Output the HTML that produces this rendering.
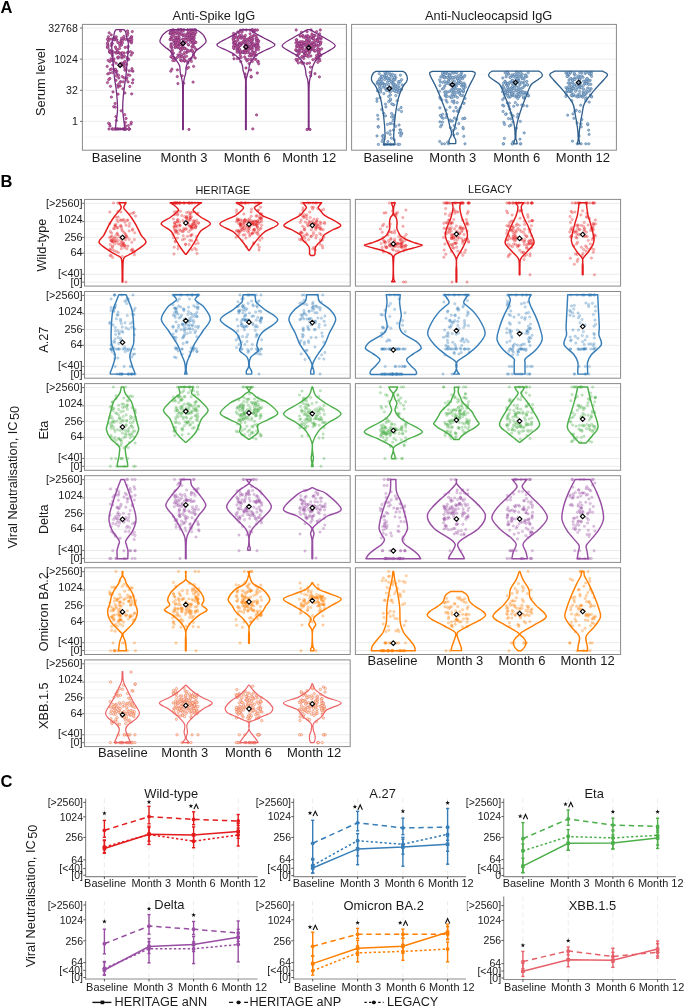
<!DOCTYPE html>
<html><head><meta charset="utf-8"><style>
html,body{margin:0;padding:0;background:#fff;width:685px;height:1008px;overflow:hidden;}
svg{display:block;font-family:"Liberation Sans", sans-serif;will-change:transform;}
</style></head><body>
<svg width="685" height="1008" viewBox="0 0 685 1008" font-family='"Liberation Sans", sans-serif'>
<rect width="685" height="1008" fill="#fff"/>
<text x="0.5" y="13.2" font-size="16.5" text-anchor="start" font-weight="bold" fill="#000" >A</text>
<text x="0.5" y="187" font-size="16.5" text-anchor="start" font-weight="bold" fill="#000" >B</text>
<text x="0.5" y="787.2" font-size="16.5" text-anchor="start" font-weight="bold" fill="#000" >C</text>
<line x1="82.4" y1="43.56" x2="346.4" y2="43.56" stroke="#f4f4f4" stroke-width="0.8" />
<line x1="82.4" y1="74.7" x2="346.4" y2="74.7" stroke="#f4f4f4" stroke-width="0.8" />
<line x1="82.4" y1="105.83" x2="346.4" y2="105.83" stroke="#f4f4f4" stroke-width="0.8" />
<line x1="82.4" y1="136.97" x2="346.4" y2="136.97" stroke="#f4f4f4" stroke-width="0.8" />
<line x1="82.4" y1="28" x2="346.4" y2="28" stroke="#ebebeb" stroke-width="1" />
<line x1="82.4" y1="59.13" x2="346.4" y2="59.13" stroke="#ebebeb" stroke-width="1" />
<line x1="82.4" y1="90.27" x2="346.4" y2="90.27" stroke="#ebebeb" stroke-width="1" />
<line x1="82.4" y1="121.4" x2="346.4" y2="121.4" stroke="#ebebeb" stroke-width="1" />
<text x="172.6" y="20.2" font-size="12.8" text-anchor="start" font-weight="normal" fill="#1a1a1a" >Anti-Spike IgG</text>
<line x1="351.6" y1="43.56" x2="616.4" y2="43.56" stroke="#f4f4f4" stroke-width="0.8" />
<line x1="351.6" y1="74.7" x2="616.4" y2="74.7" stroke="#f4f4f4" stroke-width="0.8" />
<line x1="351.6" y1="105.83" x2="616.4" y2="105.83" stroke="#f4f4f4" stroke-width="0.8" />
<line x1="351.6" y1="136.97" x2="616.4" y2="136.97" stroke="#f4f4f4" stroke-width="0.8" />
<line x1="351.6" y1="28" x2="616.4" y2="28" stroke="#ebebeb" stroke-width="1" />
<line x1="351.6" y1="59.13" x2="616.4" y2="59.13" stroke="#ebebeb" stroke-width="1" />
<line x1="351.6" y1="90.27" x2="616.4" y2="90.27" stroke="#ebebeb" stroke-width="1" />
<line x1="351.6" y1="121.4" x2="616.4" y2="121.4" stroke="#ebebeb" stroke-width="1" />
<text x="425" y="20.2" font-size="12.8" text-anchor="start" font-weight="normal" fill="#1a1a1a" >Anti-Nucleocapsid IgG</text>
<line x1="80.1" y1="28" x2="82.4" y2="28" stroke="#555" stroke-width="0.9" />
<text x="77.8" y="31.8" font-size="10.6" text-anchor="end" font-weight="normal" fill="#1a1a1a" >32768</text>
<line x1="80.1" y1="59.13" x2="82.4" y2="59.13" stroke="#555" stroke-width="0.9" />
<text x="77.8" y="62.93" font-size="10.6" text-anchor="end" font-weight="normal" fill="#1a1a1a" >1024</text>
<line x1="80.1" y1="90.27" x2="82.4" y2="90.27" stroke="#555" stroke-width="0.9" />
<text x="77.8" y="94.06" font-size="10.6" text-anchor="end" font-weight="normal" fill="#1a1a1a" >32</text>
<line x1="80.1" y1="121.4" x2="82.4" y2="121.4" stroke="#555" stroke-width="0.9" />
<text x="77.8" y="125.2" font-size="10.6" text-anchor="end" font-weight="normal" fill="#1a1a1a" >1</text>
<text x="0" y="0" transform="translate(45,82.1) rotate(-90)" font-size="12.85" text-anchor="middle" font-weight="normal" fill="#1a1a1a" >Serum level</text>
<text x="91.73" y="161.6" font-size="13.0" text-anchor="start" font-weight="normal" fill="#1a1a1a" >Baseline</text>
<text x="160.53" y="161.6" font-size="13.0" text-anchor="start" font-weight="normal" fill="#1a1a1a" >Month 3</text>
<text x="223.73" y="161.6" font-size="13.0" text-anchor="start" font-weight="normal" fill="#1a1a1a" >Month 6</text>
<text x="282.13" y="161.6" font-size="13.0" text-anchor="start" font-weight="normal" fill="#1a1a1a" >Month 12</text>
<text x="363.53" y="161.6" font-size="13.0" text-anchor="start" font-weight="normal" fill="#1a1a1a" >Baseline</text>
<text x="429.33" y="161.6" font-size="13.0" text-anchor="start" font-weight="normal" fill="#1a1a1a" >Month 3</text>
<text x="493.33" y="161.6" font-size="13.0" text-anchor="start" font-weight="normal" fill="#1a1a1a" >Month 6</text>
<text x="555.83" y="161.6" font-size="13.0" text-anchor="start" font-weight="normal" fill="#1a1a1a" >Month 12</text>
<g fill="#d66c8e" stroke="#7a2b82" stroke-width="0.7" fill-opacity="1" stroke-opacity="0.95"><circle cx="112.2" cy="129.0" r="1.15"/><circle cx="120.3" cy="129.0" r="1.15"/><circle cx="125.2" cy="129.0" r="1.15"/><circle cx="129.3" cy="129.0" r="1.15"/><circle cx="126.1" cy="129.0" r="1.15"/><circle cx="124.1" cy="129.0" r="1.15"/><circle cx="122.7" cy="129.0" r="1.15"/><circle cx="124.1" cy="129.0" r="1.15"/><circle cx="117.5" cy="129.0" r="1.15"/><circle cx="124.3" cy="129.0" r="1.15"/><circle cx="128.8" cy="129.0" r="1.15"/><circle cx="129.4" cy="129.0" r="1.15"/><circle cx="125.8" cy="129.0" r="1.15"/><circle cx="124.7" cy="129.0" r="1.15"/><circle cx="109.0" cy="129.0" r="1.15"/><circle cx="115.6" cy="129.0" r="1.15"/><circle cx="118.9" cy="129.0" r="1.15"/><circle cx="115.1" cy="129.0" r="1.15"/><circle cx="112.3" cy="129.0" r="1.15"/><circle cx="116.8" cy="129.0" r="1.15"/><circle cx="128.8" cy="129.0" r="1.15"/><circle cx="114.0" cy="129.0" r="1.15"/><circle cx="128.6" cy="59.2" r="1.15"/><circle cx="112.1" cy="50.9" r="1.15"/><circle cx="110.3" cy="69.6" r="1.15"/><circle cx="111.6" cy="60.3" r="1.15"/><circle cx="132.0" cy="68.7" r="1.15"/><circle cx="111.0" cy="58.8" r="1.15"/><circle cx="116.0" cy="80.3" r="1.15"/><circle cx="132.3" cy="31.6" r="1.15"/><circle cx="117.9" cy="42.5" r="1.15"/><circle cx="120.7" cy="81.6" r="1.15"/><circle cx="129.8" cy="86.5" r="1.15"/><circle cx="121.5" cy="45.1" r="1.15"/><circle cx="120.6" cy="43.0" r="1.15"/><circle cx="111.4" cy="97.1" r="1.15"/><circle cx="121.1" cy="40.5" r="1.15"/><circle cx="108.4" cy="41.0" r="1.15"/><circle cx="133.0" cy="79.8" r="1.15"/><circle cx="123.4" cy="63.7" r="1.15"/><circle cx="118.0" cy="52.8" r="1.15"/><circle cx="111.4" cy="69.0" r="1.15"/><circle cx="121.1" cy="41.4" r="1.15"/><circle cx="107.2" cy="66.4" r="1.15"/><circle cx="122.9" cy="64.7" r="1.15"/><circle cx="120.2" cy="85.9" r="1.15"/><circle cx="107.8" cy="47.0" r="1.15"/><circle cx="111.7" cy="53.1" r="1.15"/><circle cx="125.1" cy="47.4" r="1.15"/><circle cx="119.1" cy="52.7" r="1.15"/><circle cx="112.3" cy="43.7" r="1.15"/><circle cx="121.1" cy="53.1" r="1.15"/><circle cx="118.2" cy="85.9" r="1.15"/><circle cx="122.0" cy="55.5" r="1.15"/><circle cx="116.8" cy="74.1" r="1.15"/><circle cx="126.5" cy="79.6" r="1.15"/><circle cx="118.8" cy="78.0" r="1.15"/><circle cx="119.6" cy="48.5" r="1.15"/><circle cx="116.1" cy="48.6" r="1.15"/><circle cx="111.8" cy="43.2" r="1.15"/><circle cx="127.5" cy="35.3" r="1.15"/><circle cx="109.2" cy="32.8" r="1.15"/><circle cx="118.1" cy="87.2" r="1.15"/><circle cx="120.5" cy="31.0" r="1.15"/><circle cx="109.7" cy="52.4" r="1.15"/><circle cx="121.9" cy="40.4" r="1.15"/><circle cx="109.5" cy="49.9" r="1.15"/><circle cx="124.2" cy="66.9" r="1.15"/><circle cx="127.3" cy="58.7" r="1.15"/><circle cx="122.4" cy="40.6" r="1.15"/><circle cx="117.9" cy="84.7" r="1.15"/><circle cx="127.9" cy="33.2" r="1.15"/><circle cx="108.6" cy="38.8" r="1.15"/><circle cx="131.5" cy="36.7" r="1.15"/><circle cx="109.6" cy="51.6" r="1.15"/><circle cx="112.8" cy="64.9" r="1.15"/><circle cx="111.3" cy="45.5" r="1.15"/><circle cx="132.9" cy="71.2" r="1.15"/><circle cx="129.2" cy="41.2" r="1.15"/><circle cx="127.5" cy="31.0" r="1.15"/><circle cx="113.2" cy="38.6" r="1.15"/><circle cx="124.3" cy="55.9" r="1.15"/><circle cx="130.9" cy="37.6" r="1.15"/><circle cx="118.1" cy="58.0" r="1.15"/><circle cx="115.0" cy="37.8" r="1.15"/><circle cx="126.0" cy="69.6" r="1.15"/><circle cx="107.8" cy="44.1" r="1.15"/><circle cx="121.7" cy="57.8" r="1.15"/><circle cx="127.7" cy="47.5" r="1.15"/><circle cx="107.5" cy="47.6" r="1.15"/><circle cx="115.1" cy="39.0" r="1.15"/><circle cx="117.3" cy="50.0" r="1.15"/><circle cx="123.9" cy="77.8" r="1.15"/><circle cx="124.2" cy="65.1" r="1.15"/><circle cx="118.1" cy="94.2" r="1.15"/><circle cx="117.3" cy="52.0" r="1.15"/><circle cx="123.8" cy="36.5" r="1.15"/><circle cx="123.2" cy="81.8" r="1.15"/><circle cx="107.5" cy="82.6" r="1.15"/><circle cx="130.8" cy="41.2" r="1.15"/><circle cx="123.4" cy="57.1" r="1.15"/><circle cx="113.5" cy="52.1" r="1.15"/><circle cx="116.1" cy="72.0" r="1.15"/><circle cx="127.1" cy="57.5" r="1.15"/><circle cx="121.9" cy="56.2" r="1.15"/><circle cx="107.4" cy="39.3" r="1.15"/><circle cx="132.5" cy="82.9" r="1.15"/><circle cx="119.9" cy="45.8" r="1.15"/><circle cx="108.3" cy="36.8" r="1.15"/><circle cx="124.2" cy="38.8" r="1.15"/><circle cx="110.2" cy="52.0" r="1.15"/><circle cx="113.2" cy="60.7" r="1.15"/><circle cx="114.1" cy="39.9" r="1.15"/><circle cx="128.1" cy="46.3" r="1.15"/><circle cx="116.9" cy="39.8" r="1.15"/><circle cx="131.9" cy="70.6" r="1.15"/><circle cx="126.5" cy="64.4" r="1.15"/><circle cx="128.1" cy="81.9" r="1.15"/><circle cx="112.2" cy="53.9" r="1.15"/><circle cx="111.3" cy="53.2" r="1.15"/><circle cx="121.6" cy="63.1" r="1.15"/><circle cx="110.9" cy="39.2" r="1.15"/><circle cx="124.9" cy="93.0" r="1.15"/><circle cx="112.4" cy="55.8" r="1.15"/><circle cx="128.0" cy="74.8" r="1.15"/><circle cx="122.4" cy="42.9" r="1.15"/><circle cx="113.8" cy="61.4" r="1.15"/><circle cx="128.1" cy="39.3" r="1.15"/><circle cx="128.0" cy="59.9" r="1.15"/><circle cx="116.8" cy="71.2" r="1.15"/><circle cx="130.5" cy="51.7" r="1.15"/><circle cx="109.8" cy="61.6" r="1.15"/><circle cx="116.2" cy="63.2" r="1.15"/><circle cx="131.7" cy="93.9" r="1.15"/><circle cx="110.5" cy="86.3" r="1.15"/><circle cx="131.7" cy="37.1" r="1.15"/><circle cx="122.9" cy="88.9" r="1.15"/><circle cx="107.8" cy="45.7" r="1.15"/><circle cx="118.6" cy="75.3" r="1.15"/><circle cx="111.2" cy="34.9" r="1.15"/><circle cx="124.2" cy="53.0" r="1.15"/><circle cx="116.4" cy="40.1" r="1.15"/><circle cx="112.4" cy="72.6" r="1.15"/><circle cx="115.5" cy="37.3" r="1.15"/><circle cx="107.7" cy="46.8" r="1.15"/><circle cx="130.5" cy="38.5" r="1.15"/><circle cx="107.4" cy="43.2" r="1.15"/><circle cx="115.7" cy="71.2" r="1.15"/><circle cx="117.7" cy="57.3" r="1.15"/><circle cx="131.4" cy="42.9" r="1.15"/><circle cx="124.2" cy="62.3" r="1.15"/><circle cx="108.2" cy="60.4" r="1.15"/><circle cx="131.6" cy="41.6" r="1.15"/><circle cx="115.4" cy="69.7" r="1.15"/><circle cx="114.0" cy="58.9" r="1.15"/><circle cx="127.5" cy="52.6" r="1.15"/><circle cx="114.1" cy="70.1" r="1.15"/><circle cx="116.1" cy="52.4" r="1.15"/><circle cx="109.8" cy="78.5" r="1.15"/><circle cx="124.9" cy="70.2" r="1.15"/><circle cx="115.4" cy="47.0" r="1.15"/><circle cx="116.3" cy="36.8" r="1.15"/><circle cx="126.9" cy="77.8" r="1.15"/><circle cx="122.3" cy="76.6" r="1.15"/><circle cx="107.8" cy="73.9" r="1.15"/><circle cx="129.7" cy="75.3" r="1.15"/><circle cx="128.2" cy="52.2" r="1.15"/><circle cx="113.0" cy="91.9" r="1.15"/><circle cx="129.2" cy="70.8" r="1.15"/><circle cx="131.8" cy="39.5" r="1.15"/><circle cx="109.7" cy="73.0" r="1.15"/><circle cx="125.6" cy="39.4" r="1.15"/><circle cx="132.5" cy="53.0" r="1.15"/><circle cx="116.2" cy="53.2" r="1.15"/><circle cx="118.7" cy="57.0" r="1.15"/><circle cx="121.6" cy="38.2" r="1.15"/><circle cx="120.3" cy="53.8" r="1.15"/><circle cx="119.8" cy="82.6" r="1.15"/><circle cx="116.6" cy="76.1" r="1.15"/><circle cx="108.7" cy="79.6" r="1.15"/><circle cx="124.8" cy="61.4" r="1.15"/><circle cx="115.4" cy="69.4" r="1.15"/><circle cx="122.4" cy="52.7" r="1.15"/><circle cx="125.2" cy="68.8" r="1.15"/><circle cx="130.1" cy="39.6" r="1.15"/><circle cx="119.3" cy="43.6" r="1.15"/><circle cx="131.1" cy="55.1" r="1.15"/><circle cx="126.1" cy="118.5" r="1.15"/><circle cx="128.4" cy="125.6" r="1.15"/><circle cx="131.0" cy="124.0" r="1.15"/><circle cx="121.2" cy="110.8" r="1.15"/><circle cx="115.9" cy="116.7" r="1.15"/><circle cx="115.2" cy="107.1" r="1.15"/><circle cx="113.7" cy="106.7" r="1.15"/><circle cx="125.3" cy="122.4" r="1.15"/><circle cx="125.6" cy="125.8" r="1.15"/><circle cx="115.1" cy="103.5" r="1.15"/><circle cx="109.5" cy="123.9" r="1.15"/><circle cx="116.4" cy="120.5" r="1.15"/><circle cx="110.0" cy="126.0" r="1.15"/><circle cx="124.7" cy="114.7" r="1.15"/><circle cx="131.3" cy="122.3" r="1.15"/><circle cx="108.6" cy="123.3" r="1.15"/></g>
<path d="M116.2,29.7 L124,29.7 C124.27,30.08 125.15,30.7 125.6,32 C126.05,33.3 126.22,35.3 126.7,37.5 C127.18,39.7 128.42,41.33 128.5,45.2 C128.58,49.07 127.63,55.55 127.2,60.7 C126.77,65.85 126.5,70.73 125.9,76.1 C125.3,81.47 124.13,87.3 123.6,92.9 C123.07,98.5 122.58,104.55 122.7,109.7 C122.82,114.85 123.98,120.58 124.3,123.8 C124.62,127.02 124.55,128.13 124.6,129 L115.6,129 C115.65,128.13 115.58,127.02 115.9,123.8 C116.22,120.58 117.38,114.85 117.5,109.7 C117.62,104.55 117.13,98.5 116.6,92.9 C116.07,87.3 114.9,81.47 114.3,76.1 C113.7,70.73 113.43,65.85 113,60.7 C112.57,55.55 111.62,49.07 111.7,45.2 C111.78,41.33 113.02,39.7 113.5,37.5 C113.98,35.3 114.15,33.3 114.6,32 C115.05,30.7 115.93,30.08 116.2,29.7 Z" fill="none" stroke="#7b2d80" stroke-width="1.3" stroke-linejoin="round"/>
<path d="M120.1,62.9 L122.4,65.2 L120.1,67.5 L117.8,65.2 Z" fill="#b06aa8" stroke="#000" stroke-width="1.15"/>
<g fill="#d66c8e" stroke="#7a2b82" stroke-width="0.7" fill-opacity="1" stroke-opacity="0.95"><circle cx="193.0" cy="30.0" r="1.15"/><circle cx="180.4" cy="30.0" r="1.15"/><circle cx="180.1" cy="30.0" r="1.15"/><circle cx="195.5" cy="30.0" r="1.15"/><circle cx="178.2" cy="30.0" r="1.15"/><circle cx="173.5" cy="30.0" r="1.15"/><circle cx="192.2" cy="30.0" r="1.15"/><circle cx="187.9" cy="30.0" r="1.15"/><circle cx="178.3" cy="30.0" r="1.15"/><circle cx="191.0" cy="30.0" r="1.15"/><circle cx="187.6" cy="30.0" r="1.15"/><circle cx="181.8" cy="30.0" r="1.15"/><circle cx="183.8" cy="30.0" r="1.15"/><circle cx="194.7" cy="30.0" r="1.15"/><circle cx="184.0" cy="30.0" r="1.15"/><circle cx="172.7" cy="30.0" r="1.15"/><circle cx="181.4" cy="30.0" r="1.15"/><circle cx="177.9" cy="30.0" r="1.15"/><circle cx="194.9" cy="30.0" r="1.15"/><circle cx="181.4" cy="30.0" r="1.15"/><circle cx="180.4" cy="30.0" r="1.15"/><circle cx="189.9" cy="30.0" r="1.15"/><circle cx="181.0" cy="60.0" r="1.15"/><circle cx="171.8" cy="31.4" r="1.15"/><circle cx="180.3" cy="48.5" r="1.15"/><circle cx="179.7" cy="39.7" r="1.15"/><circle cx="179.0" cy="44.5" r="1.15"/><circle cx="188.0" cy="33.1" r="1.15"/><circle cx="170.5" cy="31.1" r="1.15"/><circle cx="183.9" cy="57.8" r="1.15"/><circle cx="190.6" cy="33.8" r="1.15"/><circle cx="191.0" cy="58.7" r="1.15"/><circle cx="177.0" cy="33.7" r="1.15"/><circle cx="180.0" cy="52.3" r="1.15"/><circle cx="191.8" cy="46.6" r="1.15"/><circle cx="171.4" cy="57.2" r="1.15"/><circle cx="189.4" cy="33.9" r="1.15"/><circle cx="170.0" cy="33.6" r="1.15"/><circle cx="186.8" cy="52.3" r="1.15"/><circle cx="179.9" cy="33.3" r="1.15"/><circle cx="191.3" cy="39.1" r="1.15"/><circle cx="193.9" cy="37.4" r="1.15"/><circle cx="178.1" cy="44.1" r="1.15"/><circle cx="190.9" cy="38.6" r="1.15"/><circle cx="193.9" cy="38.9" r="1.15"/><circle cx="177.2" cy="57.4" r="1.15"/><circle cx="191.1" cy="39.4" r="1.15"/><circle cx="172.3" cy="50.9" r="1.15"/><circle cx="170.5" cy="39.0" r="1.15"/><circle cx="177.5" cy="47.5" r="1.15"/><circle cx="174.4" cy="41.4" r="1.15"/><circle cx="189.6" cy="35.9" r="1.15"/><circle cx="185.2" cy="42.2" r="1.15"/><circle cx="179.3" cy="44.7" r="1.15"/><circle cx="192.7" cy="31.8" r="1.15"/><circle cx="177.9" cy="46.0" r="1.15"/><circle cx="189.1" cy="37.0" r="1.15"/><circle cx="173.3" cy="40.2" r="1.15"/><circle cx="192.8" cy="47.0" r="1.15"/><circle cx="172.1" cy="49.6" r="1.15"/><circle cx="178.0" cy="40.2" r="1.15"/><circle cx="182.3" cy="45.3" r="1.15"/><circle cx="187.5" cy="35.0" r="1.15"/><circle cx="171.4" cy="43.6" r="1.15"/><circle cx="180.7" cy="60.4" r="1.15"/><circle cx="171.1" cy="44.6" r="1.15"/><circle cx="186.6" cy="56.3" r="1.15"/><circle cx="191.8" cy="40.7" r="1.15"/><circle cx="176.9" cy="37.3" r="1.15"/><circle cx="187.4" cy="49.9" r="1.15"/><circle cx="187.2" cy="34.0" r="1.15"/><circle cx="189.3" cy="59.4" r="1.15"/><circle cx="186.9" cy="61.3" r="1.15"/><circle cx="184.5" cy="61.2" r="1.15"/><circle cx="175.5" cy="58.8" r="1.15"/><circle cx="188.7" cy="39.9" r="1.15"/><circle cx="184.4" cy="35.5" r="1.15"/><circle cx="184.3" cy="54.3" r="1.15"/><circle cx="174.5" cy="31.7" r="1.15"/><circle cx="176.6" cy="39.5" r="1.15"/><circle cx="183.0" cy="39.1" r="1.15"/><circle cx="174.5" cy="60.6" r="1.15"/><circle cx="187.5" cy="35.6" r="1.15"/><circle cx="175.0" cy="47.5" r="1.15"/><circle cx="181.5" cy="50.0" r="1.15"/><circle cx="182.5" cy="31.4" r="1.15"/><circle cx="174.9" cy="33.5" r="1.15"/><circle cx="187.1" cy="52.2" r="1.15"/><circle cx="187.3" cy="39.1" r="1.15"/><circle cx="171.0" cy="56.6" r="1.15"/><circle cx="185.3" cy="48.5" r="1.15"/><circle cx="178.2" cy="46.4" r="1.15"/><circle cx="171.2" cy="36.8" r="1.15"/><circle cx="195.2" cy="58.0" r="1.15"/><circle cx="172.6" cy="32.5" r="1.15"/><circle cx="175.7" cy="46.9" r="1.15"/><circle cx="180.2" cy="42.3" r="1.15"/><circle cx="182.8" cy="35.3" r="1.15"/><circle cx="194.8" cy="42.0" r="1.15"/><circle cx="174.2" cy="42.2" r="1.15"/><circle cx="173.8" cy="57.7" r="1.15"/><circle cx="184.6" cy="60.6" r="1.15"/><circle cx="179.7" cy="43.8" r="1.15"/><circle cx="172.8" cy="57.6" r="1.15"/><circle cx="180.7" cy="44.4" r="1.15"/><circle cx="192.2" cy="39.6" r="1.15"/><circle cx="189.3" cy="51.1" r="1.15"/><circle cx="194.1" cy="42.9" r="1.15"/><circle cx="187.7" cy="37.6" r="1.15"/><circle cx="181.7" cy="60.9" r="1.15"/><circle cx="184.3" cy="47.9" r="1.15"/><circle cx="195.4" cy="42.5" r="1.15"/><circle cx="175.3" cy="44.1" r="1.15"/><circle cx="175.8" cy="38.2" r="1.15"/><circle cx="193.1" cy="44.1" r="1.15"/><circle cx="191.4" cy="61.4" r="1.15"/><circle cx="175.6" cy="42.1" r="1.15"/><circle cx="178.0" cy="54.9" r="1.15"/><circle cx="195.9" cy="42.3" r="1.15"/><circle cx="177.0" cy="40.9" r="1.15"/><circle cx="178.7" cy="37.0" r="1.15"/><circle cx="191.0" cy="32.3" r="1.15"/><circle cx="177.3" cy="42.6" r="1.15"/><circle cx="175.2" cy="44.3" r="1.15"/><circle cx="194.4" cy="47.2" r="1.15"/><circle cx="192.9" cy="33.6" r="1.15"/><circle cx="180.0" cy="55.5" r="1.15"/><circle cx="194.7" cy="35.3" r="1.15"/><circle cx="174.6" cy="36.7" r="1.15"/><circle cx="174.8" cy="45.1" r="1.15"/><circle cx="170.1" cy="39.7" r="1.15"/><circle cx="175.7" cy="42.4" r="1.15"/><circle cx="183.4" cy="44.4" r="1.15"/><circle cx="178.6" cy="37.6" r="1.15"/><circle cx="188.6" cy="45.0" r="1.15"/><circle cx="183.0" cy="35.6" r="1.15"/><circle cx="178.8" cy="33.1" r="1.15"/><circle cx="175.3" cy="31.3" r="1.15"/><circle cx="184.4" cy="34.3" r="1.15"/><circle cx="192.8" cy="43.1" r="1.15"/><circle cx="193.2" cy="42.3" r="1.15"/><circle cx="182.6" cy="39.3" r="1.15"/><circle cx="190.5" cy="42.2" r="1.15"/><circle cx="188.3" cy="39.8" r="1.15"/><circle cx="176.4" cy="39.5" r="1.15"/><circle cx="171.8" cy="47.2" r="1.15"/><circle cx="177.8" cy="39.2" r="1.15"/><circle cx="194.2" cy="41.2" r="1.15"/><circle cx="193.5" cy="54.7" r="1.15"/><circle cx="182.2" cy="45.9" r="1.15"/><circle cx="195.0" cy="33.6" r="1.15"/><circle cx="176.0" cy="44.7" r="1.15"/><circle cx="185.4" cy="38.7" r="1.15"/><circle cx="171.9" cy="33.3" r="1.15"/><circle cx="186.4" cy="41.9" r="1.15"/><circle cx="189.1" cy="34.8" r="1.15"/><circle cx="181.9" cy="56.7" r="1.15"/><circle cx="182.0" cy="47.9" r="1.15"/><circle cx="171.0" cy="45.9" r="1.15"/><circle cx="192.5" cy="35.6" r="1.15"/><circle cx="176.1" cy="37.4" r="1.15"/><circle cx="173.1" cy="34.6" r="1.15"/><circle cx="175.9" cy="44.2" r="1.15"/><circle cx="182.4" cy="48.8" r="1.15"/><circle cx="193.5" cy="56.4" r="1.15"/><circle cx="170.5" cy="33.4" r="1.15"/><circle cx="184.3" cy="57.5" r="1.15"/><circle cx="195.9" cy="32.4" r="1.15"/><circle cx="173.9" cy="40.4" r="1.15"/><circle cx="177.0" cy="32.1" r="1.15"/><circle cx="173.5" cy="53.2" r="1.15"/><circle cx="176.2" cy="40.8" r="1.15"/><circle cx="179.5" cy="34.9" r="1.15"/><circle cx="170.8" cy="32.9" r="1.15"/><circle cx="171.0" cy="47.1" r="1.15"/><circle cx="188.5" cy="31.7" r="1.15"/><circle cx="172.2" cy="36.6" r="1.15"/><circle cx="174.9" cy="45.4" r="1.15"/><circle cx="172.0" cy="39.3" r="1.15"/><circle cx="192.6" cy="39.5" r="1.15"/><circle cx="178.6" cy="40.0" r="1.15"/><circle cx="191.8" cy="37.0" r="1.15"/><circle cx="184.4" cy="48.7" r="1.15"/><circle cx="179.0" cy="37.6" r="1.15"/><circle cx="193.9" cy="38.1" r="1.15"/><circle cx="179.5" cy="47.9" r="1.15"/><circle cx="192.5" cy="40.2" r="1.15"/><circle cx="193.1" cy="46.0" r="1.15"/><circle cx="191.4" cy="49.8" r="1.15"/><circle cx="176.7" cy="44.8" r="1.15"/><circle cx="177.5" cy="37.1" r="1.15"/><circle cx="181.3" cy="34.0" r="1.15"/><circle cx="184.1" cy="60.4" r="1.15"/><circle cx="188.1" cy="44.6" r="1.15"/><circle cx="192.1" cy="40.4" r="1.15"/><circle cx="181.8" cy="54.6" r="1.15"/><circle cx="178.2" cy="40.9" r="1.15"/><circle cx="193.6" cy="52.7" r="1.15"/><circle cx="191.3" cy="51.1" r="1.15"/><circle cx="172.3" cy="54.0" r="1.15"/><circle cx="192.6" cy="50.8" r="1.15"/><circle cx="191.9" cy="35.6" r="1.15"/><circle cx="186.0" cy="37.4" r="1.15"/><circle cx="183.8" cy="39.8" r="1.15"/><circle cx="177.4" cy="43.2" r="1.15"/><circle cx="192.9" cy="34.1" r="1.15"/><circle cx="180.4" cy="49.3" r="1.15"/><circle cx="195.8" cy="49.1" r="1.15"/><circle cx="193.2" cy="35.6" r="1.15"/><circle cx="184.6" cy="52.3" r="1.15"/><circle cx="171.0" cy="32.9" r="1.15"/><circle cx="179.7" cy="57.2" r="1.15"/><circle cx="171.9" cy="69.2" r="1.15"/><circle cx="184.8" cy="60.3" r="1.15"/><circle cx="177.4" cy="69.9" r="1.15"/><circle cx="188.6" cy="67.4" r="1.15"/><circle cx="172.8" cy="60.6" r="1.15"/><circle cx="170.8" cy="71.2" r="1.15"/><circle cx="187.9" cy="63.0" r="1.15"/><circle cx="193.1" cy="82.1" r="1.15"/><circle cx="187.1" cy="68.4" r="1.15"/><circle cx="193.6" cy="66.4" r="1.15"/><circle cx="177.3" cy="76.6" r="1.15"/><circle cx="177.9" cy="83.6" r="1.15"/><circle cx="182.1" cy="75.8" r="1.15"/><circle cx="183.7" cy="83.3" r="1.15"/><circle cx="189.0" cy="129.5" r="1.15"/></g>
<path d="M170.5,29.6 L195.5,29.6 C196.25,30 198.58,30.93 200,32 C201.42,33.07 203,34.35 204,36 C205,37.65 206.5,40.07 206,41.9 C205.5,43.73 202.7,45.48 201,47 C199.3,48.52 197.43,49.13 195.8,51 C194.17,52.87 192.75,55.78 191.2,58.2 C189.65,60.62 187.42,63.07 186.5,65.5 C185.58,67.93 186.12,70.38 185.7,72.8 C185.28,75.22 184.39,77.47 184,80 C183.61,82.53 183.46,79.75 183.35,88 C183.24,96.25 183.35,122.58 183.35,129.5 L182.65,129.5 C182.65,122.58 182.76,96.25 182.65,88 C182.54,79.75 182.39,82.53 182,80 C181.61,77.47 180.72,75.22 180.3,72.8 C179.88,70.38 180.42,67.93 179.5,65.5 C178.58,63.07 176.35,60.62 174.8,58.2 C173.25,55.78 171.83,52.87 170.2,51 C168.57,49.13 166.7,48.52 165,47 C163.3,45.48 160.5,43.73 160,41.9 C159.5,40.07 161,37.65 162,36 C163,34.35 164.58,33.07 166,32 C167.42,30.93 169.75,30 170.5,29.6 Z" fill="none" stroke="#7b2d80" stroke-width="1.3" stroke-linejoin="round"/>
<path d="M183,41.1 L185.3,43.4 L183,45.7 L180.7,43.4 Z" fill="#b06aa8" stroke="#000" stroke-width="1.15"/>
<g fill="#d66c8e" stroke="#7a2b82" stroke-width="0.7" fill-opacity="1" stroke-opacity="0.95"><circle cx="255.1" cy="30.0" r="1.15"/><circle cx="252.0" cy="30.0" r="1.15"/><circle cx="257.4" cy="30.0" r="1.15"/><circle cx="243.2" cy="30.0" r="1.15"/><circle cx="252.5" cy="30.0" r="1.15"/><circle cx="252.8" cy="30.0" r="1.15"/><circle cx="252.3" cy="30.0" r="1.15"/><circle cx="246.3" cy="30.0" r="1.15"/><circle cx="250.6" cy="54.5" r="1.15"/><circle cx="234.8" cy="42.8" r="1.15"/><circle cx="235.7" cy="44.9" r="1.15"/><circle cx="244.5" cy="41.3" r="1.15"/><circle cx="255.0" cy="31.1" r="1.15"/><circle cx="233.4" cy="55.0" r="1.15"/><circle cx="239.2" cy="58.2" r="1.15"/><circle cx="256.8" cy="44.0" r="1.15"/><circle cx="240.4" cy="45.2" r="1.15"/><circle cx="257.9" cy="44.4" r="1.15"/><circle cx="238.1" cy="45.8" r="1.15"/><circle cx="251.1" cy="56.0" r="1.15"/><circle cx="252.2" cy="40.5" r="1.15"/><circle cx="257.1" cy="39.4" r="1.15"/><circle cx="245.0" cy="53.0" r="1.15"/><circle cx="246.4" cy="46.9" r="1.15"/><circle cx="254.8" cy="45.5" r="1.15"/><circle cx="235.2" cy="46.1" r="1.15"/><circle cx="258.5" cy="49.6" r="1.15"/><circle cx="250.0" cy="37.5" r="1.15"/><circle cx="235.2" cy="34.3" r="1.15"/><circle cx="250.1" cy="33.8" r="1.15"/><circle cx="237.8" cy="31.9" r="1.15"/><circle cx="252.3" cy="54.9" r="1.15"/><circle cx="239.5" cy="35.6" r="1.15"/><circle cx="256.5" cy="40.3" r="1.15"/><circle cx="253.2" cy="36.0" r="1.15"/><circle cx="257.7" cy="45.8" r="1.15"/><circle cx="243.2" cy="52.3" r="1.15"/><circle cx="246.1" cy="46.1" r="1.15"/><circle cx="239.2" cy="43.9" r="1.15"/><circle cx="247.5" cy="47.8" r="1.15"/><circle cx="233.9" cy="36.3" r="1.15"/><circle cx="242.1" cy="43.5" r="1.15"/><circle cx="245.1" cy="51.4" r="1.15"/><circle cx="244.1" cy="36.9" r="1.15"/><circle cx="238.8" cy="50.4" r="1.15"/><circle cx="238.4" cy="48.3" r="1.15"/><circle cx="245.6" cy="41.0" r="1.15"/><circle cx="236.8" cy="46.4" r="1.15"/><circle cx="240.7" cy="61.6" r="1.15"/><circle cx="233.4" cy="36.8" r="1.15"/><circle cx="244.0" cy="37.7" r="1.15"/><circle cx="255.9" cy="45.8" r="1.15"/><circle cx="256.5" cy="48.7" r="1.15"/><circle cx="245.3" cy="44.2" r="1.15"/><circle cx="252.3" cy="51.2" r="1.15"/><circle cx="251.0" cy="42.0" r="1.15"/><circle cx="258.2" cy="61.4" r="1.15"/><circle cx="248.2" cy="38.8" r="1.15"/><circle cx="243.6" cy="52.2" r="1.15"/><circle cx="252.5" cy="48.6" r="1.15"/><circle cx="244.6" cy="42.6" r="1.15"/><circle cx="248.8" cy="40.2" r="1.15"/><circle cx="239.4" cy="43.0" r="1.15"/><circle cx="253.5" cy="45.6" r="1.15"/><circle cx="249.3" cy="39.8" r="1.15"/><circle cx="253.4" cy="32.0" r="1.15"/><circle cx="234.3" cy="38.4" r="1.15"/><circle cx="234.0" cy="48.6" r="1.15"/><circle cx="233.7" cy="46.5" r="1.15"/><circle cx="248.7" cy="46.2" r="1.15"/><circle cx="239.3" cy="52.4" r="1.15"/><circle cx="243.5" cy="41.6" r="1.15"/><circle cx="255.9" cy="47.0" r="1.15"/><circle cx="243.2" cy="41.8" r="1.15"/><circle cx="252.2" cy="44.4" r="1.15"/><circle cx="241.9" cy="32.2" r="1.15"/><circle cx="257.5" cy="40.2" r="1.15"/><circle cx="244.1" cy="39.6" r="1.15"/><circle cx="246.6" cy="40.7" r="1.15"/><circle cx="252.2" cy="44.1" r="1.15"/><circle cx="240.5" cy="53.1" r="1.15"/><circle cx="240.3" cy="52.1" r="1.15"/><circle cx="233.6" cy="42.4" r="1.15"/><circle cx="233.0" cy="38.8" r="1.15"/><circle cx="239.3" cy="44.9" r="1.15"/><circle cx="249.3" cy="52.8" r="1.15"/><circle cx="240.2" cy="55.3" r="1.15"/><circle cx="257.7" cy="61.8" r="1.15"/><circle cx="240.3" cy="44.4" r="1.15"/><circle cx="237.1" cy="45.1" r="1.15"/><circle cx="237.4" cy="58.6" r="1.15"/><circle cx="241.0" cy="37.2" r="1.15"/><circle cx="240.7" cy="45.1" r="1.15"/><circle cx="250.0" cy="30.2" r="1.15"/><circle cx="233.6" cy="47.8" r="1.15"/><circle cx="251.1" cy="54.3" r="1.15"/><circle cx="235.4" cy="43.0" r="1.15"/><circle cx="257.3" cy="41.2" r="1.15"/><circle cx="237.1" cy="49.7" r="1.15"/><circle cx="234.5" cy="41.6" r="1.15"/><circle cx="244.4" cy="50.7" r="1.15"/><circle cx="251.9" cy="46.9" r="1.15"/><circle cx="252.1" cy="42.1" r="1.15"/><circle cx="249.7" cy="49.1" r="1.15"/><circle cx="244.7" cy="56.9" r="1.15"/><circle cx="239.1" cy="32.7" r="1.15"/><circle cx="245.8" cy="58.9" r="1.15"/><circle cx="234.0" cy="58.8" r="1.15"/><circle cx="233.8" cy="43.6" r="1.15"/><circle cx="249.7" cy="42.6" r="1.15"/><circle cx="247.3" cy="51.0" r="1.15"/><circle cx="258.8" cy="47.2" r="1.15"/><circle cx="235.2" cy="34.3" r="1.15"/><circle cx="255.9" cy="46.4" r="1.15"/><circle cx="250.2" cy="47.0" r="1.15"/><circle cx="234.5" cy="43.0" r="1.15"/><circle cx="238.5" cy="47.6" r="1.15"/><circle cx="256.3" cy="35.8" r="1.15"/><circle cx="257.0" cy="40.5" r="1.15"/><circle cx="251.7" cy="38.5" r="1.15"/><circle cx="241.2" cy="57.4" r="1.15"/><circle cx="247.5" cy="52.6" r="1.15"/><circle cx="241.5" cy="35.2" r="1.15"/><circle cx="254.7" cy="55.0" r="1.15"/><circle cx="252.9" cy="52.5" r="1.15"/><circle cx="256.3" cy="55.2" r="1.15"/><circle cx="258.7" cy="40.9" r="1.15"/><circle cx="253.2" cy="31.4" r="1.15"/><circle cx="240.9" cy="43.0" r="1.15"/><circle cx="252.8" cy="44.3" r="1.15"/><circle cx="241.1" cy="38.3" r="1.15"/><circle cx="237.1" cy="49.1" r="1.15"/><circle cx="242.9" cy="51.9" r="1.15"/><circle cx="256.2" cy="38.0" r="1.15"/><circle cx="247.0" cy="44.9" r="1.15"/><circle cx="242.0" cy="43.0" r="1.15"/><circle cx="237.2" cy="50.8" r="1.15"/><circle cx="235.0" cy="45.3" r="1.15"/><circle cx="253.8" cy="43.8" r="1.15"/><circle cx="249.0" cy="49.3" r="1.15"/><circle cx="234.9" cy="37.2" r="1.15"/><circle cx="246.9" cy="60.9" r="1.15"/><circle cx="257.0" cy="38.6" r="1.15"/><circle cx="243.4" cy="37.4" r="1.15"/><circle cx="254.7" cy="52.8" r="1.15"/><circle cx="237.3" cy="37.5" r="1.15"/><circle cx="251.5" cy="48.5" r="1.15"/><circle cx="254.2" cy="35.1" r="1.15"/><circle cx="245.4" cy="35.5" r="1.15"/><circle cx="245.5" cy="50.7" r="1.15"/><circle cx="239.7" cy="45.2" r="1.15"/><circle cx="258.2" cy="42.3" r="1.15"/><circle cx="239.0" cy="49.0" r="1.15"/><circle cx="250.8" cy="59.5" r="1.15"/><circle cx="239.1" cy="37.0" r="1.15"/><circle cx="256.4" cy="45.2" r="1.15"/><circle cx="238.3" cy="38.2" r="1.15"/><circle cx="251.2" cy="38.7" r="1.15"/><circle cx="249.3" cy="55.9" r="1.15"/><circle cx="256.9" cy="46.0" r="1.15"/><circle cx="237.8" cy="46.4" r="1.15"/><circle cx="233.5" cy="33.5" r="1.15"/><circle cx="236.5" cy="41.3" r="1.15"/><circle cx="246.0" cy="39.2" r="1.15"/><circle cx="247.9" cy="45.9" r="1.15"/><circle cx="251.5" cy="47.3" r="1.15"/><circle cx="253.1" cy="38.9" r="1.15"/><circle cx="251.0" cy="36.7" r="1.15"/><circle cx="256.7" cy="42.3" r="1.15"/><circle cx="248.2" cy="47.9" r="1.15"/><circle cx="253.2" cy="55.2" r="1.15"/><circle cx="245.4" cy="46.5" r="1.15"/><circle cx="233.6" cy="40.2" r="1.15"/><circle cx="235.1" cy="42.4" r="1.15"/><circle cx="243.9" cy="37.6" r="1.15"/><circle cx="240.3" cy="30.3" r="1.15"/><circle cx="248.3" cy="59.5" r="1.15"/><circle cx="255.9" cy="59.3" r="1.15"/><circle cx="245.1" cy="46.2" r="1.15"/><circle cx="242.6" cy="52.0" r="1.15"/><circle cx="249.9" cy="45.8" r="1.15"/><circle cx="250.7" cy="47.1" r="1.15"/><circle cx="247.3" cy="43.1" r="1.15"/><circle cx="246.0" cy="49.0" r="1.15"/><circle cx="236.8" cy="47.0" r="1.15"/><circle cx="237.9" cy="40.0" r="1.15"/><circle cx="237.1" cy="52.2" r="1.15"/><circle cx="240.7" cy="51.0" r="1.15"/><circle cx="251.3" cy="46.1" r="1.15"/><circle cx="235.6" cy="35.7" r="1.15"/><circle cx="239.4" cy="49.1" r="1.15"/><circle cx="248.6" cy="46.4" r="1.15"/><circle cx="234.0" cy="45.2" r="1.15"/><circle cx="245.2" cy="52.8" r="1.15"/><circle cx="251.0" cy="41.0" r="1.15"/><circle cx="255.2" cy="52.3" r="1.15"/><circle cx="256.1" cy="50.0" r="1.15"/><circle cx="254.4" cy="59.2" r="1.15"/><circle cx="258.7" cy="63.8" r="1.15"/><circle cx="250.6" cy="70.0" r="1.15"/><circle cx="245.5" cy="76.9" r="1.15"/><circle cx="257.3" cy="73.0" r="1.15"/><circle cx="249.1" cy="63.6" r="1.15"/><circle cx="246.0" cy="68.0" r="1.15"/><circle cx="252.3" cy="61.5" r="1.15"/><circle cx="245.1" cy="74.0" r="1.15"/><circle cx="251.2" cy="77.1" r="1.15"/><circle cx="251.1" cy="76.4" r="1.15"/><circle cx="256.6" cy="114.9" r="1.15"/><circle cx="252.8" cy="128.9" r="1.15"/></g>
<path d="M241.4,29.6 L250.4,29.6 C251.15,30.17 252.65,31.6 254.9,33 C257.15,34.4 260.57,36.03 263.9,38 C267.23,39.97 274.57,42.8 274.9,44.8 C275.23,46.8 268.73,48.47 265.9,50 C263.07,51.53 259.9,52.75 257.9,54 C255.9,55.25 255.03,56.28 253.9,57.5 C252.77,58.72 251.87,59.88 251.1,61.3 C250.33,62.72 249.68,64.55 249.3,66 C248.92,67.45 249.13,68.5 248.8,70 C248.47,71.5 247.73,73.33 247.3,75 C246.88,76.67 246.43,77.5 246.25,80 C246.07,82.5 246.25,81.75 246.25,90 C246.25,98.25 246.25,122.92 246.25,129.5 L245.55,129.5 C245.55,122.92 245.55,98.25 245.55,90 C245.55,81.75 245.73,82.5 245.55,80 C245.38,77.5 244.93,76.67 244.5,75 C244.07,73.33 243.33,71.5 243,70 C242.67,68.5 242.88,67.45 242.5,66 C242.12,64.55 241.47,62.72 240.7,61.3 C239.93,59.88 239.03,58.72 237.9,57.5 C236.77,56.28 235.9,55.25 233.9,54 C231.9,52.75 228.73,51.53 225.9,50 C223.07,48.47 216.57,46.8 216.9,44.8 C217.23,42.8 224.57,39.97 227.9,38 C231.23,36.03 234.65,34.4 236.9,33 C239.15,31.6 240.65,30.17 241.4,29.6 Z" fill="none" stroke="#7b2d80" stroke-width="1.3" stroke-linejoin="round"/>
<path d="M245.9,44.6 L248.2,46.9 L245.9,49.2 L243.6,46.9 Z" fill="#b06aa8" stroke="#000" stroke-width="1.15"/>
<g fill="#d66c8e" stroke="#7a2b82" stroke-width="0.7" fill-opacity="1" stroke-opacity="0.95"><circle cx="311.1" cy="30.0" r="1.15"/><circle cx="320.3" cy="30.0" r="1.15"/><circle cx="296.2" cy="30.0" r="1.15"/><circle cx="301.4" cy="46.9" r="1.15"/><circle cx="317.7" cy="41.5" r="1.15"/><circle cx="312.3" cy="44.2" r="1.15"/><circle cx="309.5" cy="45.2" r="1.15"/><circle cx="312.0" cy="42.7" r="1.15"/><circle cx="319.3" cy="49.2" r="1.15"/><circle cx="312.3" cy="38.0" r="1.15"/><circle cx="320.9" cy="39.0" r="1.15"/><circle cx="319.5" cy="38.0" r="1.15"/><circle cx="306.8" cy="45.3" r="1.15"/><circle cx="299.1" cy="51.0" r="1.15"/><circle cx="321.7" cy="48.8" r="1.15"/><circle cx="319.3" cy="54.7" r="1.15"/><circle cx="313.9" cy="50.5" r="1.15"/><circle cx="311.4" cy="49.9" r="1.15"/><circle cx="319.6" cy="42.1" r="1.15"/><circle cx="310.6" cy="49.2" r="1.15"/><circle cx="318.1" cy="55.6" r="1.15"/><circle cx="301.5" cy="46.7" r="1.15"/><circle cx="304.0" cy="56.1" r="1.15"/><circle cx="317.6" cy="48.6" r="1.15"/><circle cx="310.9" cy="44.8" r="1.15"/><circle cx="303.6" cy="43.8" r="1.15"/><circle cx="299.6" cy="42.9" r="1.15"/><circle cx="313.0" cy="38.8" r="1.15"/><circle cx="297.5" cy="46.0" r="1.15"/><circle cx="317.2" cy="39.1" r="1.15"/><circle cx="304.0" cy="55.5" r="1.15"/><circle cx="307.8" cy="35.7" r="1.15"/><circle cx="318.1" cy="51.1" r="1.15"/><circle cx="298.3" cy="43.1" r="1.15"/><circle cx="297.0" cy="60.9" r="1.15"/><circle cx="306.9" cy="37.3" r="1.15"/><circle cx="314.9" cy="51.2" r="1.15"/><circle cx="301.3" cy="43.8" r="1.15"/><circle cx="316.1" cy="58.0" r="1.15"/><circle cx="307.0" cy="40.2" r="1.15"/><circle cx="307.1" cy="63.6" r="1.15"/><circle cx="305.8" cy="51.4" r="1.15"/><circle cx="306.0" cy="36.0" r="1.15"/><circle cx="317.5" cy="40.4" r="1.15"/><circle cx="319.6" cy="53.8" r="1.15"/><circle cx="318.7" cy="38.0" r="1.15"/><circle cx="301.4" cy="44.8" r="1.15"/><circle cx="318.2" cy="56.5" r="1.15"/><circle cx="302.9" cy="36.3" r="1.15"/><circle cx="315.2" cy="45.1" r="1.15"/><circle cx="296.7" cy="46.9" r="1.15"/><circle cx="297.6" cy="51.3" r="1.15"/><circle cx="309.2" cy="46.8" r="1.15"/><circle cx="319.6" cy="33.8" r="1.15"/><circle cx="303.1" cy="51.9" r="1.15"/><circle cx="312.9" cy="38.8" r="1.15"/><circle cx="297.1" cy="41.6" r="1.15"/><circle cx="310.2" cy="44.6" r="1.15"/><circle cx="300.1" cy="45.8" r="1.15"/><circle cx="309.4" cy="41.1" r="1.15"/><circle cx="305.7" cy="37.5" r="1.15"/><circle cx="313.8" cy="44.4" r="1.15"/><circle cx="305.6" cy="44.2" r="1.15"/><circle cx="310.5" cy="48.3" r="1.15"/><circle cx="310.5" cy="49.5" r="1.15"/><circle cx="307.4" cy="50.2" r="1.15"/><circle cx="302.8" cy="35.5" r="1.15"/><circle cx="306.3" cy="41.0" r="1.15"/><circle cx="319.7" cy="44.8" r="1.15"/><circle cx="309.7" cy="43.5" r="1.15"/><circle cx="302.4" cy="43.5" r="1.15"/><circle cx="314.3" cy="43.0" r="1.15"/><circle cx="309.2" cy="37.6" r="1.15"/><circle cx="304.3" cy="51.5" r="1.15"/><circle cx="310.6" cy="37.2" r="1.15"/><circle cx="307.2" cy="50.1" r="1.15"/><circle cx="319.3" cy="58.6" r="1.15"/><circle cx="307.2" cy="46.4" r="1.15"/><circle cx="311.2" cy="45.7" r="1.15"/><circle cx="318.8" cy="59.0" r="1.15"/><circle cx="301.1" cy="43.7" r="1.15"/><circle cx="303.7" cy="44.1" r="1.15"/><circle cx="317.9" cy="41.8" r="1.15"/><circle cx="308.5" cy="41.1" r="1.15"/><circle cx="300.0" cy="36.0" r="1.15"/><circle cx="308.4" cy="54.7" r="1.15"/><circle cx="311.0" cy="47.9" r="1.15"/><circle cx="296.0" cy="59.4" r="1.15"/><circle cx="301.5" cy="32.3" r="1.15"/><circle cx="300.7" cy="35.9" r="1.15"/><circle cx="310.4" cy="49.0" r="1.15"/><circle cx="299.9" cy="47.6" r="1.15"/><circle cx="296.8" cy="45.6" r="1.15"/><circle cx="310.9" cy="56.0" r="1.15"/><circle cx="307.1" cy="31.7" r="1.15"/><circle cx="319.6" cy="50.5" r="1.15"/><circle cx="299.4" cy="42.9" r="1.15"/><circle cx="317.1" cy="40.2" r="1.15"/><circle cx="309.6" cy="52.6" r="1.15"/><circle cx="296.8" cy="50.9" r="1.15"/><circle cx="301.7" cy="49.0" r="1.15"/><circle cx="318.9" cy="54.3" r="1.15"/><circle cx="313.9" cy="36.4" r="1.15"/><circle cx="308.4" cy="36.7" r="1.15"/><circle cx="304.2" cy="52.2" r="1.15"/><circle cx="303.8" cy="58.5" r="1.15"/><circle cx="314.3" cy="41.6" r="1.15"/><circle cx="318.1" cy="36.1" r="1.15"/><circle cx="309.4" cy="40.1" r="1.15"/><circle cx="301.9" cy="57.0" r="1.15"/><circle cx="303.8" cy="51.5" r="1.15"/><circle cx="303.0" cy="48.2" r="1.15"/><circle cx="316.2" cy="57.9" r="1.15"/><circle cx="300.3" cy="52.0" r="1.15"/><circle cx="304.7" cy="53.1" r="1.15"/><circle cx="303.7" cy="45.7" r="1.15"/><circle cx="318.3" cy="52.7" r="1.15"/><circle cx="303.7" cy="63.1" r="1.15"/><circle cx="300.3" cy="44.0" r="1.15"/><circle cx="313.9" cy="44.5" r="1.15"/><circle cx="298.4" cy="54.2" r="1.15"/><circle cx="300.4" cy="41.7" r="1.15"/><circle cx="299.3" cy="50.1" r="1.15"/><circle cx="302.7" cy="43.5" r="1.15"/><circle cx="296.0" cy="50.3" r="1.15"/><circle cx="316.6" cy="55.4" r="1.15"/><circle cx="318.9" cy="51.2" r="1.15"/><circle cx="306.3" cy="55.7" r="1.15"/><circle cx="298.3" cy="59.1" r="1.15"/><circle cx="301.2" cy="62.0" r="1.15"/><circle cx="299.0" cy="53.9" r="1.15"/><circle cx="310.5" cy="47.6" r="1.15"/><circle cx="316.9" cy="45.1" r="1.15"/><circle cx="296.7" cy="39.7" r="1.15"/><circle cx="312.9" cy="59.7" r="1.15"/><circle cx="319.7" cy="53.9" r="1.15"/><circle cx="315.3" cy="50.6" r="1.15"/><circle cx="318.2" cy="49.7" r="1.15"/><circle cx="304.8" cy="52.3" r="1.15"/><circle cx="297.3" cy="45.3" r="1.15"/><circle cx="313.6" cy="38.6" r="1.15"/><circle cx="308.9" cy="51.8" r="1.15"/><circle cx="316.8" cy="45.1" r="1.15"/><circle cx="315.0" cy="35.4" r="1.15"/><circle cx="315.7" cy="59.5" r="1.15"/><circle cx="317.3" cy="40.2" r="1.15"/><circle cx="303.6" cy="42.1" r="1.15"/><circle cx="298.5" cy="47.1" r="1.15"/><circle cx="295.8" cy="49.7" r="1.15"/><circle cx="311.6" cy="47.3" r="1.15"/><circle cx="320.5" cy="44.0" r="1.15"/><circle cx="305.1" cy="42.4" r="1.15"/><circle cx="321.0" cy="42.1" r="1.15"/><circle cx="319.9" cy="60.7" r="1.15"/><circle cx="304.2" cy="50.7" r="1.15"/><circle cx="308.3" cy="56.8" r="1.15"/><circle cx="300.1" cy="48.7" r="1.15"/><circle cx="313.8" cy="35.4" r="1.15"/><circle cx="310.2" cy="49.1" r="1.15"/><circle cx="311.7" cy="36.4" r="1.15"/><circle cx="309.5" cy="63.1" r="1.15"/><circle cx="321.2" cy="37.7" r="1.15"/><circle cx="305.0" cy="52.6" r="1.15"/><circle cx="319.4" cy="54.5" r="1.15"/><circle cx="296.8" cy="55.4" r="1.15"/><circle cx="302.2" cy="41.7" r="1.15"/><circle cx="301.3" cy="43.5" r="1.15"/><circle cx="303.3" cy="37.2" r="1.15"/><circle cx="295.9" cy="42.8" r="1.15"/><circle cx="296.3" cy="39.8" r="1.15"/><circle cx="318.0" cy="46.2" r="1.15"/><circle cx="300.9" cy="46.3" r="1.15"/><circle cx="306.1" cy="50.4" r="1.15"/><circle cx="308.2" cy="48.0" r="1.15"/><circle cx="317.6" cy="59.0" r="1.15"/><circle cx="306.4" cy="55.4" r="1.15"/><circle cx="299.2" cy="43.6" r="1.15"/><circle cx="314.3" cy="46.9" r="1.15"/><circle cx="316.6" cy="31.7" r="1.15"/><circle cx="315.7" cy="40.5" r="1.15"/><circle cx="306.0" cy="53.6" r="1.15"/><circle cx="305.9" cy="38.5" r="1.15"/><circle cx="308.1" cy="43.0" r="1.15"/><circle cx="303.7" cy="51.8" r="1.15"/><circle cx="306.8" cy="46.4" r="1.15"/><circle cx="301.9" cy="56.7" r="1.15"/><circle cx="317.8" cy="41.0" r="1.15"/><circle cx="320.7" cy="55.5" r="1.15"/><circle cx="313.2" cy="48.0" r="1.15"/><circle cx="309.3" cy="51.1" r="1.15"/><circle cx="307.0" cy="45.0" r="1.15"/><circle cx="311.9" cy="34.0" r="1.15"/><circle cx="306.4" cy="48.6" r="1.15"/><circle cx="317.8" cy="62.3" r="1.15"/><circle cx="302.1" cy="63.3" r="1.15"/><circle cx="310.2" cy="72.4" r="1.15"/><circle cx="310.6" cy="75.8" r="1.15"/><circle cx="315.0" cy="73.7" r="1.15"/><circle cx="319.4" cy="76.9" r="1.15"/><circle cx="310.5" cy="67.1" r="1.15"/><circle cx="298.4" cy="62.9" r="1.15"/><circle cx="307.0" cy="129.5" r="1.15"/><circle cx="310.0" cy="129.5" r="1.15"/></g>
<path d="M307.5,29.6 L309.9,29.6 C310.87,30.17 313.23,31.6 315.7,33 C318.17,34.4 321.45,35.88 324.7,38 C327.95,40.12 334.87,43.37 335.2,45.7 C335.53,48.03 329.28,50.28 326.7,52 C324.12,53.72 321.62,54.45 319.7,56 C317.78,57.55 316.33,59.63 315.2,61.3 C314.07,62.97 313.45,64.55 312.9,66 C312.35,67.45 312.17,68.5 311.9,70 C311.63,71.5 311.67,73.33 311.3,75 C310.93,76.67 310.07,77.5 309.7,80 C309.32,82.5 309.16,81.75 309.05,90 C308.94,98.25 309.05,122.92 309.05,129.5 L308.35,129.5 C308.35,122.92 308.46,98.25 308.35,90 C308.24,81.75 308.07,82.5 307.7,80 C307.32,77.5 306.47,76.67 306.1,75 C305.73,73.33 305.77,71.5 305.5,70 C305.23,68.5 305.05,67.45 304.5,66 C303.95,64.55 303.33,62.97 302.2,61.3 C301.07,59.63 299.62,57.55 297.7,56 C295.78,54.45 293.28,53.72 290.7,52 C288.12,50.28 281.87,48.03 282.2,45.7 C282.53,43.37 289.45,40.12 292.7,38 C295.95,35.88 299.23,34.4 301.7,33 C304.17,31.6 306.53,30.17 307.5,29.6 Z" fill="none" stroke="#7b2d80" stroke-width="1.3" stroke-linejoin="round"/>
<path d="M308.7,45.4 L311,47.7 L308.7,50 L306.4,47.7 Z" fill="#b06aa8" stroke="#000" stroke-width="1.15"/>
<g fill="#a9c2dc" stroke="#4d79a5" stroke-width="0.65" fill-opacity="1" stroke-opacity="0.95"><circle cx="397.8" cy="144.4" r="1.15"/><circle cx="384.6" cy="144.4" r="1.15"/><circle cx="394.0" cy="144.4" r="1.15"/><circle cx="384.3" cy="144.4" r="1.15"/><circle cx="385.0" cy="144.4" r="1.15"/><circle cx="384.6" cy="144.4" r="1.15"/><circle cx="387.6" cy="144.4" r="1.15"/><circle cx="378.4" cy="144.4" r="1.15"/><circle cx="390.3" cy="144.4" r="1.15"/><circle cx="399.6" cy="144.4" r="1.15"/><circle cx="387.2" cy="144.4" r="1.15"/><circle cx="392.2" cy="144.4" r="1.15"/><circle cx="390.7" cy="144.4" r="1.15"/><circle cx="390.7" cy="144.4" r="1.15"/><circle cx="385.4" cy="78.7" r="1.15"/><circle cx="380.2" cy="78.8" r="1.15"/><circle cx="394.3" cy="84.4" r="1.15"/><circle cx="393.1" cy="79.1" r="1.15"/><circle cx="389.2" cy="87.4" r="1.15"/><circle cx="389.5" cy="73.5" r="1.15"/><circle cx="395.6" cy="88.5" r="1.15"/><circle cx="395.9" cy="77.6" r="1.15"/><circle cx="386.1" cy="89.9" r="1.15"/><circle cx="389.4" cy="78.7" r="1.15"/><circle cx="380.3" cy="88.8" r="1.15"/><circle cx="395.0" cy="79.8" r="1.15"/><circle cx="380.2" cy="79.5" r="1.15"/><circle cx="380.7" cy="79.9" r="1.15"/><circle cx="401.2" cy="89.2" r="1.15"/><circle cx="377.4" cy="83.2" r="1.15"/><circle cx="385.0" cy="76.8" r="1.15"/><circle cx="377.5" cy="90.9" r="1.15"/><circle cx="391.6" cy="87.7" r="1.15"/><circle cx="380.9" cy="83.0" r="1.15"/><circle cx="379.6" cy="78.9" r="1.15"/><circle cx="380.4" cy="84.5" r="1.15"/><circle cx="386.2" cy="89.3" r="1.15"/><circle cx="381.2" cy="76.0" r="1.15"/><circle cx="385.9" cy="73.3" r="1.15"/><circle cx="399.0" cy="86.9" r="1.15"/><circle cx="389.9" cy="78.9" r="1.15"/><circle cx="379.3" cy="88.4" r="1.15"/><circle cx="384.4" cy="84.8" r="1.15"/><circle cx="378.5" cy="83.2" r="1.15"/><circle cx="384.4" cy="84.4" r="1.15"/><circle cx="387.2" cy="72.2" r="1.15"/><circle cx="377.7" cy="84.0" r="1.15"/><circle cx="387.6" cy="89.8" r="1.15"/><circle cx="394.2" cy="87.6" r="1.15"/><circle cx="386.9" cy="88.7" r="1.15"/><circle cx="392.9" cy="90.4" r="1.15"/><circle cx="393.0" cy="81.9" r="1.15"/><circle cx="382.9" cy="83.6" r="1.15"/><circle cx="383.0" cy="87.2" r="1.15"/><circle cx="400.4" cy="75.2" r="1.15"/><circle cx="401.4" cy="89.5" r="1.15"/><circle cx="395.3" cy="91.5" r="1.15"/><circle cx="379.3" cy="73.6" r="1.15"/><circle cx="388.7" cy="84.5" r="1.15"/><circle cx="394.5" cy="90.3" r="1.15"/><circle cx="384.5" cy="84.8" r="1.15"/><circle cx="394.7" cy="86.3" r="1.15"/><circle cx="391.7" cy="82.1" r="1.15"/><circle cx="398.7" cy="83.5" r="1.15"/><circle cx="393.0" cy="84.9" r="1.15"/><circle cx="397.6" cy="89.4" r="1.15"/><circle cx="394.1" cy="79.2" r="1.15"/><circle cx="399.2" cy="90.2" r="1.15"/><circle cx="402.2" cy="84.9" r="1.15"/><circle cx="384.8" cy="75.1" r="1.15"/><circle cx="399.4" cy="81.5" r="1.15"/><circle cx="386.5" cy="84.6" r="1.15"/><circle cx="380.2" cy="85.8" r="1.15"/><circle cx="397.1" cy="89.3" r="1.15"/><circle cx="395.5" cy="85.0" r="1.15"/><circle cx="389.9" cy="80.8" r="1.15"/><circle cx="396.6" cy="91.4" r="1.15"/><circle cx="379.5" cy="86.0" r="1.15"/><circle cx="387.7" cy="89.7" r="1.15"/><circle cx="382.1" cy="82.9" r="1.15"/><circle cx="387.6" cy="78.7" r="1.15"/><circle cx="394.9" cy="86.9" r="1.15"/><circle cx="387.5" cy="81.8" r="1.15"/><circle cx="381.7" cy="79.6" r="1.15"/><circle cx="384.6" cy="84.6" r="1.15"/><circle cx="382.0" cy="82.0" r="1.15"/><circle cx="395.0" cy="75.1" r="1.15"/><circle cx="384.6" cy="79.6" r="1.15"/><circle cx="384.9" cy="75.8" r="1.15"/><circle cx="401.6" cy="79.7" r="1.15"/><circle cx="382.0" cy="77.3" r="1.15"/><circle cx="391.1" cy="75.6" r="1.15"/><circle cx="386.6" cy="75.4" r="1.15"/><circle cx="398.3" cy="81.7" r="1.15"/><circle cx="395.8" cy="88.4" r="1.15"/><circle cx="389.9" cy="91.7" r="1.15"/><circle cx="389.2" cy="89.0" r="1.15"/><circle cx="391.4" cy="81.5" r="1.15"/><circle cx="386.9" cy="90.7" r="1.15"/><circle cx="390.6" cy="88.6" r="1.15"/><circle cx="387.9" cy="90.1" r="1.15"/><circle cx="385.3" cy="88.0" r="1.15"/><circle cx="392.3" cy="74.1" r="1.15"/><circle cx="390.1" cy="74.6" r="1.15"/><circle cx="392.0" cy="83.1" r="1.15"/><circle cx="384.9" cy="72.7" r="1.15"/><circle cx="397.3" cy="86.1" r="1.15"/><circle cx="387.3" cy="77.6" r="1.15"/><circle cx="378.1" cy="81.2" r="1.15"/><circle cx="382.4" cy="76.3" r="1.15"/><circle cx="393.1" cy="83.3" r="1.15"/><circle cx="391.4" cy="76.2" r="1.15"/><circle cx="399.2" cy="90.8" r="1.15"/><circle cx="377.3" cy="82.6" r="1.15"/><circle cx="378.2" cy="81.9" r="1.15"/><circle cx="388.8" cy="80.5" r="1.15"/><circle cx="390.2" cy="92.0" r="1.15"/><circle cx="387.7" cy="78.2" r="1.15"/><circle cx="380.7" cy="90.0" r="1.15"/><circle cx="394.4" cy="77.9" r="1.15"/><circle cx="394.0" cy="84.1" r="1.15"/><circle cx="400.3" cy="81.6" r="1.15"/><circle cx="394.3" cy="77.4" r="1.15"/><circle cx="384.5" cy="85.7" r="1.15"/><circle cx="378.2" cy="126.5" r="1.15"/><circle cx="377.0" cy="98.8" r="1.15"/><circle cx="394.3" cy="116.3" r="1.15"/><circle cx="385.9" cy="106.9" r="1.15"/><circle cx="401.7" cy="133.1" r="1.15"/><circle cx="378.4" cy="127.2" r="1.15"/><circle cx="385.5" cy="115.9" r="1.15"/><circle cx="380.6" cy="92.0" r="1.15"/><circle cx="391.7" cy="103.8" r="1.15"/><circle cx="377.0" cy="135.9" r="1.15"/><circle cx="391.2" cy="123.3" r="1.15"/><circle cx="390.1" cy="131.0" r="1.15"/><circle cx="383.0" cy="135.3" r="1.15"/><circle cx="393.2" cy="120.5" r="1.15"/><circle cx="382.4" cy="136.1" r="1.15"/><circle cx="381.7" cy="109.5" r="1.15"/><circle cx="388.6" cy="96.5" r="1.15"/><circle cx="376.9" cy="101.3" r="1.15"/><circle cx="395.7" cy="126.3" r="1.15"/><circle cx="393.4" cy="115.3" r="1.15"/><circle cx="390.3" cy="100.1" r="1.15"/><circle cx="401.5" cy="111.5" r="1.15"/><circle cx="380.1" cy="97.7" r="1.15"/><circle cx="393.9" cy="104.9" r="1.15"/><circle cx="390.0" cy="123.6" r="1.15"/><circle cx="387.5" cy="132.9" r="1.15"/><circle cx="398.7" cy="109.7" r="1.15"/><circle cx="399.6" cy="133.0" r="1.15"/><circle cx="400.0" cy="129.8" r="1.15"/><circle cx="395.8" cy="95.6" r="1.15"/><circle cx="399.1" cy="125.0" r="1.15"/><circle cx="387.4" cy="124.4" r="1.15"/><circle cx="382.9" cy="139.2" r="1.15"/><circle cx="398.1" cy="92.7" r="1.15"/><circle cx="401.1" cy="107.5" r="1.15"/><circle cx="385.5" cy="104.1" r="1.15"/><circle cx="390.2" cy="134.4" r="1.15"/><circle cx="383.5" cy="137.0" r="1.15"/><circle cx="400.7" cy="130.3" r="1.15"/><circle cx="377.6" cy="115.3" r="1.15"/><circle cx="394.2" cy="139.8" r="1.15"/><circle cx="391.4" cy="138.2" r="1.15"/><circle cx="393.4" cy="130.1" r="1.15"/><circle cx="397.1" cy="100.8" r="1.15"/><circle cx="378.1" cy="119.1" r="1.15"/><circle cx="389.9" cy="100.6" r="1.15"/><circle cx="390.6" cy="99.1" r="1.15"/><circle cx="392.9" cy="104.5" r="1.15"/><circle cx="382.2" cy="141.5" r="1.15"/><circle cx="393.9" cy="124.2" r="1.15"/><circle cx="383.8" cy="113.2" r="1.15"/><circle cx="401.5" cy="133.9" r="1.15"/><circle cx="393.9" cy="118.6" r="1.15"/><circle cx="383.9" cy="93.6" r="1.15"/><circle cx="400.7" cy="135.8" r="1.15"/><circle cx="391.6" cy="113.5" r="1.15"/><circle cx="387.8" cy="141.6" r="1.15"/><circle cx="391.6" cy="116.9" r="1.15"/><circle cx="388.6" cy="101.6" r="1.15"/><circle cx="390.4" cy="95.0" r="1.15"/></g>
<path d="M376.1,71.4 L402.7,71.4 C403.15,71.67 404.62,71.9 405.4,73 C406.18,74.1 407.23,76.5 407.4,78 C407.57,79.5 407.15,80.57 406.4,82 C405.65,83.43 404.23,83.93 402.9,86.6 C401.57,89.27 399.7,92.93 398.4,98 C397.1,103.07 395.88,110.68 395.1,117 C394.32,123.32 393.78,131.9 393.7,135.9 C393.62,139.9 394.37,139.58 394.6,141 C394.83,142.42 395.02,143.83 395.1,144.4 L383.7,144.4 C383.78,143.83 383.97,142.42 384.2,141 C384.43,139.58 385.18,139.9 385.1,135.9 C385.02,131.9 384.48,123.32 383.7,117 C382.92,110.68 381.7,103.07 380.4,98 C379.1,92.93 377.23,89.27 375.9,86.6 C374.57,83.93 373.15,83.43 372.4,82 C371.65,80.57 371.23,79.5 371.4,78 C371.57,76.5 372.62,74.1 373.4,73 C374.18,71.9 375.65,71.67 376.1,71.4 Z" fill="none" stroke="#2f5f8c" stroke-width="1.3" stroke-linejoin="round"/>
<path d="M389.4,86.2 L391.7,88.5 L389.4,90.8 L387.1,88.5 Z" fill="#7e9dc0" stroke="#000" stroke-width="1.15"/>
<g fill="#a9c2dc" stroke="#4d79a5" stroke-width="0.65" fill-opacity="1" stroke-opacity="0.95"><circle cx="444.6" cy="143.8" r="1.15"/><circle cx="448.4" cy="143.8" r="1.15"/><circle cx="465.0" cy="143.8" r="1.15"/><circle cx="441.9" cy="143.8" r="1.15"/><circle cx="447.0" cy="73.3" r="1.15"/><circle cx="454.5" cy="94.7" r="1.15"/><circle cx="443.2" cy="75.7" r="1.15"/><circle cx="451.4" cy="89.7" r="1.15"/><circle cx="449.8" cy="91.3" r="1.15"/><circle cx="445.1" cy="95.4" r="1.15"/><circle cx="445.2" cy="77.1" r="1.15"/><circle cx="454.3" cy="81.0" r="1.15"/><circle cx="440.4" cy="82.0" r="1.15"/><circle cx="459.6" cy="83.0" r="1.15"/><circle cx="443.3" cy="74.5" r="1.15"/><circle cx="452.7" cy="94.6" r="1.15"/><circle cx="439.5" cy="91.4" r="1.15"/><circle cx="454.6" cy="92.1" r="1.15"/><circle cx="461.6" cy="85.8" r="1.15"/><circle cx="442.4" cy="89.0" r="1.15"/><circle cx="449.1" cy="79.6" r="1.15"/><circle cx="444.6" cy="92.3" r="1.15"/><circle cx="462.6" cy="84.7" r="1.15"/><circle cx="465.3" cy="87.1" r="1.15"/><circle cx="446.6" cy="82.2" r="1.15"/><circle cx="449.5" cy="78.4" r="1.15"/><circle cx="458.0" cy="82.3" r="1.15"/><circle cx="444.8" cy="86.0" r="1.15"/><circle cx="439.9" cy="85.6" r="1.15"/><circle cx="443.9" cy="76.5" r="1.15"/><circle cx="465.0" cy="84.7" r="1.15"/><circle cx="444.5" cy="81.5" r="1.15"/><circle cx="461.1" cy="74.3" r="1.15"/><circle cx="452.8" cy="88.3" r="1.15"/><circle cx="463.2" cy="95.6" r="1.15"/><circle cx="443.8" cy="88.1" r="1.15"/><circle cx="454.3" cy="87.7" r="1.15"/><circle cx="457.6" cy="78.6" r="1.15"/><circle cx="456.6" cy="83.7" r="1.15"/><circle cx="448.8" cy="77.0" r="1.15"/><circle cx="454.3" cy="85.7" r="1.15"/><circle cx="464.8" cy="75.6" r="1.15"/><circle cx="462.6" cy="84.3" r="1.15"/><circle cx="463.8" cy="88.7" r="1.15"/><circle cx="447.2" cy="77.5" r="1.15"/><circle cx="454.4" cy="77.5" r="1.15"/><circle cx="463.4" cy="91.5" r="1.15"/><circle cx="455.6" cy="86.3" r="1.15"/><circle cx="463.3" cy="86.2" r="1.15"/><circle cx="460.0" cy="94.3" r="1.15"/><circle cx="440.7" cy="76.8" r="1.15"/><circle cx="444.3" cy="76.8" r="1.15"/><circle cx="455.4" cy="89.0" r="1.15"/><circle cx="453.6" cy="96.7" r="1.15"/><circle cx="450.0" cy="75.3" r="1.15"/><circle cx="453.0" cy="91.8" r="1.15"/><circle cx="447.9" cy="92.1" r="1.15"/><circle cx="459.0" cy="83.7" r="1.15"/><circle cx="450.4" cy="84.5" r="1.15"/><circle cx="439.7" cy="79.8" r="1.15"/><circle cx="445.9" cy="96.4" r="1.15"/><circle cx="452.1" cy="94.7" r="1.15"/><circle cx="444.5" cy="77.9" r="1.15"/><circle cx="461.8" cy="76.9" r="1.15"/><circle cx="447.3" cy="96.4" r="1.15"/><circle cx="448.5" cy="80.8" r="1.15"/><circle cx="459.5" cy="93.1" r="1.15"/><circle cx="450.6" cy="84.9" r="1.15"/><circle cx="445.8" cy="83.6" r="1.15"/><circle cx="459.5" cy="79.9" r="1.15"/><circle cx="453.7" cy="73.1" r="1.15"/><circle cx="457.8" cy="89.5" r="1.15"/><circle cx="460.0" cy="89.6" r="1.15"/><circle cx="439.8" cy="97.3" r="1.15"/><circle cx="452.6" cy="77.9" r="1.15"/><circle cx="459.9" cy="77.1" r="1.15"/><circle cx="453.2" cy="90.0" r="1.15"/><circle cx="450.1" cy="96.8" r="1.15"/><circle cx="456.2" cy="72.7" r="1.15"/><circle cx="463.7" cy="84.4" r="1.15"/><circle cx="455.6" cy="76.6" r="1.15"/><circle cx="461.7" cy="72.5" r="1.15"/><circle cx="457.2" cy="79.0" r="1.15"/><circle cx="456.7" cy="92.7" r="1.15"/><circle cx="445.7" cy="91.5" r="1.15"/><circle cx="446.0" cy="95.0" r="1.15"/><circle cx="449.1" cy="81.8" r="1.15"/><circle cx="449.3" cy="74.0" r="1.15"/><circle cx="444.0" cy="73.5" r="1.15"/><circle cx="460.9" cy="74.0" r="1.15"/><circle cx="461.9" cy="77.9" r="1.15"/><circle cx="441.9" cy="77.1" r="1.15"/><circle cx="445.8" cy="93.1" r="1.15"/><circle cx="455.5" cy="96.2" r="1.15"/><circle cx="460.9" cy="82.2" r="1.15"/><circle cx="461.1" cy="95.5" r="1.15"/><circle cx="454.8" cy="84.0" r="1.15"/><circle cx="458.2" cy="75.7" r="1.15"/><circle cx="457.4" cy="78.8" r="1.15"/><circle cx="451.7" cy="91.2" r="1.15"/><circle cx="453.7" cy="87.1" r="1.15"/><circle cx="448.3" cy="83.8" r="1.15"/><circle cx="454.3" cy="86.1" r="1.15"/><circle cx="446.1" cy="73.1" r="1.15"/><circle cx="451.9" cy="73.1" r="1.15"/><circle cx="463.3" cy="87.7" r="1.15"/><circle cx="442.7" cy="82.3" r="1.15"/><circle cx="462.5" cy="78.8" r="1.15"/><circle cx="463.1" cy="91.8" r="1.15"/><circle cx="460.3" cy="91.4" r="1.15"/><circle cx="449.7" cy="75.8" r="1.15"/><circle cx="456.6" cy="86.1" r="1.15"/><circle cx="464.0" cy="83.1" r="1.15"/><circle cx="447.5" cy="74.0" r="1.15"/><circle cx="461.0" cy="76.6" r="1.15"/><circle cx="451.0" cy="77.3" r="1.15"/><circle cx="464.1" cy="76.9" r="1.15"/><circle cx="455.9" cy="84.1" r="1.15"/><circle cx="442.9" cy="74.9" r="1.15"/><circle cx="452.5" cy="80.5" r="1.15"/><circle cx="456.8" cy="72.4" r="1.15"/><circle cx="458.5" cy="80.6" r="1.15"/><circle cx="443.9" cy="74.4" r="1.15"/><circle cx="451.5" cy="97.9" r="1.15"/><circle cx="463.4" cy="90.9" r="1.15"/><circle cx="452.8" cy="77.5" r="1.15"/><circle cx="449.0" cy="78.7" r="1.15"/><circle cx="442.6" cy="73.1" r="1.15"/><circle cx="458.3" cy="91.3" r="1.15"/><circle cx="444.2" cy="77.0" r="1.15"/><circle cx="460.4" cy="90.3" r="1.15"/><circle cx="457.5" cy="97.5" r="1.15"/><circle cx="454.1" cy="87.8" r="1.15"/><circle cx="453.5" cy="85.2" r="1.15"/><circle cx="447.1" cy="102.1" r="1.15"/><circle cx="463.3" cy="128.8" r="1.15"/><circle cx="452.5" cy="121.0" r="1.15"/><circle cx="441.9" cy="117.6" r="1.15"/><circle cx="440.4" cy="98.5" r="1.15"/><circle cx="463.8" cy="103.2" r="1.15"/><circle cx="460.5" cy="107.5" r="1.15"/><circle cx="446.2" cy="117.4" r="1.15"/><circle cx="440.5" cy="126.7" r="1.15"/><circle cx="457.3" cy="111.2" r="1.15"/><circle cx="454.0" cy="100.9" r="1.15"/><circle cx="450.9" cy="121.1" r="1.15"/><circle cx="442.5" cy="122.1" r="1.15"/><circle cx="457.2" cy="102.6" r="1.15"/><circle cx="465.1" cy="98.5" r="1.15"/><circle cx="441.7" cy="125.0" r="1.15"/><circle cx="446.1" cy="110.0" r="1.15"/><circle cx="442.6" cy="114.3" r="1.15"/><circle cx="443.2" cy="118.3" r="1.15"/><circle cx="446.6" cy="114.5" r="1.15"/><circle cx="454.4" cy="118.0" r="1.15"/><circle cx="458.9" cy="109.8" r="1.15"/><circle cx="456.6" cy="119.5" r="1.15"/><circle cx="464.6" cy="118.3" r="1.15"/><circle cx="452.2" cy="101.4" r="1.15"/><circle cx="463.0" cy="127.3" r="1.15"/><circle cx="458.6" cy="111.6" r="1.15"/><circle cx="450.5" cy="127.8" r="1.15"/><circle cx="455.5" cy="128.3" r="1.15"/><circle cx="440.9" cy="115.8" r="1.15"/><circle cx="462.7" cy="118.7" r="1.15"/><circle cx="454.2" cy="125.6" r="1.15"/><circle cx="439.9" cy="121.8" r="1.15"/><circle cx="450.0" cy="120.0" r="1.15"/><circle cx="454.0" cy="102.9" r="1.15"/><circle cx="453.8" cy="111.1" r="1.15"/><circle cx="439.9" cy="107.8" r="1.15"/><circle cx="458.8" cy="123.6" r="1.15"/><circle cx="446.0" cy="100.1" r="1.15"/><circle cx="449.9" cy="107.2" r="1.15"/><circle cx="441.8" cy="100.0" r="1.15"/><circle cx="456.0" cy="107.5" r="1.15"/><circle cx="440.4" cy="115.4" r="1.15"/><circle cx="464.8" cy="118.3" r="1.15"/><circle cx="463.9" cy="103.2" r="1.15"/><circle cx="439.7" cy="141.5" r="1.15"/><circle cx="453.0" cy="130.5" r="1.15"/><circle cx="447.7" cy="142.1" r="1.15"/><circle cx="463.8" cy="136.3" r="1.15"/><circle cx="457.4" cy="133.7" r="1.15"/><circle cx="453.7" cy="134.9" r="1.15"/></g>
<path d="M432.4,71.4 L472.4,71.4 C472.87,71.67 474.95,72.07 475.2,73 C475.45,73.93 475.08,74.42 473.9,77 C472.72,79.58 470.35,83.43 468.1,88.5 C465.85,93.57 462.27,102.48 460.4,107.4 C458.53,112.32 457.8,114.83 456.9,118 C456,121.17 455.6,124.07 455,126.4 C454.4,128.73 453.5,130.4 453.3,132 C453.1,133.6 453.4,134.67 453.8,136 C454.2,137.33 455.38,138.73 455.7,140 C456.02,141.27 455.7,143 455.7,143.6 L449.1,143.6 C449.1,143 448.78,141.27 449.1,140 C449.42,138.73 450.6,137.33 451,136 C451.4,134.67 451.7,133.6 451.5,132 C451.3,130.4 450.4,128.73 449.8,126.4 C449.2,124.07 448.8,121.17 447.9,118 C447,114.83 446.27,112.32 444.4,107.4 C442.53,102.48 438.95,93.57 436.7,88.5 C434.45,83.43 432.08,79.58 430.9,77 C429.72,74.42 429.35,73.93 429.6,73 C429.85,72.07 431.93,71.67 432.4,71.4 Z" fill="none" stroke="#2f5f8c" stroke-width="1.3" stroke-linejoin="round"/>
<path d="M452.4,82.4 L454.7,84.7 L452.4,87 L450.1,84.7 Z" fill="#7e9dc0" stroke="#000" stroke-width="1.15"/>
<g fill="#a9c2dc" stroke="#4d79a5" stroke-width="0.65" fill-opacity="1" stroke-opacity="0.95"><circle cx="512.1" cy="143.8" r="1.15"/><circle cx="520.8" cy="143.8" r="1.15"/><circle cx="503.4" cy="143.8" r="1.15"/><circle cx="520.3" cy="143.8" r="1.15"/><circle cx="512.5" cy="143.8" r="1.15"/><circle cx="503.5" cy="143.8" r="1.15"/><circle cx="510.0" cy="77.3" r="1.15"/><circle cx="506.5" cy="85.1" r="1.15"/><circle cx="521.2" cy="76.4" r="1.15"/><circle cx="511.4" cy="87.9" r="1.15"/><circle cx="527.6" cy="85.0" r="1.15"/><circle cx="507.4" cy="90.2" r="1.15"/><circle cx="506.0" cy="93.0" r="1.15"/><circle cx="516.5" cy="75.5" r="1.15"/><circle cx="522.7" cy="91.7" r="1.15"/><circle cx="520.9" cy="76.1" r="1.15"/><circle cx="521.4" cy="88.4" r="1.15"/><circle cx="518.4" cy="80.1" r="1.15"/><circle cx="515.9" cy="96.9" r="1.15"/><circle cx="515.8" cy="83.8" r="1.15"/><circle cx="506.9" cy="83.6" r="1.15"/><circle cx="515.9" cy="86.1" r="1.15"/><circle cx="509.4" cy="91.1" r="1.15"/><circle cx="511.7" cy="92.4" r="1.15"/><circle cx="512.1" cy="95.4" r="1.15"/><circle cx="526.8" cy="76.6" r="1.15"/><circle cx="517.3" cy="95.5" r="1.15"/><circle cx="523.0" cy="87.7" r="1.15"/><circle cx="504.3" cy="94.5" r="1.15"/><circle cx="515.9" cy="90.6" r="1.15"/><circle cx="519.9" cy="91.6" r="1.15"/><circle cx="502.9" cy="88.2" r="1.15"/><circle cx="516.9" cy="90.7" r="1.15"/><circle cx="524.2" cy="78.7" r="1.15"/><circle cx="518.8" cy="80.4" r="1.15"/><circle cx="518.4" cy="95.5" r="1.15"/><circle cx="502.7" cy="86.4" r="1.15"/><circle cx="525.7" cy="74.9" r="1.15"/><circle cx="509.9" cy="97.1" r="1.15"/><circle cx="508.0" cy="84.2" r="1.15"/><circle cx="506.1" cy="76.8" r="1.15"/><circle cx="508.2" cy="87.6" r="1.15"/><circle cx="505.5" cy="83.1" r="1.15"/><circle cx="507.8" cy="83.3" r="1.15"/><circle cx="528.5" cy="95.9" r="1.15"/><circle cx="520.0" cy="84.8" r="1.15"/><circle cx="518.5" cy="88.7" r="1.15"/><circle cx="522.0" cy="78.7" r="1.15"/><circle cx="511.8" cy="87.7" r="1.15"/><circle cx="516.7" cy="79.2" r="1.15"/><circle cx="528.0" cy="94.6" r="1.15"/><circle cx="518.3" cy="87.0" r="1.15"/><circle cx="528.3" cy="72.6" r="1.15"/><circle cx="507.5" cy="94.3" r="1.15"/><circle cx="508.3" cy="73.8" r="1.15"/><circle cx="525.1" cy="94.1" r="1.15"/><circle cx="510.8" cy="96.3" r="1.15"/><circle cx="506.5" cy="91.9" r="1.15"/><circle cx="505.3" cy="92.3" r="1.15"/><circle cx="515.0" cy="82.9" r="1.15"/><circle cx="502.8" cy="78.0" r="1.15"/><circle cx="510.5" cy="89.0" r="1.15"/><circle cx="513.2" cy="88.5" r="1.15"/><circle cx="508.6" cy="97.2" r="1.15"/><circle cx="506.4" cy="92.5" r="1.15"/><circle cx="525.2" cy="92.5" r="1.15"/><circle cx="512.5" cy="80.5" r="1.15"/><circle cx="524.5" cy="86.0" r="1.15"/><circle cx="526.8" cy="81.5" r="1.15"/><circle cx="513.7" cy="92.5" r="1.15"/><circle cx="523.1" cy="82.8" r="1.15"/><circle cx="507.1" cy="91.6" r="1.15"/><circle cx="505.1" cy="81.5" r="1.15"/><circle cx="502.5" cy="91.7" r="1.15"/><circle cx="511.9" cy="81.0" r="1.15"/><circle cx="512.4" cy="80.3" r="1.15"/><circle cx="519.2" cy="74.5" r="1.15"/><circle cx="526.9" cy="92.7" r="1.15"/><circle cx="515.1" cy="85.0" r="1.15"/><circle cx="513.1" cy="95.1" r="1.15"/><circle cx="518.0" cy="79.7" r="1.15"/><circle cx="503.3" cy="83.5" r="1.15"/><circle cx="512.0" cy="83.5" r="1.15"/><circle cx="511.2" cy="94.1" r="1.15"/><circle cx="503.6" cy="88.4" r="1.15"/><circle cx="517.4" cy="72.7" r="1.15"/><circle cx="507.6" cy="93.4" r="1.15"/><circle cx="508.7" cy="73.8" r="1.15"/><circle cx="523.8" cy="92.8" r="1.15"/><circle cx="525.6" cy="76.5" r="1.15"/><circle cx="513.5" cy="75.0" r="1.15"/><circle cx="519.4" cy="96.4" r="1.15"/><circle cx="511.8" cy="76.2" r="1.15"/><circle cx="513.9" cy="76.7" r="1.15"/><circle cx="505.6" cy="90.9" r="1.15"/><circle cx="514.3" cy="96.1" r="1.15"/><circle cx="505.2" cy="72.9" r="1.15"/><circle cx="517.0" cy="76.4" r="1.15"/><circle cx="514.6" cy="74.5" r="1.15"/><circle cx="517.8" cy="78.6" r="1.15"/><circle cx="518.6" cy="92.9" r="1.15"/><circle cx="512.7" cy="86.2" r="1.15"/><circle cx="524.0" cy="97.7" r="1.15"/><circle cx="514.9" cy="88.7" r="1.15"/><circle cx="521.3" cy="82.4" r="1.15"/><circle cx="513.9" cy="85.4" r="1.15"/><circle cx="515.9" cy="78.6" r="1.15"/><circle cx="510.1" cy="82.1" r="1.15"/><circle cx="516.7" cy="94.5" r="1.15"/><circle cx="505.0" cy="81.3" r="1.15"/><circle cx="503.3" cy="86.8" r="1.15"/><circle cx="519.2" cy="77.0" r="1.15"/><circle cx="508.8" cy="89.9" r="1.15"/><circle cx="524.8" cy="84.9" r="1.15"/><circle cx="516.5" cy="72.2" r="1.15"/><circle cx="522.2" cy="74.2" r="1.15"/><circle cx="509.2" cy="82.9" r="1.15"/><circle cx="518.6" cy="96.9" r="1.15"/><circle cx="510.3" cy="77.4" r="1.15"/><circle cx="520.5" cy="72.1" r="1.15"/><circle cx="520.3" cy="92.8" r="1.15"/><circle cx="504.5" cy="89.2" r="1.15"/><circle cx="511.8" cy="89.9" r="1.15"/><circle cx="507.7" cy="95.9" r="1.15"/><circle cx="510.0" cy="91.5" r="1.15"/><circle cx="507.5" cy="72.1" r="1.15"/><circle cx="508.4" cy="85.0" r="1.15"/><circle cx="518.8" cy="91.6" r="1.15"/><circle cx="507.3" cy="87.3" r="1.15"/><circle cx="511.9" cy="75.0" r="1.15"/><circle cx="504.9" cy="92.4" r="1.15"/><circle cx="527.9" cy="95.7" r="1.15"/><circle cx="504.2" cy="97.8" r="1.15"/><circle cx="522.9" cy="78.2" r="1.15"/><circle cx="520.3" cy="90.0" r="1.15"/><circle cx="524.4" cy="81.7" r="1.15"/><circle cx="506.8" cy="74.9" r="1.15"/><circle cx="521.6" cy="94.6" r="1.15"/><circle cx="512.1" cy="91.9" r="1.15"/><circle cx="523.6" cy="97.9" r="1.15"/><circle cx="527.3" cy="84.6" r="1.15"/><circle cx="511.9" cy="94.0" r="1.15"/><circle cx="525.2" cy="75.5" r="1.15"/><circle cx="519.4" cy="82.9" r="1.15"/><circle cx="523.6" cy="96.9" r="1.15"/><circle cx="523.2" cy="92.6" r="1.15"/><circle cx="517.8" cy="114.2" r="1.15"/><circle cx="503.8" cy="122.4" r="1.15"/><circle cx="512.0" cy="115.3" r="1.15"/><circle cx="517.7" cy="98.6" r="1.15"/><circle cx="502.7" cy="105.2" r="1.15"/><circle cx="508.9" cy="106.3" r="1.15"/><circle cx="507.5" cy="103.1" r="1.15"/><circle cx="508.5" cy="118.6" r="1.15"/><circle cx="512.9" cy="122.0" r="1.15"/><circle cx="509.7" cy="109.1" r="1.15"/><circle cx="517.3" cy="117.1" r="1.15"/><circle cx="517.4" cy="105.0" r="1.15"/><circle cx="503.1" cy="111.5" r="1.15"/><circle cx="520.3" cy="121.4" r="1.15"/><circle cx="503.8" cy="106.0" r="1.15"/><circle cx="506.3" cy="113.9" r="1.15"/><circle cx="510.8" cy="113.0" r="1.15"/><circle cx="521.8" cy="105.0" r="1.15"/><circle cx="511.0" cy="125.0" r="1.15"/><circle cx="507.7" cy="103.2" r="1.15"/><circle cx="515.3" cy="102.6" r="1.15"/><circle cx="502.6" cy="99.6" r="1.15"/><circle cx="523.5" cy="105.5" r="1.15"/><circle cx="513.7" cy="106.3" r="1.15"/><circle cx="505.5" cy="114.4" r="1.15"/><circle cx="509.3" cy="103.1" r="1.15"/><circle cx="510.9" cy="118.8" r="1.15"/><circle cx="504.6" cy="124.5" r="1.15"/><circle cx="527.0" cy="106.0" r="1.15"/><circle cx="513.2" cy="115.9" r="1.15"/><circle cx="516.4" cy="128.1" r="1.15"/><circle cx="524.2" cy="132.9" r="1.15"/><circle cx="520.0" cy="139.2" r="1.15"/><circle cx="513.2" cy="141.7" r="1.15"/><circle cx="504.4" cy="138.4" r="1.15"/><circle cx="509.4" cy="126.0" r="1.15"/></g>
<path d="M492,71.2 L539,71.2 C539.42,71.5 540.98,72.15 541.5,73 C542.02,73.85 542.77,75.13 542.1,76.3 C541.43,77.47 539.3,78.63 537.5,80 C535.7,81.37 532.97,82.38 531.3,84.5 C529.63,86.62 529.28,88.28 527.5,92.7 C525.72,97.12 522.4,105.55 520.6,111 C518.8,116.45 517.49,120.95 516.7,125.4 C515.91,129.85 515.85,135.1 515.85,137.7 C515.85,140.3 516.48,139.98 516.7,141 C516.93,142.02 517.12,143.33 517.2,143.8 L513.8,143.8 C513.88,143.33 514.07,142.02 514.3,141 C514.52,139.98 515.15,140.3 515.15,137.7 C515.15,135.1 515.09,129.85 514.3,125.4 C513.51,120.95 512.2,116.45 510.4,111 C508.6,105.55 505.28,97.12 503.5,92.7 C501.72,88.28 501.37,86.62 499.7,84.5 C498.03,82.38 495.3,81.37 493.5,80 C491.7,78.63 489.57,77.47 488.9,76.3 C488.23,75.13 488.98,73.85 489.5,73 C490.02,72.15 491.58,71.5 492,71.2 Z" fill="none" stroke="#2f5f8c" stroke-width="1.3" stroke-linejoin="round"/>
<path d="M515.5,80.2 L517.8,82.5 L515.5,84.8 L513.2,82.5 Z" fill="#7e9dc0" stroke="#000" stroke-width="1.15"/>
<g fill="#a9c2dc" stroke="#4d79a5" stroke-width="0.65" fill-opacity="1" stroke-opacity="0.95"><circle cx="581.2" cy="143.8" r="1.15"/><circle cx="577.2" cy="143.8" r="1.15"/><circle cx="588.7" cy="143.8" r="1.15"/><circle cx="585.8" cy="143.8" r="1.15"/><circle cx="569.7" cy="84.8" r="1.15"/><circle cx="571.4" cy="90.5" r="1.15"/><circle cx="575.3" cy="96.0" r="1.15"/><circle cx="576.7" cy="89.6" r="1.15"/><circle cx="567.7" cy="89.0" r="1.15"/><circle cx="571.3" cy="91.9" r="1.15"/><circle cx="579.3" cy="81.3" r="1.15"/><circle cx="585.7" cy="94.3" r="1.15"/><circle cx="572.3" cy="88.6" r="1.15"/><circle cx="574.4" cy="74.4" r="1.15"/><circle cx="588.8" cy="72.8" r="1.15"/><circle cx="567.1" cy="88.5" r="1.15"/><circle cx="569.8" cy="91.5" r="1.15"/><circle cx="570.8" cy="89.0" r="1.15"/><circle cx="591.5" cy="96.4" r="1.15"/><circle cx="579.2" cy="78.5" r="1.15"/><circle cx="567.9" cy="76.2" r="1.15"/><circle cx="566.6" cy="95.1" r="1.15"/><circle cx="580.2" cy="83.5" r="1.15"/><circle cx="571.1" cy="87.4" r="1.15"/><circle cx="591.4" cy="72.3" r="1.15"/><circle cx="573.0" cy="95.4" r="1.15"/><circle cx="566.9" cy="91.8" r="1.15"/><circle cx="584.6" cy="83.8" r="1.15"/><circle cx="580.3" cy="78.7" r="1.15"/><circle cx="568.3" cy="87.0" r="1.15"/><circle cx="568.5" cy="90.2" r="1.15"/><circle cx="581.7" cy="96.3" r="1.15"/><circle cx="587.2" cy="79.1" r="1.15"/><circle cx="590.9" cy="74.5" r="1.15"/><circle cx="574.5" cy="78.0" r="1.15"/><circle cx="568.4" cy="74.7" r="1.15"/><circle cx="591.6" cy="76.4" r="1.15"/><circle cx="565.9" cy="87.6" r="1.15"/><circle cx="587.3" cy="83.1" r="1.15"/><circle cx="565.7" cy="92.5" r="1.15"/><circle cx="571.6" cy="78.8" r="1.15"/><circle cx="576.9" cy="77.8" r="1.15"/><circle cx="578.1" cy="95.5" r="1.15"/><circle cx="590.9" cy="84.3" r="1.15"/><circle cx="569.7" cy="82.9" r="1.15"/><circle cx="583.2" cy="95.4" r="1.15"/><circle cx="587.1" cy="92.3" r="1.15"/><circle cx="583.1" cy="77.3" r="1.15"/><circle cx="579.6" cy="91.5" r="1.15"/><circle cx="580.2" cy="86.2" r="1.15"/><circle cx="572.3" cy="94.5" r="1.15"/><circle cx="583.4" cy="85.5" r="1.15"/><circle cx="578.6" cy="76.0" r="1.15"/><circle cx="583.4" cy="92.4" r="1.15"/><circle cx="574.9" cy="79.5" r="1.15"/><circle cx="587.7" cy="88.0" r="1.15"/><circle cx="589.8" cy="91.0" r="1.15"/><circle cx="572.5" cy="95.7" r="1.15"/><circle cx="573.0" cy="80.4" r="1.15"/><circle cx="575.3" cy="74.8" r="1.15"/><circle cx="573.5" cy="94.3" r="1.15"/><circle cx="591.5" cy="97.0" r="1.15"/><circle cx="582.4" cy="97.2" r="1.15"/><circle cx="577.5" cy="97.1" r="1.15"/><circle cx="580.8" cy="86.8" r="1.15"/><circle cx="578.8" cy="77.2" r="1.15"/><circle cx="591.2" cy="88.7" r="1.15"/><circle cx="581.9" cy="72.7" r="1.15"/><circle cx="577.9" cy="84.2" r="1.15"/><circle cx="565.9" cy="96.4" r="1.15"/><circle cx="585.9" cy="83.1" r="1.15"/><circle cx="590.2" cy="80.3" r="1.15"/><circle cx="571.8" cy="86.5" r="1.15"/><circle cx="570.8" cy="72.2" r="1.15"/><circle cx="575.6" cy="91.4" r="1.15"/><circle cx="591.2" cy="73.6" r="1.15"/><circle cx="584.2" cy="95.0" r="1.15"/><circle cx="574.7" cy="85.2" r="1.15"/><circle cx="576.6" cy="84.7" r="1.15"/><circle cx="579.1" cy="96.6" r="1.15"/><circle cx="588.8" cy="84.6" r="1.15"/><circle cx="589.7" cy="88.9" r="1.15"/><circle cx="587.4" cy="91.7" r="1.15"/><circle cx="572.4" cy="82.8" r="1.15"/><circle cx="578.0" cy="94.7" r="1.15"/><circle cx="573.8" cy="88.9" r="1.15"/><circle cx="579.0" cy="87.0" r="1.15"/><circle cx="567.9" cy="74.1" r="1.15"/><circle cx="584.8" cy="81.5" r="1.15"/><circle cx="566.9" cy="76.5" r="1.15"/><circle cx="566.6" cy="73.0" r="1.15"/><circle cx="587.1" cy="81.7" r="1.15"/><circle cx="587.7" cy="79.2" r="1.15"/><circle cx="583.6" cy="89.0" r="1.15"/><circle cx="583.2" cy="91.7" r="1.15"/><circle cx="572.1" cy="88.2" r="1.15"/><circle cx="569.7" cy="90.9" r="1.15"/><circle cx="580.2" cy="76.9" r="1.15"/><circle cx="590.4" cy="94.9" r="1.15"/><circle cx="579.1" cy="84.6" r="1.15"/><circle cx="589.0" cy="81.2" r="1.15"/><circle cx="579.8" cy="72.8" r="1.15"/><circle cx="583.4" cy="81.2" r="1.15"/><circle cx="580.0" cy="84.0" r="1.15"/><circle cx="585.2" cy="73.5" r="1.15"/><circle cx="570.5" cy="78.5" r="1.15"/><circle cx="570.3" cy="72.6" r="1.15"/><circle cx="568.7" cy="91.0" r="1.15"/><circle cx="573.0" cy="88.3" r="1.15"/><circle cx="581.7" cy="75.9" r="1.15"/><circle cx="574.3" cy="84.4" r="1.15"/><circle cx="580.1" cy="88.0" r="1.15"/><circle cx="579.6" cy="94.5" r="1.15"/><circle cx="579.8" cy="82.7" r="1.15"/><circle cx="589.7" cy="74.2" r="1.15"/><circle cx="572.0" cy="95.9" r="1.15"/><circle cx="576.9" cy="87.7" r="1.15"/><circle cx="567.4" cy="90.1" r="1.15"/><circle cx="589.1" cy="73.3" r="1.15"/><circle cx="586.3" cy="90.7" r="1.15"/><circle cx="583.3" cy="95.8" r="1.15"/><circle cx="574.3" cy="73.2" r="1.15"/><circle cx="586.4" cy="83.9" r="1.15"/><circle cx="586.5" cy="97.8" r="1.15"/><circle cx="572.4" cy="80.2" r="1.15"/><circle cx="579.4" cy="81.1" r="1.15"/><circle cx="569.0" cy="80.0" r="1.15"/><circle cx="571.3" cy="95.3" r="1.15"/><circle cx="569.4" cy="89.9" r="1.15"/><circle cx="581.4" cy="87.6" r="1.15"/><circle cx="568.2" cy="83.0" r="1.15"/><circle cx="569.3" cy="74.3" r="1.15"/><circle cx="583.4" cy="93.7" r="1.15"/><circle cx="572.2" cy="82.7" r="1.15"/><circle cx="586.1" cy="79.5" r="1.15"/><circle cx="586.0" cy="72.4" r="1.15"/><circle cx="587.0" cy="78.5" r="1.15"/><circle cx="579.7" cy="83.2" r="1.15"/><circle cx="579.7" cy="96.1" r="1.15"/><circle cx="574.4" cy="86.3" r="1.15"/><circle cx="568.5" cy="73.0" r="1.15"/><circle cx="579.5" cy="79.4" r="1.15"/><circle cx="565.9" cy="73.1" r="1.15"/><circle cx="584.0" cy="94.2" r="1.15"/><circle cx="585.3" cy="98.5" r="1.15"/><circle cx="574.8" cy="111.3" r="1.15"/><circle cx="581.0" cy="123.8" r="1.15"/><circle cx="573.0" cy="113.9" r="1.15"/><circle cx="587.8" cy="124.8" r="1.15"/><circle cx="573.9" cy="118.3" r="1.15"/><circle cx="585.8" cy="100.9" r="1.15"/><circle cx="580.7" cy="105.2" r="1.15"/><circle cx="571.8" cy="100.6" r="1.15"/><circle cx="581.9" cy="119.5" r="1.15"/><circle cx="576.2" cy="110.2" r="1.15"/><circle cx="589.2" cy="102.1" r="1.15"/><circle cx="577.0" cy="122.9" r="1.15"/><circle cx="579.5" cy="111.5" r="1.15"/><circle cx="587.6" cy="123.7" r="1.15"/><circle cx="567.7" cy="115.2" r="1.15"/><circle cx="588.6" cy="130.2" r="1.15"/><circle cx="572.5" cy="141.2" r="1.15"/><circle cx="579.1" cy="136.0" r="1.15"/><circle cx="589.1" cy="134.4" r="1.15"/><circle cx="581.3" cy="126.8" r="1.15"/></g>
<path d="M554.6,71.2 L602.6,71.2 C603.18,71.5 605.3,72.32 606.1,73 C606.9,73.68 607.82,74.13 607.4,75.3 C606.98,76.47 605.85,77.43 603.6,80 C601.35,82.57 597.05,86.88 593.9,90.7 C590.75,94.52 586.65,99.17 584.7,102.9 C582.75,106.63 583.02,109.02 582.2,113.1 C581.38,117.18 580.34,123.25 579.8,127.4 C579.26,131.55 578.95,135.27 578.95,138 C578.95,140.73 579.66,142.83 579.8,143.8 L577.4,143.8 C577.54,142.83 578.25,140.73 578.25,138 C578.25,135.27 577.94,131.55 577.4,127.4 C576.86,123.25 575.82,117.18 575,113.1 C574.18,109.02 574.45,106.63 572.5,102.9 C570.55,99.17 566.45,94.52 563.3,90.7 C560.15,86.88 555.85,82.57 553.6,80 C551.35,77.43 550.22,76.47 549.8,75.3 C549.38,74.13 550.3,73.68 551.1,73 C551.9,72.32 554.02,71.5 554.6,71.2 Z" fill="none" stroke="#2f5f8c" stroke-width="1.3" stroke-linejoin="round"/>
<path d="M578.6,80.2 L580.9,82.5 L578.6,84.8 L576.3,82.5 Z" fill="#7e9dc0" stroke="#000" stroke-width="1.15"/>
<rect x="82.4" y="24.4" width="264" height="125.8" fill="none" stroke="#8a8a8a" stroke-width="1"/>
<rect x="351.6" y="24.4" width="264.8" height="125.8" fill="none" stroke="#8a8a8a" stroke-width="1"/>
<line x1="84.5" y1="212.87" x2="350.2" y2="212.87" stroke="#f4f4f4" stroke-width="0.8" />
<line x1="84.5" y1="229.19" x2="350.2" y2="229.19" stroke="#f4f4f4" stroke-width="0.8" />
<line x1="84.5" y1="245.58" x2="350.2" y2="245.58" stroke="#f4f4f4" stroke-width="0.8" />
<line x1="84.5" y1="261.42" x2="350.2" y2="261.42" stroke="#f4f4f4" stroke-width="0.8" />
<line x1="84.5" y1="203.34" x2="350.2" y2="203.34" stroke="#ebebeb" stroke-width="1" />
<line x1="84.5" y1="221.62" x2="350.2" y2="221.62" stroke="#ebebeb" stroke-width="1" />
<line x1="84.5" y1="237.38" x2="350.2" y2="237.38" stroke="#ebebeb" stroke-width="1" />
<line x1="84.5" y1="253.14" x2="350.2" y2="253.14" stroke="#ebebeb" stroke-width="1" />
<line x1="84.5" y1="274.26" x2="350.2" y2="274.26" stroke="#ebebeb" stroke-width="1" />
<line x1="84.5" y1="282.14" x2="350.2" y2="282.14" stroke="#ebebeb" stroke-width="1" />
<line x1="355.4" y1="212.87" x2="620.6" y2="212.87" stroke="#f4f4f4" stroke-width="0.8" />
<line x1="355.4" y1="229.19" x2="620.6" y2="229.19" stroke="#f4f4f4" stroke-width="0.8" />
<line x1="355.4" y1="245.58" x2="620.6" y2="245.58" stroke="#f4f4f4" stroke-width="0.8" />
<line x1="355.4" y1="261.42" x2="620.6" y2="261.42" stroke="#f4f4f4" stroke-width="0.8" />
<line x1="355.4" y1="203.34" x2="620.6" y2="203.34" stroke="#ebebeb" stroke-width="1" />
<line x1="355.4" y1="221.62" x2="620.6" y2="221.62" stroke="#ebebeb" stroke-width="1" />
<line x1="355.4" y1="237.38" x2="620.6" y2="237.38" stroke="#ebebeb" stroke-width="1" />
<line x1="355.4" y1="253.14" x2="620.6" y2="253.14" stroke="#ebebeb" stroke-width="1" />
<line x1="355.4" y1="274.26" x2="620.6" y2="274.26" stroke="#ebebeb" stroke-width="1" />
<line x1="355.4" y1="282.14" x2="620.6" y2="282.14" stroke="#ebebeb" stroke-width="1" />
<line x1="82.2" y1="203.34" x2="84.5" y2="203.34" stroke="#555" stroke-width="0.9" />
<text x="82.6" y="206.74" font-size="10.9" text-anchor="end" font-weight="normal" fill="#1a1a1a" >[&gt;2560]</text>
<line x1="82.2" y1="221.62" x2="84.5" y2="221.62" stroke="#555" stroke-width="0.9" />
<text x="82.6" y="222.92" font-size="10.9" text-anchor="end" font-weight="normal" fill="#1a1a1a" >1024</text>
<line x1="82.2" y1="237.38" x2="84.5" y2="237.38" stroke="#555" stroke-width="0.9" />
<text x="82.6" y="240.68" font-size="10.9" text-anchor="end" font-weight="normal" fill="#1a1a1a" >256</text>
<line x1="82.2" y1="253.14" x2="84.5" y2="253.14" stroke="#555" stroke-width="0.9" />
<text x="82.6" y="256.14" font-size="10.9" text-anchor="end" font-weight="normal" fill="#1a1a1a" >64</text>
<line x1="82.2" y1="274.26" x2="84.5" y2="274.26" stroke="#555" stroke-width="0.9" />
<text x="82.6" y="276.76" font-size="10.9" text-anchor="end" font-weight="normal" fill="#1a1a1a" >[&lt;40]</text>
<line x1="82.2" y1="282.14" x2="84.5" y2="282.14" stroke="#555" stroke-width="0.9" />
<text x="82.6" y="285.94" font-size="10.9" text-anchor="end" font-weight="normal" fill="#1a1a1a" >[0]</text>
<text x="0" y="0" transform="translate(45.6,245.05) rotate(-90)" font-size="12.7" text-anchor="middle" font-weight="normal" fill="#1a1a1a" >Wild-type</text>
<line x1="84.5" y1="304.97" x2="350.2" y2="304.97" stroke="#f4f4f4" stroke-width="0.8" />
<line x1="84.5" y1="321.29" x2="350.2" y2="321.29" stroke="#f4f4f4" stroke-width="0.8" />
<line x1="84.5" y1="337.68" x2="350.2" y2="337.68" stroke="#f4f4f4" stroke-width="0.8" />
<line x1="84.5" y1="353.52" x2="350.2" y2="353.52" stroke="#f4f4f4" stroke-width="0.8" />
<line x1="84.5" y1="295.44" x2="350.2" y2="295.44" stroke="#ebebeb" stroke-width="1" />
<line x1="84.5" y1="313.72" x2="350.2" y2="313.72" stroke="#ebebeb" stroke-width="1" />
<line x1="84.5" y1="329.48" x2="350.2" y2="329.48" stroke="#ebebeb" stroke-width="1" />
<line x1="84.5" y1="345.24" x2="350.2" y2="345.24" stroke="#ebebeb" stroke-width="1" />
<line x1="84.5" y1="366.36" x2="350.2" y2="366.36" stroke="#ebebeb" stroke-width="1" />
<line x1="84.5" y1="374.24" x2="350.2" y2="374.24" stroke="#ebebeb" stroke-width="1" />
<line x1="355.4" y1="304.97" x2="620.6" y2="304.97" stroke="#f4f4f4" stroke-width="0.8" />
<line x1="355.4" y1="321.29" x2="620.6" y2="321.29" stroke="#f4f4f4" stroke-width="0.8" />
<line x1="355.4" y1="337.68" x2="620.6" y2="337.68" stroke="#f4f4f4" stroke-width="0.8" />
<line x1="355.4" y1="353.52" x2="620.6" y2="353.52" stroke="#f4f4f4" stroke-width="0.8" />
<line x1="355.4" y1="295.44" x2="620.6" y2="295.44" stroke="#ebebeb" stroke-width="1" />
<line x1="355.4" y1="313.72" x2="620.6" y2="313.72" stroke="#ebebeb" stroke-width="1" />
<line x1="355.4" y1="329.48" x2="620.6" y2="329.48" stroke="#ebebeb" stroke-width="1" />
<line x1="355.4" y1="345.24" x2="620.6" y2="345.24" stroke="#ebebeb" stroke-width="1" />
<line x1="355.4" y1="366.36" x2="620.6" y2="366.36" stroke="#ebebeb" stroke-width="1" />
<line x1="355.4" y1="374.24" x2="620.6" y2="374.24" stroke="#ebebeb" stroke-width="1" />
<line x1="82.2" y1="295.44" x2="84.5" y2="295.44" stroke="#555" stroke-width="0.9" />
<text x="82.6" y="298.84" font-size="10.9" text-anchor="end" font-weight="normal" fill="#1a1a1a" >[&gt;2560]</text>
<line x1="82.2" y1="313.72" x2="84.5" y2="313.72" stroke="#555" stroke-width="0.9" />
<text x="82.6" y="315.02" font-size="10.9" text-anchor="end" font-weight="normal" fill="#1a1a1a" >1024</text>
<line x1="82.2" y1="329.48" x2="84.5" y2="329.48" stroke="#555" stroke-width="0.9" />
<text x="82.6" y="332.78" font-size="10.9" text-anchor="end" font-weight="normal" fill="#1a1a1a" >256</text>
<line x1="82.2" y1="345.24" x2="84.5" y2="345.24" stroke="#555" stroke-width="0.9" />
<text x="82.6" y="348.24" font-size="10.9" text-anchor="end" font-weight="normal" fill="#1a1a1a" >64</text>
<line x1="82.2" y1="366.36" x2="84.5" y2="366.36" stroke="#555" stroke-width="0.9" />
<text x="82.6" y="368.86" font-size="10.9" text-anchor="end" font-weight="normal" fill="#1a1a1a" >[&lt;40]</text>
<line x1="82.2" y1="374.24" x2="84.5" y2="374.24" stroke="#555" stroke-width="0.9" />
<text x="82.6" y="378.04" font-size="10.9" text-anchor="end" font-weight="normal" fill="#1a1a1a" >[0]</text>
<text x="0" y="0" transform="translate(47.9,339.75) rotate(-90)" font-size="12.7" text-anchor="middle" font-weight="normal" fill="#1a1a1a" >A.27</text>
<line x1="84.5" y1="397.07" x2="350.2" y2="397.07" stroke="#f4f4f4" stroke-width="0.8" />
<line x1="84.5" y1="413.39" x2="350.2" y2="413.39" stroke="#f4f4f4" stroke-width="0.8" />
<line x1="84.5" y1="429.78" x2="350.2" y2="429.78" stroke="#f4f4f4" stroke-width="0.8" />
<line x1="84.5" y1="445.62" x2="350.2" y2="445.62" stroke="#f4f4f4" stroke-width="0.8" />
<line x1="84.5" y1="387.54" x2="350.2" y2="387.54" stroke="#ebebeb" stroke-width="1" />
<line x1="84.5" y1="405.82" x2="350.2" y2="405.82" stroke="#ebebeb" stroke-width="1" />
<line x1="84.5" y1="421.58" x2="350.2" y2="421.58" stroke="#ebebeb" stroke-width="1" />
<line x1="84.5" y1="437.34" x2="350.2" y2="437.34" stroke="#ebebeb" stroke-width="1" />
<line x1="84.5" y1="458.46" x2="350.2" y2="458.46" stroke="#ebebeb" stroke-width="1" />
<line x1="84.5" y1="466.34" x2="350.2" y2="466.34" stroke="#ebebeb" stroke-width="1" />
<line x1="355.4" y1="397.07" x2="620.6" y2="397.07" stroke="#f4f4f4" stroke-width="0.8" />
<line x1="355.4" y1="413.39" x2="620.6" y2="413.39" stroke="#f4f4f4" stroke-width="0.8" />
<line x1="355.4" y1="429.78" x2="620.6" y2="429.78" stroke="#f4f4f4" stroke-width="0.8" />
<line x1="355.4" y1="445.62" x2="620.6" y2="445.62" stroke="#f4f4f4" stroke-width="0.8" />
<line x1="355.4" y1="387.54" x2="620.6" y2="387.54" stroke="#ebebeb" stroke-width="1" />
<line x1="355.4" y1="405.82" x2="620.6" y2="405.82" stroke="#ebebeb" stroke-width="1" />
<line x1="355.4" y1="421.58" x2="620.6" y2="421.58" stroke="#ebebeb" stroke-width="1" />
<line x1="355.4" y1="437.34" x2="620.6" y2="437.34" stroke="#ebebeb" stroke-width="1" />
<line x1="355.4" y1="458.46" x2="620.6" y2="458.46" stroke="#ebebeb" stroke-width="1" />
<line x1="355.4" y1="466.34" x2="620.6" y2="466.34" stroke="#ebebeb" stroke-width="1" />
<line x1="82.2" y1="387.54" x2="84.5" y2="387.54" stroke="#555" stroke-width="0.9" />
<text x="82.6" y="390.94" font-size="10.9" text-anchor="end" font-weight="normal" fill="#1a1a1a" >[&gt;2560]</text>
<line x1="82.2" y1="405.82" x2="84.5" y2="405.82" stroke="#555" stroke-width="0.9" />
<text x="82.6" y="407.12" font-size="10.9" text-anchor="end" font-weight="normal" fill="#1a1a1a" >1024</text>
<line x1="82.2" y1="421.58" x2="84.5" y2="421.58" stroke="#555" stroke-width="0.9" />
<text x="82.6" y="424.88" font-size="10.9" text-anchor="end" font-weight="normal" fill="#1a1a1a" >256</text>
<line x1="82.2" y1="437.34" x2="84.5" y2="437.34" stroke="#555" stroke-width="0.9" />
<text x="82.6" y="440.34" font-size="10.9" text-anchor="end" font-weight="normal" fill="#1a1a1a" >64</text>
<line x1="82.2" y1="458.46" x2="84.5" y2="458.46" stroke="#555" stroke-width="0.9" />
<text x="82.6" y="460.96" font-size="10.9" text-anchor="end" font-weight="normal" fill="#1a1a1a" >[&lt;40]</text>
<line x1="82.2" y1="466.34" x2="84.5" y2="466.34" stroke="#555" stroke-width="0.9" />
<text x="82.6" y="470.14" font-size="10.9" text-anchor="end" font-weight="normal" fill="#1a1a1a" >[0]</text>
<text x="0" y="0" transform="translate(47.9,430.1) rotate(-90)" font-size="12.7" text-anchor="middle" font-weight="normal" fill="#1a1a1a" >Eta</text>
<line x1="84.5" y1="489.17" x2="350.2" y2="489.17" stroke="#f4f4f4" stroke-width="0.8" />
<line x1="84.5" y1="505.49" x2="350.2" y2="505.49" stroke="#f4f4f4" stroke-width="0.8" />
<line x1="84.5" y1="521.88" x2="350.2" y2="521.88" stroke="#f4f4f4" stroke-width="0.8" />
<line x1="84.5" y1="537.72" x2="350.2" y2="537.72" stroke="#f4f4f4" stroke-width="0.8" />
<line x1="84.5" y1="479.64" x2="350.2" y2="479.64" stroke="#ebebeb" stroke-width="1" />
<line x1="84.5" y1="497.92" x2="350.2" y2="497.92" stroke="#ebebeb" stroke-width="1" />
<line x1="84.5" y1="513.68" x2="350.2" y2="513.68" stroke="#ebebeb" stroke-width="1" />
<line x1="84.5" y1="529.44" x2="350.2" y2="529.44" stroke="#ebebeb" stroke-width="1" />
<line x1="84.5" y1="550.56" x2="350.2" y2="550.56" stroke="#ebebeb" stroke-width="1" />
<line x1="84.5" y1="558.44" x2="350.2" y2="558.44" stroke="#ebebeb" stroke-width="1" />
<line x1="355.4" y1="489.17" x2="620.6" y2="489.17" stroke="#f4f4f4" stroke-width="0.8" />
<line x1="355.4" y1="505.49" x2="620.6" y2="505.49" stroke="#f4f4f4" stroke-width="0.8" />
<line x1="355.4" y1="521.88" x2="620.6" y2="521.88" stroke="#f4f4f4" stroke-width="0.8" />
<line x1="355.4" y1="537.72" x2="620.6" y2="537.72" stroke="#f4f4f4" stroke-width="0.8" />
<line x1="355.4" y1="479.64" x2="620.6" y2="479.64" stroke="#ebebeb" stroke-width="1" />
<line x1="355.4" y1="497.92" x2="620.6" y2="497.92" stroke="#ebebeb" stroke-width="1" />
<line x1="355.4" y1="513.68" x2="620.6" y2="513.68" stroke="#ebebeb" stroke-width="1" />
<line x1="355.4" y1="529.44" x2="620.6" y2="529.44" stroke="#ebebeb" stroke-width="1" />
<line x1="355.4" y1="550.56" x2="620.6" y2="550.56" stroke="#ebebeb" stroke-width="1" />
<line x1="355.4" y1="558.44" x2="620.6" y2="558.44" stroke="#ebebeb" stroke-width="1" />
<line x1="82.2" y1="479.64" x2="84.5" y2="479.64" stroke="#555" stroke-width="0.9" />
<text x="82.6" y="483.04" font-size="10.9" text-anchor="end" font-weight="normal" fill="#1a1a1a" >[&gt;2560]</text>
<line x1="82.2" y1="497.92" x2="84.5" y2="497.92" stroke="#555" stroke-width="0.9" />
<text x="82.6" y="499.22" font-size="10.9" text-anchor="end" font-weight="normal" fill="#1a1a1a" >1024</text>
<line x1="82.2" y1="513.68" x2="84.5" y2="513.68" stroke="#555" stroke-width="0.9" />
<text x="82.6" y="516.98" font-size="10.9" text-anchor="end" font-weight="normal" fill="#1a1a1a" >256</text>
<line x1="82.2" y1="529.44" x2="84.5" y2="529.44" stroke="#555" stroke-width="0.9" />
<text x="82.6" y="532.44" font-size="10.9" text-anchor="end" font-weight="normal" fill="#1a1a1a" >64</text>
<line x1="82.2" y1="550.56" x2="84.5" y2="550.56" stroke="#555" stroke-width="0.9" />
<text x="82.6" y="553.06" font-size="10.9" text-anchor="end" font-weight="normal" fill="#1a1a1a" >[&lt;40]</text>
<line x1="82.2" y1="558.44" x2="84.5" y2="558.44" stroke="#555" stroke-width="0.9" />
<text x="82.6" y="562.24" font-size="10.9" text-anchor="end" font-weight="normal" fill="#1a1a1a" >[0]</text>
<text x="0" y="0" transform="translate(47.9,519.3) rotate(-90)" font-size="12.7" text-anchor="middle" font-weight="normal" fill="#1a1a1a" >Delta</text>
<line x1="84.5" y1="581.27" x2="350.2" y2="581.27" stroke="#f4f4f4" stroke-width="0.8" />
<line x1="84.5" y1="597.59" x2="350.2" y2="597.59" stroke="#f4f4f4" stroke-width="0.8" />
<line x1="84.5" y1="613.98" x2="350.2" y2="613.98" stroke="#f4f4f4" stroke-width="0.8" />
<line x1="84.5" y1="629.82" x2="350.2" y2="629.82" stroke="#f4f4f4" stroke-width="0.8" />
<line x1="84.5" y1="571.74" x2="350.2" y2="571.74" stroke="#ebebeb" stroke-width="1" />
<line x1="84.5" y1="590.02" x2="350.2" y2="590.02" stroke="#ebebeb" stroke-width="1" />
<line x1="84.5" y1="605.78" x2="350.2" y2="605.78" stroke="#ebebeb" stroke-width="1" />
<line x1="84.5" y1="621.54" x2="350.2" y2="621.54" stroke="#ebebeb" stroke-width="1" />
<line x1="84.5" y1="642.66" x2="350.2" y2="642.66" stroke="#ebebeb" stroke-width="1" />
<line x1="84.5" y1="650.54" x2="350.2" y2="650.54" stroke="#ebebeb" stroke-width="1" />
<line x1="355.4" y1="581.27" x2="620.6" y2="581.27" stroke="#f4f4f4" stroke-width="0.8" />
<line x1="355.4" y1="597.59" x2="620.6" y2="597.59" stroke="#f4f4f4" stroke-width="0.8" />
<line x1="355.4" y1="613.98" x2="620.6" y2="613.98" stroke="#f4f4f4" stroke-width="0.8" />
<line x1="355.4" y1="629.82" x2="620.6" y2="629.82" stroke="#f4f4f4" stroke-width="0.8" />
<line x1="355.4" y1="571.74" x2="620.6" y2="571.74" stroke="#ebebeb" stroke-width="1" />
<line x1="355.4" y1="590.02" x2="620.6" y2="590.02" stroke="#ebebeb" stroke-width="1" />
<line x1="355.4" y1="605.78" x2="620.6" y2="605.78" stroke="#ebebeb" stroke-width="1" />
<line x1="355.4" y1="621.54" x2="620.6" y2="621.54" stroke="#ebebeb" stroke-width="1" />
<line x1="355.4" y1="642.66" x2="620.6" y2="642.66" stroke="#ebebeb" stroke-width="1" />
<line x1="355.4" y1="650.54" x2="620.6" y2="650.54" stroke="#ebebeb" stroke-width="1" />
<line x1="82.2" y1="571.74" x2="84.5" y2="571.74" stroke="#555" stroke-width="0.9" />
<text x="82.6" y="575.14" font-size="10.9" text-anchor="end" font-weight="normal" fill="#1a1a1a" >[&gt;2560]</text>
<line x1="82.2" y1="590.02" x2="84.5" y2="590.02" stroke="#555" stroke-width="0.9" />
<text x="82.6" y="591.32" font-size="10.9" text-anchor="end" font-weight="normal" fill="#1a1a1a" >1024</text>
<line x1="82.2" y1="605.78" x2="84.5" y2="605.78" stroke="#555" stroke-width="0.9" />
<text x="82.6" y="609.08" font-size="10.9" text-anchor="end" font-weight="normal" fill="#1a1a1a" >256</text>
<line x1="82.2" y1="621.54" x2="84.5" y2="621.54" stroke="#555" stroke-width="0.9" />
<text x="82.6" y="624.54" font-size="10.9" text-anchor="end" font-weight="normal" fill="#1a1a1a" >64</text>
<line x1="82.2" y1="642.66" x2="84.5" y2="642.66" stroke="#555" stroke-width="0.9" />
<text x="82.6" y="645.16" font-size="10.9" text-anchor="end" font-weight="normal" fill="#1a1a1a" >[&lt;40]</text>
<line x1="82.2" y1="650.54" x2="84.5" y2="650.54" stroke="#555" stroke-width="0.9" />
<text x="82.6" y="654.34" font-size="10.9" text-anchor="end" font-weight="normal" fill="#1a1a1a" >[0]</text>
<text x="0" y="0" transform="translate(47.9,611.75) rotate(-90)" font-size="12.7" text-anchor="middle" font-weight="normal" fill="#1a1a1a" >Omicron BA.2</text>
<line x1="84.5" y1="673.37" x2="350.2" y2="673.37" stroke="#f4f4f4" stroke-width="0.8" />
<line x1="84.5" y1="689.69" x2="350.2" y2="689.69" stroke="#f4f4f4" stroke-width="0.8" />
<line x1="84.5" y1="706.08" x2="350.2" y2="706.08" stroke="#f4f4f4" stroke-width="0.8" />
<line x1="84.5" y1="721.92" x2="350.2" y2="721.92" stroke="#f4f4f4" stroke-width="0.8" />
<line x1="84.5" y1="663.84" x2="350.2" y2="663.84" stroke="#ebebeb" stroke-width="1" />
<line x1="84.5" y1="682.12" x2="350.2" y2="682.12" stroke="#ebebeb" stroke-width="1" />
<line x1="84.5" y1="697.88" x2="350.2" y2="697.88" stroke="#ebebeb" stroke-width="1" />
<line x1="84.5" y1="713.64" x2="350.2" y2="713.64" stroke="#ebebeb" stroke-width="1" />
<line x1="84.5" y1="734.76" x2="350.2" y2="734.76" stroke="#ebebeb" stroke-width="1" />
<line x1="84.5" y1="742.64" x2="350.2" y2="742.64" stroke="#ebebeb" stroke-width="1" />
<line x1="82.2" y1="663.84" x2="84.5" y2="663.84" stroke="#555" stroke-width="0.9" />
<text x="82.6" y="667.24" font-size="10.9" text-anchor="end" font-weight="normal" fill="#1a1a1a" >[&gt;2560]</text>
<line x1="82.2" y1="682.12" x2="84.5" y2="682.12" stroke="#555" stroke-width="0.9" />
<text x="82.6" y="683.42" font-size="10.9" text-anchor="end" font-weight="normal" fill="#1a1a1a" >1024</text>
<line x1="82.2" y1="697.88" x2="84.5" y2="697.88" stroke="#555" stroke-width="0.9" />
<text x="82.6" y="701.18" font-size="10.9" text-anchor="end" font-weight="normal" fill="#1a1a1a" >256</text>
<line x1="82.2" y1="713.64" x2="84.5" y2="713.64" stroke="#555" stroke-width="0.9" />
<text x="82.6" y="716.64" font-size="10.9" text-anchor="end" font-weight="normal" fill="#1a1a1a" >64</text>
<line x1="82.2" y1="734.76" x2="84.5" y2="734.76" stroke="#555" stroke-width="0.9" />
<text x="82.6" y="737.26" font-size="10.9" text-anchor="end" font-weight="normal" fill="#1a1a1a" >[&lt;40]</text>
<line x1="82.2" y1="742.64" x2="84.5" y2="742.64" stroke="#555" stroke-width="0.9" />
<text x="82.6" y="746.44" font-size="10.9" text-anchor="end" font-weight="normal" fill="#1a1a1a" >[0]</text>
<text x="0" y="0" transform="translate(47.9,705.75) rotate(-90)" font-size="12.7" text-anchor="middle" font-weight="normal" fill="#1a1a1a" >XBB.1.5</text>
<text x="195.5" y="194" font-size="10.9" text-anchor="start" font-weight="normal" fill="#1a1a1a" >HERITAGE</text>
<text x="468.1" y="193.2" font-size="10.9" text-anchor="start" font-weight="normal" fill="#1a1a1a" >LEGACY</text>
<text x="0" y="0" transform="translate(16.7,548.5) rotate(-90)" font-size="12.8" fill="#1a1a1a">Viral Neutralisation, IC<tspan dx="1.4" dy="2.6">50</tspan></text>
<text x="97.93" y="757.4" font-size="13.0" text-anchor="start" font-weight="normal" fill="#1a1a1a" >Baseline</text>
<text x="161.33" y="757.4" font-size="13.0" text-anchor="start" font-weight="normal" fill="#1a1a1a" >Month 3</text>
<text x="224.93" y="757.4" font-size="13.0" text-anchor="start" font-weight="normal" fill="#1a1a1a" >Month 6</text>
<text x="286.93" y="757.4" font-size="13.0" text-anchor="start" font-weight="normal" fill="#1a1a1a" >Month 12</text>
<text x="367.53" y="665.4" font-size="13.0" text-anchor="start" font-weight="normal" fill="#1a1a1a" >Baseline</text>
<text x="436.33" y="665.4" font-size="13.0" text-anchor="start" font-weight="normal" fill="#1a1a1a" >Month 3</text>
<text x="498.43" y="665.4" font-size="13.0" text-anchor="start" font-weight="normal" fill="#1a1a1a" >Month 6</text>
<text x="560.43" y="665.4" font-size="13.0" text-anchor="start" font-weight="normal" fill="#1a1a1a" >Month 12</text>
<g fill="#e41a1c" stroke="#e41a1c" stroke-width="0.5" fill-opacity="0.3" stroke-opacity="0.35"><circle cx="113.5" cy="203.0" r="1.25"/><circle cx="117.8" cy="203.0" r="1.25"/><circle cx="119.2" cy="203.0" r="1.25"/><circle cx="125.4" cy="203.0" r="1.25"/><circle cx="116.0" cy="216.9" r="1.25"/><circle cx="126.9" cy="220.6" r="1.25"/><circle cx="118.0" cy="227.6" r="1.25"/><circle cx="132.1" cy="250.5" r="1.25"/><circle cx="113.8" cy="238.8" r="1.25"/><circle cx="125.4" cy="239.8" r="1.25"/><circle cx="114.4" cy="228.8" r="1.25"/><circle cx="129.2" cy="226.2" r="1.25"/><circle cx="112.2" cy="241.7" r="1.25"/><circle cx="132.4" cy="230.2" r="1.25"/><circle cx="133.9" cy="212.5" r="1.25"/><circle cx="120.2" cy="219.8" r="1.25"/><circle cx="121.4" cy="220.6" r="1.25"/><circle cx="134.7" cy="232.8" r="1.25"/><circle cx="127.3" cy="237.5" r="1.25"/><circle cx="112.4" cy="246.9" r="1.25"/><circle cx="128.0" cy="220.0" r="1.25"/><circle cx="114.8" cy="236.7" r="1.25"/><circle cx="125.0" cy="233.8" r="1.25"/><circle cx="134.3" cy="254.8" r="1.25"/><circle cx="110.2" cy="244.4" r="1.25"/><circle cx="118.3" cy="243.9" r="1.25"/><circle cx="118.2" cy="221.7" r="1.25"/><circle cx="123.6" cy="243.5" r="1.25"/><circle cx="124.1" cy="232.3" r="1.25"/><circle cx="118.1" cy="217.1" r="1.25"/><circle cx="123.1" cy="243.9" r="1.25"/><circle cx="132.5" cy="249.0" r="1.25"/><circle cx="126.0" cy="225.2" r="1.25"/><circle cx="115.9" cy="240.7" r="1.25"/><circle cx="121.5" cy="246.0" r="1.25"/><circle cx="119.6" cy="236.7" r="1.25"/><circle cx="122.3" cy="256.4" r="1.25"/><circle cx="121.4" cy="239.2" r="1.25"/><circle cx="132.6" cy="229.1" r="1.25"/><circle cx="110.5" cy="249.7" r="1.25"/><circle cx="135.5" cy="216.1" r="1.25"/><circle cx="118.4" cy="252.6" r="1.25"/><circle cx="124.0" cy="219.7" r="1.25"/><circle cx="122.3" cy="230.9" r="1.25"/><circle cx="111.6" cy="233.1" r="1.25"/><circle cx="109.9" cy="248.9" r="1.25"/><circle cx="116.5" cy="251.5" r="1.25"/><circle cx="116.4" cy="238.3" r="1.25"/><circle cx="129.3" cy="239.4" r="1.25"/><circle cx="117.9" cy="211.6" r="1.25"/><circle cx="125.9" cy="234.7" r="1.25"/><circle cx="126.4" cy="236.6" r="1.25"/><circle cx="110.3" cy="231.5" r="1.25"/><circle cx="122.7" cy="219.9" r="1.25"/><circle cx="134.2" cy="252.2" r="1.25"/><circle cx="122.0" cy="245.5" r="1.25"/><circle cx="111.3" cy="240.3" r="1.25"/><circle cx="124.6" cy="247.6" r="1.25"/><circle cx="116.8" cy="234.3" r="1.25"/><circle cx="129.1" cy="231.0" r="1.25"/><circle cx="131.4" cy="250.1" r="1.25"/><circle cx="110.8" cy="240.4" r="1.25"/><circle cx="121.3" cy="248.8" r="1.25"/><circle cx="114.5" cy="244.0" r="1.25"/><circle cx="120.5" cy="225.9" r="1.25"/><circle cx="117.2" cy="233.1" r="1.25"/><circle cx="118.4" cy="240.4" r="1.25"/><circle cx="124.8" cy="222.2" r="1.25"/><circle cx="111.0" cy="237.0" r="1.25"/><circle cx="121.5" cy="227.0" r="1.25"/><circle cx="115.5" cy="226.1" r="1.25"/><circle cx="115.8" cy="224.2" r="1.25"/><circle cx="110.1" cy="255.4" r="1.25"/><circle cx="121.8" cy="229.2" r="1.25"/><circle cx="123.8" cy="245.8" r="1.25"/><circle cx="114.9" cy="241.1" r="1.25"/><circle cx="113.3" cy="241.6" r="1.25"/><circle cx="120.9" cy="212.1" r="1.25"/><circle cx="124.6" cy="245.5" r="1.25"/><circle cx="124.8" cy="238.0" r="1.25"/><circle cx="132.6" cy="213.2" r="1.25"/><circle cx="120.7" cy="225.4" r="1.25"/><circle cx="109.5" cy="237.6" r="1.25"/><circle cx="118.0" cy="234.9" r="1.25"/><circle cx="129.7" cy="213.9" r="1.25"/><circle cx="126.2" cy="236.1" r="1.25"/><circle cx="133.5" cy="250.8" r="1.25"/><circle cx="125.3" cy="245.6" r="1.25"/><circle cx="114.3" cy="250.9" r="1.25"/><circle cx="134.4" cy="239.6" r="1.25"/><circle cx="113.1" cy="238.8" r="1.25"/><circle cx="115.3" cy="226.1" r="1.25"/><circle cx="109.7" cy="223.5" r="1.25"/><circle cx="112.6" cy="257.5" r="1.25"/><circle cx="112.8" cy="241.8" r="1.25"/><circle cx="111.8" cy="236.1" r="1.25"/><circle cx="112.3" cy="246.3" r="1.25"/><circle cx="112.7" cy="249.4" r="1.25"/><circle cx="123.3" cy="242.9" r="1.25"/><circle cx="111.7" cy="240.6" r="1.25"/><circle cx="131.8" cy="242.3" r="1.25"/><circle cx="111.2" cy="255.4" r="1.25"/><circle cx="109.8" cy="211.9" r="1.25"/><circle cx="127.9" cy="246.1" r="1.25"/><circle cx="114.8" cy="225.5" r="1.25"/><circle cx="116.9" cy="219.9" r="1.25"/><circle cx="126.9" cy="248.8" r="1.25"/><circle cx="129.5" cy="223.6" r="1.25"/><circle cx="113.6" cy="228.4" r="1.25"/><circle cx="117.0" cy="227.9" r="1.25"/><circle cx="120.2" cy="244.3" r="1.25"/><circle cx="122.0" cy="241.4" r="1.25"/><circle cx="121.2" cy="242.4" r="1.25"/><circle cx="116.5" cy="242.3" r="1.25"/><circle cx="126.0" cy="282.0" r="1.25"/></g>
<path d="M119.2,202.8 L125.8,202.8 C125.45,203.62 123.5,206.17 123.7,207.7 C123.9,209.23 125.73,210.37 127,212 C128.27,213.63 129.77,215.28 131.3,217.5 C132.83,219.72 134.57,222.37 136.2,225.3 C137.83,228.23 139.48,232.22 141.1,235.1 C142.72,237.98 146.8,239.98 145.9,242.6 C145,245.22 138.6,248.73 135.7,250.8 C132.8,252.87 130.5,253.7 128.5,255 C126.5,256.3 124.64,256.1 123.7,258.6 C122.76,261.1 122.99,266.08 122.85,270 C122.71,273.92 122.85,280.08 122.85,282.1 L122.15,282.1 C122.15,280.08 122.29,273.92 122.15,270 C122.01,266.08 122.24,261.1 121.3,258.6 C120.36,256.1 118.5,256.3 116.5,255 C114.5,253.7 112.2,252.87 109.3,250.8 C106.4,248.73 100,245.22 99.1,242.6 C98.2,239.98 102.28,237.98 103.9,235.1 C105.52,232.22 107.17,228.23 108.8,225.3 C110.43,222.37 112.17,219.72 113.7,217.5 C115.23,215.28 116.73,213.63 118,212 C119.27,210.37 121.1,209.23 121.3,207.7 C121.5,206.17 119.55,203.62 119.2,202.8 Z" fill="none" stroke="#e41a1c" stroke-width="1.45" stroke-linejoin="round"/>
<path d="M122.5,235.2 L124.8,237.5 L122.5,239.8 L120.2,237.5 Z" fill="#fff" stroke="#000" stroke-width="1.15"/>
<g fill="#e41a1c" stroke="#e41a1c" stroke-width="0.5" fill-opacity="0.3" stroke-opacity="0.35"><circle cx="180.5" cy="203.0" r="1.25"/><circle cx="175.4" cy="203.0" r="1.25"/><circle cx="176.5" cy="203.0" r="1.25"/><circle cx="191.7" cy="203.0" r="1.25"/><circle cx="175.6" cy="203.0" r="1.25"/><circle cx="195.1" cy="203.0" r="1.25"/><circle cx="183.8" cy="203.0" r="1.25"/><circle cx="179.3" cy="203.0" r="1.25"/><circle cx="175.1" cy="203.0" r="1.25"/><circle cx="189.6" cy="203.0" r="1.25"/><circle cx="189.2" cy="203.0" r="1.25"/><circle cx="179.8" cy="203.0" r="1.25"/><circle cx="177.3" cy="203.0" r="1.25"/><circle cx="174.4" cy="203.0" r="1.25"/><circle cx="177.6" cy="203.0" r="1.25"/><circle cx="185.0" cy="203.0" r="1.25"/><circle cx="173.3" cy="203.0" r="1.25"/><circle cx="174.8" cy="203.0" r="1.25"/><circle cx="192.0" cy="203.0" r="1.25"/><circle cx="183.7" cy="203.0" r="1.25"/><circle cx="198.0" cy="203.0" r="1.25"/><circle cx="179.5" cy="203.0" r="1.25"/><circle cx="189.3" cy="203.0" r="1.25"/><circle cx="177.0" cy="203.0" r="1.25"/><circle cx="188.1" cy="203.0" r="1.25"/><circle cx="189.9" cy="217.8" r="1.25"/><circle cx="182.5" cy="239.8" r="1.25"/><circle cx="195.3" cy="221.8" r="1.25"/><circle cx="183.2" cy="235.7" r="1.25"/><circle cx="189.8" cy="240.3" r="1.25"/><circle cx="175.2" cy="231.8" r="1.25"/><circle cx="177.3" cy="237.9" r="1.25"/><circle cx="197.0" cy="253.5" r="1.25"/><circle cx="176.7" cy="230.8" r="1.25"/><circle cx="177.5" cy="214.9" r="1.25"/><circle cx="177.3" cy="220.0" r="1.25"/><circle cx="173.5" cy="237.7" r="1.25"/><circle cx="174.7" cy="214.7" r="1.25"/><circle cx="188.7" cy="212.1" r="1.25"/><circle cx="190.3" cy="218.9" r="1.25"/><circle cx="192.0" cy="224.7" r="1.25"/><circle cx="195.5" cy="227.8" r="1.25"/><circle cx="177.2" cy="221.9" r="1.25"/><circle cx="191.3" cy="228.0" r="1.25"/><circle cx="183.7" cy="228.4" r="1.25"/><circle cx="177.2" cy="222.0" r="1.25"/><circle cx="191.8" cy="240.7" r="1.25"/><circle cx="193.3" cy="224.5" r="1.25"/><circle cx="174.8" cy="224.1" r="1.25"/><circle cx="194.8" cy="248.3" r="1.25"/><circle cx="186.7" cy="218.5" r="1.25"/><circle cx="184.6" cy="239.0" r="1.25"/><circle cx="190.9" cy="226.4" r="1.25"/><circle cx="198.3" cy="222.7" r="1.25"/><circle cx="185.5" cy="244.3" r="1.25"/><circle cx="175.3" cy="241.7" r="1.25"/><circle cx="190.0" cy="214.0" r="1.25"/><circle cx="196.9" cy="240.2" r="1.25"/><circle cx="189.9" cy="215.4" r="1.25"/><circle cx="195.4" cy="243.8" r="1.25"/><circle cx="196.4" cy="249.8" r="1.25"/><circle cx="178.4" cy="246.0" r="1.25"/><circle cx="191.1" cy="226.7" r="1.25"/><circle cx="180.7" cy="230.8" r="1.25"/><circle cx="181.8" cy="215.6" r="1.25"/><circle cx="193.0" cy="228.0" r="1.25"/><circle cx="192.8" cy="223.7" r="1.25"/><circle cx="192.1" cy="249.8" r="1.25"/><circle cx="196.6" cy="220.2" r="1.25"/><circle cx="180.1" cy="225.9" r="1.25"/><circle cx="189.2" cy="244.6" r="1.25"/><circle cx="172.9" cy="234.6" r="1.25"/><circle cx="184.6" cy="216.5" r="1.25"/><circle cx="196.2" cy="225.9" r="1.25"/><circle cx="187.4" cy="222.8" r="1.25"/><circle cx="193.7" cy="221.4" r="1.25"/><circle cx="191.2" cy="235.2" r="1.25"/><circle cx="174.4" cy="222.9" r="1.25"/><circle cx="185.9" cy="229.3" r="1.25"/><circle cx="174.4" cy="229.3" r="1.25"/><circle cx="190.2" cy="219.7" r="1.25"/><circle cx="175.9" cy="225.6" r="1.25"/><circle cx="173.3" cy="219.0" r="1.25"/><circle cx="195.9" cy="225.6" r="1.25"/><circle cx="198.6" cy="223.2" r="1.25"/><circle cx="178.0" cy="219.4" r="1.25"/><circle cx="177.1" cy="231.8" r="1.25"/><circle cx="175.8" cy="225.9" r="1.25"/><circle cx="187.4" cy="236.3" r="1.25"/><circle cx="192.3" cy="212.0" r="1.25"/><circle cx="184.1" cy="229.9" r="1.25"/><circle cx="183.0" cy="220.4" r="1.25"/><circle cx="186.8" cy="216.6" r="1.25"/><circle cx="187.5" cy="219.3" r="1.25"/><circle cx="190.5" cy="229.9" r="1.25"/><circle cx="177.0" cy="227.0" r="1.25"/><circle cx="180.3" cy="211.3" r="1.25"/><circle cx="191.6" cy="216.8" r="1.25"/><circle cx="190.3" cy="217.3" r="1.25"/><circle cx="174.0" cy="227.0" r="1.25"/><circle cx="178.8" cy="225.0" r="1.25"/><circle cx="175.4" cy="241.2" r="1.25"/><circle cx="177.7" cy="213.7" r="1.25"/><circle cx="176.9" cy="211.7" r="1.25"/><circle cx="197.0" cy="213.9" r="1.25"/><circle cx="194.0" cy="223.5" r="1.25"/><circle cx="194.0" cy="226.4" r="1.25"/><circle cx="185.9" cy="223.5" r="1.25"/><circle cx="187.0" cy="223.3" r="1.25"/><circle cx="190.7" cy="226.7" r="1.25"/><circle cx="175.5" cy="230.2" r="1.25"/><circle cx="174.5" cy="211.7" r="1.25"/><circle cx="186.3" cy="228.5" r="1.25"/><circle cx="196.5" cy="236.4" r="1.25"/><circle cx="190.6" cy="235.7" r="1.25"/><circle cx="174.2" cy="247.2" r="1.25"/><circle cx="190.8" cy="212.9" r="1.25"/><circle cx="174.1" cy="226.6" r="1.25"/><circle cx="185.6" cy="244.4" r="1.25"/><circle cx="194.3" cy="212.0" r="1.25"/><circle cx="192.2" cy="228.6" r="1.25"/><circle cx="186.6" cy="212.6" r="1.25"/><circle cx="188.7" cy="224.5" r="1.25"/><circle cx="193.6" cy="220.5" r="1.25"/><circle cx="195.7" cy="227.6" r="1.25"/><circle cx="178.0" cy="248.8" r="1.25"/><circle cx="189.0" cy="226.0" r="1.25"/><circle cx="192.1" cy="234.5" r="1.25"/><circle cx="182.4" cy="231.4" r="1.25"/><circle cx="191.9" cy="226.1" r="1.25"/><circle cx="198.1" cy="243.3" r="1.25"/><circle cx="183.3" cy="231.4" r="1.25"/><circle cx="188.7" cy="221.1" r="1.25"/><circle cx="179.6" cy="229.7" r="1.25"/><circle cx="185.3" cy="223.5" r="1.25"/><circle cx="186.7" cy="217.1" r="1.25"/><circle cx="178.4" cy="233.7" r="1.25"/><circle cx="195.3" cy="223.5" r="1.25"/><circle cx="176.2" cy="232.7" r="1.25"/><circle cx="175.0" cy="222.5" r="1.25"/><circle cx="188.6" cy="231.7" r="1.25"/><circle cx="180.0" cy="225.1" r="1.25"/><circle cx="186.1" cy="218.1" r="1.25"/><circle cx="179.6" cy="221.8" r="1.25"/><circle cx="197.9" cy="213.3" r="1.25"/><circle cx="174.0" cy="254.0" r="1.25"/></g>
<path d="M170.1,202.8 L201.5,202.8 C200.88,203.17 199.2,203.85 197.8,205 C196.4,206.15 193.43,208.37 193.1,209.7 C192.77,211.03 194.42,211.7 195.8,213 C197.18,214.3 198.97,215.7 201.4,217.5 C203.83,219.3 210.55,221.52 210.4,223.8 C210.25,226.08 203.05,228.33 200.5,231.2 C197.95,234.07 196.72,238.2 195.1,241 C193.48,243.8 192.29,245.78 190.8,248 C189.31,250.22 186.93,253.25 186.15,254.3 L185.45,254.3 C184.68,253.25 182.29,250.22 180.8,248 C179.31,245.78 178.12,243.8 176.5,241 C174.88,238.2 173.65,234.07 171.1,231.2 C168.55,228.33 161.35,226.08 161.2,223.8 C161.05,221.52 167.77,219.3 170.2,217.5 C172.63,215.7 174.42,214.3 175.8,213 C177.18,211.7 178.83,211.03 178.5,209.7 C178.17,208.37 175.2,206.15 173.8,205 C172.4,203.85 170.72,203.17 170.1,202.8 Z" fill="none" stroke="#e41a1c" stroke-width="1.45" stroke-linejoin="round"/>
<path d="M185.8,220.7 L188.1,223 L185.8,225.3 L183.5,223 Z" fill="#fff" stroke="#000" stroke-width="1.15"/>
<g fill="#e41a1c" stroke="#e41a1c" stroke-width="0.5" fill-opacity="0.3" stroke-opacity="0.35"><circle cx="241.9" cy="203.0" r="1.25"/><circle cx="240.8" cy="203.0" r="1.25"/><circle cx="245.9" cy="203.0" r="1.25"/><circle cx="245.1" cy="203.0" r="1.25"/><circle cx="257.4" cy="203.0" r="1.25"/><circle cx="255.4" cy="203.0" r="1.25"/><circle cx="245.0" cy="203.0" r="1.25"/><circle cx="240.6" cy="203.0" r="1.25"/><circle cx="248.3" cy="203.0" r="1.25"/><circle cx="242.3" cy="203.0" r="1.25"/><circle cx="237.4" cy="203.0" r="1.25"/><circle cx="258.8" cy="203.0" r="1.25"/><circle cx="262.0" cy="217.3" r="1.25"/><circle cx="251.6" cy="220.8" r="1.25"/><circle cx="260.5" cy="213.8" r="1.25"/><circle cx="243.1" cy="234.9" r="1.25"/><circle cx="253.9" cy="242.8" r="1.25"/><circle cx="236.6" cy="209.9" r="1.25"/><circle cx="258.0" cy="244.7" r="1.25"/><circle cx="256.3" cy="221.6" r="1.25"/><circle cx="249.6" cy="236.1" r="1.25"/><circle cx="252.3" cy="222.8" r="1.25"/><circle cx="240.3" cy="224.5" r="1.25"/><circle cx="252.2" cy="222.0" r="1.25"/><circle cx="248.9" cy="230.4" r="1.25"/><circle cx="256.7" cy="215.6" r="1.25"/><circle cx="237.3" cy="218.7" r="1.25"/><circle cx="241.1" cy="229.2" r="1.25"/><circle cx="245.3" cy="220.3" r="1.25"/><circle cx="236.7" cy="212.5" r="1.25"/><circle cx="260.6" cy="213.9" r="1.25"/><circle cx="254.2" cy="221.5" r="1.25"/><circle cx="244.0" cy="223.1" r="1.25"/><circle cx="248.4" cy="219.8" r="1.25"/><circle cx="237.8" cy="220.5" r="1.25"/><circle cx="257.5" cy="220.8" r="1.25"/><circle cx="248.3" cy="225.6" r="1.25"/><circle cx="254.3" cy="229.8" r="1.25"/><circle cx="247.5" cy="226.2" r="1.25"/><circle cx="254.3" cy="229.7" r="1.25"/><circle cx="237.3" cy="219.8" r="1.25"/><circle cx="236.5" cy="221.8" r="1.25"/><circle cx="255.8" cy="224.7" r="1.25"/><circle cx="240.8" cy="225.7" r="1.25"/><circle cx="251.1" cy="211.9" r="1.25"/><circle cx="248.4" cy="222.3" r="1.25"/><circle cx="238.6" cy="232.6" r="1.25"/><circle cx="246.6" cy="228.4" r="1.25"/><circle cx="242.3" cy="229.8" r="1.25"/><circle cx="252.8" cy="233.2" r="1.25"/><circle cx="247.5" cy="231.2" r="1.25"/><circle cx="245.7" cy="225.8" r="1.25"/><circle cx="254.1" cy="224.5" r="1.25"/><circle cx="259.8" cy="240.2" r="1.25"/><circle cx="257.7" cy="210.6" r="1.25"/><circle cx="243.6" cy="225.8" r="1.25"/><circle cx="248.8" cy="233.0" r="1.25"/><circle cx="244.2" cy="230.5" r="1.25"/><circle cx="254.8" cy="221.0" r="1.25"/><circle cx="261.0" cy="228.1" r="1.25"/><circle cx="257.0" cy="225.8" r="1.25"/><circle cx="241.0" cy="230.9" r="1.25"/><circle cx="238.6" cy="231.2" r="1.25"/><circle cx="245.0" cy="234.8" r="1.25"/><circle cx="237.5" cy="230.4" r="1.25"/><circle cx="261.0" cy="218.2" r="1.25"/><circle cx="246.6" cy="221.3" r="1.25"/><circle cx="240.8" cy="224.9" r="1.25"/><circle cx="253.1" cy="222.5" r="1.25"/><circle cx="249.2" cy="222.3" r="1.25"/><circle cx="253.6" cy="243.6" r="1.25"/><circle cx="256.5" cy="225.3" r="1.25"/><circle cx="244.5" cy="219.8" r="1.25"/><circle cx="259.8" cy="221.8" r="1.25"/><circle cx="258.8" cy="223.6" r="1.25"/><circle cx="252.3" cy="224.1" r="1.25"/><circle cx="244.8" cy="228.5" r="1.25"/><circle cx="242.3" cy="240.7" r="1.25"/><circle cx="254.1" cy="229.0" r="1.25"/><circle cx="238.5" cy="220.5" r="1.25"/><circle cx="236.2" cy="231.0" r="1.25"/><circle cx="258.6" cy="210.0" r="1.25"/><circle cx="261.5" cy="219.6" r="1.25"/><circle cx="254.1" cy="224.2" r="1.25"/><circle cx="257.0" cy="233.5" r="1.25"/><circle cx="242.4" cy="220.6" r="1.25"/><circle cx="238.9" cy="230.7" r="1.25"/><circle cx="251.0" cy="223.2" r="1.25"/><circle cx="256.4" cy="221.9" r="1.25"/><circle cx="249.0" cy="228.6" r="1.25"/><circle cx="251.2" cy="216.3" r="1.25"/><circle cx="240.1" cy="223.7" r="1.25"/><circle cx="257.6" cy="221.5" r="1.25"/><circle cx="238.7" cy="223.5" r="1.25"/><circle cx="256.0" cy="223.9" r="1.25"/><circle cx="249.9" cy="226.5" r="1.25"/><circle cx="252.6" cy="225.0" r="1.25"/><circle cx="238.9" cy="235.0" r="1.25"/><circle cx="243.2" cy="224.0" r="1.25"/><circle cx="241.1" cy="222.8" r="1.25"/><circle cx="250.4" cy="234.7" r="1.25"/><circle cx="245.9" cy="238.0" r="1.25"/><circle cx="261.8" cy="214.0" r="1.25"/><circle cx="240.5" cy="220.1" r="1.25"/><circle cx="236.2" cy="237.3" r="1.25"/><circle cx="259.3" cy="216.7" r="1.25"/><circle cx="257.7" cy="232.4" r="1.25"/><circle cx="243.8" cy="214.1" r="1.25"/><circle cx="261.6" cy="225.2" r="1.25"/><circle cx="256.3" cy="216.2" r="1.25"/><circle cx="249.4" cy="221.3" r="1.25"/><circle cx="259.3" cy="247.3" r="1.25"/><circle cx="252.2" cy="233.3" r="1.25"/><circle cx="259.9" cy="229.3" r="1.25"/><circle cx="260.9" cy="218.6" r="1.25"/><circle cx="258.2" cy="230.3" r="1.25"/><circle cx="240.4" cy="224.0" r="1.25"/><circle cx="249.6" cy="218.7" r="1.25"/><circle cx="243.0" cy="228.0" r="1.25"/><circle cx="260.6" cy="207.2" r="1.25"/><circle cx="244.9" cy="222.2" r="1.25"/><circle cx="239.1" cy="219.4" r="1.25"/><circle cx="249.3" cy="227.6" r="1.25"/><circle cx="253.2" cy="230.3" r="1.25"/><circle cx="251.5" cy="209.2" r="1.25"/><circle cx="257.7" cy="227.2" r="1.25"/><circle cx="257.1" cy="227.4" r="1.25"/><circle cx="244.1" cy="221.2" r="1.25"/><circle cx="242.8" cy="227.7" r="1.25"/><circle cx="261.6" cy="221.7" r="1.25"/><circle cx="239.7" cy="232.3" r="1.25"/><circle cx="245.3" cy="219.5" r="1.25"/><circle cx="257.7" cy="223.3" r="1.25"/><circle cx="246.3" cy="246.6" r="1.25"/><circle cx="260.1" cy="217.9" r="1.25"/><circle cx="255.2" cy="231.9" r="1.25"/><circle cx="252.2" cy="233.4" r="1.25"/><circle cx="258.6" cy="234.9" r="1.25"/><circle cx="249.7" cy="225.4" r="1.25"/><circle cx="240.4" cy="226.5" r="1.25"/><circle cx="259.2" cy="219.0" r="1.25"/><circle cx="262.0" cy="238.0" r="1.25"/><circle cx="259.0" cy="250.0" r="1.25"/></g>
<path d="M236.3,202.8 L261.7,202.8 C261.08,203.17 259.22,204.18 258,205 C256.78,205.82 254.57,206.7 254.4,207.7 C254.23,208.7 255.65,209.68 257,211 C258.35,212.32 258.98,213.47 262.5,215.6 C266.02,217.73 277.82,221.03 278.1,223.8 C278.38,226.57 268.15,229 264.2,232.2 C260.25,235.4 256.88,239.97 254.4,243 C251.93,246.03 250.19,249.17 249.35,250.4 L248.65,250.4 C247.81,249.17 246.07,246.03 243.6,243 C241.12,239.97 237.75,235.4 233.8,232.2 C229.85,229 219.62,226.57 219.9,223.8 C220.18,221.03 231.98,217.73 235.5,215.6 C239.02,213.47 239.65,212.32 241,211 C242.35,209.68 243.77,208.7 243.6,207.7 C243.43,206.7 241.22,205.82 240,205 C238.78,204.18 236.92,203.17 236.3,202.8 Z" fill="none" stroke="#e41a1c" stroke-width="1.45" stroke-linejoin="round"/>
<path d="M249,222.1 L251.3,224.4 L249,226.7 L246.7,224.4 Z" fill="#fff" stroke="#000" stroke-width="1.15"/>
<g fill="#e41a1c" stroke="#e41a1c" stroke-width="0.5" fill-opacity="0.3" stroke-opacity="0.35"><circle cx="301.7" cy="203.0" r="1.25"/><circle cx="309.4" cy="203.0" r="1.25"/><circle cx="316.5" cy="203.0" r="1.25"/><circle cx="307.5" cy="203.0" r="1.25"/><circle cx="315.7" cy="203.0" r="1.25"/><circle cx="313.2" cy="203.0" r="1.25"/><circle cx="318.2" cy="226.7" r="1.25"/><circle cx="320.6" cy="227.6" r="1.25"/><circle cx="319.5" cy="228.1" r="1.25"/><circle cx="303.9" cy="217.1" r="1.25"/><circle cx="310.3" cy="217.5" r="1.25"/><circle cx="303.0" cy="208.0" r="1.25"/><circle cx="309.8" cy="211.9" r="1.25"/><circle cx="313.5" cy="232.5" r="1.25"/><circle cx="304.8" cy="230.1" r="1.25"/><circle cx="320.2" cy="239.7" r="1.25"/><circle cx="312.6" cy="208.9" r="1.25"/><circle cx="324.4" cy="222.6" r="1.25"/><circle cx="315.3" cy="250.0" r="1.25"/><circle cx="322.7" cy="240.1" r="1.25"/><circle cx="313.9" cy="247.5" r="1.25"/><circle cx="317.2" cy="219.0" r="1.25"/><circle cx="320.1" cy="244.2" r="1.25"/><circle cx="304.0" cy="229.5" r="1.25"/><circle cx="321.2" cy="210.2" r="1.25"/><circle cx="312.7" cy="226.9" r="1.25"/><circle cx="324.7" cy="223.5" r="1.25"/><circle cx="307.3" cy="234.9" r="1.25"/><circle cx="320.2" cy="229.0" r="1.25"/><circle cx="302.9" cy="210.2" r="1.25"/><circle cx="314.5" cy="224.4" r="1.25"/><circle cx="324.0" cy="237.2" r="1.25"/><circle cx="311.2" cy="236.6" r="1.25"/><circle cx="301.3" cy="240.1" r="1.25"/><circle cx="319.5" cy="224.7" r="1.25"/><circle cx="323.2" cy="229.7" r="1.25"/><circle cx="305.6" cy="241.8" r="1.25"/><circle cx="311.8" cy="207.1" r="1.25"/><circle cx="303.7" cy="217.3" r="1.25"/><circle cx="314.1" cy="223.3" r="1.25"/><circle cx="315.8" cy="229.7" r="1.25"/><circle cx="309.2" cy="221.1" r="1.25"/><circle cx="300.0" cy="214.0" r="1.25"/><circle cx="308.6" cy="225.9" r="1.25"/><circle cx="316.4" cy="235.6" r="1.25"/><circle cx="304.5" cy="214.7" r="1.25"/><circle cx="304.6" cy="227.9" r="1.25"/><circle cx="311.3" cy="229.8" r="1.25"/><circle cx="323.7" cy="209.4" r="1.25"/><circle cx="301.8" cy="238.4" r="1.25"/><circle cx="309.3" cy="223.0" r="1.25"/><circle cx="307.7" cy="225.4" r="1.25"/><circle cx="300.9" cy="232.0" r="1.25"/><circle cx="312.8" cy="248.8" r="1.25"/><circle cx="306.8" cy="218.8" r="1.25"/><circle cx="316.1" cy="227.3" r="1.25"/><circle cx="302.5" cy="215.7" r="1.25"/><circle cx="317.8" cy="208.5" r="1.25"/><circle cx="305.2" cy="222.1" r="1.25"/><circle cx="316.6" cy="221.5" r="1.25"/><circle cx="319.7" cy="233.4" r="1.25"/><circle cx="299.6" cy="239.4" r="1.25"/><circle cx="322.7" cy="247.9" r="1.25"/><circle cx="307.3" cy="223.6" r="1.25"/><circle cx="306.8" cy="233.7" r="1.25"/><circle cx="321.1" cy="234.7" r="1.25"/><circle cx="313.5" cy="207.3" r="1.25"/><circle cx="300.3" cy="222.5" r="1.25"/><circle cx="308.6" cy="239.6" r="1.25"/><circle cx="322.3" cy="245.7" r="1.25"/><circle cx="321.3" cy="229.5" r="1.25"/><circle cx="312.3" cy="221.2" r="1.25"/><circle cx="321.2" cy="223.3" r="1.25"/><circle cx="316.8" cy="225.1" r="1.25"/><circle cx="302.1" cy="233.1" r="1.25"/><circle cx="303.1" cy="236.4" r="1.25"/><circle cx="315.9" cy="222.8" r="1.25"/><circle cx="301.2" cy="220.0" r="1.25"/><circle cx="313.3" cy="234.5" r="1.25"/><circle cx="316.6" cy="227.4" r="1.25"/><circle cx="316.9" cy="220.9" r="1.25"/><circle cx="315.9" cy="238.1" r="1.25"/><circle cx="317.3" cy="224.7" r="1.25"/><circle cx="314.4" cy="223.6" r="1.25"/><circle cx="304.8" cy="235.5" r="1.25"/><circle cx="304.8" cy="238.3" r="1.25"/><circle cx="314.0" cy="219.2" r="1.25"/><circle cx="310.4" cy="222.6" r="1.25"/><circle cx="320.0" cy="222.0" r="1.25"/><circle cx="302.6" cy="226.2" r="1.25"/><circle cx="301.5" cy="232.6" r="1.25"/><circle cx="311.0" cy="236.3" r="1.25"/><circle cx="306.8" cy="214.9" r="1.25"/><circle cx="300.0" cy="233.2" r="1.25"/><circle cx="315.6" cy="227.9" r="1.25"/><circle cx="306.3" cy="216.6" r="1.25"/></g>
<path d="M303,202.8 L321.6,202.8 C321.3,203.17 320.37,204.18 319.8,205 C319.23,205.82 318.03,206.7 318.2,207.7 C318.37,208.7 319.67,209.68 320.8,211 C321.93,212.32 321.7,213.27 325,215.6 C328.3,217.93 339.38,222.6 340.6,225 C341.82,227.4 335.07,228.32 332.3,230 C329.53,231.68 325.75,233.43 324,235.1 C322.25,236.77 322.83,238.52 321.8,240 C320.77,241.48 318.85,242.83 317.8,244 C316.75,245.17 315.97,245.83 315.5,247 C315.03,248.17 315.08,249.83 315,251 C314.92,252.17 315.22,253.25 315,254 C314.78,254.75 313.92,255.25 313.7,255.5 L310.9,255.5 C310.68,255.25 309.82,254.75 309.6,254 C309.38,253.25 309.68,252.17 309.6,251 C309.52,249.83 309.57,248.17 309.1,247 C308.63,245.83 307.85,245.17 306.8,244 C305.75,242.83 303.83,241.48 302.8,240 C301.77,238.52 302.35,236.77 300.6,235.1 C298.85,233.43 295.07,231.68 292.3,230 C289.53,228.32 282.78,227.4 284,225 C285.22,222.6 296.3,217.93 299.6,215.6 C302.9,213.27 302.67,212.32 303.8,211 C304.93,209.68 306.23,208.7 306.4,207.7 C306.57,206.7 305.37,205.82 304.8,205 C304.23,204.18 303.3,203.17 303,202.8 Z" fill="none" stroke="#e41a1c" stroke-width="1.45" stroke-linejoin="round"/>
<path d="M312.3,223 L314.6,225.3 L312.3,227.6 L310,225.3 Z" fill="#fff" stroke="#000" stroke-width="1.15"/>
<g fill="#e41a1c" stroke="#e41a1c" stroke-width="0.5" fill-opacity="0.3" stroke-opacity="0.35"><circle cx="394.4" cy="203.0" r="1.25"/><circle cx="389.5" cy="203.0" r="1.25"/><circle cx="405.6" cy="282.0" r="1.25"/><circle cx="403.3" cy="282.0" r="1.25"/><circle cx="392.5" cy="244.0" r="1.25"/><circle cx="401.1" cy="243.4" r="1.25"/><circle cx="393.9" cy="245.6" r="1.25"/><circle cx="406.2" cy="245.5" r="1.25"/><circle cx="401.6" cy="242.2" r="1.25"/><circle cx="401.4" cy="244.0" r="1.25"/><circle cx="390.8" cy="239.5" r="1.25"/><circle cx="391.6" cy="244.0" r="1.25"/><circle cx="394.6" cy="241.7" r="1.25"/><circle cx="402.1" cy="243.6" r="1.25"/><circle cx="389.4" cy="242.6" r="1.25"/><circle cx="403.3" cy="246.6" r="1.25"/><circle cx="400.3" cy="244.4" r="1.25"/><circle cx="382.2" cy="232.3" r="1.25"/><circle cx="400.3" cy="239.6" r="1.25"/><circle cx="394.7" cy="239.3" r="1.25"/><circle cx="397.8" cy="243.3" r="1.25"/><circle cx="393.7" cy="246.7" r="1.25"/><circle cx="405.4" cy="245.4" r="1.25"/><circle cx="392.0" cy="232.6" r="1.25"/><circle cx="397.2" cy="244.3" r="1.25"/><circle cx="402.9" cy="242.1" r="1.25"/><circle cx="388.0" cy="235.0" r="1.25"/><circle cx="385.3" cy="245.9" r="1.25"/><circle cx="389.5" cy="245.1" r="1.25"/><circle cx="384.2" cy="241.0" r="1.25"/><circle cx="398.7" cy="251.0" r="1.25"/><circle cx="382.1" cy="247.5" r="1.25"/><circle cx="401.9" cy="239.9" r="1.25"/><circle cx="398.9" cy="243.6" r="1.25"/><circle cx="381.2" cy="243.4" r="1.25"/><circle cx="386.5" cy="247.2" r="1.25"/><circle cx="404.8" cy="240.4" r="1.25"/><circle cx="384.6" cy="242.8" r="1.25"/><circle cx="383.0" cy="239.6" r="1.25"/><circle cx="398.3" cy="247.0" r="1.25"/><circle cx="392.5" cy="249.2" r="1.25"/><circle cx="398.7" cy="236.4" r="1.25"/><circle cx="406.2" cy="234.4" r="1.25"/><circle cx="395.1" cy="245.5" r="1.25"/><circle cx="401.1" cy="246.6" r="1.25"/><circle cx="394.6" cy="232.9" r="1.25"/><circle cx="391.0" cy="238.4" r="1.25"/><circle cx="390.3" cy="245.6" r="1.25"/><circle cx="385.7" cy="242.3" r="1.25"/><circle cx="400.1" cy="240.1" r="1.25"/><circle cx="403.9" cy="250.6" r="1.25"/><circle cx="384.9" cy="241.8" r="1.25"/><circle cx="383.1" cy="250.4" r="1.25"/><circle cx="395.5" cy="246.4" r="1.25"/><circle cx="389.5" cy="253.3" r="1.25"/><circle cx="393.4" cy="249.9" r="1.25"/><circle cx="404.5" cy="236.8" r="1.25"/><circle cx="401.1" cy="237.6" r="1.25"/><circle cx="391.2" cy="246.3" r="1.25"/><circle cx="388.5" cy="240.6" r="1.25"/><circle cx="394.3" cy="241.2" r="1.25"/><circle cx="396.9" cy="243.5" r="1.25"/><circle cx="387.0" cy="247.5" r="1.25"/><circle cx="383.0" cy="237.5" r="1.25"/><circle cx="405.4" cy="248.3" r="1.25"/><circle cx="385.9" cy="247.8" r="1.25"/><circle cx="389.7" cy="245.5" r="1.25"/><circle cx="401.9" cy="246.1" r="1.25"/><circle cx="404.5" cy="246.0" r="1.25"/><circle cx="383.4" cy="252.0" r="1.25"/><circle cx="401.9" cy="247.9" r="1.25"/><circle cx="396.3" cy="250.9" r="1.25"/><circle cx="401.0" cy="246.7" r="1.25"/><circle cx="395.2" cy="244.3" r="1.25"/><circle cx="402.8" cy="217.6" r="1.25"/><circle cx="392.5" cy="210.9" r="1.25"/><circle cx="382.5" cy="225.8" r="1.25"/><circle cx="387.3" cy="226.8" r="1.25"/><circle cx="386.0" cy="212.8" r="1.25"/><circle cx="396.1" cy="215.5" r="1.25"/><circle cx="380.4" cy="228.9" r="1.25"/><circle cx="396.3" cy="213.6" r="1.25"/><circle cx="405.9" cy="210.1" r="1.25"/><circle cx="397.5" cy="212.4" r="1.25"/><circle cx="390.6" cy="231.9" r="1.25"/><circle cx="395.6" cy="214.2" r="1.25"/><circle cx="390.3" cy="223.9" r="1.25"/><circle cx="384.0" cy="212.9" r="1.25"/><circle cx="389.2" cy="231.7" r="1.25"/><circle cx="394.7" cy="230.7" r="1.25"/><circle cx="403.0" cy="226.3" r="1.25"/><circle cx="383.7" cy="224.3" r="1.25"/></g>
<path d="M391.6,202.8 L395,202.8 C394.92,203.17 394.73,204.18 394.5,205 C394.27,205.82 393.79,206.2 393.65,207.7 C393.51,209.2 393.21,212.28 393.65,214 C394.09,215.72 395.73,216.5 396.3,218 C396.88,219.5 397.02,221.33 397.1,223 C397.18,224.67 396.6,226.5 396.8,228 C397,229.5 397.63,230.67 398.3,232 C398.97,233.33 399.3,234.67 400.8,236 C402.3,237.33 404.88,238.83 407.3,240 C409.72,241.17 412.83,242.12 415.3,243 C417.77,243.88 422.43,244.47 422.1,245.3 C421.77,246.13 416.43,247.08 413.3,248 C410.17,248.92 406.35,249.68 403.3,250.8 C400.25,251.92 396.61,253.17 395,254.7 C393.39,256.23 393.88,256.12 393.65,260 C393.43,263.88 393.43,274.38 393.65,278 C393.88,281.62 394.77,281.08 395,281.7 L391.6,281.7 C391.83,281.08 392.73,281.62 392.95,278 C393.17,274.38 393.17,263.88 392.95,260 C392.73,256.12 393.21,256.23 391.6,254.7 C389.99,253.17 386.35,251.92 383.3,250.8 C380.25,249.68 376.43,248.92 373.3,248 C370.17,247.08 364.83,246.13 364.5,245.3 C364.17,244.47 368.83,243.88 371.3,243 C373.77,242.12 376.88,241.17 379.3,240 C381.72,238.83 384.3,237.33 385.8,236 C387.3,234.67 387.63,233.33 388.3,232 C388.97,230.67 389.6,229.5 389.8,228 C390,226.5 389.42,224.67 389.5,223 C389.58,221.33 389.73,219.5 390.3,218 C390.88,216.5 392.51,215.72 392.95,214 C393.39,212.28 393.09,209.2 392.95,207.7 C392.81,206.2 392.33,205.82 392.1,205 C391.88,204.18 391.68,203.17 391.6,202.8 Z" fill="none" stroke="#e41a1c" stroke-width="1.45" stroke-linejoin="round"/>
<path d="M393.3,241.6 L395.6,243.9 L393.3,246.2 L391,243.9 Z" fill="#fff" stroke="#000" stroke-width="1.15"/>
<g fill="#e41a1c" stroke="#e41a1c" stroke-width="0.5" fill-opacity="0.3" stroke-opacity="0.35"><circle cx="461.8" cy="203.0" r="1.25"/><circle cx="469.2" cy="203.0" r="1.25"/><circle cx="445.5" cy="203.0" r="1.25"/><circle cx="460.0" cy="203.0" r="1.25"/><circle cx="468.4" cy="203.0" r="1.25"/><circle cx="463.3" cy="203.0" r="1.25"/><circle cx="468.5" cy="203.0" r="1.25"/><circle cx="446.6" cy="203.0" r="1.25"/><circle cx="449.0" cy="203.0" r="1.25"/><circle cx="461.1" cy="203.0" r="1.25"/><circle cx="446.6" cy="203.0" r="1.25"/><circle cx="443.8" cy="203.0" r="1.25"/><circle cx="467.9" cy="203.0" r="1.25"/><circle cx="463.0" cy="203.0" r="1.25"/><circle cx="462.0" cy="203.0" r="1.25"/><circle cx="453.7" cy="203.0" r="1.25"/><circle cx="456.1" cy="203.0" r="1.25"/><circle cx="450.4" cy="203.0" r="1.25"/><circle cx="455.0" cy="203.0" r="1.25"/><circle cx="447.5" cy="203.0" r="1.25"/><circle cx="469.1" cy="203.0" r="1.25"/><circle cx="462.6" cy="203.0" r="1.25"/><circle cx="457.8" cy="251.1" r="1.25"/><circle cx="464.1" cy="234.6" r="1.25"/><circle cx="449.7" cy="244.4" r="1.25"/><circle cx="468.1" cy="224.5" r="1.25"/><circle cx="454.5" cy="239.7" r="1.25"/><circle cx="455.5" cy="236.9" r="1.25"/><circle cx="443.8" cy="257.2" r="1.25"/><circle cx="445.6" cy="208.6" r="1.25"/><circle cx="444.1" cy="250.0" r="1.25"/><circle cx="454.0" cy="211.0" r="1.25"/><circle cx="451.2" cy="231.0" r="1.25"/><circle cx="467.0" cy="238.8" r="1.25"/><circle cx="463.1" cy="228.0" r="1.25"/><circle cx="452.4" cy="237.9" r="1.25"/><circle cx="453.7" cy="219.5" r="1.25"/><circle cx="447.0" cy="222.4" r="1.25"/><circle cx="453.0" cy="235.1" r="1.25"/><circle cx="462.8" cy="220.2" r="1.25"/><circle cx="463.4" cy="228.8" r="1.25"/><circle cx="451.8" cy="244.6" r="1.25"/><circle cx="460.4" cy="226.6" r="1.25"/><circle cx="445.3" cy="213.9" r="1.25"/><circle cx="450.5" cy="224.3" r="1.25"/><circle cx="459.7" cy="228.4" r="1.25"/><circle cx="456.4" cy="225.9" r="1.25"/><circle cx="461.0" cy="252.5" r="1.25"/><circle cx="449.4" cy="220.0" r="1.25"/><circle cx="451.4" cy="238.4" r="1.25"/><circle cx="460.3" cy="227.9" r="1.25"/><circle cx="450.7" cy="213.4" r="1.25"/><circle cx="454.1" cy="243.3" r="1.25"/><circle cx="448.4" cy="241.7" r="1.25"/><circle cx="451.7" cy="236.9" r="1.25"/><circle cx="456.3" cy="211.6" r="1.25"/><circle cx="451.4" cy="235.3" r="1.25"/><circle cx="454.9" cy="213.2" r="1.25"/><circle cx="446.2" cy="228.7" r="1.25"/><circle cx="461.5" cy="228.4" r="1.25"/><circle cx="452.4" cy="245.2" r="1.25"/><circle cx="449.2" cy="230.0" r="1.25"/><circle cx="454.1" cy="209.4" r="1.25"/><circle cx="466.4" cy="219.6" r="1.25"/><circle cx="468.6" cy="241.2" r="1.25"/><circle cx="443.5" cy="237.6" r="1.25"/><circle cx="468.2" cy="211.4" r="1.25"/><circle cx="446.5" cy="222.9" r="1.25"/><circle cx="458.0" cy="212.0" r="1.25"/><circle cx="467.0" cy="222.3" r="1.25"/><circle cx="451.4" cy="222.4" r="1.25"/><circle cx="462.8" cy="255.3" r="1.25"/><circle cx="453.7" cy="238.0" r="1.25"/><circle cx="444.9" cy="244.0" r="1.25"/><circle cx="462.7" cy="241.3" r="1.25"/><circle cx="449.2" cy="215.5" r="1.25"/><circle cx="456.3" cy="231.5" r="1.25"/><circle cx="459.7" cy="233.3" r="1.25"/><circle cx="451.3" cy="251.3" r="1.25"/><circle cx="465.7" cy="249.9" r="1.25"/><circle cx="451.1" cy="222.9" r="1.25"/><circle cx="467.1" cy="231.0" r="1.25"/><circle cx="456.1" cy="243.4" r="1.25"/><circle cx="467.3" cy="213.6" r="1.25"/><circle cx="452.5" cy="223.1" r="1.25"/><circle cx="465.1" cy="239.8" r="1.25"/><circle cx="444.1" cy="228.2" r="1.25"/><circle cx="455.0" cy="243.2" r="1.25"/><circle cx="449.7" cy="232.8" r="1.25"/><circle cx="467.4" cy="239.0" r="1.25"/><circle cx="457.3" cy="239.8" r="1.25"/><circle cx="468.5" cy="242.3" r="1.25"/><circle cx="464.6" cy="252.4" r="1.25"/><circle cx="448.8" cy="227.8" r="1.25"/><circle cx="456.3" cy="242.8" r="1.25"/><circle cx="445.8" cy="254.3" r="1.25"/><circle cx="451.5" cy="227.7" r="1.25"/><circle cx="451.5" cy="238.6" r="1.25"/><circle cx="459.6" cy="233.9" r="1.25"/><circle cx="448.7" cy="220.0" r="1.25"/><circle cx="445.1" cy="233.0" r="1.25"/><circle cx="457.9" cy="237.2" r="1.25"/><circle cx="446.3" cy="233.9" r="1.25"/><circle cx="453.8" cy="248.3" r="1.25"/><circle cx="454.6" cy="228.8" r="1.25"/><circle cx="452.7" cy="247.6" r="1.25"/><circle cx="466.8" cy="223.9" r="1.25"/><circle cx="450.1" cy="229.0" r="1.25"/><circle cx="461.7" cy="231.8" r="1.25"/><circle cx="457.8" cy="231.8" r="1.25"/><circle cx="448.1" cy="232.1" r="1.25"/><circle cx="461.8" cy="238.7" r="1.25"/><circle cx="459.3" cy="237.8" r="1.25"/><circle cx="463.2" cy="240.9" r="1.25"/><circle cx="456.6" cy="247.2" r="1.25"/><circle cx="452.4" cy="234.6" r="1.25"/><circle cx="443.9" cy="223.3" r="1.25"/><circle cx="462.7" cy="243.4" r="1.25"/><circle cx="465.5" cy="239.5" r="1.25"/><circle cx="453.4" cy="237.3" r="1.25"/><circle cx="466.9" cy="223.7" r="1.25"/><circle cx="462.0" cy="230.4" r="1.25"/><circle cx="452.0" cy="282.0" r="1.25"/><circle cx="467.0" cy="282.0" r="1.25"/></g>
<path d="M452,202.8 L460.8,202.8 C460.63,203.62 459.63,205.25 459.8,207.7 C459.97,210.15 460.82,214.23 461.8,217.5 C462.78,220.77 464.77,224.2 465.7,227.3 C466.63,230.4 467.82,232.83 467.4,236.1 C466.98,239.37 464.97,243.15 463.2,246.9 C461.43,250.65 457.82,254.75 456.75,258.6 C455.68,262.45 456.75,266.08 456.75,270 C456.75,273.92 456.75,280.08 456.75,282.1 L456.05,282.1 C456.05,280.08 456.05,273.92 456.05,270 C456.05,266.08 457.12,262.45 456.05,258.6 C454.97,254.75 451.37,250.65 449.6,246.9 C447.82,243.15 445.82,239.37 445.4,236.1 C444.98,232.83 446.17,230.4 447.1,227.3 C448.03,224.2 450.02,220.77 451,217.5 C451.98,214.23 452.83,210.15 453,207.7 C453.17,205.25 452.17,203.62 452,202.8 Z" fill="none" stroke="#e41a1c" stroke-width="1.45" stroke-linejoin="round"/>
<path d="M456.4,231.8 L458.7,234.1 L456.4,236.4 L454.1,234.1 Z" fill="#fff" stroke="#000" stroke-width="1.15"/>
<g fill="#e41a1c" stroke="#e41a1c" stroke-width="0.5" fill-opacity="0.3" stroke-opacity="0.35"><circle cx="528.0" cy="203.0" r="1.25"/><circle cx="512.3" cy="203.0" r="1.25"/><circle cx="506.9" cy="203.0" r="1.25"/><circle cx="521.5" cy="203.0" r="1.25"/><circle cx="509.6" cy="203.0" r="1.25"/><circle cx="513.0" cy="203.0" r="1.25"/><circle cx="513.9" cy="203.0" r="1.25"/><circle cx="509.7" cy="203.0" r="1.25"/><circle cx="532.5" cy="203.0" r="1.25"/><circle cx="531.8" cy="203.0" r="1.25"/><circle cx="508.8" cy="203.0" r="1.25"/><circle cx="531.8" cy="203.0" r="1.25"/><circle cx="518.6" cy="203.0" r="1.25"/><circle cx="516.3" cy="203.0" r="1.25"/><circle cx="515.8" cy="203.0" r="1.25"/><circle cx="518.9" cy="203.0" r="1.25"/><circle cx="531.2" cy="203.0" r="1.25"/><circle cx="531.7" cy="203.0" r="1.25"/><circle cx="527.6" cy="203.0" r="1.25"/><circle cx="524.9" cy="203.0" r="1.25"/><circle cx="511.1" cy="229.4" r="1.25"/><circle cx="517.0" cy="224.0" r="1.25"/><circle cx="528.6" cy="249.1" r="1.25"/><circle cx="526.5" cy="248.2" r="1.25"/><circle cx="516.3" cy="231.8" r="1.25"/><circle cx="530.4" cy="229.5" r="1.25"/><circle cx="507.3" cy="240.2" r="1.25"/><circle cx="514.7" cy="241.1" r="1.25"/><circle cx="532.1" cy="220.8" r="1.25"/><circle cx="524.6" cy="256.2" r="1.25"/><circle cx="524.8" cy="239.4" r="1.25"/><circle cx="529.5" cy="231.9" r="1.25"/><circle cx="513.1" cy="227.5" r="1.25"/><circle cx="516.1" cy="238.3" r="1.25"/><circle cx="532.1" cy="243.0" r="1.25"/><circle cx="511.1" cy="221.2" r="1.25"/><circle cx="523.5" cy="251.9" r="1.25"/><circle cx="521.7" cy="252.2" r="1.25"/><circle cx="512.5" cy="246.7" r="1.25"/><circle cx="519.5" cy="229.9" r="1.25"/><circle cx="513.2" cy="239.3" r="1.25"/><circle cx="524.6" cy="224.4" r="1.25"/><circle cx="529.5" cy="243.9" r="1.25"/><circle cx="515.9" cy="236.7" r="1.25"/><circle cx="510.5" cy="245.8" r="1.25"/><circle cx="508.8" cy="226.5" r="1.25"/><circle cx="506.7" cy="211.0" r="1.25"/><circle cx="529.5" cy="240.5" r="1.25"/><circle cx="523.3" cy="253.1" r="1.25"/><circle cx="516.1" cy="225.6" r="1.25"/><circle cx="512.1" cy="215.1" r="1.25"/><circle cx="518.4" cy="237.7" r="1.25"/><circle cx="529.5" cy="242.2" r="1.25"/><circle cx="521.7" cy="239.2" r="1.25"/><circle cx="520.2" cy="210.5" r="1.25"/><circle cx="519.4" cy="211.2" r="1.25"/><circle cx="520.0" cy="218.2" r="1.25"/><circle cx="521.7" cy="210.3" r="1.25"/><circle cx="521.3" cy="239.7" r="1.25"/><circle cx="530.0" cy="255.8" r="1.25"/><circle cx="515.6" cy="237.7" r="1.25"/><circle cx="529.0" cy="229.5" r="1.25"/><circle cx="526.6" cy="254.7" r="1.25"/><circle cx="515.7" cy="240.0" r="1.25"/><circle cx="519.6" cy="250.3" r="1.25"/><circle cx="526.4" cy="235.9" r="1.25"/><circle cx="506.8" cy="225.7" r="1.25"/><circle cx="513.3" cy="230.3" r="1.25"/><circle cx="524.6" cy="229.3" r="1.25"/><circle cx="529.4" cy="221.4" r="1.25"/><circle cx="526.7" cy="247.0" r="1.25"/><circle cx="523.4" cy="232.3" r="1.25"/><circle cx="526.9" cy="236.8" r="1.25"/><circle cx="513.2" cy="232.6" r="1.25"/><circle cx="532.5" cy="220.7" r="1.25"/><circle cx="521.2" cy="231.4" r="1.25"/><circle cx="513.3" cy="236.7" r="1.25"/><circle cx="529.5" cy="243.4" r="1.25"/><circle cx="508.2" cy="256.7" r="1.25"/><circle cx="523.5" cy="241.4" r="1.25"/><circle cx="524.7" cy="241.6" r="1.25"/><circle cx="530.1" cy="253.8" r="1.25"/><circle cx="510.2" cy="254.1" r="1.25"/><circle cx="507.6" cy="212.9" r="1.25"/><circle cx="519.3" cy="244.9" r="1.25"/><circle cx="515.6" cy="244.6" r="1.25"/><circle cx="524.0" cy="259.6" r="1.25"/><circle cx="512.4" cy="238.2" r="1.25"/><circle cx="528.1" cy="217.3" r="1.25"/><circle cx="531.9" cy="243.8" r="1.25"/><circle cx="507.0" cy="230.6" r="1.25"/><circle cx="532.0" cy="240.8" r="1.25"/><circle cx="519.2" cy="225.3" r="1.25"/><circle cx="517.5" cy="245.4" r="1.25"/><circle cx="511.7" cy="230.5" r="1.25"/><circle cx="507.2" cy="239.5" r="1.25"/><circle cx="524.4" cy="221.2" r="1.25"/><circle cx="512.9" cy="220.9" r="1.25"/><circle cx="518.7" cy="245.8" r="1.25"/><circle cx="506.7" cy="233.5" r="1.25"/><circle cx="531.6" cy="235.8" r="1.25"/><circle cx="508.8" cy="255.1" r="1.25"/><circle cx="514.1" cy="238.5" r="1.25"/><circle cx="510.7" cy="230.2" r="1.25"/><circle cx="508.5" cy="235.6" r="1.25"/><circle cx="509.7" cy="238.6" r="1.25"/><circle cx="517.8" cy="228.6" r="1.25"/><circle cx="528.2" cy="243.9" r="1.25"/><circle cx="509.1" cy="225.4" r="1.25"/><circle cx="513.4" cy="235.4" r="1.25"/><circle cx="524.8" cy="234.7" r="1.25"/><circle cx="508.8" cy="236.2" r="1.25"/><circle cx="531.8" cy="247.6" r="1.25"/><circle cx="513.3" cy="227.6" r="1.25"/><circle cx="512.2" cy="225.4" r="1.25"/><circle cx="532.1" cy="220.4" r="1.25"/><circle cx="531.0" cy="240.0" r="1.25"/><circle cx="527.7" cy="214.8" r="1.25"/><circle cx="515.0" cy="235.2" r="1.25"/><circle cx="526.6" cy="244.8" r="1.25"/><circle cx="516.1" cy="230.7" r="1.25"/><circle cx="508.4" cy="244.2" r="1.25"/><circle cx="514.9" cy="233.2" r="1.25"/><circle cx="524.1" cy="244.4" r="1.25"/><circle cx="532.4" cy="244.2" r="1.25"/><circle cx="513.7" cy="244.1" r="1.25"/><circle cx="517.6" cy="247.1" r="1.25"/><circle cx="531.4" cy="225.7" r="1.25"/><circle cx="509.6" cy="222.8" r="1.25"/><circle cx="528.6" cy="241.3" r="1.25"/><circle cx="530.0" cy="274.8" r="1.25"/></g>
<path d="M515.4,202.8 L523.8,202.8 C523.38,203.47 521.43,204.67 521.3,206.8 C521.17,208.93 521.93,212.52 523,215.6 C524.07,218.68 526.27,222.07 527.7,225.3 C529.13,228.53 530.55,232.05 531.6,235 C532.65,237.95 534.62,240.37 534,243 C533.38,245.63 530.1,248.2 527.9,250.8 C525.7,253.4 522.12,256.07 520.8,258.6 C519.48,261.13 520.09,263.3 519.95,266 C519.81,268.7 519.95,273.33 519.95,274.8 L519.25,274.8 C519.25,273.33 519.39,268.7 519.25,266 C519.11,263.3 519.73,261.13 518.4,258.6 C517.07,256.07 513.5,253.4 511.3,250.8 C509.1,248.2 505.82,245.63 505.2,243 C504.58,240.37 506.55,237.95 507.6,235 C508.65,232.05 510.07,228.53 511.5,225.3 C512.93,222.07 515.13,218.68 516.2,215.6 C517.27,212.52 518.03,208.93 517.9,206.8 C517.77,204.67 515.82,203.47 515.4,202.8 Z" fill="none" stroke="#e41a1c" stroke-width="1.45" stroke-linejoin="round"/>
<path d="M519.6,236.1 L521.9,238.4 L519.6,240.7 L517.3,238.4 Z" fill="#fff" stroke="#000" stroke-width="1.15"/>
<g fill="#e41a1c" stroke="#e41a1c" stroke-width="0.5" fill-opacity="0.3" stroke-opacity="0.35"><circle cx="576.0" cy="203.0" r="1.25"/><circle cx="594.8" cy="203.0" r="1.25"/><circle cx="579.3" cy="203.0" r="1.25"/><circle cx="586.5" cy="203.0" r="1.25"/><circle cx="587.7" cy="203.0" r="1.25"/><circle cx="578.4" cy="203.0" r="1.25"/><circle cx="586.4" cy="203.0" r="1.25"/><circle cx="575.1" cy="203.0" r="1.25"/><circle cx="586.0" cy="203.0" r="1.25"/><circle cx="578.5" cy="203.0" r="1.25"/><circle cx="590.2" cy="203.0" r="1.25"/><circle cx="592.9" cy="203.0" r="1.25"/><circle cx="593.2" cy="203.0" r="1.25"/><circle cx="593.3" cy="203.0" r="1.25"/><circle cx="572.3" cy="203.0" r="1.25"/><circle cx="580.3" cy="203.0" r="1.25"/><circle cx="583.0" cy="253.5" r="1.25"/><circle cx="593.4" cy="237.7" r="1.25"/><circle cx="577.6" cy="242.2" r="1.25"/><circle cx="584.7" cy="231.1" r="1.25"/><circle cx="595.4" cy="219.9" r="1.25"/><circle cx="592.6" cy="230.5" r="1.25"/><circle cx="580.9" cy="214.9" r="1.25"/><circle cx="575.5" cy="253.9" r="1.25"/><circle cx="593.8" cy="238.4" r="1.25"/><circle cx="580.4" cy="234.4" r="1.25"/><circle cx="570.7" cy="229.3" r="1.25"/><circle cx="572.2" cy="219.4" r="1.25"/><circle cx="588.9" cy="249.6" r="1.25"/><circle cx="592.9" cy="227.6" r="1.25"/><circle cx="577.2" cy="261.4" r="1.25"/><circle cx="584.0" cy="229.4" r="1.25"/><circle cx="587.0" cy="213.2" r="1.25"/><circle cx="577.7" cy="228.2" r="1.25"/><circle cx="577.8" cy="224.9" r="1.25"/><circle cx="584.7" cy="228.2" r="1.25"/><circle cx="593.3" cy="252.3" r="1.25"/><circle cx="570.3" cy="258.2" r="1.25"/><circle cx="593.4" cy="225.4" r="1.25"/><circle cx="586.6" cy="216.6" r="1.25"/><circle cx="575.0" cy="232.0" r="1.25"/><circle cx="569.7" cy="232.0" r="1.25"/><circle cx="587.1" cy="236.2" r="1.25"/><circle cx="576.9" cy="231.9" r="1.25"/><circle cx="576.9" cy="234.6" r="1.25"/><circle cx="591.4" cy="248.2" r="1.25"/><circle cx="588.1" cy="225.1" r="1.25"/><circle cx="583.5" cy="226.3" r="1.25"/><circle cx="590.6" cy="230.4" r="1.25"/><circle cx="593.4" cy="229.4" r="1.25"/><circle cx="581.2" cy="225.3" r="1.25"/><circle cx="589.5" cy="218.5" r="1.25"/><circle cx="573.6" cy="232.5" r="1.25"/><circle cx="595.5" cy="235.8" r="1.25"/><circle cx="593.0" cy="223.7" r="1.25"/><circle cx="590.4" cy="243.9" r="1.25"/><circle cx="571.5" cy="235.6" r="1.25"/><circle cx="593.8" cy="249.5" r="1.25"/><circle cx="588.3" cy="240.4" r="1.25"/><circle cx="571.1" cy="211.3" r="1.25"/><circle cx="593.9" cy="223.7" r="1.25"/><circle cx="570.5" cy="222.4" r="1.25"/><circle cx="594.0" cy="235.7" r="1.25"/><circle cx="591.4" cy="258.1" r="1.25"/><circle cx="570.0" cy="216.6" r="1.25"/><circle cx="573.8" cy="245.9" r="1.25"/><circle cx="579.0" cy="229.7" r="1.25"/><circle cx="586.8" cy="247.5" r="1.25"/><circle cx="584.4" cy="236.6" r="1.25"/><circle cx="576.6" cy="243.9" r="1.25"/><circle cx="576.3" cy="225.5" r="1.25"/><circle cx="579.9" cy="229.4" r="1.25"/><circle cx="577.1" cy="254.5" r="1.25"/><circle cx="570.5" cy="237.1" r="1.25"/><circle cx="571.2" cy="236.4" r="1.25"/><circle cx="592.2" cy="239.5" r="1.25"/><circle cx="585.5" cy="236.3" r="1.25"/><circle cx="578.8" cy="234.6" r="1.25"/><circle cx="586.0" cy="251.1" r="1.25"/><circle cx="571.8" cy="227.5" r="1.25"/><circle cx="575.8" cy="237.3" r="1.25"/><circle cx="583.6" cy="249.5" r="1.25"/><circle cx="577.9" cy="259.2" r="1.25"/><circle cx="586.4" cy="232.2" r="1.25"/><circle cx="575.7" cy="230.9" r="1.25"/><circle cx="585.7" cy="245.9" r="1.25"/><circle cx="574.3" cy="264.2" r="1.25"/><circle cx="582.6" cy="210.8" r="1.25"/><circle cx="586.8" cy="217.3" r="1.25"/><circle cx="595.6" cy="223.9" r="1.25"/><circle cx="577.0" cy="238.1" r="1.25"/><circle cx="582.1" cy="255.6" r="1.25"/><circle cx="594.4" cy="234.8" r="1.25"/><circle cx="572.2" cy="212.6" r="1.25"/><circle cx="574.9" cy="212.0" r="1.25"/><circle cx="584.2" cy="222.5" r="1.25"/><circle cx="578.1" cy="225.7" r="1.25"/><circle cx="591.9" cy="228.3" r="1.25"/><circle cx="572.1" cy="229.9" r="1.25"/><circle cx="581.4" cy="247.2" r="1.25"/><circle cx="591.3" cy="228.3" r="1.25"/><circle cx="594.5" cy="274.8" r="1.25"/></g>
<path d="M579,202.8 L586.4,202.8 C586.48,203.67 586.62,205.87 586.9,208 C587.18,210.13 587.42,212.72 588.1,215.6 C588.78,218.48 590.02,221.07 591,225.3 C591.98,229.53 594.32,236.75 594,241 C593.68,245.25 590.92,247.87 589.1,250.8 C587.28,253.73 584.06,256.07 583.05,258.6 C582.04,261.13 583.05,263.3 583.05,266 C583.05,268.7 583.05,273.33 583.05,274.8 L582.35,274.8 C582.35,273.33 582.35,268.7 582.35,266 C582.35,263.3 583.36,261.13 582.35,258.6 C581.34,256.07 578.12,253.73 576.3,250.8 C574.48,247.87 571.72,245.25 571.4,241 C571.08,236.75 573.42,229.53 574.4,225.3 C575.38,221.07 576.62,218.48 577.3,215.6 C577.98,212.72 578.22,210.13 578.5,208 C578.78,205.87 578.92,203.67 579,202.8 Z" fill="none" stroke="#e41a1c" stroke-width="1.45" stroke-linejoin="round"/>
<path d="M582.7,232.2 L585,234.5 L582.7,236.8 L580.4,234.5 Z" fill="#fff" stroke="#000" stroke-width="1.15"/>
<g fill="#377eb8" stroke="#377eb8" stroke-width="0.5" fill-opacity="0.3" stroke-opacity="0.35"><circle cx="114.4" cy="295.0" r="1.25"/><circle cx="121.6" cy="295.0" r="1.25"/><circle cx="115.0" cy="295.0" r="1.25"/><circle cx="133.0" cy="295.0" r="1.25"/><circle cx="114.4" cy="295.0" r="1.25"/><circle cx="122.9" cy="349.0" r="1.25"/><circle cx="110.7" cy="349.0" r="1.25"/><circle cx="124.6" cy="349.0" r="1.25"/><circle cx="111.7" cy="349.0" r="1.25"/><circle cx="126.8" cy="349.0" r="1.25"/><circle cx="115.8" cy="349.0" r="1.25"/><circle cx="134.1" cy="349.0" r="1.25"/><circle cx="128.8" cy="349.0" r="1.25"/><circle cx="118.6" cy="349.0" r="1.25"/><circle cx="111.2" cy="349.0" r="1.25"/><circle cx="115.2" cy="366.4" r="1.25"/><circle cx="131.6" cy="366.4" r="1.25"/><circle cx="130.3" cy="366.4" r="1.25"/><circle cx="124.1" cy="366.4" r="1.25"/><circle cx="122.2" cy="374.1" r="1.25"/><circle cx="134.3" cy="374.1" r="1.25"/><circle cx="128.0" cy="374.1" r="1.25"/><circle cx="120.6" cy="374.1" r="1.25"/><circle cx="132.2" cy="374.1" r="1.25"/><circle cx="131.2" cy="374.1" r="1.25"/><circle cx="121.8" cy="374.1" r="1.25"/><circle cx="119.8" cy="374.1" r="1.25"/><circle cx="132.0" cy="374.1" r="1.25"/><circle cx="122.1" cy="374.1" r="1.25"/><circle cx="128.3" cy="374.1" r="1.25"/><circle cx="129.0" cy="374.1" r="1.25"/><circle cx="117.1" cy="374.1" r="1.25"/><circle cx="135.1" cy="374.1" r="1.25"/><circle cx="131.2" cy="374.1" r="1.25"/><circle cx="119.7" cy="374.1" r="1.25"/><circle cx="121.3" cy="323.5" r="1.25"/><circle cx="117.6" cy="349.2" r="1.25"/><circle cx="111.1" cy="307.5" r="1.25"/><circle cx="120.7" cy="338.3" r="1.25"/><circle cx="134.9" cy="329.0" r="1.25"/><circle cx="115.4" cy="330.9" r="1.25"/><circle cx="120.7" cy="340.2" r="1.25"/><circle cx="118.7" cy="343.4" r="1.25"/><circle cx="118.1" cy="337.4" r="1.25"/><circle cx="124.6" cy="346.9" r="1.25"/><circle cx="126.7" cy="300.3" r="1.25"/><circle cx="119.5" cy="348.9" r="1.25"/><circle cx="133.8" cy="314.7" r="1.25"/><circle cx="115.6" cy="334.4" r="1.25"/><circle cx="122.9" cy="332.2" r="1.25"/><circle cx="120.5" cy="319.3" r="1.25"/><circle cx="125.0" cy="322.8" r="1.25"/><circle cx="112.1" cy="351.4" r="1.25"/><circle cx="114.9" cy="307.2" r="1.25"/><circle cx="110.9" cy="310.4" r="1.25"/><circle cx="131.8" cy="357.1" r="1.25"/><circle cx="113.1" cy="325.0" r="1.25"/><circle cx="132.3" cy="314.4" r="1.25"/><circle cx="130.3" cy="323.4" r="1.25"/><circle cx="111.5" cy="349.4" r="1.25"/><circle cx="114.4" cy="354.2" r="1.25"/><circle cx="128.4" cy="328.9" r="1.25"/><circle cx="115.1" cy="339.1" r="1.25"/><circle cx="134.3" cy="334.7" r="1.25"/><circle cx="115.3" cy="327.5" r="1.25"/><circle cx="131.6" cy="327.3" r="1.25"/><circle cx="120.7" cy="320.9" r="1.25"/><circle cx="116.3" cy="318.8" r="1.25"/><circle cx="115.6" cy="305.2" r="1.25"/><circle cx="126.0" cy="327.8" r="1.25"/><circle cx="119.2" cy="332.7" r="1.25"/><circle cx="109.7" cy="323.5" r="1.25"/><circle cx="113.8" cy="310.6" r="1.25"/><circle cx="111.1" cy="299.0" r="1.25"/><circle cx="128.3" cy="299.0" r="1.25"/><circle cx="130.7" cy="349.8" r="1.25"/><circle cx="134.6" cy="354.0" r="1.25"/><circle cx="117.9" cy="330.4" r="1.25"/><circle cx="113.6" cy="347.7" r="1.25"/><circle cx="119.1" cy="334.1" r="1.25"/><circle cx="114.6" cy="308.0" r="1.25"/><circle cx="135.1" cy="308.2" r="1.25"/><circle cx="134.0" cy="310.4" r="1.25"/><circle cx="114.4" cy="307.8" r="1.25"/><circle cx="114.7" cy="358.4" r="1.25"/><circle cx="117.9" cy="357.9" r="1.25"/><circle cx="122.2" cy="327.1" r="1.25"/><circle cx="113.4" cy="311.6" r="1.25"/><circle cx="117.1" cy="315.0" r="1.25"/><circle cx="127.9" cy="350.7" r="1.25"/><circle cx="121.7" cy="331.2" r="1.25"/><circle cx="109.9" cy="322.4" r="1.25"/><circle cx="127.3" cy="315.5" r="1.25"/><circle cx="124.9" cy="301.2" r="1.25"/><circle cx="132.6" cy="322.3" r="1.25"/><circle cx="126.7" cy="303.5" r="1.25"/><circle cx="132.9" cy="354.5" r="1.25"/><circle cx="118.0" cy="312.2" r="1.25"/><circle cx="125.2" cy="351.5" r="1.25"/><circle cx="127.1" cy="298.3" r="1.25"/><circle cx="118.0" cy="315.0" r="1.25"/><circle cx="111.6" cy="344.3" r="1.25"/><circle cx="111.0" cy="345.6" r="1.25"/><circle cx="114.7" cy="342.3" r="1.25"/><circle cx="113.6" cy="341.5" r="1.25"/></g>
<path d="M118.8,294.8 L126.2,294.8 C126.65,295.95 127.88,298.92 128.9,301.7 C129.92,304.48 131.5,307.27 132.3,311.5 C133.1,315.73 133.47,321.88 133.7,327.1 C133.93,332.32 134.02,339.22 133.7,342.8 C133.38,346.38 132.45,346.32 131.8,348.6 C131.15,350.88 129.72,353.57 129.8,356.5 C129.88,359.43 131.52,363.62 132.3,366.2 C133.08,368.78 134.1,370.68 134.5,372 C134.9,373.32 134.67,373.75 134.7,374.1 L110.3,374.1 C110.33,373.75 110.1,373.32 110.5,372 C110.9,370.68 111.92,368.78 112.7,366.2 C113.48,363.62 115.12,359.43 115.2,356.5 C115.28,353.57 113.85,350.88 113.2,348.6 C112.55,346.32 111.62,346.38 111.3,342.8 C110.98,339.22 111.07,332.32 111.3,327.1 C111.53,321.88 111.9,315.73 112.7,311.5 C113.5,307.27 115.08,304.48 116.1,301.7 C117.12,298.92 118.35,295.95 118.8,294.8 Z" fill="none" stroke="#377eb8" stroke-width="1.45" stroke-linejoin="round"/>
<path d="M122.5,340.1 L124.8,342.4 L122.5,344.7 L120.2,342.4 Z" fill="#fff" stroke="#000" stroke-width="1.15"/>
<g fill="#377eb8" stroke="#377eb8" stroke-width="0.5" fill-opacity="0.3" stroke-opacity="0.35"><circle cx="192.0" cy="295.0" r="1.25"/><circle cx="188.6" cy="295.0" r="1.25"/><circle cx="196.1" cy="295.0" r="1.25"/><circle cx="198.7" cy="295.0" r="1.25"/><circle cx="192.4" cy="295.0" r="1.25"/><circle cx="192.0" cy="295.0" r="1.25"/><circle cx="198.4" cy="295.0" r="1.25"/><circle cx="181.6" cy="295.0" r="1.25"/><circle cx="181.0" cy="295.0" r="1.25"/><circle cx="173.0" cy="295.0" r="1.25"/><circle cx="197.8" cy="295.0" r="1.25"/><circle cx="179.2" cy="295.0" r="1.25"/><circle cx="176.0" cy="295.0" r="1.25"/><circle cx="187.2" cy="295.0" r="1.25"/><circle cx="194.2" cy="349.0" r="1.25"/><circle cx="182.2" cy="349.0" r="1.25"/><circle cx="181.8" cy="349.0" r="1.25"/><circle cx="193.0" cy="349.0" r="1.25"/><circle cx="176.7" cy="349.0" r="1.25"/><circle cx="173.5" cy="337.1" r="1.25"/><circle cx="175.3" cy="347.8" r="1.25"/><circle cx="189.9" cy="329.0" r="1.25"/><circle cx="187.4" cy="321.7" r="1.25"/><circle cx="194.5" cy="316.6" r="1.25"/><circle cx="187.3" cy="342.1" r="1.25"/><circle cx="173.3" cy="315.3" r="1.25"/><circle cx="196.9" cy="316.4" r="1.25"/><circle cx="184.6" cy="319.0" r="1.25"/><circle cx="184.0" cy="309.2" r="1.25"/><circle cx="183.9" cy="310.7" r="1.25"/><circle cx="189.5" cy="328.5" r="1.25"/><circle cx="176.7" cy="308.4" r="1.25"/><circle cx="184.7" cy="331.7" r="1.25"/><circle cx="174.5" cy="307.9" r="1.25"/><circle cx="180.6" cy="306.9" r="1.25"/><circle cx="197.1" cy="351.5" r="1.25"/><circle cx="183.1" cy="343.4" r="1.25"/><circle cx="188.4" cy="320.8" r="1.25"/><circle cx="196.8" cy="336.7" r="1.25"/><circle cx="189.4" cy="356.0" r="1.25"/><circle cx="173.1" cy="334.0" r="1.25"/><circle cx="197.9" cy="327.7" r="1.25"/><circle cx="197.0" cy="316.5" r="1.25"/><circle cx="187.3" cy="333.4" r="1.25"/><circle cx="192.1" cy="325.9" r="1.25"/><circle cx="183.9" cy="335.7" r="1.25"/><circle cx="176.7" cy="312.8" r="1.25"/><circle cx="197.6" cy="307.6" r="1.25"/><circle cx="190.4" cy="332.5" r="1.25"/><circle cx="187.9" cy="314.5" r="1.25"/><circle cx="191.2" cy="320.6" r="1.25"/><circle cx="175.5" cy="308.3" r="1.25"/><circle cx="176.0" cy="310.6" r="1.25"/><circle cx="189.5" cy="299.1" r="1.25"/><circle cx="197.9" cy="309.1" r="1.25"/><circle cx="190.8" cy="313.3" r="1.25"/><circle cx="175.3" cy="317.4" r="1.25"/><circle cx="173.1" cy="326.3" r="1.25"/><circle cx="192.9" cy="350.8" r="1.25"/><circle cx="189.6" cy="324.8" r="1.25"/><circle cx="176.4" cy="311.8" r="1.25"/><circle cx="176.1" cy="337.5" r="1.25"/><circle cx="175.1" cy="308.5" r="1.25"/><circle cx="178.0" cy="314.2" r="1.25"/><circle cx="196.8" cy="351.6" r="1.25"/><circle cx="178.6" cy="306.1" r="1.25"/><circle cx="184.6" cy="329.9" r="1.25"/><circle cx="193.4" cy="320.5" r="1.25"/><circle cx="182.2" cy="354.2" r="1.25"/><circle cx="183.9" cy="328.9" r="1.25"/><circle cx="174.9" cy="315.4" r="1.25"/><circle cx="183.7" cy="320.5" r="1.25"/><circle cx="191.2" cy="347.9" r="1.25"/><circle cx="178.1" cy="350.9" r="1.25"/><circle cx="178.6" cy="325.3" r="1.25"/><circle cx="176.2" cy="331.6" r="1.25"/><circle cx="189.6" cy="318.4" r="1.25"/><circle cx="182.8" cy="325.1" r="1.25"/><circle cx="175.4" cy="340.5" r="1.25"/><circle cx="192.3" cy="314.8" r="1.25"/><circle cx="175.8" cy="348.8" r="1.25"/><circle cx="191.5" cy="317.4" r="1.25"/><circle cx="193.8" cy="322.6" r="1.25"/><circle cx="182.8" cy="324.1" r="1.25"/><circle cx="182.1" cy="324.0" r="1.25"/><circle cx="183.3" cy="308.9" r="1.25"/><circle cx="195.2" cy="314.2" r="1.25"/><circle cx="195.6" cy="307.0" r="1.25"/><circle cx="179.1" cy="318.1" r="1.25"/><circle cx="192.8" cy="329.3" r="1.25"/><circle cx="174.4" cy="357.1" r="1.25"/><circle cx="172.8" cy="304.8" r="1.25"/><circle cx="174.3" cy="337.5" r="1.25"/><circle cx="184.7" cy="334.6" r="1.25"/><circle cx="185.3" cy="323.5" r="1.25"/><circle cx="195.5" cy="326.6" r="1.25"/><circle cx="176.1" cy="322.1" r="1.25"/><circle cx="183.5" cy="336.9" r="1.25"/><circle cx="192.3" cy="324.9" r="1.25"/><circle cx="174.5" cy="312.6" r="1.25"/><circle cx="178.5" cy="327.6" r="1.25"/><circle cx="181.6" cy="315.2" r="1.25"/><circle cx="188.6" cy="307.3" r="1.25"/><circle cx="194.9" cy="332.7" r="1.25"/><circle cx="176.4" cy="330.4" r="1.25"/><circle cx="193.7" cy="305.7" r="1.25"/><circle cx="186.5" cy="342.5" r="1.25"/><circle cx="179.4" cy="299.0" r="1.25"/><circle cx="189.5" cy="321.4" r="1.25"/><circle cx="176.2" cy="357.7" r="1.25"/><circle cx="193.7" cy="347.5" r="1.25"/><circle cx="198.1" cy="307.0" r="1.25"/><circle cx="196.4" cy="348.7" r="1.25"/><circle cx="180.7" cy="317.1" r="1.25"/><circle cx="188.6" cy="325.8" r="1.25"/><circle cx="198.6" cy="326.2" r="1.25"/><circle cx="181.1" cy="329.8" r="1.25"/><circle cx="195.7" cy="331.1" r="1.25"/><circle cx="197.6" cy="303.7" r="1.25"/><circle cx="190.1" cy="351.8" r="1.25"/><circle cx="184.6" cy="326.8" r="1.25"/><circle cx="177.4" cy="301.0" r="1.25"/><circle cx="188.4" cy="311.4" r="1.25"/><circle cx="173.0" cy="327.2" r="1.25"/><circle cx="182.6" cy="337.9" r="1.25"/><circle cx="177.3" cy="348.0" r="1.25"/><circle cx="186.5" cy="324.3" r="1.25"/><circle cx="196.9" cy="312.4" r="1.25"/><circle cx="186.9" cy="328.7" r="1.25"/></g>
<path d="M173.1,294.8 L198.5,294.8 C198.22,295.17 197.37,296.18 196.8,297 C196.23,297.82 194.77,298.7 195.1,299.7 C195.43,300.7 197.25,301.68 198.8,303 C200.35,304.32 202.48,304.88 204.4,307.6 C206.32,310.32 210.55,315.4 210.3,319.3 C210.05,323.2 205.6,326.77 202.9,331 C200.2,335.23 196.22,340.78 194.1,344.7 C191.98,348.62 191.38,351.57 190.2,354.5 C189.02,357.43 187.68,359.72 187,362.3 C186.32,364.88 186.15,368.03 186.15,370 C186.15,371.97 186.86,373.42 187,374.1 L184.6,374.1 C184.74,373.42 185.45,371.97 185.45,370 C185.45,368.03 185.28,364.88 184.6,362.3 C183.93,359.72 182.58,357.43 181.4,354.5 C180.22,351.57 179.62,348.62 177.5,344.7 C175.38,340.78 171.4,335.23 168.7,331 C166,326.77 161.55,323.2 161.3,319.3 C161.05,315.4 165.28,310.32 167.2,307.6 C169.12,304.88 171.25,304.32 172.8,303 C174.35,301.68 176.17,300.7 176.5,299.7 C176.83,298.7 175.37,297.82 174.8,297 C174.23,296.18 173.38,295.17 173.1,294.8 Z" fill="none" stroke="#377eb8" stroke-width="1.45" stroke-linejoin="round"/>
<path d="M185.8,318.4 L188.1,320.7 L185.8,323 L183.5,320.7 Z" fill="#fff" stroke="#000" stroke-width="1.15"/>
<g fill="#377eb8" stroke="#377eb8" stroke-width="0.5" fill-opacity="0.3" stroke-opacity="0.35"><circle cx="254.3" cy="295.0" r="1.25"/><circle cx="256.3" cy="295.0" r="1.25"/><circle cx="261.0" cy="295.0" r="1.25"/><circle cx="240.0" cy="295.0" r="1.25"/><circle cx="248.6" cy="295.0" r="1.25"/><circle cx="249.3" cy="295.0" r="1.25"/><circle cx="247.4" cy="295.0" r="1.25"/><circle cx="251.8" cy="295.0" r="1.25"/><circle cx="261.3" cy="349.0" r="1.25"/><circle cx="242.2" cy="349.0" r="1.25"/><circle cx="257.8" cy="349.0" r="1.25"/><circle cx="256.3" cy="349.0" r="1.25"/><circle cx="251.5" cy="349.0" r="1.25"/><circle cx="261.1" cy="349.0" r="1.25"/><circle cx="243.7" cy="307.4" r="1.25"/><circle cx="260.9" cy="354.2" r="1.25"/><circle cx="242.8" cy="326.9" r="1.25"/><circle cx="248.2" cy="303.3" r="1.25"/><circle cx="243.3" cy="305.1" r="1.25"/><circle cx="238.2" cy="306.2" r="1.25"/><circle cx="253.6" cy="316.1" r="1.25"/><circle cx="261.2" cy="319.4" r="1.25"/><circle cx="237.0" cy="319.6" r="1.25"/><circle cx="241.1" cy="321.7" r="1.25"/><circle cx="246.6" cy="336.9" r="1.25"/><circle cx="245.2" cy="307.9" r="1.25"/><circle cx="258.2" cy="350.3" r="1.25"/><circle cx="236.2" cy="339.9" r="1.25"/><circle cx="248.3" cy="319.8" r="1.25"/><circle cx="253.3" cy="306.1" r="1.25"/><circle cx="247.3" cy="319.7" r="1.25"/><circle cx="238.7" cy="310.8" r="1.25"/><circle cx="237.1" cy="306.8" r="1.25"/><circle cx="245.7" cy="320.0" r="1.25"/><circle cx="252.6" cy="323.4" r="1.25"/><circle cx="260.7" cy="322.5" r="1.25"/><circle cx="244.9" cy="344.4" r="1.25"/><circle cx="255.3" cy="330.5" r="1.25"/><circle cx="243.2" cy="298.5" r="1.25"/><circle cx="242.1" cy="324.2" r="1.25"/><circle cx="247.7" cy="334.5" r="1.25"/><circle cx="239.4" cy="311.3" r="1.25"/><circle cx="251.6" cy="301.0" r="1.25"/><circle cx="237.7" cy="331.1" r="1.25"/><circle cx="256.3" cy="320.1" r="1.25"/><circle cx="255.2" cy="326.9" r="1.25"/><circle cx="238.0" cy="301.8" r="1.25"/><circle cx="259.2" cy="311.0" r="1.25"/><circle cx="259.3" cy="351.3" r="1.25"/><circle cx="253.1" cy="324.8" r="1.25"/><circle cx="256.1" cy="336.6" r="1.25"/><circle cx="246.9" cy="309.0" r="1.25"/><circle cx="241.2" cy="349.3" r="1.25"/><circle cx="242.5" cy="336.5" r="1.25"/><circle cx="241.3" cy="324.0" r="1.25"/><circle cx="256.8" cy="334.2" r="1.25"/><circle cx="236.5" cy="347.5" r="1.25"/><circle cx="239.1" cy="344.6" r="1.25"/><circle cx="242.1" cy="319.6" r="1.25"/><circle cx="257.8" cy="317.5" r="1.25"/><circle cx="252.4" cy="344.5" r="1.25"/><circle cx="245.4" cy="310.5" r="1.25"/><circle cx="259.9" cy="320.7" r="1.25"/><circle cx="261.1" cy="318.0" r="1.25"/><circle cx="244.5" cy="327.4" r="1.25"/><circle cx="242.5" cy="306.2" r="1.25"/><circle cx="252.0" cy="316.3" r="1.25"/><circle cx="244.4" cy="329.9" r="1.25"/><circle cx="248.0" cy="352.2" r="1.25"/><circle cx="238.7" cy="336.5" r="1.25"/><circle cx="241.7" cy="342.0" r="1.25"/><circle cx="260.9" cy="311.6" r="1.25"/><circle cx="245.4" cy="315.8" r="1.25"/><circle cx="261.4" cy="318.0" r="1.25"/><circle cx="249.2" cy="320.7" r="1.25"/><circle cx="243.0" cy="312.8" r="1.25"/><circle cx="255.7" cy="311.9" r="1.25"/><circle cx="248.8" cy="351.0" r="1.25"/><circle cx="238.0" cy="326.1" r="1.25"/><circle cx="252.8" cy="304.8" r="1.25"/><circle cx="238.8" cy="311.2" r="1.25"/><circle cx="241.8" cy="299.0" r="1.25"/><circle cx="245.1" cy="320.3" r="1.25"/><circle cx="244.3" cy="316.6" r="1.25"/><circle cx="240.3" cy="310.1" r="1.25"/><circle cx="257.0" cy="335.1" r="1.25"/><circle cx="246.0" cy="326.0" r="1.25"/><circle cx="245.7" cy="314.4" r="1.25"/><circle cx="245.6" cy="320.3" r="1.25"/><circle cx="257.4" cy="302.0" r="1.25"/><circle cx="249.4" cy="312.9" r="1.25"/><circle cx="255.8" cy="353.6" r="1.25"/><circle cx="244.2" cy="326.4" r="1.25"/><circle cx="258.6" cy="353.9" r="1.25"/><circle cx="257.7" cy="350.8" r="1.25"/><circle cx="256.7" cy="305.7" r="1.25"/><circle cx="241.3" cy="325.7" r="1.25"/><circle cx="260.2" cy="320.6" r="1.25"/><circle cx="261.6" cy="339.8" r="1.25"/><circle cx="248.0" cy="321.9" r="1.25"/><circle cx="242.7" cy="306.5" r="1.25"/><circle cx="238.9" cy="313.1" r="1.25"/><circle cx="243.2" cy="319.2" r="1.25"/><circle cx="244.6" cy="319.5" r="1.25"/><circle cx="257.4" cy="326.9" r="1.25"/><circle cx="247.0" cy="341.6" r="1.25"/><circle cx="243.2" cy="309.9" r="1.25"/><circle cx="257.3" cy="306.9" r="1.25"/><circle cx="256.2" cy="325.4" r="1.25"/><circle cx="247.0" cy="326.4" r="1.25"/><circle cx="238.3" cy="338.2" r="1.25"/><circle cx="259.1" cy="300.8" r="1.25"/><circle cx="247.6" cy="349.6" r="1.25"/><circle cx="261.7" cy="318.0" r="1.25"/><circle cx="259.0" cy="374.0" r="1.25"/></g>
<path d="M243.1,294.8 L254.9,294.8 C255,295.5 255.35,297.85 255.5,299 C255.65,300.15 255.38,300.87 255.8,301.7 C256.22,302.53 256.53,302.7 258,304 C259.47,305.3 261.32,306.85 264.6,309.5 C267.88,312.15 278.18,315.98 277.7,319.9 C277.22,323.82 265.18,328.87 261.7,333 C258.22,337.13 257.37,341.77 256.8,344.7 C256.23,347.63 259.32,348.48 258.3,350.6 C257.28,352.72 252.19,354.8 250.7,357.4 C249.21,360 249.2,363.93 249.35,366.2 C249.5,368.47 251.22,369.68 251.6,371 C251.97,372.32 251.6,373.58 251.6,374.1 L246.4,374.1 C246.4,373.58 246.03,372.32 246.4,371 C246.78,369.68 248.5,368.47 248.65,366.2 C248.8,363.93 248.79,360 247.3,357.4 C245.81,354.8 240.72,352.72 239.7,350.6 C238.68,348.48 241.77,347.63 241.2,344.7 C240.63,341.77 239.78,337.13 236.3,333 C232.82,328.87 220.78,323.82 220.3,319.9 C219.82,315.98 230.12,312.15 233.4,309.5 C236.68,306.85 238.53,305.3 240,304 C241.47,302.7 241.78,302.53 242.2,301.7 C242.62,300.87 242.35,300.15 242.5,299 C242.65,297.85 243,295.5 243.1,294.8 Z" fill="none" stroke="#377eb8" stroke-width="1.45" stroke-linejoin="round"/>
<path d="M249,319.9 L251.3,322.2 L249,324.5 L246.7,322.2 Z" fill="#fff" stroke="#000" stroke-width="1.15"/>
<g fill="#377eb8" stroke="#377eb8" stroke-width="0.5" fill-opacity="0.3" stroke-opacity="0.35"><circle cx="302.4" cy="295.0" r="1.25"/><circle cx="322.8" cy="295.0" r="1.25"/><circle cx="317.4" cy="295.0" r="1.25"/><circle cx="304.5" cy="295.0" r="1.25"/><circle cx="312.1" cy="310.5" r="1.25"/><circle cx="320.2" cy="310.1" r="1.25"/><circle cx="323.8" cy="359.1" r="1.25"/><circle cx="303.3" cy="330.5" r="1.25"/><circle cx="302.5" cy="337.1" r="1.25"/><circle cx="319.2" cy="324.4" r="1.25"/><circle cx="305.8" cy="350.5" r="1.25"/><circle cx="318.3" cy="307.5" r="1.25"/><circle cx="303.1" cy="329.4" r="1.25"/><circle cx="313.4" cy="306.1" r="1.25"/><circle cx="314.3" cy="329.6" r="1.25"/><circle cx="299.8" cy="342.9" r="1.25"/><circle cx="307.1" cy="319.0" r="1.25"/><circle cx="308.5" cy="340.8" r="1.25"/><circle cx="306.9" cy="304.7" r="1.25"/><circle cx="322.4" cy="336.2" r="1.25"/><circle cx="319.2" cy="358.4" r="1.25"/><circle cx="315.3" cy="323.0" r="1.25"/><circle cx="317.9" cy="318.0" r="1.25"/><circle cx="307.8" cy="326.4" r="1.25"/><circle cx="324.1" cy="321.3" r="1.25"/><circle cx="324.9" cy="352.5" r="1.25"/><circle cx="304.3" cy="303.9" r="1.25"/><circle cx="323.8" cy="342.2" r="1.25"/><circle cx="314.9" cy="321.3" r="1.25"/><circle cx="300.9" cy="340.8" r="1.25"/><circle cx="309.2" cy="357.7" r="1.25"/><circle cx="321.7" cy="355.1" r="1.25"/><circle cx="314.9" cy="312.7" r="1.25"/><circle cx="301.2" cy="353.9" r="1.25"/><circle cx="301.0" cy="319.0" r="1.25"/><circle cx="302.3" cy="315.0" r="1.25"/><circle cx="302.4" cy="334.2" r="1.25"/><circle cx="299.9" cy="319.6" r="1.25"/><circle cx="317.1" cy="312.8" r="1.25"/><circle cx="303.3" cy="335.5" r="1.25"/><circle cx="316.5" cy="306.4" r="1.25"/><circle cx="308.1" cy="328.4" r="1.25"/><circle cx="303.9" cy="300.2" r="1.25"/><circle cx="302.0" cy="302.7" r="1.25"/><circle cx="315.4" cy="321.2" r="1.25"/><circle cx="321.4" cy="301.9" r="1.25"/><circle cx="304.4" cy="342.1" r="1.25"/><circle cx="309.5" cy="321.8" r="1.25"/><circle cx="304.0" cy="318.9" r="1.25"/><circle cx="312.6" cy="304.0" r="1.25"/><circle cx="315.0" cy="347.0" r="1.25"/><circle cx="311.1" cy="325.0" r="1.25"/><circle cx="321.4" cy="318.2" r="1.25"/><circle cx="307.1" cy="350.3" r="1.25"/><circle cx="316.0" cy="337.4" r="1.25"/><circle cx="309.0" cy="329.7" r="1.25"/><circle cx="315.3" cy="329.6" r="1.25"/><circle cx="301.0" cy="314.9" r="1.25"/><circle cx="303.9" cy="313.8" r="1.25"/><circle cx="320.3" cy="307.8" r="1.25"/><circle cx="304.3" cy="312.9" r="1.25"/><circle cx="308.6" cy="342.5" r="1.25"/><circle cx="313.0" cy="302.5" r="1.25"/><circle cx="309.4" cy="319.0" r="1.25"/><circle cx="314.0" cy="309.0" r="1.25"/><circle cx="309.2" cy="318.7" r="1.25"/><circle cx="318.9" cy="327.3" r="1.25"/><circle cx="299.9" cy="303.3" r="1.25"/><circle cx="309.0" cy="311.1" r="1.25"/><circle cx="321.8" cy="333.0" r="1.25"/><circle cx="315.8" cy="305.9" r="1.25"/><circle cx="324.9" cy="316.1" r="1.25"/><circle cx="305.0" cy="359.5" r="1.25"/><circle cx="306.2" cy="315.0" r="1.25"/><circle cx="303.8" cy="310.6" r="1.25"/><circle cx="312.2" cy="307.6" r="1.25"/><circle cx="311.1" cy="337.5" r="1.25"/><circle cx="303.3" cy="327.9" r="1.25"/><circle cx="325.1" cy="325.2" r="1.25"/><circle cx="304.4" cy="344.0" r="1.25"/><circle cx="311.1" cy="318.6" r="1.25"/><circle cx="302.5" cy="317.2" r="1.25"/><circle cx="312.9" cy="307.5" r="1.25"/><circle cx="309.0" cy="311.6" r="1.25"/><circle cx="320.0" cy="374.0" r="1.25"/></g>
<path d="M306.6,294.8 L318,294.8 C318.27,295.95 317.62,299.25 319.6,301.7 C321.58,304.15 327.22,306.57 329.9,309.5 C332.58,312.43 335.78,315.38 335.7,319.3 C335.62,323.22 331.27,328.77 329.4,333 C327.53,337.23 326.45,341.12 324.5,344.7 C322.55,348.28 319.67,351.23 317.7,354.5 C315.73,357.77 313.28,361.55 312.65,364.3 C312.02,367.05 313.69,369.37 313.9,371 C314.11,372.63 313.9,373.58 313.9,374.1 L310.7,374.1 C310.7,373.58 310.49,372.63 310.7,371 C310.91,369.37 312.58,367.05 311.95,364.3 C311.32,361.55 308.88,357.77 306.9,354.5 C304.93,351.23 302.05,348.28 300.1,344.7 C298.15,341.12 297.07,337.23 295.2,333 C293.33,328.77 288.98,323.22 288.9,319.3 C288.82,315.38 292.02,312.43 294.7,309.5 C297.38,306.57 303.02,304.15 305,301.7 C306.98,299.25 306.33,295.95 306.6,294.8 Z" fill="none" stroke="#377eb8" stroke-width="1.45" stroke-linejoin="round"/>
<path d="M312.3,320.3 L314.6,322.6 L312.3,324.9 L310,322.6 Z" fill="#fff" stroke="#000" stroke-width="1.15"/>
<g fill="#377eb8" stroke="#377eb8" stroke-width="0.5" fill-opacity="0.3" stroke-opacity="0.35"><circle cx="398.2" cy="295.0" r="1.25"/><circle cx="390.0" cy="295.0" r="1.25"/><circle cx="394.9" cy="295.0" r="1.25"/><circle cx="397.0" cy="349.0" r="1.25"/><circle cx="400.1" cy="349.0" r="1.25"/><circle cx="393.7" cy="349.0" r="1.25"/><circle cx="403.6" cy="349.0" r="1.25"/><circle cx="392.3" cy="349.0" r="1.25"/><circle cx="384.4" cy="349.0" r="1.25"/><circle cx="381.5" cy="349.0" r="1.25"/><circle cx="397.6" cy="349.0" r="1.25"/><circle cx="405.3" cy="349.0" r="1.25"/><circle cx="390.2" cy="349.0" r="1.25"/><circle cx="382.8" cy="349.0" r="1.25"/><circle cx="384.8" cy="349.0" r="1.25"/><circle cx="382.4" cy="349.0" r="1.25"/><circle cx="386.3" cy="349.0" r="1.25"/><circle cx="388.8" cy="349.0" r="1.25"/><circle cx="382.7" cy="349.0" r="1.25"/><circle cx="398.6" cy="349.0" r="1.25"/><circle cx="398.8" cy="349.0" r="1.25"/><circle cx="402.8" cy="349.0" r="1.25"/><circle cx="395.2" cy="349.0" r="1.25"/><circle cx="389.6" cy="349.0" r="1.25"/><circle cx="392.3" cy="349.0" r="1.25"/><circle cx="395.4" cy="349.0" r="1.25"/><circle cx="393.1" cy="349.0" r="1.25"/><circle cx="390.6" cy="349.0" r="1.25"/><circle cx="395.8" cy="366.4" r="1.25"/><circle cx="395.0" cy="366.4" r="1.25"/><circle cx="405.2" cy="366.4" r="1.25"/><circle cx="399.1" cy="366.4" r="1.25"/><circle cx="401.7" cy="366.4" r="1.25"/><circle cx="403.4" cy="366.4" r="1.25"/><circle cx="404.8" cy="366.4" r="1.25"/><circle cx="385.2" cy="366.4" r="1.25"/><circle cx="401.6" cy="374.1" r="1.25"/><circle cx="395.4" cy="374.1" r="1.25"/><circle cx="392.1" cy="374.1" r="1.25"/><circle cx="392.7" cy="374.1" r="1.25"/><circle cx="382.9" cy="374.1" r="1.25"/><circle cx="401.8" cy="374.1" r="1.25"/><circle cx="392.0" cy="374.1" r="1.25"/><circle cx="397.0" cy="374.1" r="1.25"/><circle cx="396.4" cy="374.1" r="1.25"/><circle cx="398.5" cy="374.1" r="1.25"/><circle cx="384.8" cy="374.1" r="1.25"/><circle cx="381.5" cy="374.1" r="1.25"/><circle cx="401.3" cy="374.1" r="1.25"/><circle cx="389.8" cy="374.1" r="1.25"/><circle cx="381.8" cy="374.1" r="1.25"/><circle cx="388.8" cy="374.1" r="1.25"/><circle cx="387.3" cy="374.1" r="1.25"/><circle cx="399.9" cy="374.1" r="1.25"/><circle cx="384.4" cy="374.1" r="1.25"/><circle cx="390.4" cy="374.1" r="1.25"/><circle cx="392.7" cy="374.1" r="1.25"/><circle cx="396.1" cy="374.1" r="1.25"/><circle cx="384.5" cy="374.1" r="1.25"/><circle cx="397.3" cy="374.1" r="1.25"/><circle cx="393.1" cy="374.1" r="1.25"/><circle cx="392.0" cy="374.1" r="1.25"/><circle cx="385.9" cy="374.1" r="1.25"/><circle cx="399.5" cy="374.1" r="1.25"/><circle cx="393.2" cy="374.1" r="1.25"/><circle cx="396.2" cy="374.1" r="1.25"/><circle cx="390.5" cy="303.5" r="1.25"/><circle cx="389.9" cy="340.6" r="1.25"/><circle cx="382.5" cy="327.1" r="1.25"/><circle cx="399.1" cy="299.0" r="1.25"/><circle cx="381.5" cy="333.1" r="1.25"/><circle cx="405.0" cy="312.8" r="1.25"/><circle cx="382.4" cy="315.0" r="1.25"/><circle cx="386.7" cy="341.3" r="1.25"/><circle cx="394.6" cy="309.4" r="1.25"/><circle cx="385.0" cy="331.8" r="1.25"/><circle cx="389.8" cy="316.4" r="1.25"/><circle cx="385.0" cy="310.3" r="1.25"/><circle cx="381.0" cy="314.4" r="1.25"/><circle cx="402.5" cy="325.2" r="1.25"/><circle cx="388.8" cy="306.0" r="1.25"/><circle cx="384.1" cy="328.1" r="1.25"/><circle cx="382.7" cy="327.7" r="1.25"/><circle cx="390.9" cy="328.2" r="1.25"/><circle cx="381.5" cy="336.6" r="1.25"/><circle cx="388.3" cy="339.7" r="1.25"/><circle cx="397.4" cy="323.2" r="1.25"/><circle cx="405.2" cy="331.6" r="1.25"/><circle cx="402.6" cy="320.6" r="1.25"/><circle cx="382.9" cy="333.8" r="1.25"/><circle cx="388.0" cy="326.6" r="1.25"/></g>
<path d="M386.3,294.8 L400.3,294.8 C400.18,295.98 399.57,299.38 399.6,301.9 C399.63,304.42 400.22,307.58 400.5,309.9 C400.78,312.22 401.42,313.65 401.3,315.8 C401.18,317.95 400.08,320.82 399.8,322.8 C399.52,324.78 399.2,326.05 399.6,327.7 C400,329.35 400.52,331.03 402.2,332.7 C403.88,334.37 407.13,336.05 409.7,337.7 C412.27,339.35 415.7,340.78 417.6,342.6 C419.5,344.42 421.75,346.77 421.1,348.6 C420.45,350.43 416.1,351.78 413.7,353.6 C411.3,355.42 407.2,357.52 406.7,359.5 C406.2,361.48 409.22,363.68 410.7,365.5 C412.18,367.32 414.62,369.15 415.6,370.4 C416.58,371.65 416.57,372.33 416.6,373 C416.63,373.67 415.93,374.17 415.8,374.4 L370.8,374.4 C370.67,374.17 369.97,373.67 370,373 C370.03,372.33 370.02,371.65 371,370.4 C371.98,369.15 374.42,367.32 375.9,365.5 C377.38,363.68 380.4,361.48 379.9,359.5 C379.4,357.52 375.3,355.42 372.9,353.6 C370.5,351.78 366.15,350.43 365.5,348.6 C364.85,346.77 367.1,344.42 369,342.6 C370.9,340.78 374.33,339.35 376.9,337.7 C379.47,336.05 382.72,334.37 384.4,332.7 C386.08,331.03 386.6,329.35 387,327.7 C387.4,326.05 387.08,324.78 386.8,322.8 C386.52,320.82 385.42,317.95 385.3,315.8 C385.18,313.65 385.82,312.22 386.1,309.9 C386.38,307.58 386.97,304.42 387,301.9 C387.03,299.38 386.42,295.98 386.3,294.8 Z" fill="none" stroke="#377eb8" stroke-width="1.45" stroke-linejoin="round"/>
<path d="M393.3,347.7 L395.6,350 L393.3,352.3 L391,350 Z" fill="#fff" stroke="#000" stroke-width="1.15"/>
<g fill="#377eb8" stroke="#377eb8" stroke-width="0.5" fill-opacity="0.3" stroke-opacity="0.35"><circle cx="443.9" cy="295.0" r="1.25"/><circle cx="448.7" cy="295.0" r="1.25"/><circle cx="444.9" cy="295.0" r="1.25"/><circle cx="458.8" cy="295.0" r="1.25"/><circle cx="466.1" cy="295.0" r="1.25"/><circle cx="465.2" cy="295.0" r="1.25"/><circle cx="468.9" cy="295.0" r="1.25"/><circle cx="453.8" cy="295.0" r="1.25"/><circle cx="454.7" cy="295.0" r="1.25"/><circle cx="467.4" cy="295.0" r="1.25"/><circle cx="452.3" cy="349.0" r="1.25"/><circle cx="445.5" cy="349.0" r="1.25"/><circle cx="464.1" cy="349.0" r="1.25"/><circle cx="465.7" cy="349.0" r="1.25"/><circle cx="467.9" cy="349.0" r="1.25"/><circle cx="446.9" cy="349.0" r="1.25"/><circle cx="454.4" cy="349.0" r="1.25"/><circle cx="447.9" cy="349.0" r="1.25"/><circle cx="456.6" cy="349.0" r="1.25"/><circle cx="464.6" cy="349.0" r="1.25"/><circle cx="460.9" cy="349.0" r="1.25"/><circle cx="455.9" cy="349.0" r="1.25"/><circle cx="463.7" cy="305.3" r="1.25"/><circle cx="468.4" cy="325.7" r="1.25"/><circle cx="455.0" cy="315.3" r="1.25"/><circle cx="443.5" cy="337.3" r="1.25"/><circle cx="452.8" cy="342.2" r="1.25"/><circle cx="454.8" cy="303.8" r="1.25"/><circle cx="461.7" cy="345.6" r="1.25"/><circle cx="462.7" cy="338.5" r="1.25"/><circle cx="455.0" cy="344.6" r="1.25"/><circle cx="447.5" cy="311.8" r="1.25"/><circle cx="457.7" cy="307.8" r="1.25"/><circle cx="447.3" cy="340.2" r="1.25"/><circle cx="458.8" cy="317.9" r="1.25"/><circle cx="469.1" cy="352.5" r="1.25"/><circle cx="467.8" cy="311.8" r="1.25"/><circle cx="459.1" cy="328.4" r="1.25"/><circle cx="460.0" cy="348.3" r="1.25"/><circle cx="467.1" cy="315.6" r="1.25"/><circle cx="468.2" cy="341.7" r="1.25"/><circle cx="447.7" cy="334.1" r="1.25"/><circle cx="451.3" cy="315.3" r="1.25"/><circle cx="452.5" cy="322.6" r="1.25"/><circle cx="464.6" cy="323.1" r="1.25"/><circle cx="464.5" cy="320.6" r="1.25"/><circle cx="469.1" cy="349.1" r="1.25"/><circle cx="446.2" cy="336.3" r="1.25"/><circle cx="458.3" cy="310.2" r="1.25"/><circle cx="457.1" cy="309.1" r="1.25"/><circle cx="445.8" cy="345.6" r="1.25"/><circle cx="449.5" cy="320.5" r="1.25"/><circle cx="448.2" cy="336.2" r="1.25"/><circle cx="462.9" cy="307.1" r="1.25"/><circle cx="462.5" cy="339.4" r="1.25"/><circle cx="448.6" cy="347.0" r="1.25"/><circle cx="449.6" cy="348.9" r="1.25"/><circle cx="457.8" cy="325.4" r="1.25"/><circle cx="464.2" cy="342.1" r="1.25"/><circle cx="464.9" cy="325.3" r="1.25"/><circle cx="452.3" cy="333.5" r="1.25"/><circle cx="454.1" cy="352.4" r="1.25"/><circle cx="447.4" cy="346.4" r="1.25"/><circle cx="449.2" cy="327.0" r="1.25"/><circle cx="450.6" cy="321.8" r="1.25"/><circle cx="448.0" cy="332.7" r="1.25"/><circle cx="458.9" cy="353.9" r="1.25"/><circle cx="461.1" cy="340.9" r="1.25"/><circle cx="456.2" cy="334.3" r="1.25"/><circle cx="461.2" cy="352.5" r="1.25"/><circle cx="450.1" cy="320.2" r="1.25"/><circle cx="447.8" cy="311.0" r="1.25"/><circle cx="468.2" cy="313.5" r="1.25"/><circle cx="451.0" cy="349.0" r="1.25"/><circle cx="444.7" cy="330.1" r="1.25"/><circle cx="443.9" cy="302.1" r="1.25"/><circle cx="450.5" cy="327.2" r="1.25"/><circle cx="453.4" cy="322.2" r="1.25"/><circle cx="454.3" cy="353.4" r="1.25"/><circle cx="447.8" cy="342.8" r="1.25"/><circle cx="458.5" cy="333.1" r="1.25"/><circle cx="466.3" cy="339.8" r="1.25"/><circle cx="451.4" cy="325.3" r="1.25"/><circle cx="455.9" cy="347.1" r="1.25"/><circle cx="463.6" cy="327.5" r="1.25"/><circle cx="445.0" cy="354.9" r="1.25"/><circle cx="457.8" cy="321.5" r="1.25"/><circle cx="454.7" cy="320.5" r="1.25"/><circle cx="446.1" cy="318.3" r="1.25"/><circle cx="458.7" cy="308.9" r="1.25"/><circle cx="455.2" cy="315.6" r="1.25"/><circle cx="467.4" cy="300.4" r="1.25"/><circle cx="443.0" cy="374.0" r="1.25"/><circle cx="452.0" cy="374.0" r="1.25"/></g>
<path d="M444.2,294.8 L468.6,294.8 C468.15,295.33 466.72,296.68 465.9,298 C465.08,299.32 463.28,301.2 463.7,302.7 C464.12,304.2 466.52,305.22 468.4,307 C470.28,308.78 472.83,310.73 475,313.4 C477.17,316.07 479.72,319.57 481.4,323 C483.08,326.43 485.6,330.38 485.1,334 C484.6,337.62 481.38,341.28 478.4,344.7 C475.42,348.12 470.81,351.57 467.2,354.5 C463.59,357.43 458.49,359.72 456.75,362.3 C455.01,364.88 456.31,368.03 456.75,370 C457.19,371.97 458.96,373.42 459.4,374.1 L453.4,374.1 C453.84,373.42 455.61,371.97 456.05,370 C456.49,368.03 457.79,364.88 456.05,362.3 C454.31,359.72 449.21,357.43 445.6,354.5 C441.99,351.57 437.38,348.12 434.4,344.7 C431.42,341.28 428.2,337.62 427.7,334 C427.2,330.38 429.72,326.43 431.4,323 C433.08,319.57 435.63,316.07 437.8,313.4 C439.97,310.73 442.52,308.78 444.4,307 C446.28,305.22 448.68,304.2 449.1,302.7 C449.52,301.2 447.72,299.32 446.9,298 C446.08,296.68 444.65,295.33 444.2,294.8 Z" fill="none" stroke="#377eb8" stroke-width="1.45" stroke-linejoin="round"/>
<path d="M456.4,328.3 L458.7,330.6 L456.4,332.9 L454.1,330.6 Z" fill="#fff" stroke="#000" stroke-width="1.15"/>
<g fill="#377eb8" stroke="#377eb8" stroke-width="0.5" fill-opacity="0.3" stroke-opacity="0.35"><circle cx="515.4" cy="295.0" r="1.25"/><circle cx="507.6" cy="295.0" r="1.25"/><circle cx="516.6" cy="295.0" r="1.25"/><circle cx="526.3" cy="295.0" r="1.25"/><circle cx="526.6" cy="295.0" r="1.25"/><circle cx="511.6" cy="295.0" r="1.25"/><circle cx="509.0" cy="295.0" r="1.25"/><circle cx="522.9" cy="295.0" r="1.25"/><circle cx="530.2" cy="295.0" r="1.25"/><circle cx="522.2" cy="295.0" r="1.25"/><circle cx="521.4" cy="349.0" r="1.25"/><circle cx="524.1" cy="349.0" r="1.25"/><circle cx="520.3" cy="349.0" r="1.25"/><circle cx="522.0" cy="349.0" r="1.25"/><circle cx="509.8" cy="349.0" r="1.25"/><circle cx="526.2" cy="349.0" r="1.25"/><circle cx="512.7" cy="349.0" r="1.25"/><circle cx="510.7" cy="349.0" r="1.25"/><circle cx="521.2" cy="349.0" r="1.25"/><circle cx="519.0" cy="349.0" r="1.25"/><circle cx="512.0" cy="366.4" r="1.25"/><circle cx="532.3" cy="366.4" r="1.25"/><circle cx="527.3" cy="366.4" r="1.25"/><circle cx="530.4" cy="366.4" r="1.25"/><circle cx="509.4" cy="366.4" r="1.25"/><circle cx="520.7" cy="374.1" r="1.25"/><circle cx="529.5" cy="374.1" r="1.25"/><circle cx="512.2" cy="374.1" r="1.25"/><circle cx="529.8" cy="374.1" r="1.25"/><circle cx="518.4" cy="374.1" r="1.25"/><circle cx="522.2" cy="374.1" r="1.25"/><circle cx="527.4" cy="374.1" r="1.25"/><circle cx="515.9" cy="374.1" r="1.25"/><circle cx="508.6" cy="374.1" r="1.25"/><circle cx="507.4" cy="374.1" r="1.25"/><circle cx="530.7" cy="338.2" r="1.25"/><circle cx="530.5" cy="324.1" r="1.25"/><circle cx="532.1" cy="335.2" r="1.25"/><circle cx="513.2" cy="345.5" r="1.25"/><circle cx="506.9" cy="342.3" r="1.25"/><circle cx="525.2" cy="307.0" r="1.25"/><circle cx="511.9" cy="337.7" r="1.25"/><circle cx="524.9" cy="319.2" r="1.25"/><circle cx="507.3" cy="303.7" r="1.25"/><circle cx="526.1" cy="313.2" r="1.25"/><circle cx="526.0" cy="350.4" r="1.25"/><circle cx="529.5" cy="337.3" r="1.25"/><circle cx="509.8" cy="305.9" r="1.25"/><circle cx="511.3" cy="336.0" r="1.25"/><circle cx="528.4" cy="326.3" r="1.25"/><circle cx="518.6" cy="351.8" r="1.25"/><circle cx="511.5" cy="331.2" r="1.25"/><circle cx="523.9" cy="349.7" r="1.25"/><circle cx="517.8" cy="350.4" r="1.25"/><circle cx="520.6" cy="345.6" r="1.25"/><circle cx="509.8" cy="330.0" r="1.25"/><circle cx="522.2" cy="344.4" r="1.25"/><circle cx="510.8" cy="311.1" r="1.25"/><circle cx="514.6" cy="344.0" r="1.25"/><circle cx="510.5" cy="315.6" r="1.25"/><circle cx="527.0" cy="330.9" r="1.25"/><circle cx="529.2" cy="341.7" r="1.25"/><circle cx="509.1" cy="314.5" r="1.25"/><circle cx="529.7" cy="316.9" r="1.25"/><circle cx="521.4" cy="303.8" r="1.25"/><circle cx="507.5" cy="301.3" r="1.25"/><circle cx="519.3" cy="322.8" r="1.25"/><circle cx="530.0" cy="345.6" r="1.25"/><circle cx="527.9" cy="333.6" r="1.25"/><circle cx="525.8" cy="333.5" r="1.25"/><circle cx="508.8" cy="303.6" r="1.25"/><circle cx="527.0" cy="330.9" r="1.25"/><circle cx="529.9" cy="328.3" r="1.25"/><circle cx="530.4" cy="328.4" r="1.25"/><circle cx="529.1" cy="341.6" r="1.25"/><circle cx="507.3" cy="305.6" r="1.25"/><circle cx="506.8" cy="332.8" r="1.25"/><circle cx="510.3" cy="333.4" r="1.25"/><circle cx="508.4" cy="308.0" r="1.25"/><circle cx="517.6" cy="354.7" r="1.25"/><circle cx="528.0" cy="302.1" r="1.25"/><circle cx="528.6" cy="329.0" r="1.25"/><circle cx="509.9" cy="331.7" r="1.25"/><circle cx="528.3" cy="331.4" r="1.25"/><circle cx="528.4" cy="338.9" r="1.25"/><circle cx="512.2" cy="350.5" r="1.25"/><circle cx="510.3" cy="324.2" r="1.25"/><circle cx="509.3" cy="322.8" r="1.25"/><circle cx="524.3" cy="302.9" r="1.25"/><circle cx="513.0" cy="347.0" r="1.25"/><circle cx="518.7" cy="314.7" r="1.25"/><circle cx="525.2" cy="317.6" r="1.25"/><circle cx="517.5" cy="329.9" r="1.25"/><circle cx="517.4" cy="345.1" r="1.25"/><circle cx="508.8" cy="351.3" r="1.25"/><circle cx="510.0" cy="340.9" r="1.25"/><circle cx="521.8" cy="333.0" r="1.25"/><circle cx="524.3" cy="344.0" r="1.25"/><circle cx="514.0" cy="317.1" r="1.25"/><circle cx="518.1" cy="352.0" r="1.25"/><circle cx="512.7" cy="354.9" r="1.25"/><circle cx="506.8" cy="328.7" r="1.25"/><circle cx="528.5" cy="312.4" r="1.25"/><circle cx="521.8" cy="317.5" r="1.25"/><circle cx="513.3" cy="352.0" r="1.25"/></g>
<path d="M508.1,294.8 L531.1,294.8 C530.73,295.62 529.02,297.9 528.9,299.7 C528.78,301.5 529.35,302.98 530.4,305.6 C531.45,308.22 533.67,311.82 535.2,315.4 C536.73,318.98 538.45,323.03 539.6,327.1 C540.75,331.17 542.83,335.88 542.1,339.8 C541.37,343.72 537.97,347.5 535.2,350.6 C532.43,353.7 527.2,356.45 525.5,358.4 C523.8,360.35 525.08,360.37 525,362.3 C524.92,364.23 525,368.03 525,370 C525,371.97 525,373.42 525,374.1 L514.2,374.1 C514.2,373.42 514.2,371.97 514.2,370 C514.2,368.03 514.28,364.23 514.2,362.3 C514.12,360.37 515.4,360.35 513.7,358.4 C512,356.45 506.77,353.7 504,350.6 C501.23,347.5 497.83,343.72 497.1,339.8 C496.37,335.88 498.45,331.17 499.6,327.1 C500.75,323.03 502.47,318.98 504,315.4 C505.53,311.82 507.75,308.22 508.8,305.6 C509.85,302.98 510.42,301.5 510.3,299.7 C510.18,297.9 508.47,295.62 508.1,294.8 Z" fill="none" stroke="#377eb8" stroke-width="1.45" stroke-linejoin="round"/>
<path d="M519.6,331.3 L521.9,333.6 L519.6,335.9 L517.3,333.6 Z" fill="#fff" stroke="#000" stroke-width="1.15"/>
<g fill="#377eb8" stroke="#377eb8" stroke-width="0.5" fill-opacity="0.3" stroke-opacity="0.35"><circle cx="582.2" cy="295.0" r="1.25"/><circle cx="589.8" cy="295.0" r="1.25"/><circle cx="591.3" cy="295.0" r="1.25"/><circle cx="577.2" cy="295.0" r="1.25"/><circle cx="588.9" cy="295.0" r="1.25"/><circle cx="570.9" cy="295.0" r="1.25"/><circle cx="589.2" cy="295.0" r="1.25"/><circle cx="594.4" cy="295.0" r="1.25"/><circle cx="590.8" cy="295.0" r="1.25"/><circle cx="594.3" cy="295.0" r="1.25"/><circle cx="584.1" cy="295.0" r="1.25"/><circle cx="583.7" cy="295.0" r="1.25"/><circle cx="584.3" cy="349.0" r="1.25"/><circle cx="594.2" cy="349.0" r="1.25"/><circle cx="577.9" cy="349.0" r="1.25"/><circle cx="584.0" cy="349.0" r="1.25"/><circle cx="582.1" cy="349.0" r="1.25"/><circle cx="590.8" cy="349.0" r="1.25"/><circle cx="570.4" cy="349.0" r="1.25"/><circle cx="584.0" cy="349.0" r="1.25"/><circle cx="593.3" cy="349.0" r="1.25"/><circle cx="570.5" cy="349.0" r="1.25"/><circle cx="583.8" cy="349.0" r="1.25"/><circle cx="578.7" cy="349.0" r="1.25"/><circle cx="579.0" cy="366.4" r="1.25"/><circle cx="585.3" cy="366.4" r="1.25"/><circle cx="589.3" cy="366.4" r="1.25"/><circle cx="585.7" cy="374.1" r="1.25"/><circle cx="574.7" cy="374.1" r="1.25"/><circle cx="585.2" cy="374.1" r="1.25"/><circle cx="588.9" cy="374.1" r="1.25"/><circle cx="574.2" cy="374.1" r="1.25"/><circle cx="572.6" cy="312.8" r="1.25"/><circle cx="575.2" cy="336.2" r="1.25"/><circle cx="594.0" cy="326.2" r="1.25"/><circle cx="595.5" cy="311.1" r="1.25"/><circle cx="593.4" cy="345.8" r="1.25"/><circle cx="571.2" cy="340.1" r="1.25"/><circle cx="583.4" cy="331.7" r="1.25"/><circle cx="570.5" cy="311.6" r="1.25"/><circle cx="593.4" cy="314.5" r="1.25"/><circle cx="578.4" cy="330.0" r="1.25"/><circle cx="584.2" cy="344.6" r="1.25"/><circle cx="574.3" cy="305.5" r="1.25"/><circle cx="577.8" cy="338.3" r="1.25"/><circle cx="569.8" cy="310.4" r="1.25"/><circle cx="570.0" cy="315.3" r="1.25"/><circle cx="586.0" cy="349.0" r="1.25"/><circle cx="571.4" cy="305.9" r="1.25"/><circle cx="594.1" cy="343.7" r="1.25"/><circle cx="585.6" cy="348.5" r="1.25"/><circle cx="594.4" cy="334.5" r="1.25"/><circle cx="575.8" cy="343.1" r="1.25"/><circle cx="582.6" cy="341.8" r="1.25"/><circle cx="588.8" cy="344.0" r="1.25"/><circle cx="573.7" cy="309.1" r="1.25"/><circle cx="588.6" cy="304.4" r="1.25"/><circle cx="581.0" cy="349.2" r="1.25"/><circle cx="585.9" cy="302.9" r="1.25"/><circle cx="595.0" cy="320.0" r="1.25"/><circle cx="594.3" cy="338.0" r="1.25"/><circle cx="578.4" cy="317.7" r="1.25"/><circle cx="595.3" cy="348.0" r="1.25"/><circle cx="570.2" cy="337.1" r="1.25"/><circle cx="587.0" cy="336.4" r="1.25"/><circle cx="582.0" cy="319.5" r="1.25"/><circle cx="591.2" cy="344.0" r="1.25"/><circle cx="582.3" cy="335.6" r="1.25"/><circle cx="579.6" cy="349.6" r="1.25"/><circle cx="573.6" cy="316.1" r="1.25"/><circle cx="595.7" cy="324.3" r="1.25"/><circle cx="585.2" cy="339.9" r="1.25"/><circle cx="585.1" cy="324.9" r="1.25"/><circle cx="595.4" cy="306.5" r="1.25"/><circle cx="588.6" cy="306.5" r="1.25"/><circle cx="593.9" cy="333.4" r="1.25"/><circle cx="570.5" cy="340.8" r="1.25"/><circle cx="592.4" cy="303.2" r="1.25"/><circle cx="579.7" cy="315.8" r="1.25"/><circle cx="573.0" cy="330.0" r="1.25"/><circle cx="580.0" cy="322.8" r="1.25"/><circle cx="578.1" cy="312.9" r="1.25"/></g>
<path d="M567.7,294.8 L597.7,294.8 C597.8,296.93 598.03,302.22 598.3,307.6 C598.57,312.98 599.2,322.53 599.3,327.1 C599.4,331.67 598.57,332.07 598.9,335 C599.23,337.93 602.53,341.45 601.3,344.7 C600.07,347.95 593.78,351.57 591.5,354.5 C589.22,357.43 588.25,359.72 587.6,362.3 C586.95,364.88 587.6,368.03 587.6,370 C587.6,371.97 587.6,373.42 587.6,374.1 L577.8,374.1 C577.8,373.42 577.8,371.97 577.8,370 C577.8,368.03 578.45,364.88 577.8,362.3 C577.15,359.72 576.18,357.43 573.9,354.5 C571.62,351.57 565.33,347.95 564.1,344.7 C562.87,341.45 566.17,337.93 566.5,335 C566.83,332.07 566,331.67 566.1,327.1 C566.2,322.53 566.83,312.98 567.1,307.6 C567.37,302.22 567.6,296.93 567.7,294.8 Z" fill="none" stroke="#377eb8" stroke-width="1.45" stroke-linejoin="round"/>
<path d="M582.7,324.2 L585,326.5 L582.7,328.8 L580.4,326.5 Z" fill="#fff" stroke="#000" stroke-width="1.15"/>
<g fill="#4daf4a" stroke="#4daf4a" stroke-width="0.5" fill-opacity="0.3" stroke-opacity="0.35"><circle cx="113.3" cy="387.0" r="1.25"/><circle cx="125.5" cy="387.0" r="1.25"/><circle cx="121.2" cy="458.5" r="1.25"/><circle cx="111.4" cy="458.5" r="1.25"/><circle cx="122.6" cy="458.5" r="1.25"/><circle cx="115.7" cy="458.5" r="1.25"/><circle cx="127.9" cy="458.5" r="1.25"/><circle cx="121.0" cy="458.5" r="1.25"/><circle cx="110.4" cy="466.3" r="1.25"/><circle cx="124.4" cy="466.3" r="1.25"/><circle cx="116.8" cy="466.3" r="1.25"/><circle cx="135.3" cy="466.3" r="1.25"/><circle cx="133.6" cy="466.3" r="1.25"/><circle cx="110.2" cy="407.0" r="1.25"/><circle cx="125.5" cy="434.9" r="1.25"/><circle cx="120.8" cy="411.7" r="1.25"/><circle cx="123.7" cy="437.7" r="1.25"/><circle cx="123.8" cy="398.0" r="1.25"/><circle cx="123.9" cy="404.3" r="1.25"/><circle cx="127.2" cy="400.8" r="1.25"/><circle cx="111.0" cy="435.4" r="1.25"/><circle cx="132.0" cy="407.8" r="1.25"/><circle cx="130.2" cy="434.3" r="1.25"/><circle cx="122.5" cy="407.6" r="1.25"/><circle cx="116.9" cy="413.4" r="1.25"/><circle cx="131.3" cy="426.1" r="1.25"/><circle cx="130.6" cy="396.0" r="1.25"/><circle cx="116.2" cy="440.4" r="1.25"/><circle cx="118.7" cy="405.2" r="1.25"/><circle cx="130.2" cy="437.8" r="1.25"/><circle cx="132.1" cy="433.8" r="1.25"/><circle cx="135.4" cy="412.6" r="1.25"/><circle cx="120.0" cy="430.6" r="1.25"/><circle cx="125.7" cy="433.2" r="1.25"/><circle cx="117.1" cy="444.2" r="1.25"/><circle cx="132.1" cy="417.5" r="1.25"/><circle cx="135.2" cy="443.0" r="1.25"/><circle cx="133.2" cy="431.6" r="1.25"/><circle cx="111.6" cy="425.3" r="1.25"/><circle cx="135.0" cy="411.1" r="1.25"/><circle cx="113.7" cy="408.2" r="1.25"/><circle cx="119.2" cy="418.5" r="1.25"/><circle cx="118.6" cy="415.0" r="1.25"/><circle cx="115.7" cy="412.9" r="1.25"/><circle cx="112.2" cy="423.0" r="1.25"/><circle cx="124.3" cy="407.0" r="1.25"/><circle cx="126.1" cy="415.0" r="1.25"/><circle cx="121.2" cy="427.0" r="1.25"/><circle cx="123.2" cy="416.5" r="1.25"/><circle cx="126.7" cy="421.0" r="1.25"/><circle cx="112.7" cy="402.2" r="1.25"/><circle cx="130.5" cy="416.2" r="1.25"/><circle cx="113.9" cy="420.9" r="1.25"/><circle cx="113.6" cy="439.5" r="1.25"/><circle cx="114.1" cy="429.2" r="1.25"/><circle cx="109.5" cy="423.3" r="1.25"/><circle cx="131.3" cy="426.0" r="1.25"/><circle cx="123.4" cy="420.2" r="1.25"/><circle cx="128.5" cy="400.6" r="1.25"/><circle cx="134.7" cy="431.1" r="1.25"/><circle cx="130.3" cy="422.7" r="1.25"/><circle cx="133.1" cy="427.8" r="1.25"/><circle cx="118.6" cy="409.4" r="1.25"/><circle cx="128.5" cy="431.5" r="1.25"/><circle cx="129.0" cy="428.3" r="1.25"/><circle cx="125.7" cy="437.1" r="1.25"/><circle cx="109.7" cy="418.0" r="1.25"/><circle cx="122.4" cy="429.7" r="1.25"/><circle cx="112.3" cy="418.3" r="1.25"/><circle cx="118.6" cy="438.6" r="1.25"/><circle cx="127.3" cy="405.4" r="1.25"/><circle cx="127.1" cy="405.0" r="1.25"/><circle cx="130.3" cy="418.8" r="1.25"/><circle cx="120.4" cy="422.8" r="1.25"/><circle cx="115.0" cy="431.6" r="1.25"/><circle cx="120.9" cy="445.5" r="1.25"/><circle cx="112.3" cy="402.1" r="1.25"/><circle cx="111.2" cy="428.2" r="1.25"/><circle cx="113.4" cy="426.8" r="1.25"/><circle cx="126.0" cy="446.7" r="1.25"/><circle cx="111.1" cy="426.2" r="1.25"/><circle cx="126.1" cy="424.7" r="1.25"/><circle cx="135.2" cy="417.2" r="1.25"/><circle cx="116.2" cy="398.4" r="1.25"/><circle cx="111.1" cy="416.2" r="1.25"/><circle cx="116.1" cy="395.7" r="1.25"/><circle cx="118.9" cy="438.8" r="1.25"/><circle cx="128.4" cy="396.7" r="1.25"/><circle cx="126.1" cy="425.6" r="1.25"/><circle cx="111.4" cy="437.3" r="1.25"/><circle cx="126.7" cy="407.0" r="1.25"/><circle cx="132.8" cy="422.4" r="1.25"/><circle cx="122.0" cy="403.9" r="1.25"/><circle cx="127.7" cy="430.6" r="1.25"/><circle cx="111.6" cy="406.1" r="1.25"/><circle cx="120.7" cy="439.7" r="1.25"/><circle cx="120.8" cy="419.5" r="1.25"/><circle cx="128.7" cy="434.7" r="1.25"/><circle cx="119.8" cy="417.7" r="1.25"/><circle cx="121.5" cy="441.0" r="1.25"/><circle cx="120.5" cy="439.9" r="1.25"/><circle cx="121.4" cy="443.4" r="1.25"/><circle cx="123.3" cy="411.2" r="1.25"/><circle cx="114.4" cy="422.2" r="1.25"/><circle cx="129.4" cy="442.6" r="1.25"/><circle cx="128.3" cy="447.6" r="1.25"/><circle cx="117.5" cy="429.7" r="1.25"/><circle cx="134.1" cy="437.0" r="1.25"/><circle cx="131.5" cy="435.7" r="1.25"/><circle cx="113.2" cy="410.6" r="1.25"/><circle cx="134.2" cy="420.2" r="1.25"/><circle cx="117.0" cy="421.0" r="1.25"/><circle cx="135.2" cy="409.7" r="1.25"/><circle cx="122.4" cy="421.3" r="1.25"/><circle cx="113.0" cy="408.7" r="1.25"/><circle cx="122.4" cy="433.2" r="1.25"/><circle cx="123.9" cy="447.7" r="1.25"/><circle cx="126.8" cy="420.5" r="1.25"/><circle cx="132.5" cy="396.6" r="1.25"/><circle cx="112.4" cy="421.6" r="1.25"/><circle cx="115.0" cy="437.4" r="1.25"/><circle cx="127.3" cy="409.2" r="1.25"/><circle cx="125.2" cy="430.4" r="1.25"/></g>
<path d="M121.3,387 L123.7,387 C123.98,388.12 124.13,391.28 125.4,393.7 C126.67,396.12 129.83,398.57 131.3,401.5 C132.77,404.43 133.22,407.72 134.2,411.3 C135.18,414.88 136.47,419.9 137.2,423 C137.93,426.1 139.1,427.28 138.6,429.9 C138.1,432.52 136.32,435.93 134.2,438.7 C132.08,441.47 127.35,444.28 125.9,446.5 C124.45,448.72 125.42,450.05 125.5,452 C125.58,453.95 126.07,456.37 126.4,458.2 C126.73,460.03 127.28,461.62 127.5,463 C127.72,464.38 127.67,465.92 127.7,466.5 L117.3,466.5 C117.33,465.92 117.28,464.38 117.5,463 C117.72,461.62 118.27,460.03 118.6,458.2 C118.93,456.37 119.42,453.95 119.5,452 C119.58,450.05 120.55,448.72 119.1,446.5 C117.65,444.28 112.92,441.47 110.8,438.7 C108.68,435.93 106.9,432.52 106.4,429.9 C105.9,427.28 107.07,426.1 107.8,423 C108.53,419.9 109.82,414.88 110.8,411.3 C111.78,407.72 112.23,404.43 113.7,401.5 C115.17,398.57 118.33,396.12 119.6,393.7 C120.87,391.28 121.02,388.12 121.3,387 Z" fill="none" stroke="#4daf4a" stroke-width="1.45" stroke-linejoin="round"/>
<path d="M122.5,424.7 L124.8,427 L122.5,429.3 L120.2,427 Z" fill="#fff" stroke="#000" stroke-width="1.15"/>
<g fill="#4daf4a" stroke="#4daf4a" stroke-width="0.5" fill-opacity="0.3" stroke-opacity="0.35"><circle cx="189.5" cy="387.0" r="1.25"/><circle cx="180.8" cy="387.0" r="1.25"/><circle cx="184.8" cy="387.0" r="1.25"/><circle cx="183.3" cy="387.0" r="1.25"/><circle cx="177.4" cy="387.0" r="1.25"/><circle cx="197.6" cy="387.0" r="1.25"/><circle cx="193.1" cy="387.0" r="1.25"/><circle cx="184.4" cy="387.0" r="1.25"/><circle cx="190.0" cy="387.0" r="1.25"/><circle cx="189.2" cy="387.0" r="1.25"/><circle cx="174.7" cy="435.6" r="1.25"/><circle cx="180.8" cy="416.0" r="1.25"/><circle cx="196.3" cy="419.8" r="1.25"/><circle cx="194.8" cy="402.8" r="1.25"/><circle cx="181.2" cy="413.6" r="1.25"/><circle cx="185.0" cy="396.6" r="1.25"/><circle cx="191.3" cy="405.4" r="1.25"/><circle cx="198.2" cy="425.7" r="1.25"/><circle cx="190.5" cy="419.1" r="1.25"/><circle cx="184.2" cy="410.3" r="1.25"/><circle cx="195.0" cy="405.2" r="1.25"/><circle cx="184.0" cy="396.7" r="1.25"/><circle cx="174.3" cy="430.5" r="1.25"/><circle cx="178.9" cy="412.3" r="1.25"/><circle cx="198.1" cy="394.6" r="1.25"/><circle cx="187.0" cy="410.1" r="1.25"/><circle cx="192.0" cy="412.6" r="1.25"/><circle cx="181.6" cy="406.8" r="1.25"/><circle cx="183.8" cy="390.6" r="1.25"/><circle cx="197.5" cy="410.7" r="1.25"/><circle cx="177.9" cy="417.1" r="1.25"/><circle cx="176.3" cy="408.5" r="1.25"/><circle cx="189.0" cy="421.4" r="1.25"/><circle cx="188.5" cy="403.4" r="1.25"/><circle cx="198.3" cy="429.2" r="1.25"/><circle cx="190.6" cy="390.3" r="1.25"/><circle cx="186.1" cy="408.1" r="1.25"/><circle cx="180.7" cy="396.9" r="1.25"/><circle cx="177.3" cy="415.1" r="1.25"/><circle cx="181.6" cy="413.6" r="1.25"/><circle cx="176.8" cy="422.5" r="1.25"/><circle cx="179.5" cy="423.3" r="1.25"/><circle cx="178.8" cy="396.5" r="1.25"/><circle cx="180.4" cy="399.8" r="1.25"/><circle cx="198.4" cy="406.0" r="1.25"/><circle cx="195.9" cy="415.8" r="1.25"/><circle cx="181.9" cy="399.5" r="1.25"/><circle cx="187.3" cy="404.1" r="1.25"/><circle cx="173.0" cy="400.9" r="1.25"/><circle cx="180.2" cy="407.6" r="1.25"/><circle cx="175.5" cy="427.5" r="1.25"/><circle cx="190.8" cy="405.5" r="1.25"/><circle cx="175.7" cy="417.5" r="1.25"/><circle cx="193.2" cy="407.5" r="1.25"/><circle cx="182.1" cy="434.8" r="1.25"/><circle cx="182.2" cy="399.6" r="1.25"/><circle cx="182.5" cy="430.2" r="1.25"/><circle cx="185.8" cy="417.0" r="1.25"/><circle cx="194.4" cy="394.9" r="1.25"/><circle cx="182.6" cy="408.4" r="1.25"/><circle cx="196.3" cy="401.8" r="1.25"/><circle cx="191.7" cy="417.4" r="1.25"/><circle cx="186.5" cy="423.6" r="1.25"/><circle cx="198.0" cy="416.5" r="1.25"/><circle cx="195.8" cy="409.0" r="1.25"/><circle cx="178.7" cy="402.6" r="1.25"/><circle cx="187.1" cy="421.9" r="1.25"/><circle cx="175.5" cy="410.9" r="1.25"/><circle cx="179.3" cy="395.9" r="1.25"/><circle cx="182.1" cy="406.0" r="1.25"/><circle cx="197.3" cy="418.0" r="1.25"/><circle cx="175.7" cy="430.4" r="1.25"/><circle cx="185.0" cy="421.7" r="1.25"/><circle cx="176.2" cy="407.6" r="1.25"/><circle cx="195.2" cy="415.8" r="1.25"/><circle cx="182.4" cy="392.3" r="1.25"/><circle cx="197.4" cy="392.0" r="1.25"/><circle cx="190.3" cy="413.5" r="1.25"/><circle cx="173.9" cy="427.4" r="1.25"/><circle cx="193.5" cy="390.6" r="1.25"/><circle cx="186.9" cy="409.8" r="1.25"/><circle cx="192.6" cy="428.3" r="1.25"/><circle cx="188.5" cy="433.9" r="1.25"/><circle cx="177.4" cy="410.3" r="1.25"/><circle cx="192.8" cy="422.5" r="1.25"/><circle cx="184.3" cy="425.7" r="1.25"/><circle cx="174.1" cy="431.3" r="1.25"/><circle cx="183.1" cy="417.0" r="1.25"/><circle cx="177.2" cy="410.3" r="1.25"/><circle cx="175.0" cy="399.7" r="1.25"/><circle cx="188.3" cy="392.7" r="1.25"/><circle cx="187.4" cy="422.4" r="1.25"/><circle cx="178.4" cy="397.3" r="1.25"/><circle cx="189.9" cy="425.2" r="1.25"/><circle cx="195.0" cy="410.3" r="1.25"/><circle cx="186.8" cy="417.9" r="1.25"/><circle cx="188.7" cy="413.2" r="1.25"/><circle cx="182.7" cy="428.4" r="1.25"/><circle cx="181.2" cy="409.3" r="1.25"/><circle cx="187.3" cy="413.6" r="1.25"/><circle cx="179.0" cy="413.1" r="1.25"/><circle cx="195.9" cy="401.7" r="1.25"/><circle cx="194.2" cy="409.4" r="1.25"/><circle cx="180.9" cy="400.5" r="1.25"/><circle cx="196.1" cy="411.1" r="1.25"/><circle cx="187.4" cy="413.2" r="1.25"/><circle cx="189.5" cy="404.4" r="1.25"/><circle cx="173.4" cy="397.1" r="1.25"/><circle cx="186.8" cy="410.2" r="1.25"/><circle cx="189.1" cy="408.8" r="1.25"/><circle cx="182.8" cy="412.1" r="1.25"/><circle cx="175.4" cy="401.2" r="1.25"/><circle cx="191.2" cy="396.8" r="1.25"/><circle cx="192.2" cy="411.1" r="1.25"/><circle cx="196.0" cy="408.4" r="1.25"/><circle cx="197.5" cy="413.9" r="1.25"/><circle cx="197.6" cy="420.5" r="1.25"/><circle cx="194.2" cy="427.5" r="1.25"/><circle cx="181.7" cy="428.8" r="1.25"/><circle cx="198.5" cy="406.5" r="1.25"/><circle cx="190.6" cy="412.1" r="1.25"/><circle cx="175.2" cy="422.4" r="1.25"/><circle cx="187.7" cy="422.3" r="1.25"/><circle cx="184.2" cy="404.0" r="1.25"/><circle cx="183.3" cy="418.7" r="1.25"/><circle cx="175.7" cy="419.6" r="1.25"/><circle cx="190.3" cy="424.2" r="1.25"/><circle cx="184.0" cy="411.6" r="1.25"/><circle cx="188.9" cy="406.6" r="1.25"/><circle cx="177.5" cy="395.7" r="1.25"/></g>
<path d="M178.5,387 L193.1,387 C192.97,387.5 192.53,388.88 192.3,390 C192.07,391.12 191.12,392.53 191.7,393.7 C192.28,394.87 194.25,395.7 195.8,397 C197.35,398.3 198.95,399.28 201,401.5 C203.05,403.72 208.03,407.37 208.1,410.3 C208.17,413.23 203.32,415.67 201.4,419.1 C199.48,422.53 198.2,427.92 196.6,430.9 C195,433.88 193.54,435.12 191.8,437 C190.06,438.88 187.09,441.33 186.15,442.2 L185.45,442.2 C184.51,441.33 181.54,438.88 179.8,437 C178.06,435.12 176.6,433.88 175,430.9 C173.4,427.92 172.12,422.53 170.2,419.1 C168.28,415.67 163.43,413.23 163.5,410.3 C163.57,407.37 168.55,403.72 170.6,401.5 C172.65,399.28 174.25,398.3 175.8,397 C177.35,395.7 179.32,394.87 179.9,393.7 C180.48,392.53 179.53,391.12 179.3,390 C179.07,388.88 178.63,387.5 178.5,387 Z" fill="none" stroke="#4daf4a" stroke-width="1.45" stroke-linejoin="round"/>
<path d="M185.8,409 L188.1,411.3 L185.8,413.6 L183.5,411.3 Z" fill="#fff" stroke="#000" stroke-width="1.15"/>
<g fill="#4daf4a" stroke="#4daf4a" stroke-width="0.5" fill-opacity="0.3" stroke-opacity="0.35"><circle cx="252.8" cy="387.0" r="1.25"/><circle cx="244.2" cy="387.0" r="1.25"/><circle cx="242.8" cy="387.0" r="1.25"/><circle cx="251.5" cy="419.8" r="1.25"/><circle cx="255.7" cy="415.6" r="1.25"/><circle cx="255.0" cy="409.2" r="1.25"/><circle cx="251.7" cy="432.6" r="1.25"/><circle cx="238.3" cy="420.2" r="1.25"/><circle cx="245.0" cy="422.4" r="1.25"/><circle cx="239.6" cy="414.9" r="1.25"/><circle cx="258.5" cy="404.3" r="1.25"/><circle cx="251.4" cy="402.2" r="1.25"/><circle cx="241.7" cy="419.8" r="1.25"/><circle cx="257.8" cy="409.5" r="1.25"/><circle cx="249.3" cy="413.6" r="1.25"/><circle cx="253.2" cy="404.3" r="1.25"/><circle cx="237.5" cy="424.1" r="1.25"/><circle cx="260.0" cy="433.9" r="1.25"/><circle cx="241.5" cy="414.3" r="1.25"/><circle cx="258.4" cy="411.2" r="1.25"/><circle cx="246.8" cy="426.2" r="1.25"/><circle cx="254.6" cy="399.0" r="1.25"/><circle cx="256.9" cy="406.1" r="1.25"/><circle cx="242.3" cy="411.0" r="1.25"/><circle cx="240.8" cy="427.5" r="1.25"/><circle cx="260.3" cy="408.3" r="1.25"/><circle cx="256.8" cy="424.5" r="1.25"/><circle cx="241.0" cy="406.4" r="1.25"/><circle cx="258.8" cy="406.4" r="1.25"/><circle cx="255.6" cy="413.1" r="1.25"/><circle cx="248.0" cy="431.5" r="1.25"/><circle cx="244.4" cy="411.6" r="1.25"/><circle cx="246.9" cy="402.3" r="1.25"/><circle cx="253.3" cy="413.2" r="1.25"/><circle cx="237.8" cy="431.9" r="1.25"/><circle cx="250.1" cy="407.7" r="1.25"/><circle cx="244.5" cy="412.8" r="1.25"/><circle cx="257.0" cy="409.1" r="1.25"/><circle cx="236.3" cy="431.3" r="1.25"/><circle cx="241.0" cy="422.9" r="1.25"/><circle cx="239.9" cy="408.6" r="1.25"/><circle cx="254.3" cy="425.0" r="1.25"/><circle cx="261.6" cy="400.9" r="1.25"/><circle cx="257.5" cy="425.9" r="1.25"/><circle cx="248.4" cy="405.3" r="1.25"/><circle cx="255.5" cy="403.6" r="1.25"/><circle cx="242.0" cy="404.0" r="1.25"/><circle cx="260.9" cy="414.6" r="1.25"/><circle cx="242.9" cy="407.1" r="1.25"/><circle cx="258.4" cy="410.3" r="1.25"/><circle cx="246.7" cy="411.3" r="1.25"/><circle cx="240.2" cy="421.1" r="1.25"/><circle cx="243.6" cy="404.9" r="1.25"/><circle cx="244.1" cy="413.5" r="1.25"/><circle cx="256.4" cy="401.9" r="1.25"/><circle cx="260.0" cy="408.4" r="1.25"/><circle cx="248.1" cy="399.6" r="1.25"/><circle cx="249.6" cy="394.1" r="1.25"/><circle cx="250.0" cy="413.4" r="1.25"/><circle cx="236.2" cy="411.9" r="1.25"/><circle cx="244.5" cy="413.9" r="1.25"/><circle cx="248.5" cy="419.4" r="1.25"/><circle cx="260.0" cy="418.3" r="1.25"/><circle cx="251.7" cy="433.3" r="1.25"/><circle cx="261.7" cy="407.5" r="1.25"/><circle cx="256.7" cy="412.5" r="1.25"/><circle cx="250.4" cy="410.0" r="1.25"/><circle cx="242.2" cy="430.6" r="1.25"/><circle cx="241.9" cy="434.7" r="1.25"/><circle cx="252.8" cy="427.1" r="1.25"/><circle cx="248.5" cy="411.1" r="1.25"/><circle cx="243.5" cy="419.1" r="1.25"/><circle cx="240.0" cy="420.3" r="1.25"/><circle cx="243.2" cy="407.9" r="1.25"/><circle cx="253.3" cy="413.7" r="1.25"/><circle cx="242.9" cy="408.8" r="1.25"/><circle cx="245.4" cy="418.9" r="1.25"/><circle cx="242.9" cy="417.7" r="1.25"/><circle cx="248.9" cy="416.1" r="1.25"/><circle cx="243.8" cy="397.8" r="1.25"/><circle cx="260.1" cy="415.7" r="1.25"/><circle cx="246.3" cy="416.9" r="1.25"/><circle cx="249.5" cy="435.2" r="1.25"/><circle cx="252.2" cy="403.0" r="1.25"/><circle cx="246.7" cy="399.2" r="1.25"/><circle cx="240.1" cy="406.0" r="1.25"/><circle cx="243.8" cy="401.5" r="1.25"/><circle cx="247.2" cy="417.8" r="1.25"/><circle cx="254.1" cy="402.4" r="1.25"/><circle cx="249.6" cy="429.9" r="1.25"/><circle cx="244.7" cy="429.0" r="1.25"/><circle cx="255.5" cy="403.7" r="1.25"/><circle cx="256.6" cy="415.5" r="1.25"/><circle cx="261.1" cy="435.3" r="1.25"/><circle cx="244.7" cy="415.2" r="1.25"/><circle cx="253.9" cy="410.2" r="1.25"/><circle cx="242.5" cy="409.0" r="1.25"/><circle cx="243.0" cy="419.8" r="1.25"/><circle cx="237.8" cy="407.4" r="1.25"/><circle cx="255.5" cy="405.1" r="1.25"/><circle cx="261.1" cy="416.2" r="1.25"/><circle cx="251.9" cy="426.3" r="1.25"/><circle cx="251.9" cy="417.9" r="1.25"/><circle cx="243.8" cy="413.6" r="1.25"/><circle cx="244.5" cy="434.7" r="1.25"/><circle cx="258.3" cy="400.9" r="1.25"/><circle cx="248.9" cy="399.1" r="1.25"/><circle cx="256.6" cy="431.1" r="1.25"/><circle cx="254.4" cy="407.0" r="1.25"/><circle cx="254.5" cy="421.3" r="1.25"/><circle cx="253.0" cy="437.8" r="1.25"/><circle cx="243.6" cy="414.5" r="1.25"/><circle cx="236.9" cy="408.2" r="1.25"/><circle cx="243.4" cy="406.0" r="1.25"/><circle cx="237.3" cy="413.8" r="1.25"/><circle cx="238.9" cy="399.9" r="1.25"/><circle cx="240.8" cy="414.7" r="1.25"/><circle cx="257.8" cy="397.8" r="1.25"/><circle cx="240.5" cy="416.4" r="1.25"/><circle cx="247.5" cy="409.6" r="1.25"/><circle cx="238.6" cy="406.8" r="1.25"/><circle cx="255.7" cy="415.7" r="1.25"/><circle cx="244.8" cy="417.8" r="1.25"/><circle cx="239.4" cy="410.4" r="1.25"/><circle cx="239.6" cy="419.2" r="1.25"/><circle cx="241.8" cy="416.2" r="1.25"/><circle cx="254.7" cy="409.6" r="1.25"/><circle cx="253.4" cy="412.8" r="1.25"/><circle cx="240.3" cy="404.9" r="1.25"/><circle cx="253.0" cy="432.4" r="1.25"/><circle cx="257.1" cy="410.7" r="1.25"/><circle cx="260.8" cy="436.1" r="1.25"/><circle cx="254.3" cy="411.4" r="1.25"/><circle cx="256.0" cy="439.0" r="1.25"/></g>
<path d="M246,387 L252,387 C251.7,387.33 250.64,388.22 250.2,389 C249.76,389.78 248.88,390.87 249.35,391.7 C249.82,392.53 251.68,393.02 253,394 C254.32,394.98 254.7,396.02 257.3,397.6 C259.9,399.18 265.2,400.88 268.6,403.5 C272,406.12 277.63,410.7 277.7,413.3 C277.77,415.9 272.32,417.15 269,419.1 C265.68,421.05 259.58,422.88 257.8,425 C256.02,427.12 258.93,429.97 258.3,431.8 C257.67,433.63 255.49,434.75 254,436 C252.51,437.25 250.12,438.75 249.35,439.3 L248.65,439.3 C247.88,438.75 245.49,437.25 244,436 C242.51,434.75 240.33,433.63 239.7,431.8 C239.07,429.97 241.98,427.12 240.2,425 C238.42,422.88 232.32,421.05 229,419.1 C225.68,417.15 220.23,415.9 220.3,413.3 C220.37,410.7 226,406.12 229.4,403.5 C232.8,400.88 238.1,399.18 240.7,397.6 C243.3,396.02 243.68,394.98 245,394 C246.32,393.02 248.18,392.53 248.65,391.7 C249.12,390.87 248.24,389.78 247.8,389 C247.36,388.22 246.3,387.33 246,387 Z" fill="none" stroke="#4daf4a" stroke-width="1.45" stroke-linejoin="round"/>
<path d="M249,410.6 L251.3,412.9 L249,415.2 L246.7,412.9 Z" fill="#fff" stroke="#000" stroke-width="1.15"/>
<g fill="#4daf4a" stroke="#4daf4a" stroke-width="0.5" fill-opacity="0.3" stroke-opacity="0.35"><circle cx="303.6" cy="424.4" r="1.25"/><circle cx="317.7" cy="415.0" r="1.25"/><circle cx="303.2" cy="400.7" r="1.25"/><circle cx="305.6" cy="425.9" r="1.25"/><circle cx="319.2" cy="425.2" r="1.25"/><circle cx="319.7" cy="407.4" r="1.25"/><circle cx="314.0" cy="424.5" r="1.25"/><circle cx="299.5" cy="416.1" r="1.25"/><circle cx="316.7" cy="412.1" r="1.25"/><circle cx="316.4" cy="418.7" r="1.25"/><circle cx="313.0" cy="426.7" r="1.25"/><circle cx="300.8" cy="419.1" r="1.25"/><circle cx="316.8" cy="408.8" r="1.25"/><circle cx="308.0" cy="412.1" r="1.25"/><circle cx="310.3" cy="417.8" r="1.25"/><circle cx="314.6" cy="425.8" r="1.25"/><circle cx="318.6" cy="396.6" r="1.25"/><circle cx="310.6" cy="397.5" r="1.25"/><circle cx="305.3" cy="413.3" r="1.25"/><circle cx="312.4" cy="422.9" r="1.25"/><circle cx="302.3" cy="411.6" r="1.25"/><circle cx="301.4" cy="425.1" r="1.25"/><circle cx="304.9" cy="407.4" r="1.25"/><circle cx="306.0" cy="415.1" r="1.25"/><circle cx="309.9" cy="411.9" r="1.25"/><circle cx="304.8" cy="410.7" r="1.25"/><circle cx="324.0" cy="427.5" r="1.25"/><circle cx="307.8" cy="421.5" r="1.25"/><circle cx="319.2" cy="410.2" r="1.25"/><circle cx="305.0" cy="400.1" r="1.25"/><circle cx="309.7" cy="410.1" r="1.25"/><circle cx="316.5" cy="402.4" r="1.25"/><circle cx="307.8" cy="419.3" r="1.25"/><circle cx="320.4" cy="390.7" r="1.25"/><circle cx="305.0" cy="404.3" r="1.25"/><circle cx="319.1" cy="437.9" r="1.25"/><circle cx="306.7" cy="418.6" r="1.25"/><circle cx="299.5" cy="395.0" r="1.25"/><circle cx="306.8" cy="419.1" r="1.25"/><circle cx="310.9" cy="414.2" r="1.25"/><circle cx="299.6" cy="419.5" r="1.25"/><circle cx="300.5" cy="424.6" r="1.25"/><circle cx="318.1" cy="418.9" r="1.25"/><circle cx="311.0" cy="419.1" r="1.25"/><circle cx="303.7" cy="397.9" r="1.25"/><circle cx="309.7" cy="420.2" r="1.25"/><circle cx="318.2" cy="410.9" r="1.25"/><circle cx="324.3" cy="414.4" r="1.25"/><circle cx="322.6" cy="422.8" r="1.25"/><circle cx="323.9" cy="405.5" r="1.25"/><circle cx="307.2" cy="409.0" r="1.25"/><circle cx="308.9" cy="405.4" r="1.25"/><circle cx="323.9" cy="422.6" r="1.25"/><circle cx="305.3" cy="428.1" r="1.25"/><circle cx="315.9" cy="416.4" r="1.25"/><circle cx="309.1" cy="416.4" r="1.25"/><circle cx="307.9" cy="435.5" r="1.25"/><circle cx="306.4" cy="398.5" r="1.25"/><circle cx="314.0" cy="423.1" r="1.25"/><circle cx="306.1" cy="407.9" r="1.25"/><circle cx="325.2" cy="422.6" r="1.25"/><circle cx="305.3" cy="428.3" r="1.25"/><circle cx="320.6" cy="417.1" r="1.25"/><circle cx="322.0" cy="420.0" r="1.25"/><circle cx="308.0" cy="415.8" r="1.25"/><circle cx="300.5" cy="406.5" r="1.25"/><circle cx="304.0" cy="414.6" r="1.25"/><circle cx="312.0" cy="403.6" r="1.25"/><circle cx="320.3" cy="409.0" r="1.25"/><circle cx="304.9" cy="420.0" r="1.25"/><circle cx="323.5" cy="410.5" r="1.25"/><circle cx="305.6" cy="422.9" r="1.25"/><circle cx="301.7" cy="411.2" r="1.25"/><circle cx="307.5" cy="404.2" r="1.25"/><circle cx="301.6" cy="409.8" r="1.25"/><circle cx="319.9" cy="419.8" r="1.25"/><circle cx="299.9" cy="427.8" r="1.25"/><circle cx="307.2" cy="415.5" r="1.25"/><circle cx="310.5" cy="421.0" r="1.25"/><circle cx="314.8" cy="410.1" r="1.25"/><circle cx="308.5" cy="412.4" r="1.25"/><circle cx="315.5" cy="424.4" r="1.25"/><circle cx="306.5" cy="401.0" r="1.25"/><circle cx="321.4" cy="418.5" r="1.25"/><circle cx="314.3" cy="418.9" r="1.25"/><circle cx="322.3" cy="408.7" r="1.25"/><circle cx="302.0" cy="391.1" r="1.25"/><circle cx="319.6" cy="413.2" r="1.25"/><circle cx="302.7" cy="403.2" r="1.25"/><circle cx="319.5" cy="419.4" r="1.25"/><circle cx="323.2" cy="434.1" r="1.25"/><circle cx="302.3" cy="422.6" r="1.25"/><circle cx="315.8" cy="418.4" r="1.25"/><circle cx="314.1" cy="423.9" r="1.25"/><circle cx="307.7" cy="426.3" r="1.25"/><circle cx="312.5" cy="415.0" r="1.25"/><circle cx="307.6" cy="405.6" r="1.25"/><circle cx="303.5" cy="398.9" r="1.25"/><circle cx="316.6" cy="416.0" r="1.25"/><circle cx="311.4" cy="412.6" r="1.25"/><circle cx="324.0" cy="458.5" r="1.25"/><circle cx="321.0" cy="466.3" r="1.25"/><circle cx="302.0" cy="436.0" r="1.25"/><circle cx="323.0" cy="438.0" r="1.25"/></g>
<path d="M311.95,387 L312.65,387 C313.16,388.43 313.48,392.85 315.7,395.6 C317.92,398.35 321.78,400.5 326,403.5 C330.22,406.5 340.68,410.35 341,413.6 C341.32,416.85 331.62,420.12 327.9,423 C324.18,425.88 321.24,427.63 318.7,430.9 C316.16,434.17 313.66,439.08 312.65,442.6 C311.64,446.12 312.53,449.4 312.65,452 C312.78,454.6 313.4,456.37 313.4,458.2 C313.4,460.03 312.68,461.62 312.65,463 C312.62,464.38 313.11,465.92 313.2,466.5 L311.4,466.5 C311.49,465.92 311.98,464.38 311.95,463 C311.92,461.62 311.2,460.03 311.2,458.2 C311.2,456.37 311.82,454.6 311.95,452 C312.07,449.4 312.96,446.12 311.95,442.6 C310.94,439.08 308.44,434.17 305.9,430.9 C303.36,427.63 300.42,425.88 296.7,423 C292.98,420.12 283.28,416.85 283.6,413.6 C283.92,410.35 294.38,406.5 298.6,403.5 C302.82,400.5 306.68,398.35 308.9,395.6 C311.12,392.85 311.44,388.43 311.95,387 Z" fill="none" stroke="#4daf4a" stroke-width="1.45" stroke-linejoin="round"/>
<path d="M312.3,411.3 L314.6,413.6 L312.3,415.9 L310,413.6 Z" fill="#fff" stroke="#000" stroke-width="1.15"/>
<g fill="#4daf4a" stroke="#4daf4a" stroke-width="0.5" fill-opacity="0.3" stroke-opacity="0.35"><circle cx="401.3" cy="387.0" r="1.25"/><circle cx="403.6" cy="387.0" r="1.25"/><circle cx="380.4" cy="387.0" r="1.25"/><circle cx="396.3" cy="458.5" r="1.25"/><circle cx="402.5" cy="458.5" r="1.25"/><circle cx="401.6" cy="458.5" r="1.25"/><circle cx="384.9" cy="458.5" r="1.25"/><circle cx="397.1" cy="429.6" r="1.25"/><circle cx="384.9" cy="431.9" r="1.25"/><circle cx="405.7" cy="427.2" r="1.25"/><circle cx="386.1" cy="428.2" r="1.25"/><circle cx="385.7" cy="434.2" r="1.25"/><circle cx="402.8" cy="433.6" r="1.25"/><circle cx="395.0" cy="429.2" r="1.25"/><circle cx="391.8" cy="427.9" r="1.25"/><circle cx="382.1" cy="427.5" r="1.25"/><circle cx="386.1" cy="432.8" r="1.25"/><circle cx="395.0" cy="433.2" r="1.25"/><circle cx="394.6" cy="424.4" r="1.25"/><circle cx="400.9" cy="427.9" r="1.25"/><circle cx="392.7" cy="442.3" r="1.25"/><circle cx="386.0" cy="422.4" r="1.25"/><circle cx="384.0" cy="431.5" r="1.25"/><circle cx="399.2" cy="433.6" r="1.25"/><circle cx="391.8" cy="423.7" r="1.25"/><circle cx="385.0" cy="428.1" r="1.25"/><circle cx="390.7" cy="434.4" r="1.25"/><circle cx="383.1" cy="437.3" r="1.25"/><circle cx="388.2" cy="432.4" r="1.25"/><circle cx="405.1" cy="424.4" r="1.25"/><circle cx="401.6" cy="429.3" r="1.25"/><circle cx="393.9" cy="432.6" r="1.25"/><circle cx="386.5" cy="434.1" r="1.25"/><circle cx="390.3" cy="427.6" r="1.25"/><circle cx="389.3" cy="421.3" r="1.25"/><circle cx="381.9" cy="428.6" r="1.25"/><circle cx="390.3" cy="445.6" r="1.25"/><circle cx="396.2" cy="430.1" r="1.25"/><circle cx="386.4" cy="440.3" r="1.25"/><circle cx="401.3" cy="439.8" r="1.25"/><circle cx="382.3" cy="431.9" r="1.25"/><circle cx="396.0" cy="440.0" r="1.25"/><circle cx="396.1" cy="429.2" r="1.25"/><circle cx="395.0" cy="428.1" r="1.25"/><circle cx="405.6" cy="437.8" r="1.25"/><circle cx="384.1" cy="433.5" r="1.25"/><circle cx="391.1" cy="432.2" r="1.25"/><circle cx="390.1" cy="429.3" r="1.25"/><circle cx="405.8" cy="431.3" r="1.25"/><circle cx="383.4" cy="432.8" r="1.25"/><circle cx="390.0" cy="432.5" r="1.25"/><circle cx="402.4" cy="433.7" r="1.25"/><circle cx="380.4" cy="430.0" r="1.25"/><circle cx="404.0" cy="444.7" r="1.25"/><circle cx="384.5" cy="440.8" r="1.25"/><circle cx="386.4" cy="434.6" r="1.25"/><circle cx="390.0" cy="435.7" r="1.25"/><circle cx="406.0" cy="424.9" r="1.25"/><circle cx="405.3" cy="441.3" r="1.25"/><circle cx="401.9" cy="427.6" r="1.25"/><circle cx="380.7" cy="436.3" r="1.25"/><circle cx="388.5" cy="430.5" r="1.25"/><circle cx="388.8" cy="433.7" r="1.25"/><circle cx="402.3" cy="430.4" r="1.25"/><circle cx="381.4" cy="434.5" r="1.25"/><circle cx="394.0" cy="429.9" r="1.25"/><circle cx="387.6" cy="421.7" r="1.25"/><circle cx="387.9" cy="430.9" r="1.25"/><circle cx="384.7" cy="426.8" r="1.25"/><circle cx="390.8" cy="446.4" r="1.25"/><circle cx="393.9" cy="438.6" r="1.25"/><circle cx="402.0" cy="426.6" r="1.25"/><circle cx="383.4" cy="433.8" r="1.25"/><circle cx="386.2" cy="433.5" r="1.25"/><circle cx="381.2" cy="431.8" r="1.25"/><circle cx="383.3" cy="431.6" r="1.25"/><circle cx="381.2" cy="434.7" r="1.25"/><circle cx="383.1" cy="424.8" r="1.25"/><circle cx="381.2" cy="425.6" r="1.25"/><circle cx="385.2" cy="427.0" r="1.25"/><circle cx="399.6" cy="430.0" r="1.25"/><circle cx="383.2" cy="429.1" r="1.25"/><circle cx="406.3" cy="422.9" r="1.25"/><circle cx="391.5" cy="424.6" r="1.25"/><circle cx="386.8" cy="438.0" r="1.25"/><circle cx="404.3" cy="445.7" r="1.25"/><circle cx="391.9" cy="432.0" r="1.25"/><circle cx="398.0" cy="395.5" r="1.25"/><circle cx="397.8" cy="414.2" r="1.25"/><circle cx="403.0" cy="419.1" r="1.25"/><circle cx="404.2" cy="409.0" r="1.25"/><circle cx="398.9" cy="416.1" r="1.25"/><circle cx="396.7" cy="407.4" r="1.25"/><circle cx="385.7" cy="394.7" r="1.25"/><circle cx="380.4" cy="392.8" r="1.25"/><circle cx="387.2" cy="395.6" r="1.25"/><circle cx="381.0" cy="406.3" r="1.25"/><circle cx="400.5" cy="403.3" r="1.25"/><circle cx="398.8" cy="399.8" r="1.25"/><circle cx="403.5" cy="405.2" r="1.25"/><circle cx="384.3" cy="411.8" r="1.25"/><circle cx="399.4" cy="413.6" r="1.25"/><circle cx="381.8" cy="408.2" r="1.25"/><circle cx="387.5" cy="419.5" r="1.25"/><circle cx="388.9" cy="401.4" r="1.25"/><circle cx="386.1" cy="406.5" r="1.25"/><circle cx="397.7" cy="394.8" r="1.25"/><circle cx="398.4" cy="401.0" r="1.25"/><circle cx="400.8" cy="397.9" r="1.25"/><circle cx="385.8" cy="418.4" r="1.25"/><circle cx="405.6" cy="401.8" r="1.25"/><circle cx="398.2" cy="413.5" r="1.25"/></g>
<path d="M388.9,387 L397.7,387 C397.47,387.5 396.98,388.88 396.3,390 C395.62,391.12 393.87,392.2 393.65,393.7 C393.43,395.2 394.46,397.37 395,399 C395.54,400.63 396.9,401.62 396.9,403.5 C396.9,405.38 394.62,408.02 395,410.3 C395.38,412.58 397.03,415.08 399.2,417.2 C401.37,419.32 404.15,420.57 408,423 C411.85,425.43 422.15,429.18 422.3,431.8 C422.45,434.42 413.53,436.25 408.9,438.7 C404.27,441.15 397.04,444.28 394.5,446.5 C391.96,448.72 393.57,450.42 393.65,452 C393.73,453.58 394.77,454.87 395,456 C395.23,457.13 395,458.33 395,458.8 L391.6,458.8 C391.6,458.33 391.38,457.13 391.6,456 C391.83,454.87 392.87,453.58 392.95,452 C393.03,450.42 394.64,448.72 392.1,446.5 C389.56,444.28 382.33,441.15 377.7,438.7 C373.07,436.25 364.15,434.42 364.3,431.8 C364.45,429.18 374.75,425.43 378.6,423 C382.45,420.57 385.23,419.32 387.4,417.2 C389.57,415.08 391.22,412.58 391.6,410.3 C391.98,408.02 389.7,405.38 389.7,403.5 C389.7,401.62 391.06,400.63 391.6,399 C392.14,397.37 393.17,395.2 392.95,393.7 C392.73,392.2 390.98,391.12 390.3,390 C389.62,388.88 389.13,387.5 388.9,387 Z" fill="none" stroke="#4daf4a" stroke-width="1.45" stroke-linejoin="round"/>
<path d="M393.3,428.2 L395.6,430.5 L393.3,432.8 L391,430.5 Z" fill="#fff" stroke="#000" stroke-width="1.15"/>
<g fill="#4daf4a" stroke="#4daf4a" stroke-width="0.5" fill-opacity="0.3" stroke-opacity="0.35"><circle cx="443.5" cy="387.0" r="1.25"/><circle cx="443.8" cy="387.0" r="1.25"/><circle cx="465.9" cy="387.0" r="1.25"/><circle cx="459.0" cy="387.0" r="1.25"/><circle cx="463.5" cy="387.0" r="1.25"/><circle cx="450.5" cy="413.2" r="1.25"/><circle cx="462.0" cy="405.4" r="1.25"/><circle cx="462.6" cy="416.7" r="1.25"/><circle cx="451.1" cy="438.5" r="1.25"/><circle cx="459.0" cy="427.8" r="1.25"/><circle cx="464.0" cy="433.0" r="1.25"/><circle cx="465.3" cy="393.8" r="1.25"/><circle cx="458.9" cy="428.5" r="1.25"/><circle cx="445.1" cy="435.4" r="1.25"/><circle cx="455.3" cy="417.0" r="1.25"/><circle cx="463.8" cy="414.5" r="1.25"/><circle cx="467.6" cy="413.0" r="1.25"/><circle cx="462.1" cy="427.3" r="1.25"/><circle cx="452.8" cy="415.4" r="1.25"/><circle cx="452.0" cy="427.5" r="1.25"/><circle cx="464.4" cy="424.0" r="1.25"/><circle cx="455.0" cy="437.7" r="1.25"/><circle cx="451.8" cy="394.8" r="1.25"/><circle cx="466.9" cy="421.9" r="1.25"/><circle cx="449.4" cy="427.6" r="1.25"/><circle cx="463.8" cy="413.7" r="1.25"/><circle cx="445.5" cy="433.1" r="1.25"/><circle cx="450.6" cy="420.7" r="1.25"/><circle cx="465.4" cy="432.3" r="1.25"/><circle cx="456.1" cy="416.0" r="1.25"/><circle cx="467.0" cy="421.3" r="1.25"/><circle cx="455.4" cy="433.4" r="1.25"/><circle cx="450.4" cy="424.2" r="1.25"/><circle cx="455.0" cy="413.9" r="1.25"/><circle cx="465.1" cy="397.7" r="1.25"/><circle cx="468.5" cy="401.8" r="1.25"/><circle cx="443.8" cy="408.6" r="1.25"/><circle cx="459.9" cy="411.1" r="1.25"/><circle cx="466.3" cy="398.4" r="1.25"/><circle cx="456.2" cy="418.9" r="1.25"/><circle cx="459.1" cy="418.5" r="1.25"/><circle cx="459.8" cy="416.1" r="1.25"/><circle cx="456.5" cy="415.7" r="1.25"/><circle cx="448.5" cy="409.7" r="1.25"/><circle cx="447.6" cy="430.9" r="1.25"/><circle cx="460.9" cy="414.0" r="1.25"/><circle cx="459.2" cy="413.2" r="1.25"/><circle cx="451.9" cy="412.3" r="1.25"/><circle cx="455.1" cy="396.7" r="1.25"/><circle cx="453.5" cy="410.0" r="1.25"/><circle cx="469.4" cy="420.2" r="1.25"/><circle cx="458.7" cy="407.5" r="1.25"/><circle cx="458.3" cy="407.4" r="1.25"/><circle cx="462.1" cy="402.6" r="1.25"/><circle cx="456.2" cy="433.6" r="1.25"/><circle cx="457.4" cy="398.9" r="1.25"/><circle cx="446.9" cy="424.1" r="1.25"/><circle cx="450.8" cy="431.4" r="1.25"/><circle cx="455.9" cy="410.4" r="1.25"/><circle cx="468.0" cy="429.0" r="1.25"/><circle cx="448.2" cy="425.5" r="1.25"/><circle cx="449.8" cy="436.0" r="1.25"/><circle cx="457.4" cy="420.0" r="1.25"/><circle cx="449.9" cy="421.5" r="1.25"/><circle cx="465.4" cy="427.2" r="1.25"/><circle cx="468.7" cy="423.6" r="1.25"/><circle cx="450.6" cy="422.5" r="1.25"/><circle cx="463.8" cy="397.5" r="1.25"/><circle cx="459.9" cy="414.0" r="1.25"/><circle cx="454.5" cy="397.7" r="1.25"/><circle cx="456.3" cy="409.5" r="1.25"/><circle cx="456.2" cy="436.7" r="1.25"/><circle cx="445.5" cy="424.2" r="1.25"/><circle cx="460.0" cy="418.2" r="1.25"/><circle cx="467.6" cy="405.9" r="1.25"/><circle cx="448.8" cy="413.3" r="1.25"/><circle cx="460.8" cy="405.9" r="1.25"/><circle cx="468.8" cy="421.8" r="1.25"/><circle cx="462.2" cy="414.2" r="1.25"/><circle cx="457.7" cy="402.0" r="1.25"/><circle cx="444.8" cy="422.4" r="1.25"/><circle cx="455.3" cy="418.5" r="1.25"/><circle cx="458.1" cy="427.6" r="1.25"/><circle cx="459.1" cy="400.5" r="1.25"/><circle cx="463.8" cy="412.4" r="1.25"/><circle cx="455.2" cy="432.8" r="1.25"/><circle cx="459.2" cy="411.1" r="1.25"/><circle cx="459.4" cy="416.9" r="1.25"/><circle cx="448.2" cy="401.6" r="1.25"/><circle cx="450.4" cy="401.7" r="1.25"/><circle cx="460.6" cy="409.8" r="1.25"/><circle cx="453.0" cy="420.8" r="1.25"/><circle cx="453.7" cy="409.8" r="1.25"/><circle cx="460.2" cy="410.6" r="1.25"/><circle cx="452.0" cy="419.8" r="1.25"/><circle cx="466.1" cy="422.7" r="1.25"/><circle cx="451.6" cy="410.5" r="1.25"/><circle cx="446.9" cy="415.3" r="1.25"/><circle cx="465.3" cy="414.9" r="1.25"/><circle cx="446.7" cy="431.8" r="1.25"/><circle cx="452.8" cy="422.4" r="1.25"/><circle cx="445.4" cy="402.9" r="1.25"/><circle cx="452.2" cy="426.9" r="1.25"/><circle cx="447.4" cy="426.9" r="1.25"/><circle cx="468.1" cy="423.8" r="1.25"/><circle cx="457.2" cy="418.5" r="1.25"/><circle cx="467.7" cy="404.6" r="1.25"/><circle cx="448.9" cy="420.9" r="1.25"/><circle cx="448.5" cy="404.7" r="1.25"/><circle cx="462.8" cy="430.4" r="1.25"/><circle cx="459.1" cy="422.6" r="1.25"/><circle cx="462.3" cy="423.1" r="1.25"/><circle cx="464.8" cy="411.2" r="1.25"/><circle cx="462.6" cy="408.2" r="1.25"/><circle cx="466.7" cy="419.2" r="1.25"/><circle cx="467.1" cy="407.3" r="1.25"/><circle cx="466.9" cy="408.2" r="1.25"/><circle cx="445.9" cy="413.3" r="1.25"/><circle cx="469.1" cy="426.7" r="1.25"/><circle cx="447.5" cy="413.8" r="1.25"/><circle cx="455.7" cy="418.7" r="1.25"/><circle cx="465.5" cy="394.0" r="1.25"/><circle cx="447.7" cy="424.4" r="1.25"/><circle cx="451.2" cy="434.9" r="1.25"/><circle cx="449.7" cy="432.9" r="1.25"/></g>
<path d="M454.3,387.3 L458.5,387.3 C458.47,388.17 457.98,390.85 458.3,392.5 C458.62,394.15 459.72,395.62 460.4,397.2 C461.08,398.78 461.28,400.42 462.4,402 C463.52,403.58 465.53,405.12 467.1,406.7 C468.67,408.28 470.58,409.92 471.8,411.5 C473.02,413.08 473.48,414.62 474.4,416.2 C475.32,417.78 476.52,419.73 477.3,421 C478.08,422.27 479.5,422.7 479.1,423.8 C478.7,424.9 476.95,426.18 474.9,427.6 C472.85,429.02 469.02,430.88 466.8,432.3 C464.58,433.72 462.9,434.9 461.6,436.1 C460.3,437.3 459.43,438.93 459,439.5 L453.8,439.5 C453.37,438.93 452.5,437.3 451.2,436.1 C449.9,434.9 448.22,433.72 446,432.3 C443.78,430.88 439.95,429.02 437.9,427.6 C435.85,426.18 434.1,424.9 433.7,423.8 C433.3,422.7 434.72,422.27 435.5,421 C436.28,419.73 437.48,417.78 438.4,416.2 C439.32,414.62 439.78,413.08 441,411.5 C442.22,409.92 444.13,408.28 445.7,406.7 C447.27,405.12 449.28,403.58 450.4,402 C451.52,400.42 451.72,398.78 452.4,397.2 C453.08,395.62 454.18,394.15 454.5,392.5 C454.82,390.85 454.33,388.17 454.3,387.3 Z" fill="none" stroke="#4daf4a" stroke-width="1.45" stroke-linejoin="round"/>
<path d="M456.4,417.8 L458.7,420.1 L456.4,422.4 L454.1,420.1 Z" fill="#fff" stroke="#000" stroke-width="1.15"/>
<g fill="#4daf4a" stroke="#4daf4a" stroke-width="0.5" fill-opacity="0.3" stroke-opacity="0.35"><circle cx="522.8" cy="387.0" r="1.25"/><circle cx="509.3" cy="387.0" r="1.25"/><circle cx="525.8" cy="387.0" r="1.25"/><circle cx="520.0" cy="387.0" r="1.25"/><circle cx="526.8" cy="387.0" r="1.25"/><circle cx="529.7" cy="387.0" r="1.25"/><circle cx="526.6" cy="387.0" r="1.25"/><circle cx="518.7" cy="387.0" r="1.25"/><circle cx="512.9" cy="417.1" r="1.25"/><circle cx="521.7" cy="396.7" r="1.25"/><circle cx="520.6" cy="399.8" r="1.25"/><circle cx="508.3" cy="415.1" r="1.25"/><circle cx="532.5" cy="408.8" r="1.25"/><circle cx="517.5" cy="427.3" r="1.25"/><circle cx="515.0" cy="426.1" r="1.25"/><circle cx="529.0" cy="424.7" r="1.25"/><circle cx="507.2" cy="426.5" r="1.25"/><circle cx="517.4" cy="405.3" r="1.25"/><circle cx="515.2" cy="415.6" r="1.25"/><circle cx="525.8" cy="413.6" r="1.25"/><circle cx="522.9" cy="411.9" r="1.25"/><circle cx="521.3" cy="392.7" r="1.25"/><circle cx="509.9" cy="422.5" r="1.25"/><circle cx="521.8" cy="431.3" r="1.25"/><circle cx="518.1" cy="399.1" r="1.25"/><circle cx="531.6" cy="422.1" r="1.25"/><circle cx="531.5" cy="424.7" r="1.25"/><circle cx="516.0" cy="415.0" r="1.25"/><circle cx="532.5" cy="404.6" r="1.25"/><circle cx="526.8" cy="435.6" r="1.25"/><circle cx="527.7" cy="430.3" r="1.25"/><circle cx="515.5" cy="416.5" r="1.25"/><circle cx="509.8" cy="399.2" r="1.25"/><circle cx="519.2" cy="433.4" r="1.25"/><circle cx="512.5" cy="400.4" r="1.25"/><circle cx="519.8" cy="422.9" r="1.25"/><circle cx="525.9" cy="425.3" r="1.25"/><circle cx="515.1" cy="414.0" r="1.25"/><circle cx="526.7" cy="415.1" r="1.25"/><circle cx="514.9" cy="422.7" r="1.25"/><circle cx="508.6" cy="429.6" r="1.25"/><circle cx="522.8" cy="427.7" r="1.25"/><circle cx="516.5" cy="424.2" r="1.25"/><circle cx="509.5" cy="400.8" r="1.25"/><circle cx="530.0" cy="438.6" r="1.25"/><circle cx="514.8" cy="430.5" r="1.25"/><circle cx="518.3" cy="423.4" r="1.25"/><circle cx="527.4" cy="405.4" r="1.25"/><circle cx="519.2" cy="425.3" r="1.25"/><circle cx="526.4" cy="406.9" r="1.25"/><circle cx="512.4" cy="429.9" r="1.25"/><circle cx="526.1" cy="423.2" r="1.25"/><circle cx="520.2" cy="413.0" r="1.25"/><circle cx="520.8" cy="427.0" r="1.25"/><circle cx="528.9" cy="403.9" r="1.25"/><circle cx="526.8" cy="415.1" r="1.25"/><circle cx="529.6" cy="395.2" r="1.25"/><circle cx="520.8" cy="409.2" r="1.25"/><circle cx="516.5" cy="413.8" r="1.25"/><circle cx="531.1" cy="430.5" r="1.25"/><circle cx="520.0" cy="426.6" r="1.25"/><circle cx="518.0" cy="408.7" r="1.25"/><circle cx="522.9" cy="413.8" r="1.25"/><circle cx="507.3" cy="419.6" r="1.25"/><circle cx="516.9" cy="427.5" r="1.25"/><circle cx="516.5" cy="408.0" r="1.25"/><circle cx="509.9" cy="401.2" r="1.25"/><circle cx="529.1" cy="419.1" r="1.25"/><circle cx="515.3" cy="412.7" r="1.25"/><circle cx="524.7" cy="417.7" r="1.25"/><circle cx="512.2" cy="429.8" r="1.25"/><circle cx="518.5" cy="412.4" r="1.25"/><circle cx="513.5" cy="425.0" r="1.25"/><circle cx="526.1" cy="392.8" r="1.25"/><circle cx="520.3" cy="439.0" r="1.25"/><circle cx="517.1" cy="422.2" r="1.25"/><circle cx="531.7" cy="423.5" r="1.25"/><circle cx="514.1" cy="405.2" r="1.25"/><circle cx="523.9" cy="427.2" r="1.25"/><circle cx="526.0" cy="406.0" r="1.25"/><circle cx="520.8" cy="426.0" r="1.25"/><circle cx="507.1" cy="409.5" r="1.25"/><circle cx="531.8" cy="418.1" r="1.25"/><circle cx="531.8" cy="412.5" r="1.25"/><circle cx="528.5" cy="431.6" r="1.25"/><circle cx="506.7" cy="425.0" r="1.25"/><circle cx="518.1" cy="412.6" r="1.25"/><circle cx="509.9" cy="410.0" r="1.25"/><circle cx="521.0" cy="425.2" r="1.25"/><circle cx="526.9" cy="424.9" r="1.25"/><circle cx="507.5" cy="415.7" r="1.25"/><circle cx="527.8" cy="411.9" r="1.25"/><circle cx="524.0" cy="430.9" r="1.25"/><circle cx="508.2" cy="418.0" r="1.25"/><circle cx="510.1" cy="420.0" r="1.25"/><circle cx="509.4" cy="413.2" r="1.25"/><circle cx="525.5" cy="420.0" r="1.25"/><circle cx="506.7" cy="407.7" r="1.25"/><circle cx="513.6" cy="420.4" r="1.25"/><circle cx="511.6" cy="433.3" r="1.25"/><circle cx="517.7" cy="417.8" r="1.25"/><circle cx="527.9" cy="423.9" r="1.25"/><circle cx="512.7" cy="427.8" r="1.25"/><circle cx="507.0" cy="417.8" r="1.25"/><circle cx="518.7" cy="431.7" r="1.25"/><circle cx="508.3" cy="424.9" r="1.25"/><circle cx="507.1" cy="424.6" r="1.25"/><circle cx="513.8" cy="410.5" r="1.25"/></g>
<path d="M514.8,387 L524.4,387 C524.18,387.5 523.63,388.88 523.1,390 C522.57,391.12 520.57,391.78 521.2,393.7 C521.83,395.62 524.88,398.57 526.9,401.5 C528.92,404.43 531.18,407.45 533.3,411.3 C535.42,415.15 539.85,421.02 539.6,424.6 C539.35,428.18 535.08,429.87 531.8,432.8 C528.53,435.73 521.93,440.63 519.95,442.2 L519.25,442.2 C517.27,440.63 510.68,435.73 507.4,432.8 C504.13,429.87 499.85,428.18 499.6,424.6 C499.35,421.02 503.78,415.15 505.9,411.3 C508.02,407.45 510.28,404.43 512.3,401.5 C514.32,398.57 517.37,395.62 518,393.7 C518.63,391.78 516.63,391.12 516.1,390 C515.57,388.88 515.02,387.5 514.8,387 Z" fill="none" stroke="#4daf4a" stroke-width="1.45" stroke-linejoin="round"/>
<path d="M519.6,418.8 L521.9,421.1 L519.6,423.4 L517.3,421.1 Z" fill="#fff" stroke="#000" stroke-width="1.15"/>
<g fill="#4daf4a" stroke="#4daf4a" stroke-width="0.5" fill-opacity="0.3" stroke-opacity="0.35"><circle cx="574.2" cy="387.0" r="1.25"/><circle cx="576.6" cy="387.0" r="1.25"/><circle cx="580.5" cy="387.0" r="1.25"/><circle cx="581.9" cy="387.0" r="1.25"/><circle cx="592.7" cy="387.0" r="1.25"/><circle cx="580.9" cy="387.0" r="1.25"/><circle cx="579.6" cy="387.0" r="1.25"/><circle cx="576.5" cy="387.0" r="1.25"/><circle cx="574.6" cy="387.0" r="1.25"/><circle cx="571.9" cy="387.0" r="1.25"/><circle cx="580.7" cy="417.6" r="1.25"/><circle cx="592.3" cy="412.5" r="1.25"/><circle cx="593.3" cy="405.6" r="1.25"/><circle cx="594.0" cy="426.9" r="1.25"/><circle cx="580.8" cy="442.0" r="1.25"/><circle cx="581.6" cy="430.1" r="1.25"/><circle cx="594.7" cy="412.4" r="1.25"/><circle cx="581.6" cy="416.1" r="1.25"/><circle cx="577.3" cy="410.3" r="1.25"/><circle cx="586.6" cy="428.6" r="1.25"/><circle cx="584.8" cy="407.9" r="1.25"/><circle cx="576.0" cy="426.2" r="1.25"/><circle cx="591.6" cy="424.3" r="1.25"/><circle cx="590.4" cy="430.3" r="1.25"/><circle cx="595.7" cy="429.1" r="1.25"/><circle cx="587.9" cy="402.7" r="1.25"/><circle cx="571.6" cy="418.0" r="1.25"/><circle cx="589.4" cy="425.5" r="1.25"/><circle cx="573.3" cy="416.7" r="1.25"/><circle cx="579.3" cy="425.4" r="1.25"/><circle cx="578.5" cy="405.5" r="1.25"/><circle cx="572.1" cy="440.9" r="1.25"/><circle cx="592.6" cy="431.7" r="1.25"/><circle cx="592.5" cy="411.0" r="1.25"/><circle cx="579.5" cy="408.0" r="1.25"/><circle cx="572.3" cy="412.4" r="1.25"/><circle cx="580.1" cy="405.8" r="1.25"/><circle cx="584.3" cy="425.4" r="1.25"/><circle cx="583.9" cy="436.3" r="1.25"/><circle cx="570.9" cy="400.7" r="1.25"/><circle cx="577.3" cy="437.4" r="1.25"/><circle cx="595.0" cy="426.4" r="1.25"/><circle cx="583.0" cy="413.4" r="1.25"/><circle cx="589.8" cy="398.7" r="1.25"/><circle cx="583.7" cy="426.0" r="1.25"/><circle cx="591.6" cy="442.0" r="1.25"/><circle cx="589.3" cy="419.8" r="1.25"/><circle cx="589.1" cy="441.0" r="1.25"/><circle cx="593.0" cy="430.2" r="1.25"/><circle cx="590.0" cy="400.2" r="1.25"/><circle cx="581.2" cy="437.6" r="1.25"/><circle cx="572.5" cy="425.0" r="1.25"/><circle cx="582.1" cy="431.3" r="1.25"/><circle cx="581.5" cy="407.0" r="1.25"/><circle cx="575.4" cy="398.0" r="1.25"/><circle cx="588.1" cy="415.2" r="1.25"/><circle cx="584.6" cy="415.0" r="1.25"/><circle cx="573.6" cy="434.0" r="1.25"/><circle cx="582.8" cy="417.3" r="1.25"/><circle cx="582.0" cy="425.2" r="1.25"/><circle cx="587.2" cy="424.6" r="1.25"/><circle cx="591.2" cy="396.4" r="1.25"/><circle cx="595.0" cy="397.8" r="1.25"/><circle cx="588.3" cy="398.9" r="1.25"/><circle cx="574.0" cy="437.8" r="1.25"/><circle cx="574.8" cy="414.4" r="1.25"/><circle cx="595.4" cy="397.3" r="1.25"/><circle cx="591.7" cy="416.7" r="1.25"/><circle cx="582.1" cy="395.1" r="1.25"/><circle cx="577.4" cy="396.5" r="1.25"/><circle cx="594.7" cy="401.9" r="1.25"/><circle cx="572.3" cy="434.7" r="1.25"/><circle cx="591.2" cy="415.7" r="1.25"/><circle cx="571.7" cy="441.7" r="1.25"/><circle cx="589.3" cy="429.1" r="1.25"/><circle cx="577.9" cy="405.6" r="1.25"/><circle cx="569.8" cy="421.4" r="1.25"/><circle cx="593.1" cy="425.8" r="1.25"/><circle cx="580.3" cy="430.2" r="1.25"/><circle cx="589.5" cy="426.5" r="1.25"/><circle cx="570.7" cy="422.1" r="1.25"/><circle cx="578.9" cy="428.9" r="1.25"/><circle cx="574.4" cy="439.6" r="1.25"/><circle cx="595.4" cy="397.5" r="1.25"/><circle cx="572.0" cy="394.6" r="1.25"/><circle cx="590.6" cy="393.1" r="1.25"/><circle cx="583.2" cy="408.1" r="1.25"/><circle cx="590.6" cy="417.9" r="1.25"/><circle cx="583.4" cy="409.7" r="1.25"/><circle cx="587.5" cy="405.6" r="1.25"/></g>
<path d="M577.8,387 L587.6,387 C588.08,389.1 589.45,395.55 590.5,399.6 C591.55,403.65 592.63,406.73 593.9,411.3 C595.17,415.87 598.25,423.08 598.1,427 C597.95,430.92 595,432.13 593,434.8 C591,437.47 587.25,441.63 586.1,443 L579.3,443 C578.15,441.63 574.4,437.47 572.4,434.8 C570.4,432.13 567.45,430.92 567.3,427 C567.15,423.08 570.23,415.87 571.5,411.3 C572.77,406.73 573.85,403.65 574.9,399.6 C575.95,395.55 577.32,389.1 577.8,387 Z" fill="none" stroke="#4daf4a" stroke-width="1.45" stroke-linejoin="round"/>
<path d="M582.7,416.8 L585,419.1 L582.7,421.4 L580.4,419.1 Z" fill="#fff" stroke="#000" stroke-width="1.15"/>
<g fill="#984ea3" stroke="#984ea3" stroke-width="0.5" fill-opacity="0.3" stroke-opacity="0.35"><circle cx="126.4" cy="479.4" r="1.25"/><circle cx="135.0" cy="479.4" r="1.25"/><circle cx="132.3" cy="479.4" r="1.25"/><circle cx="127.7" cy="479.4" r="1.25"/><circle cx="112.7" cy="550.7" r="1.25"/><circle cx="135.3" cy="550.7" r="1.25"/><circle cx="123.9" cy="550.7" r="1.25"/><circle cx="134.8" cy="550.7" r="1.25"/><circle cx="130.0" cy="550.7" r="1.25"/><circle cx="130.7" cy="550.7" r="1.25"/><circle cx="116.1" cy="558.5" r="1.25"/><circle cx="115.9" cy="558.5" r="1.25"/><circle cx="109.7" cy="558.5" r="1.25"/><circle cx="111.0" cy="558.5" r="1.25"/><circle cx="135.0" cy="558.5" r="1.25"/><circle cx="132.2" cy="558.5" r="1.25"/><circle cx="123.9" cy="558.5" r="1.25"/><circle cx="125.6" cy="558.5" r="1.25"/><circle cx="118.1" cy="512.4" r="1.25"/><circle cx="112.7" cy="501.3" r="1.25"/><circle cx="128.8" cy="517.5" r="1.25"/><circle cx="127.9" cy="499.2" r="1.25"/><circle cx="115.8" cy="495.0" r="1.25"/><circle cx="118.7" cy="516.4" r="1.25"/><circle cx="120.2" cy="538.3" r="1.25"/><circle cx="130.0" cy="497.1" r="1.25"/><circle cx="123.4" cy="513.2" r="1.25"/><circle cx="130.9" cy="491.8" r="1.25"/><circle cx="128.5" cy="520.8" r="1.25"/><circle cx="114.8" cy="517.8" r="1.25"/><circle cx="119.7" cy="514.7" r="1.25"/><circle cx="116.7" cy="518.8" r="1.25"/><circle cx="118.8" cy="493.8" r="1.25"/><circle cx="127.6" cy="526.1" r="1.25"/><circle cx="118.6" cy="508.5" r="1.25"/><circle cx="131.6" cy="496.4" r="1.25"/><circle cx="117.6" cy="519.0" r="1.25"/><circle cx="130.2" cy="510.4" r="1.25"/><circle cx="132.2" cy="505.9" r="1.25"/><circle cx="135.0" cy="535.4" r="1.25"/><circle cx="125.9" cy="517.6" r="1.25"/><circle cx="113.3" cy="532.9" r="1.25"/><circle cx="129.1" cy="514.3" r="1.25"/><circle cx="118.2" cy="495.3" r="1.25"/><circle cx="132.4" cy="504.5" r="1.25"/><circle cx="118.5" cy="525.9" r="1.25"/><circle cx="112.9" cy="523.5" r="1.25"/><circle cx="113.5" cy="519.5" r="1.25"/><circle cx="117.8" cy="514.1" r="1.25"/><circle cx="113.0" cy="497.0" r="1.25"/><circle cx="125.8" cy="507.3" r="1.25"/><circle cx="134.1" cy="486.7" r="1.25"/><circle cx="132.5" cy="534.2" r="1.25"/><circle cx="127.1" cy="485.5" r="1.25"/><circle cx="110.5" cy="488.9" r="1.25"/><circle cx="126.4" cy="519.5" r="1.25"/><circle cx="121.0" cy="504.3" r="1.25"/><circle cx="134.2" cy="539.5" r="1.25"/><circle cx="119.9" cy="520.7" r="1.25"/><circle cx="126.5" cy="494.8" r="1.25"/><circle cx="118.4" cy="500.3" r="1.25"/><circle cx="129.3" cy="489.9" r="1.25"/><circle cx="125.4" cy="531.6" r="1.25"/><circle cx="134.4" cy="532.3" r="1.25"/><circle cx="117.3" cy="522.0" r="1.25"/><circle cx="114.9" cy="534.6" r="1.25"/><circle cx="110.0" cy="515.3" r="1.25"/><circle cx="128.8" cy="531.4" r="1.25"/><circle cx="134.5" cy="522.9" r="1.25"/><circle cx="119.2" cy="508.4" r="1.25"/><circle cx="132.5" cy="523.8" r="1.25"/><circle cx="125.2" cy="493.3" r="1.25"/><circle cx="115.8" cy="524.3" r="1.25"/><circle cx="130.2" cy="488.5" r="1.25"/><circle cx="114.6" cy="495.3" r="1.25"/><circle cx="127.0" cy="498.6" r="1.25"/><circle cx="124.0" cy="519.1" r="1.25"/><circle cx="120.5" cy="506.3" r="1.25"/><circle cx="126.6" cy="527.4" r="1.25"/><circle cx="134.3" cy="500.1" r="1.25"/><circle cx="111.4" cy="531.4" r="1.25"/><circle cx="116.6" cy="489.6" r="1.25"/><circle cx="118.8" cy="491.4" r="1.25"/><circle cx="115.5" cy="536.2" r="1.25"/><circle cx="124.0" cy="522.3" r="1.25"/><circle cx="134.8" cy="489.1" r="1.25"/><circle cx="117.5" cy="507.0" r="1.25"/><circle cx="116.1" cy="516.3" r="1.25"/><circle cx="127.3" cy="502.1" r="1.25"/><circle cx="135.1" cy="495.2" r="1.25"/><circle cx="116.9" cy="507.8" r="1.25"/><circle cx="124.0" cy="497.0" r="1.25"/><circle cx="112.7" cy="505.1" r="1.25"/><circle cx="111.1" cy="526.5" r="1.25"/><circle cx="110.4" cy="504.1" r="1.25"/><circle cx="135.3" cy="522.5" r="1.25"/><circle cx="129.7" cy="527.5" r="1.25"/><circle cx="119.6" cy="523.0" r="1.25"/></g>
<path d="M120.9,479.4 L124.1,479.4 C124.73,481.1 126.62,485.95 127.9,489.6 C129.18,493.25 130.58,497.38 131.8,501.3 C133.02,505.22 134.52,509.83 135.2,513.1 C135.88,516.37 136.3,517.97 135.9,520.9 C135.5,523.83 134.47,527.43 132.8,530.7 C131.13,533.97 126.95,538.12 125.9,540.5 C124.85,542.88 126.17,543.38 126.5,545 C126.83,546.62 127.67,548.53 127.9,550.2 C128.13,551.87 127.92,553.58 127.9,555 C127.88,556.42 127.82,558.08 127.8,558.7 L117.2,558.7 C117.18,558.08 117.12,556.42 117.1,555 C117.08,553.58 116.87,551.87 117.1,550.2 C117.33,548.53 118.17,546.62 118.5,545 C118.83,543.38 120.15,542.88 119.1,540.5 C118.05,538.12 113.87,533.97 112.2,530.7 C110.53,527.43 109.5,523.83 109.1,520.9 C108.7,517.97 109.12,516.37 109.8,513.1 C110.48,509.83 111.98,505.22 113.2,501.3 C114.42,497.38 115.82,493.25 117.1,489.6 C118.38,485.95 120.27,481.1 120.9,479.4 Z" fill="none" stroke="#984ea3" stroke-width="1.45" stroke-linejoin="round"/>
<path d="M122.5,517 L124.8,519.3 L122.5,521.6 L120.2,519.3 Z" fill="#fff" stroke="#000" stroke-width="1.15"/>
<g fill="#984ea3" stroke="#984ea3" stroke-width="0.5" fill-opacity="0.3" stroke-opacity="0.35"><circle cx="193.4" cy="479.4" r="1.25"/><circle cx="180.2" cy="479.4" r="1.25"/><circle cx="174.5" cy="479.4" r="1.25"/><circle cx="184.3" cy="479.4" r="1.25"/><circle cx="182.8" cy="479.4" r="1.25"/><circle cx="194.2" cy="479.4" r="1.25"/><circle cx="179.8" cy="516.4" r="1.25"/><circle cx="178.9" cy="501.2" r="1.25"/><circle cx="190.3" cy="527.8" r="1.25"/><circle cx="184.0" cy="501.1" r="1.25"/><circle cx="196.6" cy="490.7" r="1.25"/><circle cx="177.8" cy="484.6" r="1.25"/><circle cx="198.4" cy="524.8" r="1.25"/><circle cx="176.0" cy="520.4" r="1.25"/><circle cx="174.9" cy="490.7" r="1.25"/><circle cx="184.7" cy="494.5" r="1.25"/><circle cx="192.5" cy="506.9" r="1.25"/><circle cx="186.2" cy="500.5" r="1.25"/><circle cx="176.5" cy="502.7" r="1.25"/><circle cx="191.2" cy="501.7" r="1.25"/><circle cx="187.6" cy="500.0" r="1.25"/><circle cx="196.8" cy="491.6" r="1.25"/><circle cx="184.1" cy="510.1" r="1.25"/><circle cx="185.1" cy="505.8" r="1.25"/><circle cx="197.6" cy="521.7" r="1.25"/><circle cx="196.6" cy="489.2" r="1.25"/><circle cx="195.0" cy="495.6" r="1.25"/><circle cx="173.6" cy="516.8" r="1.25"/><circle cx="180.1" cy="494.2" r="1.25"/><circle cx="185.3" cy="518.3" r="1.25"/><circle cx="194.9" cy="510.3" r="1.25"/><circle cx="181.2" cy="524.7" r="1.25"/><circle cx="179.6" cy="527.1" r="1.25"/><circle cx="195.2" cy="514.0" r="1.25"/><circle cx="184.3" cy="509.1" r="1.25"/><circle cx="175.4" cy="497.3" r="1.25"/><circle cx="195.0" cy="520.0" r="1.25"/><circle cx="179.2" cy="515.2" r="1.25"/><circle cx="173.5" cy="495.2" r="1.25"/><circle cx="192.9" cy="501.4" r="1.25"/><circle cx="188.7" cy="510.7" r="1.25"/><circle cx="176.2" cy="524.5" r="1.25"/><circle cx="175.3" cy="496.5" r="1.25"/><circle cx="185.9" cy="516.5" r="1.25"/><circle cx="192.2" cy="512.7" r="1.25"/><circle cx="189.8" cy="512.0" r="1.25"/><circle cx="179.0" cy="482.9" r="1.25"/><circle cx="177.9" cy="505.7" r="1.25"/><circle cx="191.1" cy="494.8" r="1.25"/><circle cx="192.0" cy="517.7" r="1.25"/><circle cx="180.3" cy="529.3" r="1.25"/><circle cx="186.6" cy="499.9" r="1.25"/><circle cx="184.2" cy="515.4" r="1.25"/><circle cx="187.2" cy="500.7" r="1.25"/><circle cx="194.1" cy="512.2" r="1.25"/><circle cx="179.9" cy="482.9" r="1.25"/><circle cx="190.7" cy="499.6" r="1.25"/><circle cx="190.2" cy="523.7" r="1.25"/><circle cx="185.1" cy="510.7" r="1.25"/><circle cx="196.5" cy="506.4" r="1.25"/><circle cx="181.5" cy="498.2" r="1.25"/><circle cx="181.6" cy="521.1" r="1.25"/><circle cx="182.0" cy="504.2" r="1.25"/><circle cx="198.2" cy="524.0" r="1.25"/><circle cx="198.6" cy="529.8" r="1.25"/><circle cx="178.7" cy="504.6" r="1.25"/><circle cx="185.6" cy="496.8" r="1.25"/><circle cx="179.1" cy="511.6" r="1.25"/><circle cx="185.1" cy="528.1" r="1.25"/><circle cx="175.6" cy="502.2" r="1.25"/><circle cx="176.5" cy="504.4" r="1.25"/><circle cx="174.2" cy="502.9" r="1.25"/><circle cx="186.6" cy="489.9" r="1.25"/><circle cx="189.3" cy="500.5" r="1.25"/><circle cx="195.0" cy="514.4" r="1.25"/><circle cx="191.4" cy="492.6" r="1.25"/><circle cx="181.9" cy="506.4" r="1.25"/><circle cx="177.7" cy="497.0" r="1.25"/><circle cx="194.0" cy="493.6" r="1.25"/><circle cx="198.3" cy="488.5" r="1.25"/><circle cx="194.2" cy="489.2" r="1.25"/><circle cx="177.2" cy="500.5" r="1.25"/><circle cx="176.1" cy="527.3" r="1.25"/><circle cx="192.7" cy="509.3" r="1.25"/><circle cx="194.2" cy="501.0" r="1.25"/><circle cx="179.5" cy="509.4" r="1.25"/><circle cx="179.3" cy="510.0" r="1.25"/><circle cx="198.4" cy="509.6" r="1.25"/><circle cx="182.2" cy="503.3" r="1.25"/><circle cx="180.0" cy="506.3" r="1.25"/><circle cx="191.7" cy="531.8" r="1.25"/><circle cx="186.1" cy="519.1" r="1.25"/><circle cx="184.0" cy="523.5" r="1.25"/><circle cx="183.9" cy="511.8" r="1.25"/><circle cx="185.9" cy="499.6" r="1.25"/><circle cx="174.3" cy="506.8" r="1.25"/><circle cx="191.6" cy="492.8" r="1.25"/><circle cx="185.5" cy="521.8" r="1.25"/><circle cx="181.9" cy="485.6" r="1.25"/><circle cx="175.9" cy="494.9" r="1.25"/><circle cx="176.7" cy="519.4" r="1.25"/><circle cx="189.9" cy="524.6" r="1.25"/><circle cx="185.9" cy="530.8" r="1.25"/><circle cx="181.9" cy="495.4" r="1.25"/><circle cx="182.3" cy="513.9" r="1.25"/><circle cx="175.1" cy="499.9" r="1.25"/><circle cx="179.7" cy="499.4" r="1.25"/><circle cx="179.9" cy="516.6" r="1.25"/><circle cx="191.8" cy="526.8" r="1.25"/><circle cx="187.8" cy="517.4" r="1.25"/><circle cx="179.5" cy="514.2" r="1.25"/><circle cx="175.3" cy="520.5" r="1.25"/><circle cx="195.6" cy="508.8" r="1.25"/><circle cx="191.1" cy="528.5" r="1.25"/><circle cx="183.4" cy="522.8" r="1.25"/><circle cx="185.5" cy="506.9" r="1.25"/><circle cx="180.0" cy="558.5" r="1.25"/><circle cx="196.0" cy="537.0" r="1.25"/><circle cx="199.0" cy="531.0" r="1.25"/></g>
<path d="M180.9,479.4 L190.7,479.4 C190.87,480.45 190.4,483.35 191.7,485.7 C193,488.05 196.15,490.23 198.5,493.5 C200.85,496.77 205.72,501.72 205.8,505.3 C205.88,508.88 201.35,511.42 199,515 C196.65,518.58 193.7,523.2 191.7,526.8 C189.7,530.4 187.93,533.57 187,536.6 C186.07,539.63 186.29,541.32 186.15,545 C186.01,548.68 186.15,556.42 186.15,558.7 L185.45,558.7 C185.45,556.42 185.59,548.68 185.45,545 C185.31,541.32 185.53,539.63 184.6,536.6 C183.68,533.57 181.9,530.4 179.9,526.8 C177.9,523.2 174.95,518.58 172.6,515 C170.25,511.42 165.72,508.88 165.8,505.3 C165.88,501.72 170.75,496.77 173.1,493.5 C175.45,490.23 178.6,488.05 179.9,485.7 C181.2,483.35 180.73,480.45 180.9,479.4 Z" fill="none" stroke="#984ea3" stroke-width="1.45" stroke-linejoin="round"/>
<path d="M185.8,502.6 L188.1,504.9 L185.8,507.2 L183.5,504.9 Z" fill="#fff" stroke="#000" stroke-width="1.15"/>
<g fill="#984ea3" stroke="#984ea3" stroke-width="0.5" fill-opacity="0.3" stroke-opacity="0.35"><circle cx="242.9" cy="479.4" r="1.25"/><circle cx="256.4" cy="479.4" r="1.25"/><circle cx="244.4" cy="479.4" r="1.25"/><circle cx="253.1" cy="479.4" r="1.25"/><circle cx="254.0" cy="479.4" r="1.25"/><circle cx="257.4" cy="500.0" r="1.25"/><circle cx="260.1" cy="491.1" r="1.25"/><circle cx="246.4" cy="508.6" r="1.25"/><circle cx="255.5" cy="501.7" r="1.25"/><circle cx="246.5" cy="494.8" r="1.25"/><circle cx="251.9" cy="531.9" r="1.25"/><circle cx="249.3" cy="514.7" r="1.25"/><circle cx="237.6" cy="499.0" r="1.25"/><circle cx="237.2" cy="490.8" r="1.25"/><circle cx="255.3" cy="518.7" r="1.25"/><circle cx="250.0" cy="501.0" r="1.25"/><circle cx="238.4" cy="516.9" r="1.25"/><circle cx="249.9" cy="531.5" r="1.25"/><circle cx="241.7" cy="503.4" r="1.25"/><circle cx="252.7" cy="490.5" r="1.25"/><circle cx="242.8" cy="515.5" r="1.25"/><circle cx="259.0" cy="501.3" r="1.25"/><circle cx="242.4" cy="494.6" r="1.25"/><circle cx="261.1" cy="520.9" r="1.25"/><circle cx="261.7" cy="505.2" r="1.25"/><circle cx="244.4" cy="510.8" r="1.25"/><circle cx="248.4" cy="492.8" r="1.25"/><circle cx="259.7" cy="509.6" r="1.25"/><circle cx="256.9" cy="520.5" r="1.25"/><circle cx="246.0" cy="493.8" r="1.25"/><circle cx="243.3" cy="510.4" r="1.25"/><circle cx="241.9" cy="499.9" r="1.25"/><circle cx="259.2" cy="507.0" r="1.25"/><circle cx="245.5" cy="496.6" r="1.25"/><circle cx="245.8" cy="508.8" r="1.25"/><circle cx="261.6" cy="493.5" r="1.25"/><circle cx="256.3" cy="524.1" r="1.25"/><circle cx="240.1" cy="516.8" r="1.25"/><circle cx="240.0" cy="502.3" r="1.25"/><circle cx="248.7" cy="490.8" r="1.25"/><circle cx="261.5" cy="523.0" r="1.25"/><circle cx="240.8" cy="506.3" r="1.25"/><circle cx="236.8" cy="497.0" r="1.25"/><circle cx="247.4" cy="514.5" r="1.25"/><circle cx="241.9" cy="494.9" r="1.25"/><circle cx="260.1" cy="515.0" r="1.25"/><circle cx="241.0" cy="502.7" r="1.25"/><circle cx="245.2" cy="499.3" r="1.25"/><circle cx="239.6" cy="491.1" r="1.25"/><circle cx="259.1" cy="517.5" r="1.25"/><circle cx="240.0" cy="495.6" r="1.25"/><circle cx="256.6" cy="496.3" r="1.25"/><circle cx="261.6" cy="502.9" r="1.25"/><circle cx="244.0" cy="512.3" r="1.25"/><circle cx="244.5" cy="519.6" r="1.25"/><circle cx="246.8" cy="534.7" r="1.25"/><circle cx="249.6" cy="518.5" r="1.25"/><circle cx="239.9" cy="519.0" r="1.25"/><circle cx="250.5" cy="515.7" r="1.25"/><circle cx="239.8" cy="518.0" r="1.25"/><circle cx="259.4" cy="500.5" r="1.25"/><circle cx="245.9" cy="508.1" r="1.25"/><circle cx="261.5" cy="518.5" r="1.25"/><circle cx="238.7" cy="501.5" r="1.25"/><circle cx="246.2" cy="510.9" r="1.25"/><circle cx="253.1" cy="513.4" r="1.25"/><circle cx="256.6" cy="508.8" r="1.25"/><circle cx="252.0" cy="512.1" r="1.25"/><circle cx="251.8" cy="486.7" r="1.25"/><circle cx="236.4" cy="513.8" r="1.25"/><circle cx="236.9" cy="504.8" r="1.25"/><circle cx="256.7" cy="502.4" r="1.25"/><circle cx="255.7" cy="518.0" r="1.25"/><circle cx="237.4" cy="512.3" r="1.25"/><circle cx="258.3" cy="517.6" r="1.25"/><circle cx="249.4" cy="495.0" r="1.25"/><circle cx="244.3" cy="511.7" r="1.25"/><circle cx="238.0" cy="501.7" r="1.25"/><circle cx="249.7" cy="526.7" r="1.25"/><circle cx="239.7" cy="503.3" r="1.25"/><circle cx="247.2" cy="492.7" r="1.25"/><circle cx="244.8" cy="502.0" r="1.25"/><circle cx="254.1" cy="494.4" r="1.25"/><circle cx="247.7" cy="511.8" r="1.25"/><circle cx="256.9" cy="512.1" r="1.25"/><circle cx="261.6" cy="511.4" r="1.25"/><circle cx="236.2" cy="515.4" r="1.25"/><circle cx="248.8" cy="491.2" r="1.25"/><circle cx="258.7" cy="501.8" r="1.25"/><circle cx="239.2" cy="522.1" r="1.25"/><circle cx="250.6" cy="511.3" r="1.25"/><circle cx="257.2" cy="495.8" r="1.25"/><circle cx="260.6" cy="510.5" r="1.25"/><circle cx="238.3" cy="498.8" r="1.25"/><circle cx="240.8" cy="509.1" r="1.25"/><circle cx="242.7" cy="526.5" r="1.25"/><circle cx="249.2" cy="498.5" r="1.25"/><circle cx="258.4" cy="497.8" r="1.25"/><circle cx="253.8" cy="501.4" r="1.25"/><circle cx="256.3" cy="501.1" r="1.25"/><circle cx="237.6" cy="519.3" r="1.25"/><circle cx="252.6" cy="514.0" r="1.25"/><circle cx="260.5" cy="502.4" r="1.25"/><circle cx="247.3" cy="508.3" r="1.25"/><circle cx="253.1" cy="515.4" r="1.25"/><circle cx="244.2" cy="500.7" r="1.25"/><circle cx="240.4" cy="493.3" r="1.25"/><circle cx="238.2" cy="508.1" r="1.25"/><circle cx="255.8" cy="502.8" r="1.25"/><circle cx="248.8" cy="494.1" r="1.25"/><circle cx="259.4" cy="500.3" r="1.25"/><circle cx="253.8" cy="507.2" r="1.25"/><circle cx="246.9" cy="510.7" r="1.25"/><circle cx="254.4" cy="515.9" r="1.25"/><circle cx="238.8" cy="509.3" r="1.25"/><circle cx="239.0" cy="550.7" r="1.25"/><circle cx="257.0" cy="550.7" r="1.25"/><circle cx="239.0" cy="535.0" r="1.25"/></g>
<path d="M246.3,479.4 L251.7,479.4 C251.45,479.75 250.59,480.78 250.2,481.5 C249.81,482.22 248.72,482.78 249.35,483.7 C249.98,484.62 252.19,485.68 254,487 C255.81,488.32 257.32,488.4 260.2,491.6 C263.08,494.8 270.72,501.97 271.3,506.2 C271.88,510.43 266.85,513.25 263.7,517 C260.55,520.75 254.79,525.43 252.4,528.7 C250.01,531.97 249.86,533.88 249.35,536.6 C248.84,539.32 249.21,543.1 249.35,545 C249.49,546.9 250.06,547.13 250.2,548 C250.34,548.87 250.2,549.83 250.2,550.2 L247.8,550.2 C247.8,549.83 247.66,548.87 247.8,548 C247.94,547.13 248.51,546.9 248.65,545 C248.79,543.1 249.16,539.32 248.65,536.6 C248.14,533.88 247.99,531.97 245.6,528.7 C243.21,525.43 237.45,520.75 234.3,517 C231.15,513.25 226.12,510.43 226.7,506.2 C227.28,501.97 234.92,494.8 237.8,491.6 C240.68,488.4 242.19,488.32 244,487 C245.81,485.68 248.02,484.62 248.65,483.7 C249.28,482.78 248.19,482.22 247.8,481.5 C247.41,480.78 246.55,479.75 246.3,479.4 Z" fill="none" stroke="#984ea3" stroke-width="1.45" stroke-linejoin="round"/>
<path d="M249,504.3 L251.3,506.6 L249,508.9 L246.7,506.6 Z" fill="#fff" stroke="#000" stroke-width="1.15"/>
<g fill="#984ea3" stroke="#984ea3" stroke-width="0.5" fill-opacity="0.3" stroke-opacity="0.35"><circle cx="302.9" cy="509.5" r="1.25"/><circle cx="312.7" cy="511.0" r="1.25"/><circle cx="319.2" cy="513.4" r="1.25"/><circle cx="313.2" cy="496.1" r="1.25"/><circle cx="302.1" cy="503.8" r="1.25"/><circle cx="320.3" cy="498.2" r="1.25"/><circle cx="315.8" cy="492.3" r="1.25"/><circle cx="306.8" cy="518.8" r="1.25"/><circle cx="312.3" cy="506.3" r="1.25"/><circle cx="300.6" cy="514.4" r="1.25"/><circle cx="303.8" cy="513.6" r="1.25"/><circle cx="307.9" cy="505.0" r="1.25"/><circle cx="320.1" cy="505.1" r="1.25"/><circle cx="303.2" cy="501.6" r="1.25"/><circle cx="311.3" cy="511.6" r="1.25"/><circle cx="310.3" cy="512.0" r="1.25"/><circle cx="304.3" cy="490.6" r="1.25"/><circle cx="299.8" cy="511.7" r="1.25"/><circle cx="310.1" cy="511.0" r="1.25"/><circle cx="308.7" cy="504.3" r="1.25"/><circle cx="313.9" cy="507.9" r="1.25"/><circle cx="317.8" cy="494.7" r="1.25"/><circle cx="300.7" cy="495.7" r="1.25"/><circle cx="312.0" cy="516.5" r="1.25"/><circle cx="306.4" cy="517.2" r="1.25"/><circle cx="321.9" cy="506.9" r="1.25"/><circle cx="303.9" cy="510.2" r="1.25"/><circle cx="307.3" cy="517.8" r="1.25"/><circle cx="305.9" cy="490.6" r="1.25"/><circle cx="302.0" cy="503.8" r="1.25"/><circle cx="325.3" cy="503.8" r="1.25"/><circle cx="309.4" cy="516.6" r="1.25"/><circle cx="312.1" cy="518.2" r="1.25"/><circle cx="320.0" cy="509.1" r="1.25"/><circle cx="321.6" cy="497.9" r="1.25"/><circle cx="305.7" cy="517.6" r="1.25"/><circle cx="320.4" cy="510.2" r="1.25"/><circle cx="321.1" cy="501.4" r="1.25"/><circle cx="313.9" cy="515.4" r="1.25"/><circle cx="305.0" cy="503.8" r="1.25"/><circle cx="305.1" cy="511.1" r="1.25"/><circle cx="301.1" cy="499.8" r="1.25"/><circle cx="317.5" cy="521.8" r="1.25"/><circle cx="304.7" cy="509.1" r="1.25"/><circle cx="304.6" cy="501.1" r="1.25"/><circle cx="310.8" cy="522.3" r="1.25"/><circle cx="317.7" cy="493.3" r="1.25"/><circle cx="303.4" cy="506.7" r="1.25"/><circle cx="311.4" cy="504.9" r="1.25"/><circle cx="322.6" cy="506.4" r="1.25"/><circle cx="316.1" cy="508.2" r="1.25"/><circle cx="306.0" cy="496.2" r="1.25"/><circle cx="323.9" cy="518.5" r="1.25"/><circle cx="308.3" cy="509.2" r="1.25"/><circle cx="317.3" cy="521.1" r="1.25"/><circle cx="323.5" cy="528.4" r="1.25"/><circle cx="325.2" cy="506.8" r="1.25"/><circle cx="318.2" cy="512.3" r="1.25"/><circle cx="300.6" cy="499.6" r="1.25"/><circle cx="324.5" cy="509.8" r="1.25"/><circle cx="313.2" cy="496.6" r="1.25"/><circle cx="304.9" cy="507.6" r="1.25"/><circle cx="324.8" cy="525.0" r="1.25"/><circle cx="312.1" cy="520.3" r="1.25"/><circle cx="309.7" cy="515.4" r="1.25"/><circle cx="317.5" cy="509.2" r="1.25"/><circle cx="312.0" cy="509.7" r="1.25"/><circle cx="314.3" cy="495.4" r="1.25"/><circle cx="310.8" cy="501.7" r="1.25"/><circle cx="319.7" cy="519.6" r="1.25"/><circle cx="305.0" cy="523.7" r="1.25"/><circle cx="312.8" cy="516.1" r="1.25"/><circle cx="302.4" cy="500.6" r="1.25"/><circle cx="315.6" cy="498.5" r="1.25"/><circle cx="317.6" cy="506.4" r="1.25"/><circle cx="306.5" cy="503.9" r="1.25"/><circle cx="305.0" cy="497.6" r="1.25"/><circle cx="315.0" cy="501.7" r="1.25"/><circle cx="314.2" cy="505.7" r="1.25"/><circle cx="314.7" cy="506.0" r="1.25"/><circle cx="305.5" cy="514.9" r="1.25"/><circle cx="311.8" cy="510.3" r="1.25"/><circle cx="317.7" cy="502.1" r="1.25"/><circle cx="299.8" cy="508.5" r="1.25"/><circle cx="300.3" cy="507.5" r="1.25"/><circle cx="324.8" cy="515.2" r="1.25"/><circle cx="306.5" cy="506.4" r="1.25"/><circle cx="323.8" cy="506.1" r="1.25"/><circle cx="313.2" cy="508.9" r="1.25"/><circle cx="303.3" cy="509.8" r="1.25"/><circle cx="300.0" cy="534.0" r="1.25"/><circle cx="320.0" cy="532.0" r="1.25"/><circle cx="305.0" cy="551.0" r="1.25"/><circle cx="316.0" cy="558.0" r="1.25"/></g>
<path d="M311.95,487.6 L312.65,487.6 C313.43,488 315.08,489.02 317.3,490 C319.52,490.98 322.02,490.3 326,493.5 C329.98,496.7 340.95,505.45 341.2,509.2 C341.45,512.95 331.75,513.4 327.5,516 C323.25,518.6 318.17,522.68 315.7,524.8 C313.23,526.92 312.93,527.23 312.65,528.7 C312.37,530.17 314,531.8 314,533.6 C314,535.4 312.88,536.77 312.65,539.5 C312.43,542.23 312.65,546.8 312.65,550 C312.65,553.2 312.65,557.25 312.65,558.7 L311.95,558.7 C311.95,557.25 311.95,553.2 311.95,550 C311.95,546.8 312.17,542.23 311.95,539.5 C311.73,536.77 310.6,535.4 310.6,533.6 C310.6,531.8 312.23,530.17 311.95,528.7 C311.67,527.23 311.38,526.92 308.9,524.8 C306.43,522.68 301.35,518.6 297.1,516 C292.85,513.4 283.15,512.95 283.4,509.2 C283.65,505.45 294.62,496.7 298.6,493.5 C302.58,490.3 305.08,490.98 307.3,490 C309.52,489.02 311.18,488 311.95,487.6 Z" fill="none" stroke="#984ea3" stroke-width="1.45" stroke-linejoin="round"/>
<path d="M312.3,505.5 L314.6,507.8 L312.3,510.1 L310,507.8 Z" fill="#fff" stroke="#000" stroke-width="1.15"/>
<g fill="#984ea3" stroke="#984ea3" stroke-width="0.5" fill-opacity="0.3" stroke-opacity="0.35"><circle cx="384.2" cy="479.4" r="1.25"/><circle cx="388.3" cy="479.4" r="1.25"/><circle cx="387.9" cy="479.4" r="1.25"/><circle cx="390.3" cy="479.4" r="1.25"/><circle cx="389.9" cy="550.7" r="1.25"/><circle cx="405.1" cy="550.7" r="1.25"/><circle cx="382.5" cy="550.7" r="1.25"/><circle cx="405.0" cy="550.7" r="1.25"/><circle cx="400.3" cy="550.7" r="1.25"/><circle cx="400.9" cy="550.7" r="1.25"/><circle cx="404.6" cy="550.7" r="1.25"/><circle cx="382.5" cy="550.7" r="1.25"/><circle cx="394.8" cy="550.7" r="1.25"/><circle cx="394.5" cy="550.7" r="1.25"/><circle cx="393.5" cy="558.5" r="1.25"/><circle cx="400.8" cy="558.5" r="1.25"/><circle cx="385.7" cy="558.5" r="1.25"/><circle cx="385.5" cy="558.5" r="1.25"/><circle cx="384.8" cy="558.5" r="1.25"/><circle cx="390.8" cy="558.5" r="1.25"/><circle cx="385.7" cy="558.5" r="1.25"/><circle cx="403.4" cy="558.5" r="1.25"/><circle cx="387.3" cy="558.5" r="1.25"/><circle cx="403.2" cy="558.5" r="1.25"/><circle cx="399.1" cy="558.5" r="1.25"/><circle cx="399.8" cy="558.5" r="1.25"/><circle cx="389.4" cy="558.5" r="1.25"/><circle cx="385.9" cy="558.5" r="1.25"/><circle cx="399.6" cy="558.5" r="1.25"/><circle cx="392.2" cy="558.5" r="1.25"/><circle cx="401.4" cy="558.5" r="1.25"/><circle cx="387.0" cy="558.5" r="1.25"/><circle cx="389.0" cy="558.5" r="1.25"/><circle cx="397.0" cy="558.5" r="1.25"/><circle cx="393.5" cy="558.5" r="1.25"/><circle cx="398.0" cy="558.5" r="1.25"/><circle cx="399.9" cy="558.5" r="1.25"/><circle cx="400.4" cy="558.5" r="1.25"/><circle cx="394.4" cy="558.5" r="1.25"/><circle cx="386.6" cy="521.7" r="1.25"/><circle cx="383.3" cy="529.9" r="1.25"/><circle cx="384.9" cy="502.7" r="1.25"/><circle cx="385.9" cy="493.4" r="1.25"/><circle cx="391.2" cy="491.8" r="1.25"/><circle cx="399.9" cy="503.7" r="1.25"/><circle cx="384.6" cy="523.6" r="1.25"/><circle cx="396.4" cy="499.3" r="1.25"/><circle cx="398.5" cy="526.2" r="1.25"/><circle cx="396.8" cy="498.3" r="1.25"/><circle cx="404.3" cy="507.5" r="1.25"/><circle cx="381.8" cy="517.2" r="1.25"/><circle cx="393.8" cy="508.0" r="1.25"/><circle cx="401.0" cy="503.8" r="1.25"/><circle cx="405.1" cy="516.7" r="1.25"/><circle cx="386.4" cy="512.6" r="1.25"/><circle cx="399.1" cy="531.6" r="1.25"/><circle cx="401.0" cy="521.6" r="1.25"/><circle cx="380.6" cy="510.7" r="1.25"/><circle cx="399.6" cy="511.8" r="1.25"/><circle cx="404.6" cy="511.7" r="1.25"/><circle cx="404.4" cy="521.7" r="1.25"/><circle cx="384.6" cy="519.9" r="1.25"/><circle cx="389.1" cy="502.3" r="1.25"/><circle cx="380.3" cy="508.2" r="1.25"/><circle cx="404.7" cy="505.8" r="1.25"/><circle cx="403.0" cy="537.0" r="1.25"/><circle cx="397.4" cy="508.5" r="1.25"/><circle cx="390.3" cy="504.9" r="1.25"/><circle cx="399.6" cy="517.5" r="1.25"/><circle cx="396.0" cy="512.0" r="1.25"/><circle cx="386.1" cy="497.4" r="1.25"/><circle cx="386.1" cy="534.7" r="1.25"/><circle cx="400.8" cy="507.9" r="1.25"/><circle cx="384.8" cy="526.4" r="1.25"/><circle cx="384.4" cy="525.7" r="1.25"/><circle cx="386.8" cy="527.4" r="1.25"/><circle cx="395.2" cy="495.9" r="1.25"/><circle cx="390.7" cy="532.9" r="1.25"/><circle cx="383.2" cy="533.3" r="1.25"/><circle cx="397.2" cy="508.8" r="1.25"/><circle cx="395.0" cy="516.7" r="1.25"/><circle cx="382.8" cy="526.4" r="1.25"/><circle cx="403.7" cy="539.5" r="1.25"/><circle cx="384.1" cy="515.9" r="1.25"/><circle cx="384.4" cy="516.3" r="1.25"/><circle cx="388.7" cy="506.3" r="1.25"/><circle cx="381.4" cy="537.9" r="1.25"/><circle cx="385.0" cy="523.2" r="1.25"/><circle cx="381.9" cy="504.4" r="1.25"/><circle cx="391.5" cy="535.7" r="1.25"/><circle cx="387.4" cy="502.5" r="1.25"/><circle cx="384.1" cy="485.6" r="1.25"/><circle cx="391.2" cy="499.9" r="1.25"/><circle cx="382.2" cy="509.2" r="1.25"/><circle cx="387.7" cy="513.5" r="1.25"/><circle cx="387.0" cy="485.4" r="1.25"/><circle cx="385.6" cy="528.6" r="1.25"/><circle cx="387.1" cy="525.4" r="1.25"/><circle cx="397.8" cy="531.1" r="1.25"/></g>
<path d="M390.7,479.4 L395.9,479.4 C396,481.43 395.72,487.95 396.5,491.6 C397.28,495.25 399.37,498.05 400.6,501.3 C401.83,504.55 402.92,507.83 403.9,511.1 C404.88,514.37 405.9,517.97 406.5,520.9 C407.1,523.83 407.75,526.42 407.5,528.7 C407.25,530.98 405.9,532.8 405,534.6 C404.1,536.4 402.1,537.87 402.1,539.5 C402.1,541.13 403.37,542.77 405,544.4 C406.63,546.03 409.77,547.67 411.9,549.3 C414.03,550.93 416.33,552.63 417.8,554.2 C419.27,555.77 420.22,557.95 420.7,558.7 L365.9,558.7 C366.38,557.95 367.33,555.77 368.8,554.2 C370.27,552.63 372.57,550.93 374.7,549.3 C376.83,547.67 379.97,546.03 381.6,544.4 C383.23,542.77 384.5,541.13 384.5,539.5 C384.5,537.87 382.5,536.4 381.6,534.6 C380.7,532.8 379.35,530.98 379.1,528.7 C378.85,526.42 379.5,523.83 380.1,520.9 C380.7,517.97 381.72,514.37 382.7,511.1 C383.68,507.83 384.77,504.55 386,501.3 C387.23,498.05 389.32,495.25 390.1,491.6 C390.88,487.95 390.6,481.43 390.7,479.4 Z" fill="none" stroke="#984ea3" stroke-width="1.45" stroke-linejoin="round"/>
<path d="M393.3,548.5 L395.6,550.8 L393.3,553.1 L391,550.8 Z" fill="#fff" stroke="#000" stroke-width="1.15"/>
<g fill="#984ea3" stroke="#984ea3" stroke-width="0.5" fill-opacity="0.3" stroke-opacity="0.35"><circle cx="451.2" cy="479.4" r="1.25"/><circle cx="454.8" cy="479.4" r="1.25"/><circle cx="462.1" cy="490.3" r="1.25"/><circle cx="453.7" cy="512.3" r="1.25"/><circle cx="447.2" cy="518.8" r="1.25"/><circle cx="463.0" cy="500.7" r="1.25"/><circle cx="456.7" cy="524.6" r="1.25"/><circle cx="445.3" cy="511.6" r="1.25"/><circle cx="467.6" cy="504.6" r="1.25"/><circle cx="458.4" cy="530.9" r="1.25"/><circle cx="447.3" cy="504.3" r="1.25"/><circle cx="464.6" cy="499.4" r="1.25"/><circle cx="457.1" cy="505.2" r="1.25"/><circle cx="452.5" cy="500.8" r="1.25"/><circle cx="445.0" cy="517.8" r="1.25"/><circle cx="457.8" cy="523.9" r="1.25"/><circle cx="456.0" cy="532.4" r="1.25"/><circle cx="450.9" cy="500.2" r="1.25"/><circle cx="450.7" cy="498.5" r="1.25"/><circle cx="454.7" cy="528.4" r="1.25"/><circle cx="461.6" cy="505.2" r="1.25"/><circle cx="453.3" cy="515.3" r="1.25"/><circle cx="468.8" cy="508.0" r="1.25"/><circle cx="454.1" cy="517.6" r="1.25"/><circle cx="457.2" cy="490.1" r="1.25"/><circle cx="453.4" cy="509.4" r="1.25"/><circle cx="456.0" cy="505.8" r="1.25"/><circle cx="457.6" cy="533.6" r="1.25"/><circle cx="455.5" cy="509.1" r="1.25"/><circle cx="464.2" cy="493.0" r="1.25"/><circle cx="449.1" cy="517.9" r="1.25"/><circle cx="449.1" cy="509.1" r="1.25"/><circle cx="456.9" cy="492.4" r="1.25"/><circle cx="458.3" cy="508.7" r="1.25"/><circle cx="467.4" cy="517.5" r="1.25"/><circle cx="448.5" cy="497.3" r="1.25"/><circle cx="456.2" cy="524.2" r="1.25"/><circle cx="445.5" cy="525.5" r="1.25"/><circle cx="446.4" cy="526.1" r="1.25"/><circle cx="452.3" cy="513.1" r="1.25"/><circle cx="463.3" cy="513.6" r="1.25"/><circle cx="461.2" cy="534.7" r="1.25"/><circle cx="464.0" cy="534.8" r="1.25"/><circle cx="443.8" cy="506.0" r="1.25"/><circle cx="459.4" cy="503.5" r="1.25"/><circle cx="446.8" cy="506.4" r="1.25"/><circle cx="448.8" cy="492.7" r="1.25"/><circle cx="447.7" cy="513.5" r="1.25"/><circle cx="454.2" cy="534.0" r="1.25"/><circle cx="466.1" cy="494.0" r="1.25"/><circle cx="445.2" cy="526.1" r="1.25"/><circle cx="462.9" cy="490.0" r="1.25"/><circle cx="461.3" cy="530.8" r="1.25"/><circle cx="460.4" cy="503.7" r="1.25"/><circle cx="465.0" cy="513.2" r="1.25"/><circle cx="464.9" cy="503.7" r="1.25"/><circle cx="443.9" cy="518.6" r="1.25"/><circle cx="468.2" cy="516.8" r="1.25"/><circle cx="465.9" cy="519.3" r="1.25"/><circle cx="458.9" cy="504.5" r="1.25"/><circle cx="456.9" cy="513.3" r="1.25"/><circle cx="468.0" cy="515.6" r="1.25"/><circle cx="452.5" cy="511.5" r="1.25"/><circle cx="454.7" cy="497.9" r="1.25"/><circle cx="445.2" cy="509.1" r="1.25"/><circle cx="453.6" cy="528.6" r="1.25"/><circle cx="459.4" cy="503.4" r="1.25"/><circle cx="445.4" cy="507.5" r="1.25"/><circle cx="460.2" cy="497.3" r="1.25"/><circle cx="457.7" cy="499.6" r="1.25"/><circle cx="464.0" cy="533.7" r="1.25"/><circle cx="460.6" cy="497.4" r="1.25"/><circle cx="444.6" cy="519.7" r="1.25"/><circle cx="451.2" cy="513.8" r="1.25"/><circle cx="450.5" cy="509.1" r="1.25"/><circle cx="455.3" cy="510.8" r="1.25"/><circle cx="455.6" cy="504.7" r="1.25"/><circle cx="457.0" cy="520.9" r="1.25"/><circle cx="454.4" cy="513.5" r="1.25"/><circle cx="450.4" cy="507.3" r="1.25"/><circle cx="465.8" cy="505.8" r="1.25"/><circle cx="466.2" cy="517.3" r="1.25"/><circle cx="460.5" cy="498.5" r="1.25"/><circle cx="450.6" cy="512.9" r="1.25"/><circle cx="461.5" cy="498.9" r="1.25"/><circle cx="462.5" cy="515.9" r="1.25"/><circle cx="444.0" cy="514.5" r="1.25"/><circle cx="460.4" cy="493.2" r="1.25"/><circle cx="462.2" cy="514.0" r="1.25"/><circle cx="467.8" cy="490.0" r="1.25"/><circle cx="468.0" cy="494.0" r="1.25"/><circle cx="451.4" cy="529.6" r="1.25"/><circle cx="447.1" cy="510.1" r="1.25"/><circle cx="444.0" cy="529.0" r="1.25"/><circle cx="463.1" cy="508.8" r="1.25"/><circle cx="451.1" cy="501.4" r="1.25"/><circle cx="448.3" cy="516.9" r="1.25"/><circle cx="465.7" cy="529.5" r="1.25"/><circle cx="448.7" cy="529.8" r="1.25"/><circle cx="467.9" cy="510.4" r="1.25"/><circle cx="444.9" cy="494.5" r="1.25"/><circle cx="444.1" cy="506.8" r="1.25"/><circle cx="452.3" cy="508.0" r="1.25"/><circle cx="448.3" cy="512.1" r="1.25"/><circle cx="444.3" cy="508.4" r="1.25"/><circle cx="446.3" cy="528.2" r="1.25"/><circle cx="444.3" cy="519.9" r="1.25"/><circle cx="462.8" cy="524.3" r="1.25"/><circle cx="443.6" cy="523.1" r="1.25"/><circle cx="444.0" cy="518.7" r="1.25"/><circle cx="463.3" cy="511.6" r="1.25"/><circle cx="452.2" cy="506.6" r="1.25"/><circle cx="450.0" cy="550.7" r="1.25"/><circle cx="461.0" cy="550.7" r="1.25"/></g>
<path d="M456.05,479.4 L456.75,479.4 C456.75,480.12 455.59,481.67 456.75,483.7 C457.91,485.73 461.07,488.98 463.7,491.6 C466.32,494.22 469.72,496.8 472.5,499.4 C475.28,502 478.3,504.77 480.4,507.2 C482.5,509.63 484.45,511.72 485.1,514 C485.75,516.28 485.42,518.45 484.3,520.9 C483.18,523.35 480.85,526.42 478.4,528.7 C475.95,530.98 472.37,532.8 469.6,534.6 C466.83,536.4 463.8,537.87 461.8,539.5 C459.8,541.13 457.93,542.62 457.6,544.4 C457.27,546.18 458.93,548.42 459.8,550.2 C460.67,551.98 462.03,553.68 462.8,555.1 C463.57,556.52 464.13,558.1 464.4,558.7 L448.4,558.7 C448.67,558.1 449.23,556.52 450,555.1 C450.77,553.68 452.13,551.98 453,550.2 C453.87,548.42 455.53,546.18 455.2,544.4 C454.87,542.62 453,541.13 451,539.5 C449,537.87 445.97,536.4 443.2,534.6 C440.43,532.8 436.85,530.98 434.4,528.7 C431.95,526.42 429.62,523.35 428.5,520.9 C427.38,518.45 427.05,516.28 427.7,514 C428.35,511.72 430.3,509.63 432.4,507.2 C434.5,504.77 437.52,502 440.3,499.4 C443.08,496.8 446.47,494.22 449.1,491.6 C451.72,488.98 454.89,485.73 456.05,483.7 C457.21,481.67 456.05,480.12 456.05,479.4 Z" fill="none" stroke="#984ea3" stroke-width="1.45" stroke-linejoin="round"/>
<path d="M456.4,516.7 L458.7,519 L456.4,521.3 L454.1,519 Z" fill="#fff" stroke="#000" stroke-width="1.15"/>
<g fill="#984ea3" stroke="#984ea3" stroke-width="0.5" fill-opacity="0.3" stroke-opacity="0.35"><circle cx="528.6" cy="479.4" r="1.25"/><circle cx="521.1" cy="479.4" r="1.25"/><circle cx="515.5" cy="479.4" r="1.25"/><circle cx="525.6" cy="479.4" r="1.25"/><circle cx="530.4" cy="479.4" r="1.25"/><circle cx="530.0" cy="479.4" r="1.25"/><circle cx="514.4" cy="479.4" r="1.25"/><circle cx="516.4" cy="479.4" r="1.25"/><circle cx="509.8" cy="550.7" r="1.25"/><circle cx="532.3" cy="550.7" r="1.25"/><circle cx="516.1" cy="550.7" r="1.25"/><circle cx="510.7" cy="550.7" r="1.25"/><circle cx="512.1" cy="550.7" r="1.25"/><circle cx="513.1" cy="550.7" r="1.25"/><circle cx="529.8" cy="558.5" r="1.25"/><circle cx="521.0" cy="558.5" r="1.25"/><circle cx="507.0" cy="558.5" r="1.25"/><circle cx="521.9" cy="558.5" r="1.25"/><circle cx="531.1" cy="558.5" r="1.25"/><circle cx="531.7" cy="558.5" r="1.25"/><circle cx="523.3" cy="558.5" r="1.25"/><circle cx="509.7" cy="558.5" r="1.25"/><circle cx="512.4" cy="510.0" r="1.25"/><circle cx="530.5" cy="534.0" r="1.25"/><circle cx="524.4" cy="522.2" r="1.25"/><circle cx="523.8" cy="509.8" r="1.25"/><circle cx="528.2" cy="529.4" r="1.25"/><circle cx="507.1" cy="518.0" r="1.25"/><circle cx="508.0" cy="507.7" r="1.25"/><circle cx="511.3" cy="520.8" r="1.25"/><circle cx="528.6" cy="507.4" r="1.25"/><circle cx="525.9" cy="512.4" r="1.25"/><circle cx="528.6" cy="492.1" r="1.25"/><circle cx="525.1" cy="520.3" r="1.25"/><circle cx="521.8" cy="522.4" r="1.25"/><circle cx="524.8" cy="520.9" r="1.25"/><circle cx="526.1" cy="494.7" r="1.25"/><circle cx="524.1" cy="508.4" r="1.25"/><circle cx="522.4" cy="531.5" r="1.25"/><circle cx="523.5" cy="509.6" r="1.25"/><circle cx="528.5" cy="519.6" r="1.25"/><circle cx="532.5" cy="512.3" r="1.25"/><circle cx="507.3" cy="495.5" r="1.25"/><circle cx="531.5" cy="532.3" r="1.25"/><circle cx="523.8" cy="506.9" r="1.25"/><circle cx="532.1" cy="517.9" r="1.25"/><circle cx="532.4" cy="528.0" r="1.25"/><circle cx="526.8" cy="509.9" r="1.25"/><circle cx="514.9" cy="519.1" r="1.25"/><circle cx="524.3" cy="500.8" r="1.25"/><circle cx="510.5" cy="499.8" r="1.25"/><circle cx="532.4" cy="505.2" r="1.25"/><circle cx="507.7" cy="524.4" r="1.25"/><circle cx="507.2" cy="509.7" r="1.25"/><circle cx="516.0" cy="505.2" r="1.25"/><circle cx="513.3" cy="525.9" r="1.25"/><circle cx="515.1" cy="511.0" r="1.25"/><circle cx="530.2" cy="531.9" r="1.25"/><circle cx="527.1" cy="519.7" r="1.25"/><circle cx="517.8" cy="517.4" r="1.25"/><circle cx="511.3" cy="518.6" r="1.25"/><circle cx="514.5" cy="506.2" r="1.25"/><circle cx="532.5" cy="532.6" r="1.25"/><circle cx="509.2" cy="511.1" r="1.25"/><circle cx="523.8" cy="500.8" r="1.25"/><circle cx="529.9" cy="524.3" r="1.25"/><circle cx="508.1" cy="521.8" r="1.25"/><circle cx="510.6" cy="496.9" r="1.25"/><circle cx="519.5" cy="506.2" r="1.25"/><circle cx="510.6" cy="510.6" r="1.25"/><circle cx="513.6" cy="494.1" r="1.25"/><circle cx="522.5" cy="509.2" r="1.25"/><circle cx="507.6" cy="514.5" r="1.25"/><circle cx="532.3" cy="507.4" r="1.25"/><circle cx="532.1" cy="516.6" r="1.25"/><circle cx="525.8" cy="535.5" r="1.25"/><circle cx="519.0" cy="491.4" r="1.25"/><circle cx="518.5" cy="533.0" r="1.25"/><circle cx="517.3" cy="526.4" r="1.25"/><circle cx="526.1" cy="523.5" r="1.25"/><circle cx="514.1" cy="511.5" r="1.25"/><circle cx="529.2" cy="518.9" r="1.25"/><circle cx="509.1" cy="523.9" r="1.25"/><circle cx="531.4" cy="531.9" r="1.25"/><circle cx="528.1" cy="513.9" r="1.25"/><circle cx="528.1" cy="537.4" r="1.25"/><circle cx="514.2" cy="534.2" r="1.25"/><circle cx="518.7" cy="512.0" r="1.25"/><circle cx="528.8" cy="522.3" r="1.25"/><circle cx="531.4" cy="501.6" r="1.25"/><circle cx="511.7" cy="521.5" r="1.25"/><circle cx="508.4" cy="525.0" r="1.25"/><circle cx="520.7" cy="521.4" r="1.25"/><circle cx="507.2" cy="499.9" r="1.25"/><circle cx="532.3" cy="515.6" r="1.25"/><circle cx="509.7" cy="530.3" r="1.25"/><circle cx="518.5" cy="505.2" r="1.25"/><circle cx="517.4" cy="539.0" r="1.25"/><circle cx="512.2" cy="517.7" r="1.25"/><circle cx="515.3" cy="507.0" r="1.25"/><circle cx="512.7" cy="519.2" r="1.25"/><circle cx="530.0" cy="523.8" r="1.25"/><circle cx="519.1" cy="523.8" r="1.25"/><circle cx="526.2" cy="528.1" r="1.25"/><circle cx="507.6" cy="515.2" r="1.25"/><circle cx="522.5" cy="491.4" r="1.25"/><circle cx="528.4" cy="501.8" r="1.25"/><circle cx="526.5" cy="498.6" r="1.25"/><circle cx="507.4" cy="516.5" r="1.25"/><circle cx="516.2" cy="528.1" r="1.25"/><circle cx="526.2" cy="513.1" r="1.25"/><circle cx="530.9" cy="503.5" r="1.25"/></g>
<path d="M512.1,479.4 L527.1,479.4 C526.6,480 524.87,481.63 524.1,483 C523.33,484.37 521.22,485.2 522.5,487.6 C523.78,490 528.62,494.13 531.8,497.4 C534.98,500.67 539.02,503.77 541.6,507.2 C544.18,510.63 547.63,514.42 547.3,518 C546.97,521.58 542.92,525.28 539.6,528.7 C536.28,532.12 530.17,535.88 527.4,538.5 C524.63,541.12 523.23,542.12 523,544.4 C522.77,546.68 525.27,549.82 526,552.2 C526.73,554.58 527.17,557.62 527.4,558.7 L511.8,558.7 C512.03,557.62 512.47,554.58 513.2,552.2 C513.93,549.82 516.43,546.68 516.2,544.4 C515.97,542.12 514.57,541.12 511.8,538.5 C509.03,535.88 502.92,532.12 499.6,528.7 C496.28,525.28 492.23,521.58 491.9,518 C491.57,514.42 495.02,510.63 497.6,507.2 C500.18,503.77 504.22,500.67 507.4,497.4 C510.58,494.13 515.42,490 516.7,487.6 C517.98,485.2 515.87,484.37 515.1,483 C514.33,481.63 512.6,480 512.1,479.4 Z" fill="none" stroke="#984ea3" stroke-width="1.45" stroke-linejoin="round"/>
<path d="M519.6,516.7 L521.9,519 L519.6,521.3 L517.3,519 Z" fill="#fff" stroke="#000" stroke-width="1.15"/>
<g fill="#984ea3" stroke="#984ea3" stroke-width="0.5" fill-opacity="0.3" stroke-opacity="0.35"><circle cx="572.5" cy="479.4" r="1.25"/><circle cx="572.1" cy="479.4" r="1.25"/><circle cx="583.9" cy="479.4" r="1.25"/><circle cx="580.7" cy="479.4" r="1.25"/><circle cx="592.3" cy="479.4" r="1.25"/><circle cx="593.4" cy="479.4" r="1.25"/><circle cx="594.1" cy="550.7" r="1.25"/><circle cx="574.8" cy="550.7" r="1.25"/><circle cx="579.8" cy="550.7" r="1.25"/><circle cx="584.7" cy="558.5" r="1.25"/><circle cx="591.2" cy="558.5" r="1.25"/><circle cx="588.1" cy="558.5" r="1.25"/><circle cx="579.8" cy="558.5" r="1.25"/><circle cx="589.0" cy="558.5" r="1.25"/><circle cx="577.6" cy="558.5" r="1.25"/><circle cx="581.8" cy="505.1" r="1.25"/><circle cx="577.3" cy="523.4" r="1.25"/><circle cx="582.1" cy="514.3" r="1.25"/><circle cx="592.6" cy="512.2" r="1.25"/><circle cx="572.7" cy="487.1" r="1.25"/><circle cx="570.1" cy="505.0" r="1.25"/><circle cx="573.3" cy="524.4" r="1.25"/><circle cx="580.7" cy="507.4" r="1.25"/><circle cx="586.9" cy="518.1" r="1.25"/><circle cx="592.6" cy="485.1" r="1.25"/><circle cx="588.9" cy="498.9" r="1.25"/><circle cx="572.4" cy="505.7" r="1.25"/><circle cx="573.4" cy="518.3" r="1.25"/><circle cx="588.2" cy="488.4" r="1.25"/><circle cx="571.8" cy="504.3" r="1.25"/><circle cx="577.9" cy="497.2" r="1.25"/><circle cx="590.2" cy="503.5" r="1.25"/><circle cx="587.9" cy="513.0" r="1.25"/><circle cx="587.5" cy="494.5" r="1.25"/><circle cx="589.0" cy="536.5" r="1.25"/><circle cx="575.3" cy="492.5" r="1.25"/><circle cx="573.5" cy="496.3" r="1.25"/><circle cx="586.7" cy="486.6" r="1.25"/><circle cx="575.1" cy="529.8" r="1.25"/><circle cx="573.5" cy="528.3" r="1.25"/><circle cx="578.8" cy="489.8" r="1.25"/><circle cx="578.2" cy="506.2" r="1.25"/><circle cx="586.1" cy="488.7" r="1.25"/><circle cx="579.0" cy="521.2" r="1.25"/><circle cx="578.4" cy="504.5" r="1.25"/><circle cx="583.1" cy="511.9" r="1.25"/><circle cx="570.2" cy="495.1" r="1.25"/><circle cx="578.5" cy="490.1" r="1.25"/><circle cx="577.0" cy="517.2" r="1.25"/><circle cx="573.1" cy="521.4" r="1.25"/><circle cx="594.9" cy="483.0" r="1.25"/><circle cx="588.5" cy="519.8" r="1.25"/><circle cx="581.2" cy="521.2" r="1.25"/><circle cx="587.0" cy="534.5" r="1.25"/><circle cx="591.9" cy="497.3" r="1.25"/><circle cx="595.0" cy="531.1" r="1.25"/><circle cx="579.4" cy="530.1" r="1.25"/><circle cx="577.7" cy="532.4" r="1.25"/><circle cx="584.5" cy="526.3" r="1.25"/><circle cx="573.1" cy="494.1" r="1.25"/><circle cx="580.4" cy="502.3" r="1.25"/><circle cx="581.1" cy="522.1" r="1.25"/><circle cx="593.3" cy="506.6" r="1.25"/><circle cx="577.3" cy="512.2" r="1.25"/><circle cx="579.7" cy="493.0" r="1.25"/><circle cx="571.9" cy="498.0" r="1.25"/><circle cx="573.0" cy="498.1" r="1.25"/><circle cx="582.8" cy="492.9" r="1.25"/><circle cx="579.3" cy="510.3" r="1.25"/><circle cx="569.8" cy="496.4" r="1.25"/><circle cx="589.6" cy="489.9" r="1.25"/><circle cx="590.8" cy="490.8" r="1.25"/><circle cx="574.6" cy="518.3" r="1.25"/><circle cx="575.5" cy="528.6" r="1.25"/><circle cx="589.9" cy="509.6" r="1.25"/><circle cx="585.8" cy="502.2" r="1.25"/><circle cx="581.6" cy="516.6" r="1.25"/><circle cx="587.7" cy="513.9" r="1.25"/><circle cx="582.3" cy="511.3" r="1.25"/><circle cx="580.3" cy="513.2" r="1.25"/><circle cx="586.3" cy="495.0" r="1.25"/><circle cx="580.8" cy="495.9" r="1.25"/><circle cx="581.5" cy="508.3" r="1.25"/><circle cx="578.8" cy="525.2" r="1.25"/><circle cx="578.0" cy="521.0" r="1.25"/><circle cx="579.8" cy="511.8" r="1.25"/><circle cx="588.2" cy="530.2" r="1.25"/><circle cx="587.6" cy="523.0" r="1.25"/><circle cx="589.9" cy="512.0" r="1.25"/><circle cx="589.6" cy="534.2" r="1.25"/><circle cx="575.7" cy="525.9" r="1.25"/><circle cx="593.8" cy="526.3" r="1.25"/><circle cx="581.3" cy="508.0" r="1.25"/><circle cx="584.3" cy="493.0" r="1.25"/><circle cx="582.2" cy="493.1" r="1.25"/></g>
<path d="M575.2,479.4 L590.2,479.4 C591.23,481.43 594.52,487.28 596.4,491.6 C598.28,495.92 600.32,500.73 601.5,505.3 C602.68,509.87 604.03,514.77 603.5,519 C602.97,523.23 600.78,526.8 598.3,530.7 C595.82,534.6 590.63,539.8 588.6,542.4 C586.57,545 586.33,544.7 586.1,546.3 C585.87,547.9 586.87,549.93 587.2,552 C587.53,554.07 587.95,557.58 588.1,558.7 L577.3,558.7 C577.45,557.58 577.87,554.07 578.2,552 C578.53,549.93 579.53,547.9 579.3,546.3 C579.07,544.7 578.83,545 576.8,542.4 C574.77,539.8 569.58,534.6 567.1,530.7 C564.62,526.8 562.43,523.23 561.9,519 C561.37,514.77 562.72,509.87 563.9,505.3 C565.08,500.73 567.12,495.92 569,491.6 C570.88,487.28 574.17,481.43 575.2,479.4 Z" fill="none" stroke="#984ea3" stroke-width="1.45" stroke-linejoin="round"/>
<path d="M582.7,514.1 L585,516.4 L582.7,518.7 L580.4,516.4 Z" fill="#fff" stroke="#000" stroke-width="1.15"/>
<g fill="#ff7f00" stroke="#ff7f00" stroke-width="0.5" fill-opacity="0.3" stroke-opacity="0.35"><circle cx="115.9" cy="571.4" r="1.25"/><circle cx="124.3" cy="642.9" r="1.25"/><circle cx="122.5" cy="642.9" r="1.25"/><circle cx="113.0" cy="642.9" r="1.25"/><circle cx="134.4" cy="642.9" r="1.25"/><circle cx="110.5" cy="650.7" r="1.25"/><circle cx="127.4" cy="650.7" r="1.25"/><circle cx="118.0" cy="650.7" r="1.25"/><circle cx="135.4" cy="650.7" r="1.25"/><circle cx="114.4" cy="650.7" r="1.25"/><circle cx="114.0" cy="650.7" r="1.25"/><circle cx="114.8" cy="650.7" r="1.25"/><circle cx="115.4" cy="650.7" r="1.25"/><circle cx="133.0" cy="620.6" r="1.25"/><circle cx="122.2" cy="586.5" r="1.25"/><circle cx="129.1" cy="589.7" r="1.25"/><circle cx="134.9" cy="604.8" r="1.25"/><circle cx="124.1" cy="584.2" r="1.25"/><circle cx="114.3" cy="601.3" r="1.25"/><circle cx="132.5" cy="615.6" r="1.25"/><circle cx="111.5" cy="626.5" r="1.25"/><circle cx="129.4" cy="596.5" r="1.25"/><circle cx="116.9" cy="599.2" r="1.25"/><circle cx="120.8" cy="597.2" r="1.25"/><circle cx="114.6" cy="625.5" r="1.25"/><circle cx="111.6" cy="617.0" r="1.25"/><circle cx="120.8" cy="611.2" r="1.25"/><circle cx="135.3" cy="601.7" r="1.25"/><circle cx="115.4" cy="587.6" r="1.25"/><circle cx="119.3" cy="612.5" r="1.25"/><circle cx="127.1" cy="586.2" r="1.25"/><circle cx="132.3" cy="587.9" r="1.25"/><circle cx="118.2" cy="622.2" r="1.25"/><circle cx="130.5" cy="598.7" r="1.25"/><circle cx="109.6" cy="592.0" r="1.25"/><circle cx="121.0" cy="606.2" r="1.25"/><circle cx="127.4" cy="595.1" r="1.25"/><circle cx="134.6" cy="613.0" r="1.25"/><circle cx="119.6" cy="619.9" r="1.25"/><circle cx="130.3" cy="617.1" r="1.25"/><circle cx="123.6" cy="622.2" r="1.25"/><circle cx="110.3" cy="593.6" r="1.25"/><circle cx="128.4" cy="619.1" r="1.25"/><circle cx="120.1" cy="615.1" r="1.25"/><circle cx="116.9" cy="600.8" r="1.25"/><circle cx="132.0" cy="600.9" r="1.25"/><circle cx="119.8" cy="581.3" r="1.25"/><circle cx="113.2" cy="619.1" r="1.25"/><circle cx="129.1" cy="600.9" r="1.25"/><circle cx="131.4" cy="603.2" r="1.25"/><circle cx="120.1" cy="601.8" r="1.25"/><circle cx="118.8" cy="598.4" r="1.25"/><circle cx="119.4" cy="614.8" r="1.25"/><circle cx="120.2" cy="624.3" r="1.25"/><circle cx="114.7" cy="614.9" r="1.25"/><circle cx="130.8" cy="605.2" r="1.25"/><circle cx="133.4" cy="596.3" r="1.25"/><circle cx="123.9" cy="599.8" r="1.25"/><circle cx="110.0" cy="594.4" r="1.25"/><circle cx="127.3" cy="597.8" r="1.25"/><circle cx="111.9" cy="595.1" r="1.25"/><circle cx="114.1" cy="587.2" r="1.25"/><circle cx="118.9" cy="616.4" r="1.25"/><circle cx="112.7" cy="607.9" r="1.25"/><circle cx="115.0" cy="604.6" r="1.25"/><circle cx="112.3" cy="593.7" r="1.25"/><circle cx="110.5" cy="606.6" r="1.25"/><circle cx="115.7" cy="624.5" r="1.25"/><circle cx="113.1" cy="610.9" r="1.25"/><circle cx="131.0" cy="587.8" r="1.25"/><circle cx="124.7" cy="591.2" r="1.25"/><circle cx="119.7" cy="594.4" r="1.25"/><circle cx="119.3" cy="602.3" r="1.25"/><circle cx="118.3" cy="610.9" r="1.25"/><circle cx="113.2" cy="615.6" r="1.25"/><circle cx="134.6" cy="613.4" r="1.25"/><circle cx="134.6" cy="603.5" r="1.25"/><circle cx="114.7" cy="598.2" r="1.25"/><circle cx="130.8" cy="597.4" r="1.25"/><circle cx="122.8" cy="625.7" r="1.25"/><circle cx="113.9" cy="620.3" r="1.25"/><circle cx="128.8" cy="601.5" r="1.25"/><circle cx="114.2" cy="609.5" r="1.25"/><circle cx="119.6" cy="619.5" r="1.25"/><circle cx="135.5" cy="600.2" r="1.25"/><circle cx="120.2" cy="619.6" r="1.25"/><circle cx="134.2" cy="619.4" r="1.25"/><circle cx="121.0" cy="616.7" r="1.25"/><circle cx="121.7" cy="620.0" r="1.25"/><circle cx="116.0" cy="608.1" r="1.25"/><circle cx="110.8" cy="610.8" r="1.25"/><circle cx="120.4" cy="609.4" r="1.25"/><circle cx="125.9" cy="615.9" r="1.25"/><circle cx="130.7" cy="604.8" r="1.25"/><circle cx="117.5" cy="626.2" r="1.25"/><circle cx="130.3" cy="597.0" r="1.25"/><circle cx="120.5" cy="602.2" r="1.25"/><circle cx="126.9" cy="615.1" r="1.25"/><circle cx="130.3" cy="615.4" r="1.25"/><circle cx="120.2" cy="615.3" r="1.25"/><circle cx="118.4" cy="620.9" r="1.25"/><circle cx="117.6" cy="614.2" r="1.25"/><circle cx="114.2" cy="618.8" r="1.25"/><circle cx="124.9" cy="598.7" r="1.25"/><circle cx="120.2" cy="605.8" r="1.25"/><circle cx="111.6" cy="630.5" r="1.25"/><circle cx="117.3" cy="599.6" r="1.25"/><circle cx="109.8" cy="602.4" r="1.25"/><circle cx="128.7" cy="601.3" r="1.25"/><circle cx="119.1" cy="604.7" r="1.25"/><circle cx="115.2" cy="631.2" r="1.25"/><circle cx="118.5" cy="608.8" r="1.25"/><circle cx="123.3" cy="603.6" r="1.25"/><circle cx="129.8" cy="616.4" r="1.25"/><circle cx="111.6" cy="587.2" r="1.25"/><circle cx="111.7" cy="617.5" r="1.25"/><circle cx="124.8" cy="614.4" r="1.25"/><circle cx="116.1" cy="606.4" r="1.25"/><circle cx="130.7" cy="616.7" r="1.25"/><circle cx="113.3" cy="609.8" r="1.25"/><circle cx="127.3" cy="610.8" r="1.25"/><circle cx="120.5" cy="620.2" r="1.25"/><circle cx="112.2" cy="616.5" r="1.25"/></g>
<path d="M122.15,571.4 L122.85,571.4 C122.85,572.12 122.47,574.33 122.85,575.7 C123.22,577.07 124.51,578.28 125.1,579.6 C125.69,580.92 125.53,581.97 126.4,583.6 C127.27,585.23 129.15,587.45 130.3,589.4 C131.45,591.35 132.52,593.02 133.3,595.3 C134.08,597.58 134.32,600.48 135,603.1 C135.68,605.72 137.28,608.38 137.4,611 C137.52,613.62 136.63,616.53 135.7,618.8 C134.77,621.07 133.4,622.65 131.8,624.6 C130.2,626.55 127.59,628.87 126.1,630.5 C124.61,632.13 122.97,632.45 122.85,634.4 C122.73,636.35 124.81,639.48 125.4,642.2 C125.99,644.92 126.23,649.28 126.4,650.7 L118.6,650.7 C118.77,649.28 119.01,644.92 119.6,642.2 C120.19,639.48 122.27,636.35 122.15,634.4 C122.03,632.45 120.39,632.13 118.9,630.5 C117.41,628.87 114.8,626.55 113.2,624.6 C111.6,622.65 110.23,621.07 109.3,618.8 C108.37,616.53 107.48,613.62 107.6,611 C107.72,608.38 109.32,605.72 110,603.1 C110.68,600.48 110.92,597.58 111.7,595.3 C112.48,593.02 113.55,591.35 114.7,589.4 C115.85,587.45 117.73,585.23 118.6,583.6 C119.47,581.97 119.31,580.92 119.9,579.6 C120.49,578.28 121.78,577.07 122.15,575.7 C122.53,574.33 122.15,572.12 122.15,571.4 Z" fill="none" stroke="#ff7f00" stroke-width="1.45" stroke-linejoin="round"/>
<path d="M122.5,609.6 L124.8,611.9 L122.5,614.2 L120.2,611.9 Z" fill="#fff" stroke="#000" stroke-width="1.15"/>
<g fill="#ff7f00" stroke="#ff7f00" stroke-width="0.5" fill-opacity="0.3" stroke-opacity="0.35"><circle cx="178.5" cy="571.4" r="1.25"/><circle cx="195.1" cy="571.4" r="1.25"/><circle cx="198.6" cy="571.4" r="1.25"/><circle cx="180.8" cy="627.2" r="1.25"/><circle cx="179.1" cy="599.5" r="1.25"/><circle cx="192.2" cy="617.5" r="1.25"/><circle cx="182.9" cy="620.8" r="1.25"/><circle cx="197.8" cy="611.4" r="1.25"/><circle cx="197.7" cy="601.2" r="1.25"/><circle cx="196.1" cy="597.1" r="1.25"/><circle cx="175.6" cy="586.3" r="1.25"/><circle cx="177.7" cy="614.5" r="1.25"/><circle cx="185.4" cy="614.4" r="1.25"/><circle cx="198.8" cy="588.7" r="1.25"/><circle cx="181.6" cy="610.1" r="1.25"/><circle cx="195.6" cy="598.6" r="1.25"/><circle cx="192.4" cy="590.9" r="1.25"/><circle cx="188.9" cy="598.9" r="1.25"/><circle cx="196.9" cy="599.6" r="1.25"/><circle cx="173.2" cy="627.3" r="1.25"/><circle cx="175.6" cy="600.3" r="1.25"/><circle cx="182.9" cy="598.9" r="1.25"/><circle cx="178.3" cy="604.2" r="1.25"/><circle cx="181.6" cy="623.1" r="1.25"/><circle cx="180.6" cy="595.7" r="1.25"/><circle cx="179.3" cy="601.4" r="1.25"/><circle cx="185.8" cy="612.4" r="1.25"/><circle cx="186.0" cy="626.3" r="1.25"/><circle cx="190.3" cy="610.2" r="1.25"/><circle cx="195.2" cy="612.8" r="1.25"/><circle cx="177.5" cy="615.7" r="1.25"/><circle cx="188.6" cy="603.8" r="1.25"/><circle cx="195.4" cy="601.3" r="1.25"/><circle cx="173.7" cy="594.1" r="1.25"/><circle cx="195.5" cy="596.3" r="1.25"/><circle cx="179.9" cy="616.3" r="1.25"/><circle cx="193.5" cy="593.9" r="1.25"/><circle cx="183.8" cy="598.5" r="1.25"/><circle cx="195.6" cy="611.1" r="1.25"/><circle cx="198.0" cy="595.6" r="1.25"/><circle cx="191.2" cy="613.4" r="1.25"/><circle cx="181.8" cy="608.5" r="1.25"/><circle cx="173.5" cy="593.7" r="1.25"/><circle cx="187.2" cy="605.4" r="1.25"/><circle cx="180.1" cy="604.8" r="1.25"/><circle cx="175.2" cy="609.0" r="1.25"/><circle cx="174.6" cy="615.5" r="1.25"/><circle cx="174.9" cy="611.0" r="1.25"/><circle cx="186.9" cy="608.7" r="1.25"/><circle cx="190.4" cy="604.6" r="1.25"/><circle cx="186.0" cy="610.0" r="1.25"/><circle cx="175.9" cy="603.7" r="1.25"/><circle cx="189.4" cy="583.5" r="1.25"/><circle cx="194.4" cy="584.6" r="1.25"/><circle cx="187.5" cy="612.0" r="1.25"/><circle cx="189.0" cy="611.0" r="1.25"/><circle cx="190.4" cy="615.1" r="1.25"/><circle cx="181.9" cy="611.6" r="1.25"/><circle cx="196.9" cy="606.6" r="1.25"/><circle cx="183.0" cy="608.8" r="1.25"/><circle cx="196.0" cy="597.6" r="1.25"/><circle cx="192.2" cy="589.0" r="1.25"/><circle cx="173.3" cy="622.6" r="1.25"/><circle cx="198.2" cy="603.2" r="1.25"/><circle cx="188.8" cy="609.4" r="1.25"/><circle cx="196.0" cy="591.2" r="1.25"/><circle cx="180.9" cy="608.2" r="1.25"/><circle cx="190.8" cy="606.8" r="1.25"/><circle cx="173.4" cy="582.4" r="1.25"/><circle cx="179.9" cy="594.5" r="1.25"/><circle cx="188.3" cy="607.0" r="1.25"/><circle cx="197.4" cy="609.9" r="1.25"/><circle cx="194.4" cy="590.1" r="1.25"/><circle cx="189.1" cy="623.9" r="1.25"/><circle cx="177.1" cy="612.4" r="1.25"/><circle cx="191.0" cy="604.0" r="1.25"/><circle cx="195.5" cy="611.3" r="1.25"/><circle cx="175.1" cy="608.0" r="1.25"/><circle cx="193.8" cy="588.8" r="1.25"/><circle cx="198.0" cy="601.5" r="1.25"/><circle cx="198.4" cy="627.1" r="1.25"/><circle cx="193.1" cy="626.4" r="1.25"/><circle cx="195.0" cy="593.1" r="1.25"/><circle cx="173.5" cy="621.6" r="1.25"/><circle cx="198.2" cy="603.6" r="1.25"/><circle cx="174.2" cy="596.3" r="1.25"/><circle cx="174.2" cy="624.3" r="1.25"/><circle cx="197.7" cy="599.3" r="1.25"/><circle cx="186.2" cy="601.7" r="1.25"/><circle cx="198.7" cy="593.9" r="1.25"/><circle cx="172.8" cy="617.8" r="1.25"/><circle cx="175.3" cy="604.3" r="1.25"/><circle cx="175.0" cy="597.1" r="1.25"/><circle cx="193.3" cy="622.6" r="1.25"/><circle cx="187.2" cy="593.4" r="1.25"/><circle cx="192.0" cy="599.4" r="1.25"/><circle cx="187.3" cy="590.6" r="1.25"/><circle cx="193.4" cy="616.2" r="1.25"/><circle cx="189.6" cy="617.4" r="1.25"/><circle cx="178.4" cy="598.6" r="1.25"/><circle cx="181.3" cy="619.3" r="1.25"/><circle cx="174.0" cy="610.2" r="1.25"/><circle cx="197.9" cy="598.5" r="1.25"/><circle cx="198.0" cy="599.2" r="1.25"/><circle cx="173.4" cy="602.0" r="1.25"/><circle cx="191.7" cy="604.5" r="1.25"/><circle cx="179.1" cy="592.8" r="1.25"/><circle cx="178.3" cy="609.0" r="1.25"/><circle cx="195.1" cy="607.0" r="1.25"/><circle cx="182.1" cy="599.7" r="1.25"/><circle cx="185.3" cy="603.4" r="1.25"/><circle cx="180.1" cy="620.6" r="1.25"/><circle cx="197.0" cy="591.9" r="1.25"/><circle cx="181.5" cy="607.8" r="1.25"/><circle cx="177.7" cy="608.7" r="1.25"/><circle cx="182.3" cy="590.7" r="1.25"/><circle cx="198.3" cy="603.3" r="1.25"/><circle cx="173.5" cy="612.0" r="1.25"/><circle cx="181.8" cy="611.7" r="1.25"/><circle cx="193.4" cy="600.5" r="1.25"/><circle cx="189.4" cy="612.8" r="1.25"/><circle cx="190.5" cy="612.3" r="1.25"/><circle cx="191.5" cy="611.3" r="1.25"/><circle cx="176.0" cy="643.0" r="1.25"/><circle cx="196.0" cy="650.7" r="1.25"/></g>
<path d="M185.45,571.4 L186.15,571.4 C186.15,572.77 184.91,577.25 186.15,579.6 C187.39,581.95 191.06,583.22 193.6,585.5 C196.14,587.78 199.68,590.85 201.4,593.3 C203.12,595.75 203.82,598.23 203.9,600.2 C203.98,602.17 201.37,603.47 201.9,605.1 C202.43,606.73 207.5,608.37 207.1,610 C206.7,611.63 202.23,612.78 199.5,614.9 C196.77,617.02 192.93,620.1 190.7,622.7 C188.48,625.3 186.91,627.62 186.15,630.5 C185.39,633.38 186.15,636.63 186.15,640 C186.15,643.37 186.15,648.92 186.15,650.7 L185.45,650.7 C185.45,648.92 185.45,643.37 185.45,640 C185.45,636.63 186.21,633.38 185.45,630.5 C184.69,627.62 183.12,625.3 180.9,622.7 C178.68,620.1 174.83,617.02 172.1,614.9 C169.37,612.78 164.9,611.63 164.5,610 C164.1,608.37 169.17,606.73 169.7,605.1 C170.23,603.47 167.62,602.17 167.7,600.2 C167.78,598.23 168.48,595.75 170.2,593.3 C171.92,590.85 175.46,587.78 178,585.5 C180.54,583.22 184.21,581.95 185.45,579.6 C186.69,577.25 185.45,572.77 185.45,571.4 Z" fill="none" stroke="#ff7f00" stroke-width="1.45" stroke-linejoin="round"/>
<path d="M185.8,602.4 L188.1,604.7 L185.8,607 L183.5,604.7 Z" fill="#fff" stroke="#000" stroke-width="1.15"/>
<g fill="#ff7f00" stroke="#ff7f00" stroke-width="0.5" fill-opacity="0.3" stroke-opacity="0.35"><circle cx="251.9" cy="571.4" r="1.25"/><circle cx="244.4" cy="571.4" r="1.25"/><circle cx="251.3" cy="571.4" r="1.25"/><circle cx="253.7" cy="605.9" r="1.25"/><circle cx="251.9" cy="604.7" r="1.25"/><circle cx="257.8" cy="602.3" r="1.25"/><circle cx="238.0" cy="606.4" r="1.25"/><circle cx="256.3" cy="592.1" r="1.25"/><circle cx="244.8" cy="597.6" r="1.25"/><circle cx="241.1" cy="611.4" r="1.25"/><circle cx="244.0" cy="622.1" r="1.25"/><circle cx="255.9" cy="616.0" r="1.25"/><circle cx="248.6" cy="598.8" r="1.25"/><circle cx="244.4" cy="606.0" r="1.25"/><circle cx="253.3" cy="601.4" r="1.25"/><circle cx="242.5" cy="596.5" r="1.25"/><circle cx="236.2" cy="596.4" r="1.25"/><circle cx="257.2" cy="590.2" r="1.25"/><circle cx="241.8" cy="602.5" r="1.25"/><circle cx="249.4" cy="589.0" r="1.25"/><circle cx="260.5" cy="606.6" r="1.25"/><circle cx="253.4" cy="619.5" r="1.25"/><circle cx="260.7" cy="597.1" r="1.25"/><circle cx="257.8" cy="588.0" r="1.25"/><circle cx="241.7" cy="602.0" r="1.25"/><circle cx="250.8" cy="622.1" r="1.25"/><circle cx="248.7" cy="609.7" r="1.25"/><circle cx="238.0" cy="607.6" r="1.25"/><circle cx="249.3" cy="602.2" r="1.25"/><circle cx="242.6" cy="599.4" r="1.25"/><circle cx="244.5" cy="609.9" r="1.25"/><circle cx="247.9" cy="591.6" r="1.25"/><circle cx="244.2" cy="596.4" r="1.25"/><circle cx="239.7" cy="608.0" r="1.25"/><circle cx="257.6" cy="618.7" r="1.25"/><circle cx="260.6" cy="614.7" r="1.25"/><circle cx="246.9" cy="586.2" r="1.25"/><circle cx="244.1" cy="591.7" r="1.25"/><circle cx="244.5" cy="598.9" r="1.25"/><circle cx="257.9" cy="611.9" r="1.25"/><circle cx="254.2" cy="611.2" r="1.25"/><circle cx="245.6" cy="602.3" r="1.25"/><circle cx="236.6" cy="601.3" r="1.25"/><circle cx="257.2" cy="600.5" r="1.25"/><circle cx="259.9" cy="615.5" r="1.25"/><circle cx="261.2" cy="612.9" r="1.25"/><circle cx="242.6" cy="600.7" r="1.25"/><circle cx="256.1" cy="594.5" r="1.25"/><circle cx="251.6" cy="590.8" r="1.25"/><circle cx="250.9" cy="608.4" r="1.25"/><circle cx="248.0" cy="587.5" r="1.25"/><circle cx="260.3" cy="610.8" r="1.25"/><circle cx="250.1" cy="591.3" r="1.25"/><circle cx="248.0" cy="610.5" r="1.25"/><circle cx="245.2" cy="582.1" r="1.25"/><circle cx="252.3" cy="609.9" r="1.25"/><circle cx="255.2" cy="601.4" r="1.25"/><circle cx="251.1" cy="590.2" r="1.25"/><circle cx="252.3" cy="610.4" r="1.25"/><circle cx="246.3" cy="602.3" r="1.25"/><circle cx="245.4" cy="603.2" r="1.25"/><circle cx="245.5" cy="606.8" r="1.25"/><circle cx="243.1" cy="604.0" r="1.25"/><circle cx="243.7" cy="600.4" r="1.25"/><circle cx="250.3" cy="591.2" r="1.25"/><circle cx="242.7" cy="602.4" r="1.25"/><circle cx="242.8" cy="606.1" r="1.25"/><circle cx="236.1" cy="584.8" r="1.25"/><circle cx="248.4" cy="603.9" r="1.25"/><circle cx="237.6" cy="591.6" r="1.25"/><circle cx="257.7" cy="593.1" r="1.25"/><circle cx="260.2" cy="591.3" r="1.25"/><circle cx="238.7" cy="611.2" r="1.25"/><circle cx="243.8" cy="584.1" r="1.25"/><circle cx="261.5" cy="615.0" r="1.25"/><circle cx="257.9" cy="613.8" r="1.25"/><circle cx="248.1" cy="600.1" r="1.25"/><circle cx="247.8" cy="611.2" r="1.25"/><circle cx="239.0" cy="585.4" r="1.25"/><circle cx="245.6" cy="602.9" r="1.25"/><circle cx="260.9" cy="615.6" r="1.25"/><circle cx="238.0" cy="614.0" r="1.25"/><circle cx="250.8" cy="607.8" r="1.25"/><circle cx="246.5" cy="605.5" r="1.25"/><circle cx="249.4" cy="618.2" r="1.25"/><circle cx="245.9" cy="596.9" r="1.25"/><circle cx="251.9" cy="605.3" r="1.25"/><circle cx="255.8" cy="585.9" r="1.25"/><circle cx="250.9" cy="621.5" r="1.25"/><circle cx="247.4" cy="606.4" r="1.25"/><circle cx="245.6" cy="593.8" r="1.25"/><circle cx="249.4" cy="583.7" r="1.25"/><circle cx="237.5" cy="601.0" r="1.25"/><circle cx="247.8" cy="606.9" r="1.25"/><circle cx="242.5" cy="627.3" r="1.25"/><circle cx="253.8" cy="595.4" r="1.25"/><circle cx="257.3" cy="611.1" r="1.25"/><circle cx="237.7" cy="590.0" r="1.25"/><circle cx="250.7" cy="596.9" r="1.25"/><circle cx="256.5" cy="614.3" r="1.25"/><circle cx="249.2" cy="599.1" r="1.25"/><circle cx="260.9" cy="585.1" r="1.25"/><circle cx="257.0" cy="602.8" r="1.25"/><circle cx="248.3" cy="585.0" r="1.25"/><circle cx="249.7" cy="604.5" r="1.25"/><circle cx="245.8" cy="602.9" r="1.25"/><circle cx="236.6" cy="625.2" r="1.25"/><circle cx="244.8" cy="608.5" r="1.25"/><circle cx="242.0" cy="594.6" r="1.25"/><circle cx="246.6" cy="592.5" r="1.25"/><circle cx="247.7" cy="597.9" r="1.25"/><circle cx="243.7" cy="612.5" r="1.25"/><circle cx="252.3" cy="602.9" r="1.25"/><circle cx="236.0" cy="619.6" r="1.25"/><circle cx="251.0" cy="617.6" r="1.25"/><circle cx="253.8" cy="609.9" r="1.25"/><circle cx="237.8" cy="598.7" r="1.25"/><circle cx="237.0" cy="592.1" r="1.25"/><circle cx="261.5" cy="600.2" r="1.25"/><circle cx="257.1" cy="603.8" r="1.25"/><circle cx="236.8" cy="595.6" r="1.25"/><circle cx="242.1" cy="596.0" r="1.25"/><circle cx="242.1" cy="590.7" r="1.25"/><circle cx="240.0" cy="643.0" r="1.25"/></g>
<path d="M247.8,571.4 L250.2,571.4 C250.06,571.97 248.9,572.77 249.35,574.8 C249.8,576.83 250.68,581.17 252.9,583.6 C255.12,586.03 259.88,586.8 262.7,589.4 C265.52,592 269.32,596.42 269.8,599.2 C270.28,601.98 266.87,603.98 265.6,606.1 C264.33,608.22 263.98,609.78 262.2,611.9 C260.42,614.02 257.04,616.35 254.9,618.8 C252.76,621.25 250.28,623.9 249.35,626.6 C248.42,629.3 249.35,632.23 249.35,635 C249.35,637.77 249.35,641.83 249.35,643.2 L248.65,643.2 C248.65,641.83 248.65,637.77 248.65,635 C248.65,632.23 249.58,629.3 248.65,626.6 C247.72,623.9 245.24,621.25 243.1,618.8 C240.96,616.35 237.58,614.02 235.8,611.9 C234.02,609.78 233.67,608.22 232.4,606.1 C231.13,603.98 227.72,601.98 228.2,599.2 C228.68,596.42 232.48,592 235.3,589.4 C238.12,586.8 242.88,586.03 245.1,583.6 C247.32,581.17 248.2,576.83 248.65,574.8 C249.1,572.77 247.94,571.97 247.8,571.4 Z" fill="none" stroke="#ff7f00" stroke-width="1.45" stroke-linejoin="round"/>
<path d="M249,599.5 L251.3,601.8 L249,604.1 L246.7,601.8 Z" fill="#fff" stroke="#000" stroke-width="1.15"/>
<g fill="#ff7f00" stroke="#ff7f00" stroke-width="0.5" fill-opacity="0.3" stroke-opacity="0.35"><circle cx="310.2" cy="619.8" r="1.25"/><circle cx="307.6" cy="610.0" r="1.25"/><circle cx="304.6" cy="589.9" r="1.25"/><circle cx="305.0" cy="599.9" r="1.25"/><circle cx="304.5" cy="594.4" r="1.25"/><circle cx="322.8" cy="616.1" r="1.25"/><circle cx="311.0" cy="599.9" r="1.25"/><circle cx="320.3" cy="608.6" r="1.25"/><circle cx="315.6" cy="602.5" r="1.25"/><circle cx="321.9" cy="604.6" r="1.25"/><circle cx="313.8" cy="596.9" r="1.25"/><circle cx="310.9" cy="607.5" r="1.25"/><circle cx="304.1" cy="605.7" r="1.25"/><circle cx="317.3" cy="596.8" r="1.25"/><circle cx="317.9" cy="601.8" r="1.25"/><circle cx="321.8" cy="600.3" r="1.25"/><circle cx="310.9" cy="597.8" r="1.25"/><circle cx="300.7" cy="588.4" r="1.25"/><circle cx="321.4" cy="596.7" r="1.25"/><circle cx="300.0" cy="609.1" r="1.25"/><circle cx="317.0" cy="597.5" r="1.25"/><circle cx="308.3" cy="590.1" r="1.25"/><circle cx="319.3" cy="604.1" r="1.25"/><circle cx="312.5" cy="597.4" r="1.25"/><circle cx="320.6" cy="597.0" r="1.25"/><circle cx="325.1" cy="598.7" r="1.25"/><circle cx="309.9" cy="595.8" r="1.25"/><circle cx="312.5" cy="622.0" r="1.25"/><circle cx="318.5" cy="598.0" r="1.25"/><circle cx="303.3" cy="601.3" r="1.25"/><circle cx="319.3" cy="610.9" r="1.25"/><circle cx="316.4" cy="594.4" r="1.25"/><circle cx="303.6" cy="605.3" r="1.25"/><circle cx="308.0" cy="587.3" r="1.25"/><circle cx="312.2" cy="595.9" r="1.25"/><circle cx="318.2" cy="588.7" r="1.25"/><circle cx="321.4" cy="599.5" r="1.25"/><circle cx="324.0" cy="609.8" r="1.25"/><circle cx="299.5" cy="599.3" r="1.25"/><circle cx="312.7" cy="615.7" r="1.25"/><circle cx="322.8" cy="595.9" r="1.25"/><circle cx="324.3" cy="603.7" r="1.25"/><circle cx="304.4" cy="601.2" r="1.25"/><circle cx="300.7" cy="609.6" r="1.25"/><circle cx="313.3" cy="601.9" r="1.25"/><circle cx="307.6" cy="610.4" r="1.25"/><circle cx="317.7" cy="602.0" r="1.25"/><circle cx="320.8" cy="611.0" r="1.25"/><circle cx="308.2" cy="602.4" r="1.25"/><circle cx="317.7" cy="599.3" r="1.25"/><circle cx="318.1" cy="588.6" r="1.25"/><circle cx="315.4" cy="597.8" r="1.25"/><circle cx="301.6" cy="604.5" r="1.25"/><circle cx="306.9" cy="594.9" r="1.25"/><circle cx="319.2" cy="603.0" r="1.25"/><circle cx="323.1" cy="597.5" r="1.25"/><circle cx="311.3" cy="591.2" r="1.25"/><circle cx="312.4" cy="601.4" r="1.25"/><circle cx="311.7" cy="595.5" r="1.25"/><circle cx="308.1" cy="591.8" r="1.25"/><circle cx="321.6" cy="597.5" r="1.25"/><circle cx="309.3" cy="601.4" r="1.25"/><circle cx="324.9" cy="607.9" r="1.25"/><circle cx="319.6" cy="605.7" r="1.25"/><circle cx="322.9" cy="601.1" r="1.25"/><circle cx="305.5" cy="603.2" r="1.25"/><circle cx="318.9" cy="605.7" r="1.25"/><circle cx="316.4" cy="597.7" r="1.25"/><circle cx="323.4" cy="604.7" r="1.25"/><circle cx="306.7" cy="603.5" r="1.25"/><circle cx="315.0" cy="597.7" r="1.25"/><circle cx="323.6" cy="601.0" r="1.25"/><circle cx="314.0" cy="603.1" r="1.25"/><circle cx="302.8" cy="607.1" r="1.25"/><circle cx="317.8" cy="606.0" r="1.25"/><circle cx="322.4" cy="604.0" r="1.25"/><circle cx="309.7" cy="598.4" r="1.25"/><circle cx="301.1" cy="612.3" r="1.25"/><circle cx="303.7" cy="599.4" r="1.25"/><circle cx="300.4" cy="613.5" r="1.25"/><circle cx="321.2" cy="598.5" r="1.25"/><circle cx="308.0" cy="607.4" r="1.25"/><circle cx="321.8" cy="611.2" r="1.25"/><circle cx="311.0" cy="593.2" r="1.25"/><circle cx="324.0" cy="604.9" r="1.25"/><circle cx="319.3" cy="595.3" r="1.25"/><circle cx="320.3" cy="596.1" r="1.25"/><circle cx="301.1" cy="593.1" r="1.25"/><circle cx="301.1" cy="603.4" r="1.25"/><circle cx="301.0" cy="605.9" r="1.25"/><circle cx="302.0" cy="625.0" r="1.25"/><circle cx="323.0" cy="625.0" r="1.25"/><circle cx="301.0" cy="650.7" r="1.25"/><circle cx="316.0" cy="650.7" r="1.25"/><circle cx="300.0" cy="583.0" r="1.25"/><circle cx="318.0" cy="585.0" r="1.25"/></g>
<path d="M311.95,582.6 L312.65,582.6 C312.79,582.92 312.49,583.37 313.5,584.5 C314.51,585.63 315.73,587.77 318.7,589.4 C321.67,591.03 327.55,592.67 331.3,594.3 C335.05,595.93 341.35,597.23 341.2,599.2 C341.05,601.17 334,603.82 330.4,606.1 C326.8,608.38 322.42,610.78 319.6,612.9 C316.78,615.02 314.15,616.85 313.5,618.8 C312.85,620.75 315.84,622.65 315.7,624.6 C315.56,626.55 313.16,627.1 312.65,630.5 C312.14,633.9 312.43,641.9 312.65,645 C312.88,648.1 313.77,648.15 314,649.1 C314.23,650.05 314,650.43 314,650.7 L310.6,650.7 C310.6,650.43 310.38,650.05 310.6,649.1 C310.83,648.15 311.73,648.1 311.95,645 C312.17,641.9 312.46,633.9 311.95,630.5 C311.44,627.1 309.04,626.55 308.9,624.6 C308.76,622.65 311.75,620.75 311.1,618.8 C310.45,616.85 307.82,615.02 305,612.9 C302.18,610.78 297.8,608.38 294.2,606.1 C290.6,603.82 283.55,601.17 283.4,599.2 C283.25,597.23 289.55,595.93 293.3,594.3 C297.05,592.67 302.93,591.03 305.9,589.4 C308.87,587.77 310.09,585.63 311.1,584.5 C312.11,583.37 311.81,582.92 311.95,582.6 Z" fill="none" stroke="#ff7f00" stroke-width="1.45" stroke-linejoin="round"/>
<path d="M312.3,598.3 L314.6,600.6 L312.3,602.9 L310,600.6 Z" fill="#fff" stroke="#000" stroke-width="1.15"/>
<g fill="#ff7f00" stroke="#ff7f00" stroke-width="0.5" fill-opacity="0.3" stroke-opacity="0.35"><circle cx="388.7" cy="571.4" r="1.25"/><circle cx="385.2" cy="642.9" r="1.25"/><circle cx="396.5" cy="642.9" r="1.25"/><circle cx="384.9" cy="642.9" r="1.25"/><circle cx="389.5" cy="642.9" r="1.25"/><circle cx="394.0" cy="642.9" r="1.25"/><circle cx="398.6" cy="642.9" r="1.25"/><circle cx="390.2" cy="642.9" r="1.25"/><circle cx="385.5" cy="642.9" r="1.25"/><circle cx="386.4" cy="642.9" r="1.25"/><circle cx="393.7" cy="642.9" r="1.25"/><circle cx="405.5" cy="642.9" r="1.25"/><circle cx="393.8" cy="642.9" r="1.25"/><circle cx="404.6" cy="650.7" r="1.25"/><circle cx="387.8" cy="650.7" r="1.25"/><circle cx="393.0" cy="650.7" r="1.25"/><circle cx="382.9" cy="650.7" r="1.25"/><circle cx="388.5" cy="650.7" r="1.25"/><circle cx="391.7" cy="650.7" r="1.25"/><circle cx="399.9" cy="650.7" r="1.25"/><circle cx="392.4" cy="650.7" r="1.25"/><circle cx="380.9" cy="650.7" r="1.25"/><circle cx="391.4" cy="650.7" r="1.25"/><circle cx="404.5" cy="650.7" r="1.25"/><circle cx="383.2" cy="650.7" r="1.25"/><circle cx="399.8" cy="650.7" r="1.25"/><circle cx="387.9" cy="650.7" r="1.25"/><circle cx="392.8" cy="650.7" r="1.25"/><circle cx="403.4" cy="650.7" r="1.25"/><circle cx="388.0" cy="650.7" r="1.25"/><circle cx="392.4" cy="650.7" r="1.25"/><circle cx="388.0" cy="650.7" r="1.25"/><circle cx="381.8" cy="650.7" r="1.25"/><circle cx="389.0" cy="650.7" r="1.25"/><circle cx="397.2" cy="650.7" r="1.25"/><circle cx="388.2" cy="650.7" r="1.25"/><circle cx="400.6" cy="650.7" r="1.25"/><circle cx="402.8" cy="650.7" r="1.25"/><circle cx="383.7" cy="650.7" r="1.25"/><circle cx="400.6" cy="650.7" r="1.25"/><circle cx="385.1" cy="650.7" r="1.25"/><circle cx="381.3" cy="650.7" r="1.25"/><circle cx="383.3" cy="650.7" r="1.25"/><circle cx="395.0" cy="618.3" r="1.25"/><circle cx="400.3" cy="595.1" r="1.25"/><circle cx="388.1" cy="613.3" r="1.25"/><circle cx="392.6" cy="581.2" r="1.25"/><circle cx="405.3" cy="582.5" r="1.25"/><circle cx="390.3" cy="616.4" r="1.25"/><circle cx="383.3" cy="613.3" r="1.25"/><circle cx="392.8" cy="602.4" r="1.25"/><circle cx="384.0" cy="617.4" r="1.25"/><circle cx="397.9" cy="629.7" r="1.25"/><circle cx="391.9" cy="600.0" r="1.25"/><circle cx="399.7" cy="593.7" r="1.25"/><circle cx="390.7" cy="600.5" r="1.25"/><circle cx="400.4" cy="596.7" r="1.25"/><circle cx="395.9" cy="583.1" r="1.25"/><circle cx="395.8" cy="631.0" r="1.25"/><circle cx="385.1" cy="600.3" r="1.25"/><circle cx="392.3" cy="583.0" r="1.25"/><circle cx="398.9" cy="631.4" r="1.25"/><circle cx="388.8" cy="630.2" r="1.25"/><circle cx="383.1" cy="623.9" r="1.25"/><circle cx="395.9" cy="591.3" r="1.25"/><circle cx="397.4" cy="618.7" r="1.25"/><circle cx="387.0" cy="587.6" r="1.25"/><circle cx="385.7" cy="580.5" r="1.25"/><circle cx="389.2" cy="576.1" r="1.25"/><circle cx="399.3" cy="581.0" r="1.25"/><circle cx="397.6" cy="588.5" r="1.25"/><circle cx="388.7" cy="576.6" r="1.25"/><circle cx="385.9" cy="631.6" r="1.25"/><circle cx="406.2" cy="575.7" r="1.25"/><circle cx="402.5" cy="604.5" r="1.25"/><circle cx="390.2" cy="611.2" r="1.25"/><circle cx="394.6" cy="593.8" r="1.25"/><circle cx="393.3" cy="615.5" r="1.25"/><circle cx="392.7" cy="584.9" r="1.25"/><circle cx="393.9" cy="611.7" r="1.25"/><circle cx="384.4" cy="600.4" r="1.25"/><circle cx="382.2" cy="580.7" r="1.25"/><circle cx="403.2" cy="581.4" r="1.25"/><circle cx="388.7" cy="582.3" r="1.25"/><circle cx="388.3" cy="626.2" r="1.25"/><circle cx="403.7" cy="591.4" r="1.25"/><circle cx="383.3" cy="577.9" r="1.25"/><circle cx="389.7" cy="588.7" r="1.25"/><circle cx="405.8" cy="621.1" r="1.25"/><circle cx="404.2" cy="625.4" r="1.25"/><circle cx="386.4" cy="593.1" r="1.25"/><circle cx="404.6" cy="603.5" r="1.25"/><circle cx="389.3" cy="595.6" r="1.25"/></g>
<path d="M392.95,571.4 L393.65,571.4 C393.83,572.77 394.02,575.95 394.7,579.6 C395.38,583.25 396.87,588.73 397.7,593.3 C398.53,597.87 399.27,602.1 399.7,607 C400.13,611.9 399.65,618.45 400.3,622.7 C400.95,626.95 402,629.57 403.6,632.5 C405.2,635.43 408.12,638.02 409.9,640.3 C411.68,642.58 413.4,644.47 414.3,646.2 C415.2,647.93 415.13,649.95 415.3,650.7 L371.3,650.7 C371.47,649.95 371.4,647.93 372.3,646.2 C373.2,644.47 374.92,642.58 376.7,640.3 C378.48,638.02 381.4,635.43 383,632.5 C384.6,629.57 385.65,626.95 386.3,622.7 C386.95,618.45 386.47,611.9 386.9,607 C387.33,602.1 388.07,597.87 388.9,593.3 C389.73,588.73 391.23,583.25 391.9,579.6 C392.58,575.95 392.77,572.77 392.95,571.4 Z" fill="none" stroke="#ff7f00" stroke-width="1.45" stroke-linejoin="round"/>
<path d="M393.3,640.9 L395.6,643.2 L393.3,645.5 L391,643.2 Z" fill="#fff" stroke="#000" stroke-width="1.15"/>
<g fill="#ff7f00" stroke="#ff7f00" stroke-width="0.5" fill-opacity="0.3" stroke-opacity="0.35"><circle cx="463.5" cy="619.0" r="1.25"/><circle cx="455.1" cy="604.0" r="1.25"/><circle cx="456.3" cy="618.8" r="1.25"/><circle cx="448.2" cy="613.4" r="1.25"/><circle cx="461.1" cy="621.7" r="1.25"/><circle cx="461.0" cy="599.7" r="1.25"/><circle cx="450.3" cy="607.5" r="1.25"/><circle cx="462.4" cy="626.8" r="1.25"/><circle cx="456.5" cy="619.7" r="1.25"/><circle cx="457.4" cy="620.4" r="1.25"/><circle cx="466.8" cy="626.4" r="1.25"/><circle cx="457.8" cy="606.8" r="1.25"/><circle cx="447.4" cy="607.3" r="1.25"/><circle cx="468.9" cy="614.6" r="1.25"/><circle cx="465.9" cy="615.0" r="1.25"/><circle cx="452.3" cy="626.7" r="1.25"/><circle cx="444.9" cy="606.9" r="1.25"/><circle cx="457.4" cy="597.6" r="1.25"/><circle cx="451.5" cy="622.0" r="1.25"/><circle cx="451.9" cy="614.4" r="1.25"/><circle cx="467.1" cy="608.8" r="1.25"/><circle cx="457.0" cy="614.0" r="1.25"/><circle cx="467.9" cy="619.3" r="1.25"/><circle cx="448.8" cy="616.9" r="1.25"/><circle cx="455.8" cy="614.8" r="1.25"/><circle cx="444.8" cy="602.8" r="1.25"/><circle cx="462.6" cy="609.7" r="1.25"/><circle cx="466.7" cy="618.3" r="1.25"/><circle cx="468.1" cy="607.0" r="1.25"/><circle cx="448.3" cy="601.8" r="1.25"/><circle cx="448.5" cy="622.9" r="1.25"/><circle cx="446.2" cy="602.0" r="1.25"/><circle cx="454.9" cy="621.2" r="1.25"/><circle cx="462.4" cy="600.3" r="1.25"/><circle cx="443.6" cy="602.6" r="1.25"/><circle cx="459.8" cy="597.4" r="1.25"/><circle cx="466.5" cy="614.1" r="1.25"/><circle cx="451.7" cy="625.5" r="1.25"/><circle cx="462.8" cy="614.2" r="1.25"/><circle cx="467.1" cy="622.2" r="1.25"/><circle cx="451.3" cy="606.4" r="1.25"/><circle cx="451.5" cy="625.4" r="1.25"/><circle cx="464.5" cy="598.8" r="1.25"/><circle cx="458.0" cy="620.6" r="1.25"/><circle cx="459.1" cy="615.5" r="1.25"/><circle cx="459.7" cy="611.6" r="1.25"/><circle cx="451.8" cy="612.1" r="1.25"/><circle cx="455.2" cy="624.3" r="1.25"/><circle cx="448.9" cy="608.4" r="1.25"/><circle cx="466.2" cy="602.6" r="1.25"/><circle cx="445.7" cy="612.6" r="1.25"/><circle cx="458.8" cy="598.9" r="1.25"/><circle cx="448.4" cy="618.6" r="1.25"/><circle cx="459.4" cy="622.1" r="1.25"/><circle cx="456.9" cy="619.3" r="1.25"/><circle cx="455.6" cy="610.7" r="1.25"/><circle cx="447.5" cy="612.3" r="1.25"/><circle cx="454.2" cy="603.4" r="1.25"/><circle cx="446.6" cy="598.4" r="1.25"/><circle cx="464.0" cy="601.9" r="1.25"/><circle cx="446.0" cy="650.7" r="1.25"/><circle cx="450.0" cy="650.7" r="1.25"/></g>
<path d="M450.7,591.5 L462.1,591.5 C462.65,591.83 464.43,592.68 465.4,593.5 C466.37,594.32 467.17,595 467.9,596.4 C468.63,597.8 468.62,600.25 469.8,601.9 C470.98,603.55 472.95,604.83 475,606.3 C477.05,607.77 480.33,609.25 482.1,610.7 C483.87,612.15 485.78,613.55 485.6,615 C485.42,616.45 483.87,617.57 481,619.4 C478.13,621.23 472.13,623.98 468.4,626 C464.67,628.02 460.5,630.05 458.6,631.5 C456.7,632.95 456.93,633.07 457,634.7 C457.07,636.33 458.33,639.25 459,641.3 C459.67,643.35 460.57,645.45 461,647 C461.43,648.55 461.5,650 461.6,650.6 L451.2,650.6 C451.3,650 451.37,648.55 451.8,647 C452.23,645.45 453.13,643.35 453.8,641.3 C454.47,639.25 455.73,636.33 455.8,634.7 C455.87,633.07 456.1,632.95 454.2,631.5 C452.3,630.05 448.13,628.02 444.4,626 C440.67,623.98 434.67,621.23 431.8,619.4 C428.93,617.57 427.38,616.45 427.2,615 C427.02,613.55 428.93,612.15 430.7,610.7 C432.47,609.25 435.75,607.77 437.8,606.3 C439.85,604.83 441.82,603.55 443,601.9 C444.18,600.25 444.17,597.8 444.9,596.4 C445.63,595 446.43,594.32 447.4,593.5 C448.37,592.68 450.15,591.83 450.7,591.5 Z" fill="none" stroke="#ff7f00" stroke-width="1.45" stroke-linejoin="round"/>
<path d="M456.4,612.2 L458.7,614.5 L456.4,616.8 L454.1,614.5 Z" fill="#fff" stroke="#000" stroke-width="1.15"/>
<g fill="#ff7f00" stroke="#ff7f00" stroke-width="0.5" fill-opacity="0.3" stroke-opacity="0.35"><circle cx="526.6" cy="642.9" r="1.25"/><circle cx="511.2" cy="642.9" r="1.25"/><circle cx="514.1" cy="642.9" r="1.25"/><circle cx="523.6" cy="642.9" r="1.25"/><circle cx="524.7" cy="642.9" r="1.25"/><circle cx="524.2" cy="621.6" r="1.25"/><circle cx="507.4" cy="618.5" r="1.25"/><circle cx="506.7" cy="613.6" r="1.25"/><circle cx="511.9" cy="601.1" r="1.25"/><circle cx="513.0" cy="604.8" r="1.25"/><circle cx="530.9" cy="590.1" r="1.25"/><circle cx="520.4" cy="617.9" r="1.25"/><circle cx="508.1" cy="610.9" r="1.25"/><circle cx="515.3" cy="615.4" r="1.25"/><circle cx="509.6" cy="626.6" r="1.25"/><circle cx="527.9" cy="611.8" r="1.25"/><circle cx="514.8" cy="605.5" r="1.25"/><circle cx="519.9" cy="607.9" r="1.25"/><circle cx="506.7" cy="608.2" r="1.25"/><circle cx="519.0" cy="625.1" r="1.25"/><circle cx="523.1" cy="613.9" r="1.25"/><circle cx="507.9" cy="607.9" r="1.25"/><circle cx="530.9" cy="610.1" r="1.25"/><circle cx="531.8" cy="613.3" r="1.25"/><circle cx="522.0" cy="608.2" r="1.25"/><circle cx="519.1" cy="615.7" r="1.25"/><circle cx="520.9" cy="614.7" r="1.25"/><circle cx="521.9" cy="605.2" r="1.25"/><circle cx="509.4" cy="622.8" r="1.25"/><circle cx="530.7" cy="611.9" r="1.25"/><circle cx="517.8" cy="624.6" r="1.25"/><circle cx="517.5" cy="612.8" r="1.25"/><circle cx="512.2" cy="593.5" r="1.25"/><circle cx="510.7" cy="605.2" r="1.25"/><circle cx="517.3" cy="591.1" r="1.25"/><circle cx="518.4" cy="583.6" r="1.25"/><circle cx="529.2" cy="615.6" r="1.25"/><circle cx="507.4" cy="595.7" r="1.25"/><circle cx="529.9" cy="621.7" r="1.25"/><circle cx="531.3" cy="598.4" r="1.25"/><circle cx="510.0" cy="603.3" r="1.25"/><circle cx="528.0" cy="608.5" r="1.25"/><circle cx="511.9" cy="618.1" r="1.25"/><circle cx="532.0" cy="609.1" r="1.25"/><circle cx="523.4" cy="588.2" r="1.25"/><circle cx="517.2" cy="593.0" r="1.25"/><circle cx="527.3" cy="593.6" r="1.25"/><circle cx="520.7" cy="616.2" r="1.25"/><circle cx="507.4" cy="611.0" r="1.25"/><circle cx="519.8" cy="613.7" r="1.25"/><circle cx="526.8" cy="614.9" r="1.25"/><circle cx="516.9" cy="608.3" r="1.25"/><circle cx="514.9" cy="601.0" r="1.25"/><circle cx="525.9" cy="610.5" r="1.25"/><circle cx="523.4" cy="601.5" r="1.25"/><circle cx="519.7" cy="609.7" r="1.25"/><circle cx="522.5" cy="586.4" r="1.25"/><circle cx="522.9" cy="591.1" r="1.25"/><circle cx="522.4" cy="599.6" r="1.25"/><circle cx="514.9" cy="607.0" r="1.25"/><circle cx="512.0" cy="610.6" r="1.25"/><circle cx="516.3" cy="597.8" r="1.25"/><circle cx="518.6" cy="626.4" r="1.25"/><circle cx="515.2" cy="614.5" r="1.25"/><circle cx="512.8" cy="600.8" r="1.25"/><circle cx="508.6" cy="617.6" r="1.25"/><circle cx="528.7" cy="606.8" r="1.25"/><circle cx="524.8" cy="615.6" r="1.25"/><circle cx="507.4" cy="614.6" r="1.25"/><circle cx="513.3" cy="611.6" r="1.25"/><circle cx="527.1" cy="606.3" r="1.25"/><circle cx="515.3" cy="588.5" r="1.25"/><circle cx="511.5" cy="613.9" r="1.25"/><circle cx="506.7" cy="605.8" r="1.25"/><circle cx="525.6" cy="622.9" r="1.25"/><circle cx="528.0" cy="571.4" r="1.25"/><circle cx="509.0" cy="650.7" r="1.25"/></g>
<path d="M519.25,571.4 L519.95,571.4 C520.46,572.77 521.51,576.6 523,579.6 C524.49,582.6 527.75,586.45 528.9,589.4 C530.05,592.35 528.77,594.68 529.9,597.3 C531.03,599.92 532.97,601.92 535.7,605.1 C538.43,608.28 546.45,613.15 546.3,616.4 C546.15,619.65 538.68,622.08 534.8,624.6 C530.92,627.12 525.48,629.87 523,631.5 C520.52,633.13 519.85,633.32 519.95,634.4 C520.05,635.48 522.59,636.7 523.6,638 C524.61,639.3 525.83,640.7 526,642.2 C526.17,643.7 525.38,645.58 524.6,647 C523.82,648.42 521.85,650.08 521.3,650.7 L517.9,650.7 C517.35,650.08 515.38,648.42 514.6,647 C513.82,645.58 513.03,643.7 513.2,642.2 C513.37,640.7 514.59,639.3 515.6,638 C516.61,636.7 519.15,635.48 519.25,634.4 C519.35,633.32 518.68,633.13 516.2,631.5 C513.73,629.87 508.28,627.12 504.4,624.6 C500.52,622.08 493.05,619.65 492.9,616.4 C492.75,613.15 500.77,608.28 503.5,605.1 C506.23,601.92 508.17,599.92 509.3,597.3 C510.43,594.68 509.15,592.35 510.3,589.4 C511.45,586.45 514.71,582.6 516.2,579.6 C517.69,576.6 518.74,572.77 519.25,571.4 Z" fill="none" stroke="#ff7f00" stroke-width="1.45" stroke-linejoin="round"/>
<path d="M519.6,611.2 L521.9,613.5 L519.6,615.8 L517.3,613.5 Z" fill="#fff" stroke="#000" stroke-width="1.15"/>
<g fill="#ff7f00" stroke="#ff7f00" stroke-width="0.5" fill-opacity="0.3" stroke-opacity="0.35"><circle cx="588.1" cy="571.4" r="1.25"/><circle cx="582.3" cy="571.4" r="1.25"/><circle cx="580.2" cy="571.4" r="1.25"/><circle cx="580.6" cy="571.4" r="1.25"/><circle cx="589.9" cy="642.9" r="1.25"/><circle cx="569.8" cy="642.9" r="1.25"/><circle cx="592.1" cy="642.9" r="1.25"/><circle cx="569.8" cy="642.9" r="1.25"/><circle cx="583.8" cy="650.7" r="1.25"/><circle cx="587.2" cy="650.7" r="1.25"/><circle cx="577.0" cy="650.7" r="1.25"/><circle cx="590.1" cy="650.7" r="1.25"/><circle cx="589.3" cy="614.9" r="1.25"/><circle cx="578.7" cy="607.8" r="1.25"/><circle cx="583.9" cy="586.2" r="1.25"/><circle cx="574.1" cy="599.9" r="1.25"/><circle cx="591.9" cy="619.0" r="1.25"/><circle cx="580.6" cy="605.2" r="1.25"/><circle cx="590.5" cy="604.0" r="1.25"/><circle cx="578.7" cy="615.2" r="1.25"/><circle cx="592.0" cy="622.9" r="1.25"/><circle cx="575.4" cy="631.7" r="1.25"/><circle cx="593.4" cy="617.7" r="1.25"/><circle cx="588.2" cy="616.5" r="1.25"/><circle cx="585.3" cy="620.0" r="1.25"/><circle cx="570.3" cy="579.1" r="1.25"/><circle cx="570.7" cy="625.4" r="1.25"/><circle cx="590.4" cy="607.0" r="1.25"/><circle cx="585.1" cy="628.3" r="1.25"/><circle cx="580.6" cy="609.8" r="1.25"/><circle cx="595.5" cy="616.5" r="1.25"/><circle cx="582.4" cy="630.7" r="1.25"/><circle cx="581.3" cy="609.3" r="1.25"/><circle cx="572.6" cy="605.3" r="1.25"/><circle cx="580.2" cy="596.0" r="1.25"/><circle cx="593.8" cy="623.6" r="1.25"/><circle cx="587.9" cy="620.6" r="1.25"/><circle cx="586.6" cy="614.1" r="1.25"/><circle cx="588.9" cy="602.3" r="1.25"/><circle cx="591.5" cy="614.4" r="1.25"/><circle cx="585.7" cy="583.0" r="1.25"/><circle cx="570.6" cy="609.9" r="1.25"/><circle cx="571.6" cy="614.0" r="1.25"/><circle cx="589.9" cy="581.4" r="1.25"/><circle cx="576.1" cy="621.3" r="1.25"/><circle cx="577.0" cy="613.8" r="1.25"/><circle cx="574.4" cy="602.1" r="1.25"/><circle cx="586.3" cy="595.6" r="1.25"/><circle cx="589.6" cy="578.5" r="1.25"/><circle cx="585.9" cy="615.8" r="1.25"/><circle cx="593.9" cy="619.1" r="1.25"/><circle cx="572.5" cy="597.8" r="1.25"/><circle cx="575.1" cy="619.0" r="1.25"/><circle cx="575.5" cy="615.2" r="1.25"/><circle cx="579.9" cy="594.3" r="1.25"/><circle cx="590.6" cy="625.8" r="1.25"/><circle cx="584.3" cy="610.8" r="1.25"/><circle cx="581.8" cy="605.6" r="1.25"/><circle cx="574.9" cy="597.0" r="1.25"/><circle cx="588.7" cy="614.6" r="1.25"/><circle cx="578.4" cy="609.2" r="1.25"/><circle cx="576.7" cy="606.3" r="1.25"/><circle cx="590.8" cy="590.2" r="1.25"/><circle cx="579.3" cy="625.3" r="1.25"/><circle cx="578.4" cy="589.8" r="1.25"/><circle cx="570.9" cy="607.4" r="1.25"/><circle cx="592.4" cy="592.8" r="1.25"/><circle cx="572.6" cy="580.3" r="1.25"/><circle cx="594.3" cy="605.9" r="1.25"/><circle cx="579.1" cy="589.7" r="1.25"/><circle cx="571.3" cy="622.3" r="1.25"/><circle cx="587.8" cy="592.6" r="1.25"/><circle cx="594.3" cy="616.9" r="1.25"/><circle cx="589.2" cy="601.6" r="1.25"/><circle cx="585.2" cy="598.6" r="1.25"/><circle cx="586.5" cy="601.6" r="1.25"/><circle cx="580.5" cy="606.0" r="1.25"/><circle cx="594.0" cy="597.4" r="1.25"/><circle cx="590.5" cy="588.9" r="1.25"/><circle cx="586.0" cy="615.0" r="1.25"/><circle cx="572.7" cy="626.1" r="1.25"/><circle cx="591.7" cy="605.8" r="1.25"/></g>
<path d="M581.3,571.4 L584.1,571.4 C584.15,572.12 583.65,573.67 584.4,575.7 C585.15,577.73 587.02,580.33 588.6,583.6 C590.18,586.87 592.28,591.4 593.9,595.3 C595.52,599.2 597.2,603.42 598.3,607 C599.4,610.58 601.15,613.53 600.5,616.8 C599.85,620.07 596.8,623.33 594.4,626.6 C592,629.87 587.28,633.13 586.1,636.4 C584.92,639.67 587.05,643.82 587.3,646.2 C587.55,648.58 587.55,649.95 587.6,650.7 L577.8,650.7 C577.85,649.95 577.85,648.58 578.1,646.2 C578.35,643.82 580.48,639.67 579.3,636.4 C578.12,633.13 573.4,629.87 571,626.6 C568.6,623.33 565.55,620.07 564.9,616.8 C564.25,613.53 566,610.58 567.1,607 C568.2,603.42 569.88,599.2 571.5,595.3 C573.12,591.4 575.22,586.87 576.8,583.6 C578.38,580.33 580.25,577.73 581,575.7 C581.75,573.67 581.25,572.12 581.3,571.4 Z" fill="none" stroke="#ff7f00" stroke-width="1.45" stroke-linejoin="round"/>
<path d="M582.7,609.2 L585,611.5 L582.7,613.8 L580.4,611.5 Z" fill="#fff" stroke="#000" stroke-width="1.15"/>
<g fill="#ffeeb0" stroke="#ea5a5c" stroke-width="0.55" fill-opacity="0.85" stroke-opacity="0.85"><circle cx="126.5" cy="734.8" r="1.2"/><circle cx="127.5" cy="734.8" r="1.2"/><circle cx="118.4" cy="734.8" r="1.2"/><circle cx="129.3" cy="734.8" r="1.2"/><circle cx="134.9" cy="734.8" r="1.2"/><circle cx="124.2" cy="734.8" r="1.2"/><circle cx="130.0" cy="734.8" r="1.2"/><circle cx="124.5" cy="734.8" r="1.2"/><circle cx="116.0" cy="742.6" r="1.2"/><circle cx="121.1" cy="742.6" r="1.2"/><circle cx="115.9" cy="742.6" r="1.2"/><circle cx="126.2" cy="742.6" r="1.2"/><circle cx="130.9" cy="742.6" r="1.2"/><circle cx="119.8" cy="742.6" r="1.2"/><circle cx="123.0" cy="742.6" r="1.2"/><circle cx="134.9" cy="742.6" r="1.2"/><circle cx="121.8" cy="742.6" r="1.2"/><circle cx="128.2" cy="742.6" r="1.2"/><circle cx="110.3" cy="742.6" r="1.2"/><circle cx="128.9" cy="742.6" r="1.2"/><circle cx="122.0" cy="742.6" r="1.2"/><circle cx="127.0" cy="742.6" r="1.2"/><circle cx="131.5" cy="742.6" r="1.2"/><circle cx="132.4" cy="742.6" r="1.2"/><circle cx="120.6" cy="742.6" r="1.2"/><circle cx="131.4" cy="742.6" r="1.2"/><circle cx="122.3" cy="742.6" r="1.2"/><circle cx="129.6" cy="742.6" r="1.2"/><circle cx="113.4" cy="721.8" r="1.2"/><circle cx="118.0" cy="707.1" r="1.2"/><circle cx="117.6" cy="695.7" r="1.2"/><circle cx="132.3" cy="703.6" r="1.2"/><circle cx="111.1" cy="711.1" r="1.2"/><circle cx="128.7" cy="711.4" r="1.2"/><circle cx="124.3" cy="717.3" r="1.2"/><circle cx="131.8" cy="705.9" r="1.2"/><circle cx="127.2" cy="713.1" r="1.2"/><circle cx="130.7" cy="722.1" r="1.2"/><circle cx="119.0" cy="710.7" r="1.2"/><circle cx="129.7" cy="705.3" r="1.2"/><circle cx="133.3" cy="713.8" r="1.2"/><circle cx="123.4" cy="715.2" r="1.2"/><circle cx="122.1" cy="716.4" r="1.2"/><circle cx="115.9" cy="693.7" r="1.2"/><circle cx="127.1" cy="709.3" r="1.2"/><circle cx="117.1" cy="717.7" r="1.2"/><circle cx="115.6" cy="714.3" r="1.2"/><circle cx="130.0" cy="715.0" r="1.2"/><circle cx="118.1" cy="724.1" r="1.2"/><circle cx="130.8" cy="714.9" r="1.2"/><circle cx="120.2" cy="704.1" r="1.2"/><circle cx="119.6" cy="724.4" r="1.2"/><circle cx="116.1" cy="710.7" r="1.2"/><circle cx="122.5" cy="689.4" r="1.2"/><circle cx="132.6" cy="712.1" r="1.2"/><circle cx="135.1" cy="684.3" r="1.2"/><circle cx="132.6" cy="711.2" r="1.2"/><circle cx="113.6" cy="714.2" r="1.2"/><circle cx="133.9" cy="716.7" r="1.2"/><circle cx="116.2" cy="704.1" r="1.2"/><circle cx="120.5" cy="695.2" r="1.2"/><circle cx="128.0" cy="720.9" r="1.2"/><circle cx="132.1" cy="690.7" r="1.2"/><circle cx="125.2" cy="719.8" r="1.2"/><circle cx="123.8" cy="712.1" r="1.2"/><circle cx="124.6" cy="712.9" r="1.2"/><circle cx="116.8" cy="693.6" r="1.2"/><circle cx="116.0" cy="721.1" r="1.2"/><circle cx="116.6" cy="708.1" r="1.2"/><circle cx="133.8" cy="714.2" r="1.2"/><circle cx="119.9" cy="688.6" r="1.2"/><circle cx="124.1" cy="711.6" r="1.2"/><circle cx="124.3" cy="717.4" r="1.2"/><circle cx="111.8" cy="707.6" r="1.2"/><circle cx="130.0" cy="711.2" r="1.2"/><circle cx="119.2" cy="712.5" r="1.2"/><circle cx="110.1" cy="701.6" r="1.2"/><circle cx="126.8" cy="703.7" r="1.2"/><circle cx="111.0" cy="718.8" r="1.2"/><circle cx="119.9" cy="708.7" r="1.2"/><circle cx="123.0" cy="706.3" r="1.2"/><circle cx="114.3" cy="711.7" r="1.2"/><circle cx="131.3" cy="714.5" r="1.2"/><circle cx="113.8" cy="710.6" r="1.2"/><circle cx="111.7" cy="721.9" r="1.2"/><circle cx="117.7" cy="691.3" r="1.2"/><circle cx="125.7" cy="723.6" r="1.2"/><circle cx="110.5" cy="681.9" r="1.2"/><circle cx="115.7" cy="719.7" r="1.2"/><circle cx="129.5" cy="702.7" r="1.2"/><circle cx="122.8" cy="712.8" r="1.2"/><circle cx="127.1" cy="703.2" r="1.2"/><circle cx="114.0" cy="707.8" r="1.2"/><circle cx="113.0" cy="704.4" r="1.2"/><circle cx="124.8" cy="705.6" r="1.2"/><circle cx="130.7" cy="701.8" r="1.2"/><circle cx="131.1" cy="710.6" r="1.2"/><circle cx="129.1" cy="720.0" r="1.2"/><circle cx="120.5" cy="712.3" r="1.2"/><circle cx="118.3" cy="695.9" r="1.2"/><circle cx="133.2" cy="706.6" r="1.2"/><circle cx="115.0" cy="705.8" r="1.2"/><circle cx="116.0" cy="705.1" r="1.2"/><circle cx="123.4" cy="685.3" r="1.2"/><circle cx="132.4" cy="704.9" r="1.2"/><circle cx="127.5" cy="693.5" r="1.2"/><circle cx="110.7" cy="713.6" r="1.2"/><circle cx="126.8" cy="707.2" r="1.2"/><circle cx="134.3" cy="711.7" r="1.2"/><circle cx="113.9" cy="708.0" r="1.2"/><circle cx="112.0" cy="723.7" r="1.2"/><circle cx="133.7" cy="714.1" r="1.2"/><circle cx="126.3" cy="718.3" r="1.2"/><circle cx="135.2" cy="684.0" r="1.2"/><circle cx="135.2" cy="707.5" r="1.2"/><circle cx="114.2" cy="706.5" r="1.2"/><circle cx="119.5" cy="702.8" r="1.2"/><circle cx="123.3" cy="702.6" r="1.2"/><circle cx="116.5" cy="711.5" r="1.2"/><circle cx="126.4" cy="716.5" r="1.2"/><circle cx="133.5" cy="715.3" r="1.2"/><circle cx="114.1" cy="697.3" r="1.2"/><circle cx="127.6" cy="714.1" r="1.2"/><circle cx="132.9" cy="691.0" r="1.2"/><circle cx="128.7" cy="698.1" r="1.2"/><circle cx="130.3" cy="698.5" r="1.2"/><circle cx="109.9" cy="706.8" r="1.2"/><circle cx="120.1" cy="708.6" r="1.2"/><circle cx="131.0" cy="672.0" r="1.2"/></g>
<path d="M122.15,671.6 L122.85,671.6 C122.94,673.23 122.56,678.13 123.4,681.4 C124.24,684.67 126.33,687.93 127.9,691.2 C129.47,694.47 130.88,697.42 132.8,701 C134.72,704.58 138.83,709.77 139.4,712.7 C139.97,715.63 138.03,716.63 136.2,718.6 C134.37,720.57 130.17,722.7 128.4,724.5 C126.63,726.3 125.68,727.45 125.6,729.4 C125.52,731.35 127.03,733.98 127.9,736.2 C128.77,738.42 130.32,741.62 130.8,742.7 L114.2,742.7 C114.68,741.62 116.23,738.42 117.1,736.2 C117.97,733.98 119.48,731.35 119.4,729.4 C119.32,727.45 118.37,726.3 116.6,724.5 C114.83,722.7 110.63,720.57 108.8,718.6 C106.97,716.63 105.03,715.63 105.6,712.7 C106.17,709.77 110.28,704.58 112.2,701 C114.12,697.42 115.53,694.47 117.1,691.2 C118.67,687.93 120.76,684.67 121.6,681.4 C122.44,678.13 122.06,673.23 122.15,671.6 Z" fill="none" stroke="#ec6366" stroke-width="1.2" stroke-linejoin="round"/>
<path d="M122.5,712.4 L124.8,714.7 L122.5,717 L120.2,714.7 Z" fill="#fff" stroke="#000" stroke-width="1.15"/>
<g fill="#ffeeb0" stroke="#ea5a5c" stroke-width="0.55" fill-opacity="0.85" stroke-opacity="0.85"><circle cx="174.1" cy="708.8" r="1.2"/><circle cx="179.9" cy="710.8" r="1.2"/><circle cx="192.5" cy="704.7" r="1.2"/><circle cx="186.6" cy="700.6" r="1.2"/><circle cx="181.7" cy="707.4" r="1.2"/><circle cx="176.7" cy="697.4" r="1.2"/><circle cx="192.9" cy="705.8" r="1.2"/><circle cx="177.1" cy="702.9" r="1.2"/><circle cx="176.4" cy="719.3" r="1.2"/><circle cx="176.4" cy="693.8" r="1.2"/><circle cx="195.8" cy="710.8" r="1.2"/><circle cx="182.4" cy="715.1" r="1.2"/><circle cx="191.3" cy="705.2" r="1.2"/><circle cx="182.2" cy="706.5" r="1.2"/><circle cx="177.8" cy="700.9" r="1.2"/><circle cx="187.4" cy="700.1" r="1.2"/><circle cx="190.0" cy="695.8" r="1.2"/><circle cx="173.6" cy="690.5" r="1.2"/><circle cx="195.4" cy="705.9" r="1.2"/><circle cx="188.3" cy="708.7" r="1.2"/><circle cx="180.2" cy="701.7" r="1.2"/><circle cx="195.8" cy="711.2" r="1.2"/><circle cx="186.4" cy="703.7" r="1.2"/><circle cx="182.6" cy="701.7" r="1.2"/><circle cx="179.3" cy="707.3" r="1.2"/><circle cx="194.6" cy="697.1" r="1.2"/><circle cx="178.3" cy="711.6" r="1.2"/><circle cx="189.0" cy="705.9" r="1.2"/><circle cx="183.3" cy="700.8" r="1.2"/><circle cx="190.9" cy="716.8" r="1.2"/><circle cx="191.0" cy="697.6" r="1.2"/><circle cx="184.0" cy="710.8" r="1.2"/><circle cx="182.5" cy="712.2" r="1.2"/><circle cx="186.4" cy="701.0" r="1.2"/><circle cx="197.1" cy="695.8" r="1.2"/><circle cx="192.5" cy="694.9" r="1.2"/><circle cx="193.8" cy="703.8" r="1.2"/><circle cx="197.5" cy="694.8" r="1.2"/><circle cx="181.1" cy="710.5" r="1.2"/><circle cx="195.9" cy="702.2" r="1.2"/><circle cx="190.1" cy="697.2" r="1.2"/><circle cx="186.6" cy="699.5" r="1.2"/><circle cx="193.5" cy="702.0" r="1.2"/><circle cx="185.0" cy="706.0" r="1.2"/><circle cx="190.7" cy="711.7" r="1.2"/><circle cx="186.4" cy="712.6" r="1.2"/><circle cx="180.1" cy="699.5" r="1.2"/><circle cx="184.5" cy="702.4" r="1.2"/><circle cx="191.2" cy="704.1" r="1.2"/><circle cx="194.5" cy="712.7" r="1.2"/><circle cx="174.2" cy="707.9" r="1.2"/><circle cx="191.3" cy="709.1" r="1.2"/><circle cx="173.3" cy="692.8" r="1.2"/><circle cx="196.1" cy="696.2" r="1.2"/><circle cx="185.1" cy="705.2" r="1.2"/><circle cx="191.9" cy="706.7" r="1.2"/><circle cx="185.8" cy="697.0" r="1.2"/><circle cx="196.6" cy="709.8" r="1.2"/><circle cx="186.6" cy="693.3" r="1.2"/><circle cx="190.1" cy="702.0" r="1.2"/><circle cx="181.8" cy="699.8" r="1.2"/><circle cx="185.2" cy="690.9" r="1.2"/><circle cx="181.0" cy="710.2" r="1.2"/><circle cx="187.0" cy="691.6" r="1.2"/><circle cx="193.3" cy="708.5" r="1.2"/><circle cx="187.1" cy="700.2" r="1.2"/><circle cx="194.6" cy="707.4" r="1.2"/><circle cx="185.8" cy="713.5" r="1.2"/><circle cx="182.1" cy="700.3" r="1.2"/><circle cx="180.8" cy="707.5" r="1.2"/><circle cx="194.2" cy="712.1" r="1.2"/><circle cx="191.3" cy="710.8" r="1.2"/><circle cx="189.3" cy="710.9" r="1.2"/><circle cx="196.8" cy="701.9" r="1.2"/><circle cx="190.1" cy="703.9" r="1.2"/><circle cx="180.9" cy="706.5" r="1.2"/><circle cx="194.0" cy="708.7" r="1.2"/><circle cx="189.4" cy="705.8" r="1.2"/><circle cx="184.1" cy="688.1" r="1.2"/><circle cx="186.8" cy="703.3" r="1.2"/><circle cx="194.1" cy="704.9" r="1.2"/><circle cx="190.8" cy="698.9" r="1.2"/><circle cx="175.6" cy="702.9" r="1.2"/><circle cx="195.1" cy="701.5" r="1.2"/><circle cx="195.6" cy="708.4" r="1.2"/><circle cx="183.5" cy="703.6" r="1.2"/><circle cx="194.2" cy="697.5" r="1.2"/><circle cx="187.3" cy="702.4" r="1.2"/><circle cx="182.8" cy="699.7" r="1.2"/><circle cx="189.1" cy="700.3" r="1.2"/><circle cx="175.6" cy="700.8" r="1.2"/><circle cx="191.5" cy="702.5" r="1.2"/><circle cx="187.1" cy="708.3" r="1.2"/><circle cx="182.6" cy="715.5" r="1.2"/><circle cx="194.2" cy="705.8" r="1.2"/><circle cx="180.2" cy="716.1" r="1.2"/><circle cx="175.5" cy="691.2" r="1.2"/><circle cx="189.6" cy="694.1" r="1.2"/><circle cx="179.2" cy="708.9" r="1.2"/><circle cx="173.1" cy="702.9" r="1.2"/><circle cx="186.9" cy="708.9" r="1.2"/><circle cx="181.1" cy="703.5" r="1.2"/><circle cx="183.6" cy="699.6" r="1.2"/><circle cx="192.5" cy="696.2" r="1.2"/><circle cx="191.3" cy="718.0" r="1.2"/><circle cx="198.0" cy="711.2" r="1.2"/><circle cx="174.7" cy="713.0" r="1.2"/><circle cx="177.2" cy="707.7" r="1.2"/><circle cx="197.9" cy="706.5" r="1.2"/><circle cx="178.3" cy="703.5" r="1.2"/><circle cx="193.5" cy="693.7" r="1.2"/><circle cx="191.6" cy="713.7" r="1.2"/><circle cx="184.6" cy="716.6" r="1.2"/><circle cx="196.1" cy="713.2" r="1.2"/><circle cx="187.8" cy="706.5" r="1.2"/><circle cx="185.2" cy="696.3" r="1.2"/><circle cx="176.5" cy="688.6" r="1.2"/><circle cx="196.1" cy="698.5" r="1.2"/><circle cx="177.3" cy="709.0" r="1.2"/><circle cx="176.2" cy="706.4" r="1.2"/><circle cx="192.7" cy="703.0" r="1.2"/><circle cx="197.2" cy="713.7" r="1.2"/><circle cx="175.6" cy="705.1" r="1.2"/><circle cx="196.9" cy="702.8" r="1.2"/><circle cx="185.2" cy="702.9" r="1.2"/><circle cx="181.3" cy="699.1" r="1.2"/><circle cx="185.6" cy="695.2" r="1.2"/><circle cx="178.1" cy="703.0" r="1.2"/><circle cx="181.5" cy="695.9" r="1.2"/><circle cx="194.5" cy="704.9" r="1.2"/><circle cx="183.9" cy="709.2" r="1.2"/><circle cx="180.1" cy="696.1" r="1.2"/><circle cx="173.7" cy="710.7" r="1.2"/><circle cx="173.4" cy="693.9" r="1.2"/><circle cx="177.7" cy="714.9" r="1.2"/><circle cx="187.5" cy="704.6" r="1.2"/><circle cx="176.1" cy="694.4" r="1.2"/><circle cx="183.4" cy="705.2" r="1.2"/><circle cx="192.7" cy="703.0" r="1.2"/><circle cx="194.3" cy="710.7" r="1.2"/><circle cx="177.0" cy="734.8" r="1.2"/><circle cx="192.0" cy="734.8" r="1.2"/><circle cx="198.0" cy="734.8" r="1.2"/><circle cx="182.0" cy="742.6" r="1.2"/><circle cx="188.0" cy="742.6" r="1.2"/><circle cx="191.0" cy="742.6" r="1.2"/></g>
<path d="M185.45,685.3 L186.15,685.3 C187.23,686.28 190.06,689.23 192.6,691.2 C195.14,693.17 198.13,695.13 201.4,697.1 C204.67,699.07 211.87,701.05 212.2,703 C212.53,704.95 206.5,706.53 203.4,708.8 C200.3,711.07 196.33,713.98 193.6,716.6 C190.87,719.22 188.02,721.88 187,724.5 C185.98,727.12 187.64,730.02 187.5,732.3 C187.36,734.58 185.87,736.47 186.15,738.2 C186.43,739.93 188.69,741.95 189.2,742.7 L182.4,742.7 C182.91,741.95 185.17,739.93 185.45,738.2 C185.73,736.47 184.24,734.58 184.1,732.3 C183.96,730.02 185.62,727.12 184.6,724.5 C183.58,721.88 180.73,719.22 178,716.6 C175.27,713.98 171.3,711.07 168.2,708.8 C165.1,706.53 159.07,704.95 159.4,703 C159.73,701.05 166.93,699.07 170.2,697.1 C173.47,695.13 176.46,693.17 179,691.2 C181.54,689.23 184.38,686.28 185.45,685.3 Z" fill="none" stroke="#ec6366" stroke-width="1.2" stroke-linejoin="round"/>
<path d="M185.8,703.2 L188.1,705.5 L185.8,707.8 L183.5,705.5 Z" fill="#fff" stroke="#000" stroke-width="1.15"/>
<g fill="#ffeeb0" stroke="#ea5a5c" stroke-width="0.55" fill-opacity="0.85" stroke-opacity="0.85"><circle cx="259.6" cy="734.8" r="1.2"/><circle cx="258.4" cy="734.8" r="1.2"/><circle cx="244.7" cy="734.8" r="1.2"/><circle cx="239.3" cy="734.8" r="1.2"/><circle cx="258.3" cy="734.8" r="1.2"/><circle cx="257.5" cy="734.8" r="1.2"/><circle cx="258.6" cy="734.8" r="1.2"/><circle cx="251.6" cy="742.6" r="1.2"/><circle cx="237.9" cy="742.6" r="1.2"/><circle cx="255.3" cy="742.6" r="1.2"/><circle cx="238.2" cy="742.6" r="1.2"/><circle cx="240.3" cy="742.6" r="1.2"/><circle cx="253.6" cy="742.6" r="1.2"/><circle cx="254.5" cy="742.6" r="1.2"/><circle cx="246.0" cy="742.6" r="1.2"/><circle cx="254.4" cy="742.6" r="1.2"/><circle cx="245.9" cy="742.6" r="1.2"/><circle cx="249.2" cy="742.6" r="1.2"/><circle cx="236.2" cy="742.6" r="1.2"/><circle cx="248.9" cy="742.6" r="1.2"/><circle cx="244.8" cy="742.6" r="1.2"/><circle cx="250.2" cy="742.6" r="1.2"/><circle cx="253.1" cy="742.6" r="1.2"/><circle cx="255.1" cy="742.6" r="1.2"/><circle cx="250.2" cy="742.6" r="1.2"/><circle cx="243.6" cy="707.7" r="1.2"/><circle cx="260.4" cy="710.6" r="1.2"/><circle cx="260.2" cy="700.8" r="1.2"/><circle cx="257.2" cy="713.3" r="1.2"/><circle cx="241.7" cy="702.3" r="1.2"/><circle cx="247.0" cy="696.7" r="1.2"/><circle cx="257.0" cy="713.3" r="1.2"/><circle cx="246.8" cy="700.0" r="1.2"/><circle cx="259.3" cy="708.1" r="1.2"/><circle cx="243.6" cy="710.1" r="1.2"/><circle cx="262.0" cy="711.9" r="1.2"/><circle cx="243.5" cy="706.0" r="1.2"/><circle cx="251.1" cy="708.6" r="1.2"/><circle cx="247.4" cy="693.5" r="1.2"/><circle cx="256.4" cy="695.7" r="1.2"/><circle cx="243.6" cy="703.8" r="1.2"/><circle cx="245.3" cy="707.3" r="1.2"/><circle cx="243.2" cy="717.0" r="1.2"/><circle cx="261.3" cy="697.5" r="1.2"/><circle cx="245.8" cy="700.1" r="1.2"/><circle cx="245.2" cy="691.2" r="1.2"/><circle cx="241.1" cy="713.4" r="1.2"/><circle cx="257.2" cy="698.0" r="1.2"/><circle cx="249.1" cy="693.1" r="1.2"/><circle cx="260.9" cy="707.8" r="1.2"/><circle cx="236.6" cy="696.8" r="1.2"/><circle cx="238.0" cy="710.8" r="1.2"/><circle cx="239.9" cy="707.7" r="1.2"/><circle cx="253.7" cy="692.8" r="1.2"/><circle cx="248.7" cy="704.8" r="1.2"/><circle cx="246.8" cy="699.8" r="1.2"/><circle cx="259.7" cy="708.0" r="1.2"/><circle cx="249.1" cy="721.5" r="1.2"/><circle cx="246.6" cy="696.3" r="1.2"/><circle cx="253.7" cy="708.6" r="1.2"/><circle cx="250.0" cy="709.3" r="1.2"/><circle cx="239.7" cy="708.5" r="1.2"/><circle cx="236.8" cy="689.6" r="1.2"/><circle cx="253.0" cy="697.4" r="1.2"/><circle cx="259.9" cy="709.2" r="1.2"/><circle cx="236.6" cy="709.6" r="1.2"/><circle cx="251.9" cy="696.6" r="1.2"/><circle cx="236.5" cy="717.9" r="1.2"/><circle cx="240.4" cy="711.9" r="1.2"/><circle cx="253.6" cy="698.5" r="1.2"/><circle cx="238.1" cy="713.9" r="1.2"/><circle cx="239.2" cy="703.0" r="1.2"/><circle cx="239.0" cy="693.9" r="1.2"/><circle cx="247.4" cy="703.5" r="1.2"/><circle cx="255.7" cy="714.8" r="1.2"/><circle cx="258.6" cy="703.4" r="1.2"/><circle cx="258.4" cy="718.0" r="1.2"/><circle cx="239.0" cy="711.8" r="1.2"/><circle cx="242.3" cy="702.6" r="1.2"/><circle cx="240.1" cy="706.5" r="1.2"/><circle cx="240.8" cy="700.0" r="1.2"/><circle cx="240.0" cy="694.1" r="1.2"/><circle cx="253.0" cy="711.2" r="1.2"/><circle cx="239.3" cy="710.3" r="1.2"/><circle cx="250.7" cy="705.7" r="1.2"/><circle cx="249.3" cy="718.8" r="1.2"/><circle cx="251.5" cy="701.3" r="1.2"/><circle cx="254.7" cy="704.3" r="1.2"/><circle cx="240.9" cy="711.0" r="1.2"/><circle cx="248.8" cy="697.4" r="1.2"/><circle cx="248.9" cy="700.7" r="1.2"/><circle cx="236.9" cy="707.9" r="1.2"/><circle cx="243.6" cy="692.2" r="1.2"/><circle cx="240.5" cy="707.9" r="1.2"/><circle cx="259.8" cy="704.6" r="1.2"/><circle cx="257.0" cy="701.9" r="1.2"/><circle cx="253.9" cy="699.0" r="1.2"/><circle cx="247.8" cy="705.0" r="1.2"/><circle cx="236.1" cy="709.4" r="1.2"/><circle cx="238.4" cy="714.1" r="1.2"/><circle cx="241.9" cy="697.8" r="1.2"/><circle cx="242.1" cy="707.7" r="1.2"/><circle cx="258.0" cy="708.3" r="1.2"/><circle cx="260.5" cy="708.9" r="1.2"/><circle cx="261.8" cy="720.6" r="1.2"/><circle cx="251.4" cy="715.7" r="1.2"/><circle cx="246.2" cy="696.4" r="1.2"/><circle cx="246.5" cy="706.7" r="1.2"/><circle cx="249.6" cy="716.3" r="1.2"/><circle cx="246.8" cy="700.0" r="1.2"/><circle cx="249.7" cy="700.1" r="1.2"/><circle cx="248.6" cy="703.6" r="1.2"/><circle cx="240.0" cy="710.1" r="1.2"/><circle cx="252.6" cy="686.2" r="1.2"/><circle cx="239.9" cy="706.5" r="1.2"/><circle cx="252.2" cy="698.5" r="1.2"/><circle cx="256.5" cy="718.2" r="1.2"/><circle cx="259.8" cy="711.7" r="1.2"/><circle cx="250.4" cy="717.4" r="1.2"/><circle cx="238.2" cy="711.3" r="1.2"/><circle cx="237.1" cy="697.6" r="1.2"/><circle cx="261.2" cy="702.1" r="1.2"/><circle cx="255.8" cy="711.0" r="1.2"/><circle cx="236.7" cy="712.1" r="1.2"/><circle cx="253.1" cy="710.4" r="1.2"/><circle cx="260.6" cy="701.4" r="1.2"/><circle cx="236.1" cy="694.7" r="1.2"/><circle cx="247.7" cy="718.2" r="1.2"/><circle cx="238.3" cy="696.4" r="1.2"/><circle cx="251.9" cy="704.6" r="1.2"/><circle cx="236.5" cy="707.4" r="1.2"/><circle cx="256.9" cy="695.8" r="1.2"/><circle cx="251.8" cy="694.8" r="1.2"/><circle cx="248.3" cy="716.5" r="1.2"/><circle cx="253.1" cy="707.6" r="1.2"/><circle cx="248.8" cy="715.2" r="1.2"/><circle cx="239.4" cy="712.6" r="1.2"/><circle cx="250.2" cy="712.5" r="1.2"/><circle cx="249.0" cy="720.6" r="1.2"/><circle cx="241.9" cy="715.0" r="1.2"/><circle cx="236.9" cy="695.2" r="1.2"/><circle cx="252.2" cy="703.3" r="1.2"/><circle cx="243.3" cy="694.8" r="1.2"/><circle cx="239.6" cy="695.6" r="1.2"/><circle cx="259.0" cy="715.8" r="1.2"/></g>
<path d="M248.65,685 L249.35,685 C249.86,685.72 250.91,687.62 252.4,689.3 C253.89,690.98 255.85,693.15 258.3,695.1 C260.75,697.05 264.7,698.88 267.1,701 C269.5,703.12 272.05,705.92 272.7,707.8 C273.35,709.68 272.12,711.1 271,712.3 C269.88,713.5 267.78,714.15 266,715 C264.22,715.85 262.38,716.48 260.3,717.4 C258.22,718.32 255.32,719.65 253.5,720.5 C251.68,721.35 250.04,720.95 249.35,722.5 C248.66,724.05 248.89,727.85 249.35,729.8 C249.81,731.75 251.06,732.73 252.1,734.2 C253.14,735.67 254.68,737.38 255.6,738.6 C256.52,739.82 257.18,740.82 257.6,741.5 C258.02,742.18 258.02,742.5 258.1,742.7 L239.9,742.7 C239.98,742.5 239.98,742.18 240.4,741.5 C240.82,740.82 241.48,739.82 242.4,738.6 C243.32,737.38 244.86,735.67 245.9,734.2 C246.94,732.73 248.19,731.75 248.65,729.8 C249.11,727.85 249.34,724.05 248.65,722.5 C247.96,720.95 246.32,721.35 244.5,720.5 C242.68,719.65 239.78,718.32 237.7,717.4 C235.62,716.48 233.78,715.85 232,715 C230.22,714.15 228.12,713.5 227,712.3 C225.88,711.1 224.65,709.68 225.3,707.8 C225.95,705.92 228.5,703.12 230.9,701 C233.3,698.88 237.25,697.05 239.7,695.1 C242.15,693.15 244.11,690.98 245.6,689.3 C247.09,687.62 248.14,685.72 248.65,685 Z" fill="none" stroke="#ec6366" stroke-width="1.2" stroke-linejoin="round"/>
<path d="M249,706.5 L251.3,708.8 L249,711.1 L246.7,708.8 Z" fill="#fff" stroke="#000" stroke-width="1.15"/>
<g fill="#ffeeb0" stroke="#ea5a5c" stroke-width="0.55" fill-opacity="0.85" stroke-opacity="0.85"><circle cx="324.4" cy="734.8" r="1.2"/><circle cx="325.2" cy="734.8" r="1.2"/><circle cx="301.4" cy="734.8" r="1.2"/><circle cx="323.4" cy="734.8" r="1.2"/><circle cx="299.6" cy="734.8" r="1.2"/><circle cx="317.9" cy="742.6" r="1.2"/><circle cx="322.2" cy="742.6" r="1.2"/><circle cx="317.9" cy="742.6" r="1.2"/><circle cx="318.4" cy="742.6" r="1.2"/><circle cx="323.2" cy="708.9" r="1.2"/><circle cx="299.3" cy="710.3" r="1.2"/><circle cx="312.8" cy="688.9" r="1.2"/><circle cx="305.6" cy="710.7" r="1.2"/><circle cx="317.3" cy="702.6" r="1.2"/><circle cx="316.9" cy="709.6" r="1.2"/><circle cx="308.8" cy="696.4" r="1.2"/><circle cx="309.5" cy="707.3" r="1.2"/><circle cx="306.6" cy="711.7" r="1.2"/><circle cx="302.9" cy="701.2" r="1.2"/><circle cx="301.5" cy="692.9" r="1.2"/><circle cx="323.4" cy="686.9" r="1.2"/><circle cx="305.9" cy="708.9" r="1.2"/><circle cx="321.7" cy="701.1" r="1.2"/><circle cx="311.7" cy="698.7" r="1.2"/><circle cx="300.1" cy="716.9" r="1.2"/><circle cx="302.8" cy="711.5" r="1.2"/><circle cx="311.5" cy="714.0" r="1.2"/><circle cx="315.9" cy="713.9" r="1.2"/><circle cx="321.6" cy="698.8" r="1.2"/><circle cx="305.1" cy="710.3" r="1.2"/><circle cx="317.0" cy="713.5" r="1.2"/><circle cx="304.8" cy="700.3" r="1.2"/><circle cx="310.4" cy="702.9" r="1.2"/><circle cx="324.6" cy="709.3" r="1.2"/><circle cx="314.6" cy="707.2" r="1.2"/><circle cx="301.5" cy="705.9" r="1.2"/><circle cx="300.8" cy="703.1" r="1.2"/><circle cx="322.2" cy="705.5" r="1.2"/><circle cx="317.8" cy="699.5" r="1.2"/><circle cx="313.6" cy="703.7" r="1.2"/><circle cx="307.2" cy="707.2" r="1.2"/><circle cx="306.4" cy="703.1" r="1.2"/><circle cx="299.4" cy="702.4" r="1.2"/><circle cx="300.0" cy="720.6" r="1.2"/><circle cx="308.9" cy="702.7" r="1.2"/><circle cx="307.1" cy="690.8" r="1.2"/><circle cx="301.5" cy="699.9" r="1.2"/><circle cx="316.4" cy="721.6" r="1.2"/><circle cx="314.2" cy="693.7" r="1.2"/><circle cx="323.7" cy="705.4" r="1.2"/><circle cx="301.4" cy="709.2" r="1.2"/><circle cx="321.7" cy="710.5" r="1.2"/><circle cx="315.7" cy="707.0" r="1.2"/><circle cx="325.0" cy="692.1" r="1.2"/><circle cx="312.1" cy="705.9" r="1.2"/><circle cx="317.0" cy="697.9" r="1.2"/><circle cx="320.0" cy="706.3" r="1.2"/><circle cx="322.3" cy="714.4" r="1.2"/><circle cx="311.4" cy="695.8" r="1.2"/><circle cx="320.3" cy="689.4" r="1.2"/><circle cx="299.9" cy="708.9" r="1.2"/><circle cx="308.2" cy="712.5" r="1.2"/><circle cx="302.6" cy="700.5" r="1.2"/><circle cx="305.8" cy="695.2" r="1.2"/><circle cx="317.0" cy="711.8" r="1.2"/><circle cx="324.3" cy="706.5" r="1.2"/><circle cx="303.3" cy="717.5" r="1.2"/><circle cx="314.1" cy="715.5" r="1.2"/><circle cx="300.4" cy="701.0" r="1.2"/><circle cx="320.8" cy="694.6" r="1.2"/><circle cx="300.4" cy="713.4" r="1.2"/><circle cx="316.0" cy="700.8" r="1.2"/><circle cx="323.1" cy="702.9" r="1.2"/><circle cx="317.1" cy="697.0" r="1.2"/><circle cx="309.7" cy="710.6" r="1.2"/><circle cx="307.8" cy="707.5" r="1.2"/><circle cx="303.9" cy="709.3" r="1.2"/><circle cx="312.9" cy="697.3" r="1.2"/><circle cx="322.9" cy="712.3" r="1.2"/><circle cx="305.7" cy="701.4" r="1.2"/><circle cx="304.5" cy="693.3" r="1.2"/><circle cx="322.8" cy="702.7" r="1.2"/><circle cx="312.3" cy="687.8" r="1.2"/><circle cx="306.2" cy="703.4" r="1.2"/><circle cx="324.3" cy="708.4" r="1.2"/><circle cx="321.4" cy="703.5" r="1.2"/><circle cx="323.4" cy="718.0" r="1.2"/><circle cx="301.2" cy="691.7" r="1.2"/><circle cx="323.1" cy="703.0" r="1.2"/><circle cx="317.0" cy="700.9" r="1.2"/><circle cx="316.7" cy="705.7" r="1.2"/><circle cx="303.9" cy="707.7" r="1.2"/><circle cx="313.4" cy="708.3" r="1.2"/><circle cx="307.6" cy="718.8" r="1.2"/><circle cx="311.4" cy="705.8" r="1.2"/><circle cx="302.9" cy="701.0" r="1.2"/><circle cx="313.2" cy="711.6" r="1.2"/><circle cx="307.3" cy="697.8" r="1.2"/><circle cx="309.8" cy="706.0" r="1.2"/><circle cx="324.3" cy="710.2" r="1.2"/><circle cx="314.9" cy="701.5" r="1.2"/><circle cx="321.9" cy="708.7" r="1.2"/><circle cx="305.6" cy="704.1" r="1.2"/><circle cx="325.2" cy="709.3" r="1.2"/><circle cx="315.5" cy="701.0" r="1.2"/><circle cx="309.6" cy="719.7" r="1.2"/><circle cx="303.2" cy="715.7" r="1.2"/><circle cx="310.2" cy="706.8" r="1.2"/><circle cx="322.1" cy="705.6" r="1.2"/><circle cx="303.7" cy="714.8" r="1.2"/><circle cx="314.1" cy="704.2" r="1.2"/><circle cx="315.3" cy="705.0" r="1.2"/><circle cx="306.9" cy="697.4" r="1.2"/><circle cx="321.4" cy="708.6" r="1.2"/><circle cx="322.1" cy="698.4" r="1.2"/><circle cx="316.4" cy="702.7" r="1.2"/><circle cx="317.2" cy="696.0" r="1.2"/><circle cx="303.2" cy="695.3" r="1.2"/><circle cx="325.3" cy="688.4" r="1.2"/></g>
<path d="M311.95,683.8 L312.65,683.8 C313.16,684.87 313.48,687.98 315.7,690.2 C317.92,692.42 321.75,694.97 326,697.1 C330.25,699.23 341.03,700.88 341.2,703 C341.37,705.12 330.27,707.53 327,709.8 C323.73,712.07 323.85,714.32 321.6,716.6 C319.35,718.88 314.87,721.22 313.5,723.5 C312.13,725.78 313.15,728.35 313.4,730.3 C313.65,732.25 314.73,733.58 315,735.2 C315.27,736.82 315.2,738.75 315,740 C314.8,741.25 314,742.25 313.8,742.7 L310.8,742.7 C310.6,742.25 309.8,741.25 309.6,740 C309.4,738.75 309.33,736.82 309.6,735.2 C309.87,733.58 310.95,732.25 311.2,730.3 C311.45,728.35 312.47,725.78 311.1,723.5 C309.73,721.22 305.25,718.88 303,716.6 C300.75,714.32 300.87,712.07 297.6,709.8 C294.33,707.53 283.23,705.12 283.4,703 C283.57,700.88 294.35,699.23 298.6,697.1 C302.85,694.97 306.68,692.42 308.9,690.2 C311.12,687.98 311.44,684.87 311.95,683.8 Z" fill="none" stroke="#ec6366" stroke-width="1.2" stroke-linejoin="round"/>
<path d="M312.3,701.6 L314.6,703.9 L312.3,706.2 L310,703.9 Z" fill="#fff" stroke="#000" stroke-width="1.15"/>
<rect x="84.5" y="199.4" width="265.7" height="86.7" fill="none" stroke="#8a8a8a" stroke-width="1"/>
<rect x="355.4" y="199.4" width="265.2" height="86.7" fill="none" stroke="#8a8a8a" stroke-width="1"/>
<rect x="84.5" y="291.5" width="265.7" height="86.7" fill="none" stroke="#8a8a8a" stroke-width="1"/>
<rect x="355.4" y="291.5" width="265.2" height="86.7" fill="none" stroke="#8a8a8a" stroke-width="1"/>
<rect x="84.5" y="383.6" width="265.7" height="86.7" fill="none" stroke="#8a8a8a" stroke-width="1"/>
<rect x="355.4" y="383.6" width="265.2" height="86.7" fill="none" stroke="#8a8a8a" stroke-width="1"/>
<rect x="84.5" y="475.7" width="265.7" height="86.7" fill="none" stroke="#8a8a8a" stroke-width="1"/>
<rect x="355.4" y="475.7" width="265.2" height="86.7" fill="none" stroke="#8a8a8a" stroke-width="1"/>
<rect x="84.5" y="567.8" width="265.7" height="86.7" fill="none" stroke="#8a8a8a" stroke-width="1"/>
<rect x="355.4" y="567.8" width="265.2" height="86.7" fill="none" stroke="#8a8a8a" stroke-width="1"/>
<rect x="84.5" y="659.9" width="265.7" height="86.7" fill="none" stroke="#8a8a8a" stroke-width="1"/>
<line x1="104.4" y1="798.5" x2="104.4" y2="876.6" stroke="#e9e9e9" stroke-width="0.9" stroke-dasharray="4.5,3.5"/>
<line x1="149" y1="798.5" x2="149" y2="876.6" stroke="#e9e9e9" stroke-width="0.9" stroke-dasharray="4.5,3.5"/>
<line x1="193.6" y1="798.5" x2="193.6" y2="876.6" stroke="#e9e9e9" stroke-width="0.9" stroke-dasharray="4.5,3.5"/>
<line x1="238.2" y1="798.5" x2="238.2" y2="876.6" stroke="#e9e9e9" stroke-width="0.9" stroke-dasharray="4.5,3.5"/>
<line x1="85.6" y1="798.5" x2="85.6" y2="877.1" stroke="#8c8c8c" stroke-width="1.2" />
<line x1="85.1" y1="876.6" x2="257.6" y2="876.6" stroke="#8c8c8c" stroke-width="1.2" />
<line x1="83.3" y1="802.4" x2="85.6" y2="802.4" stroke="#444" stroke-width="0.9" />
<text x="83" y="806.1" font-size="10.5" text-anchor="end" font-weight="normal" fill="#1a1a1a" >[&gt;2560]</text>
<line x1="83.3" y1="816.8" x2="85.6" y2="816.8" stroke="#444" stroke-width="0.9" />
<text x="83" y="820.5" font-size="10.5" text-anchor="end" font-weight="normal" fill="#1a1a1a" >1024</text>
<line x1="83.3" y1="837.4" x2="85.6" y2="837.4" stroke="#444" stroke-width="0.9" />
<text x="83" y="841.1" font-size="10.5" text-anchor="end" font-weight="normal" fill="#1a1a1a" >256</text>
<line x1="83.3" y1="859.8" x2="85.6" y2="859.8" stroke="#444" stroke-width="0.9" />
<text x="83" y="863.5" font-size="10.5" text-anchor="end" font-weight="normal" fill="#1a1a1a" >64</text>
<line x1="83.3" y1="868.6" x2="85.6" y2="868.6" stroke="#444" stroke-width="0.9" />
<text x="83" y="872.3" font-size="10.5" text-anchor="end" font-weight="normal" fill="#1a1a1a" >[&lt;40]</text>
<line x1="83.3" y1="875.2" x2="85.6" y2="875.2" stroke="#444" stroke-width="0.9" />
<text x="83" y="878.9" font-size="10.5" text-anchor="end" font-weight="normal" fill="#1a1a1a" >[0]</text>
<line x1="104.4" y1="876.6" x2="104.4" y2="879" stroke="#444" stroke-width="0.9" />
<line x1="149" y1="876.6" x2="149" y2="879" stroke="#444" stroke-width="0.9" />
<line x1="193.6" y1="876.6" x2="193.6" y2="879" stroke="#444" stroke-width="0.9" />
<line x1="238.2" y1="876.6" x2="238.2" y2="879" stroke="#444" stroke-width="0.9" />
<text x="84.1" y="887.2" font-size="10.95" text-anchor="start" font-weight="normal" fill="#1a1a1a" >Baseline</text>
<text x="131.5" y="887.2" font-size="10.95" text-anchor="start" font-weight="normal" fill="#1a1a1a" >Month 3</text>
<text x="176.1" y="887.2" font-size="10.95" text-anchor="start" font-weight="normal" fill="#1a1a1a" >Month 6</text>
<text x="220.1" y="887.2" font-size="10.95" text-anchor="start" font-weight="normal" fill="#1a1a1a" >Month 12</text>
<text x="171.2" y="797.6" font-size="12.9" text-anchor="middle" font-weight="normal" fill="#1a1a1a" >Wild-type</text>
<line x1="104.4" y1="820.4" x2="104.4" y2="837.23" stroke="#e41a1c" stroke-width="1.4" />
<line x1="102.8" y1="820.4" x2="106" y2="820.4" stroke="#e41a1c" stroke-width="1.4" />
<line x1="102.8" y1="837.23" x2="106" y2="837.23" stroke="#e41a1c" stroke-width="1.4" />
<line x1="149" y1="806.3" x2="149" y2="823.81" stroke="#e41a1c" stroke-width="1.4" />
<line x1="147.4" y1="806.3" x2="150.6" y2="806.3" stroke="#e41a1c" stroke-width="1.4" />
<line x1="147.4" y1="823.81" x2="150.6" y2="823.81" stroke="#e41a1c" stroke-width="1.4" />
<line x1="193.6" y1="811.8" x2="193.6" y2="824.72" stroke="#e41a1c" stroke-width="1.4" />
<line x1="192" y1="811.8" x2="195.2" y2="811.8" stroke="#e41a1c" stroke-width="1.4" />
<line x1="192" y1="824.72" x2="195.2" y2="824.72" stroke="#e41a1c" stroke-width="1.4" />
<line x1="238.2" y1="814.5" x2="238.2" y2="825.55" stroke="#e41a1c" stroke-width="1.4" />
<line x1="236.6" y1="814.5" x2="239.8" y2="814.5" stroke="#e41a1c" stroke-width="1.4" />
<line x1="236.6" y1="825.55" x2="239.8" y2="825.55" stroke="#e41a1c" stroke-width="1.4" />
<line x1="104.4" y1="840.5" x2="104.4" y2="853.1" stroke="#e41a1c" stroke-width="1.4" />
<line x1="102.8" y1="840.5" x2="106" y2="840.5" stroke="#e41a1c" stroke-width="1.4" />
<line x1="102.8" y1="853.1" x2="106" y2="853.1" stroke="#e41a1c" stroke-width="1.4" />
<line x1="149" y1="826.2" x2="149" y2="841.2" stroke="#e41a1c" stroke-width="1.4" />
<line x1="147.4" y1="826.2" x2="150.6" y2="826.2" stroke="#e41a1c" stroke-width="1.4" />
<line x1="147.4" y1="841.2" x2="150.6" y2="841.2" stroke="#e41a1c" stroke-width="1.4" />
<line x1="193.6" y1="826.9" x2="193.6" y2="841.9" stroke="#e41a1c" stroke-width="1.4" />
<line x1="192" y1="826.9" x2="195.2" y2="826.9" stroke="#e41a1c" stroke-width="1.4" />
<line x1="192" y1="841.9" x2="195.2" y2="841.9" stroke="#e41a1c" stroke-width="1.4" />
<line x1="238.2" y1="823.4" x2="238.2" y2="838.4" stroke="#e41a1c" stroke-width="1.4" />
<line x1="236.6" y1="823.4" x2="239.8" y2="823.4" stroke="#e41a1c" stroke-width="1.4" />
<line x1="236.6" y1="838.4" x2="239.8" y2="838.4" stroke="#e41a1c" stroke-width="1.4" />
<line x1="104.4" y1="840" x2="104.4" y2="853.1" stroke="#e41a1c" stroke-width="1.4" />
<line x1="102.8" y1="840" x2="106" y2="840" stroke="#e41a1c" stroke-width="1.4" />
<line x1="102.8" y1="853.1" x2="106" y2="853.1" stroke="#e41a1c" stroke-width="1.4" />
<line x1="149" y1="827.5" x2="149" y2="844.5" stroke="#e41a1c" stroke-width="1.4" />
<line x1="147.4" y1="827.5" x2="150.6" y2="827.5" stroke="#e41a1c" stroke-width="1.4" />
<line x1="147.4" y1="844.5" x2="150.6" y2="844.5" stroke="#e41a1c" stroke-width="1.4" />
<line x1="193.6" y1="834.2" x2="193.6" y2="847.7" stroke="#e41a1c" stroke-width="1.4" />
<line x1="192" y1="834.2" x2="195.2" y2="834.2" stroke="#e41a1c" stroke-width="1.4" />
<line x1="192" y1="847.7" x2="195.2" y2="847.7" stroke="#e41a1c" stroke-width="1.4" />
<line x1="238.2" y1="828" x2="238.2" y2="846" stroke="#e41a1c" stroke-width="1.4" />
<line x1="236.6" y1="828" x2="239.8" y2="828" stroke="#e41a1c" stroke-width="1.4" />
<line x1="236.6" y1="846" x2="239.8" y2="846" stroke="#e41a1c" stroke-width="1.4" />
<polyline points="104.4,830.3 149,816.6 193.6,819.4 238.2,821" fill="none" stroke="#e41a1c" stroke-width="1.5" stroke-dasharray="5.4,3.8"/>
<circle cx="104.4" cy="830.3" r="1.9" fill="#e41a1c"/>
<circle cx="149" cy="816.6" r="1.9" fill="#e41a1c"/>
<circle cx="193.6" cy="819.4" r="1.9" fill="#e41a1c"/>
<circle cx="238.2" cy="821" r="1.9" fill="#e41a1c"/>
<polyline points="104.4,848.5 149,834.2 193.6,834.9 238.2,831.4" fill="none" stroke="#e41a1c" stroke-width="1.5" />
<rect x="102.6" y="846.7" width="3.6" height="3.6" fill="#e41a1c"/>
<rect x="147.2" y="832.4" width="3.6" height="3.6" fill="#e41a1c"/>
<rect x="191.8" y="833.1" width="3.6" height="3.6" fill="#e41a1c"/>
<rect x="236.4" y="829.6" width="3.6" height="3.6" fill="#e41a1c"/>
<polyline points="104.4,847 149,834.5 193.6,841.2 238.2,835" fill="none" stroke="#e41a1c" stroke-width="1.5" stroke-dasharray="2.4,2.2"/>
<circle cx="104.4" cy="847" r="1.9" fill="#e41a1c"/>
<circle cx="149" cy="834.5" r="1.9" fill="#e41a1c"/>
<circle cx="193.6" cy="841.2" r="1.9" fill="#e41a1c"/>
<circle cx="238.2" cy="835" r="1.9" fill="#e41a1c"/>
<polygon points="104.40,810.95 104.99,812.49 106.63,812.57 105.35,813.61 105.78,815.20 104.40,814.30 103.02,815.20 103.45,813.61 102.17,812.57 103.81,812.49" fill="#111"/>
<polygon points="149.00,799.65 149.59,801.19 151.23,801.27 149.95,802.31 150.38,803.90 149.00,803.00 147.62,803.90 148.05,802.31 146.77,801.27 148.41,801.19" fill="#111"/>
<polygon points="190.90,803.75 191.49,805.29 193.13,805.37 191.85,806.41 192.28,808.00 190.90,807.10 189.52,808.00 189.95,806.41 188.67,805.37 190.31,805.29" fill="#111"/>
<polyline points="194.00,809.10 196.20,804.30 198.40,809.10" fill="none" stroke="#111" stroke-width="1.1"/>
<line x1="312.7" y1="798.5" x2="312.7" y2="876.6" stroke="#e9e9e9" stroke-width="0.9" stroke-dasharray="4.5,3.5"/>
<line x1="357.6" y1="798.5" x2="357.6" y2="876.6" stroke="#e9e9e9" stroke-width="0.9" stroke-dasharray="4.5,3.5"/>
<line x1="402.9" y1="798.5" x2="402.9" y2="876.6" stroke="#e9e9e9" stroke-width="0.9" stroke-dasharray="4.5,3.5"/>
<line x1="447.6" y1="798.5" x2="447.6" y2="876.6" stroke="#e9e9e9" stroke-width="0.9" stroke-dasharray="4.5,3.5"/>
<line x1="293.6" y1="798.5" x2="293.6" y2="877.1" stroke="#8c8c8c" stroke-width="1.2" />
<line x1="293.1" y1="876.6" x2="466" y2="876.6" stroke="#8c8c8c" stroke-width="1.2" />
<line x1="291.3" y1="802.4" x2="293.6" y2="802.4" stroke="#444" stroke-width="0.9" />
<text x="291" y="806.1" font-size="10.5" text-anchor="end" font-weight="normal" fill="#1a1a1a" >[&gt;2560]</text>
<line x1="291.3" y1="816.6" x2="293.6" y2="816.6" stroke="#444" stroke-width="0.9" />
<text x="291" y="820.3" font-size="10.5" text-anchor="end" font-weight="normal" fill="#1a1a1a" >1024</text>
<line x1="291.3" y1="837.4" x2="293.6" y2="837.4" stroke="#444" stroke-width="0.9" />
<text x="291" y="841.1" font-size="10.5" text-anchor="end" font-weight="normal" fill="#1a1a1a" >256</text>
<line x1="291.3" y1="859.6" x2="293.6" y2="859.6" stroke="#444" stroke-width="0.9" />
<text x="291" y="863.3" font-size="10.5" text-anchor="end" font-weight="normal" fill="#1a1a1a" >64</text>
<line x1="291.3" y1="868.4" x2="293.6" y2="868.4" stroke="#444" stroke-width="0.9" />
<text x="291" y="872.1" font-size="10.5" text-anchor="end" font-weight="normal" fill="#1a1a1a" >[&lt;40]</text>
<line x1="291.3" y1="875.6" x2="293.6" y2="875.6" stroke="#444" stroke-width="0.9" />
<text x="291" y="879.3" font-size="10.5" text-anchor="end" font-weight="normal" fill="#1a1a1a" >[0]</text>
<line x1="312.7" y1="876.6" x2="312.7" y2="879" stroke="#444" stroke-width="0.9" />
<line x1="357.6" y1="876.6" x2="357.6" y2="879" stroke="#444" stroke-width="0.9" />
<line x1="402.9" y1="876.6" x2="402.9" y2="879" stroke="#444" stroke-width="0.9" />
<line x1="447.6" y1="876.6" x2="447.6" y2="879" stroke="#444" stroke-width="0.9" />
<text x="292.7" y="887.2" font-size="10.95" text-anchor="start" font-weight="normal" fill="#1a1a1a" >Baseline</text>
<text x="340.1" y="887.2" font-size="10.95" text-anchor="start" font-weight="normal" fill="#1a1a1a" >Month 3</text>
<text x="384.7" y="887.2" font-size="10.95" text-anchor="start" font-weight="normal" fill="#1a1a1a" >Month 6</text>
<text x="428.1" y="887.2" font-size="10.95" text-anchor="start" font-weight="normal" fill="#1a1a1a" >Month 12</text>
<text x="382.6" y="797.8" font-size="12.9" text-anchor="middle" font-weight="normal" fill="#1a1a1a" >A.27</text>
<line x1="312.7" y1="820.3" x2="312.7" y2="859.4" stroke="#377eb8" stroke-width="1.4" />
<line x1="311.1" y1="820.3" x2="314.3" y2="820.3" stroke="#377eb8" stroke-width="1.4" />
<line x1="311.1" y1="859.4" x2="314.3" y2="859.4" stroke="#377eb8" stroke-width="1.4" />
<line x1="357.6" y1="811.3" x2="357.6" y2="830.85" stroke="#377eb8" stroke-width="1.4" />
<line x1="356" y1="811.3" x2="359.2" y2="811.3" stroke="#377eb8" stroke-width="1.4" />
<line x1="356" y1="830.85" x2="359.2" y2="830.85" stroke="#377eb8" stroke-width="1.4" />
<line x1="402.9" y1="818.2" x2="402.9" y2="834.69" stroke="#377eb8" stroke-width="1.4" />
<line x1="401.3" y1="818.2" x2="404.5" y2="818.2" stroke="#377eb8" stroke-width="1.4" />
<line x1="401.3" y1="834.69" x2="404.5" y2="834.69" stroke="#377eb8" stroke-width="1.4" />
<line x1="447.6" y1="808.5" x2="447.6" y2="840.29" stroke="#377eb8" stroke-width="1.4" />
<line x1="446" y1="808.5" x2="449.2" y2="808.5" stroke="#377eb8" stroke-width="1.4" />
<line x1="446" y1="840.29" x2="449.2" y2="840.29" stroke="#377eb8" stroke-width="1.4" />
<line x1="312.7" y1="860" x2="312.7" y2="873.1" stroke="#377eb8" stroke-width="1.4" />
<line x1="311.1" y1="860" x2="314.3" y2="860" stroke="#377eb8" stroke-width="1.4" />
<line x1="311.1" y1="873.1" x2="314.3" y2="873.1" stroke="#377eb8" stroke-width="1.4" />
<line x1="357.6" y1="840.9" x2="357.6" y2="855.9" stroke="#377eb8" stroke-width="1.4" />
<line x1="356" y1="840.9" x2="359.2" y2="840.9" stroke="#377eb8" stroke-width="1.4" />
<line x1="356" y1="855.9" x2="359.2" y2="855.9" stroke="#377eb8" stroke-width="1.4" />
<line x1="402.9" y1="839.1" x2="402.9" y2="854.1" stroke="#377eb8" stroke-width="1.4" />
<line x1="401.3" y1="839.1" x2="404.5" y2="839.1" stroke="#377eb8" stroke-width="1.4" />
<line x1="401.3" y1="854.1" x2="404.5" y2="854.1" stroke="#377eb8" stroke-width="1.4" />
<line x1="447.6" y1="836.3" x2="447.6" y2="851.3" stroke="#377eb8" stroke-width="1.4" />
<line x1="446" y1="836.3" x2="449.2" y2="836.3" stroke="#377eb8" stroke-width="1.4" />
<line x1="446" y1="851.3" x2="449.2" y2="851.3" stroke="#377eb8" stroke-width="1.4" />
<line x1="312.7" y1="858.5" x2="312.7" y2="873.1" stroke="#377eb8" stroke-width="1.4" />
<line x1="311.1" y1="858.5" x2="314.3" y2="858.5" stroke="#377eb8" stroke-width="1.4" />
<line x1="311.1" y1="873.1" x2="314.3" y2="873.1" stroke="#377eb8" stroke-width="1.4" />
<line x1="357.6" y1="833.7" x2="357.6" y2="864.7" stroke="#377eb8" stroke-width="1.4" />
<line x1="356" y1="833.7" x2="359.2" y2="833.7" stroke="#377eb8" stroke-width="1.4" />
<line x1="356" y1="864.7" x2="359.2" y2="864.7" stroke="#377eb8" stroke-width="1.4" />
<line x1="402.9" y1="837.3" x2="402.9" y2="866.2" stroke="#377eb8" stroke-width="1.4" />
<line x1="401.3" y1="837.3" x2="404.5" y2="837.3" stroke="#377eb8" stroke-width="1.4" />
<line x1="401.3" y1="866.2" x2="404.5" y2="866.2" stroke="#377eb8" stroke-width="1.4" />
<line x1="447.6" y1="827.3" x2="447.6" y2="864.2" stroke="#377eb8" stroke-width="1.4" />
<line x1="446" y1="827.3" x2="449.2" y2="827.3" stroke="#377eb8" stroke-width="1.4" />
<line x1="446" y1="864.2" x2="449.2" y2="864.2" stroke="#377eb8" stroke-width="1.4" />
<polyline points="312.7,843.3 357.6,822.8 402.9,827.9 447.6,827.2" fill="none" stroke="#377eb8" stroke-width="1.5" stroke-dasharray="5.4,3.8"/>
<circle cx="312.7" cy="843.3" r="1.9" fill="#377eb8"/>
<circle cx="357.6" cy="822.8" r="1.9" fill="#377eb8"/>
<circle cx="402.9" cy="827.9" r="1.9" fill="#377eb8"/>
<circle cx="447.6" cy="827.2" r="1.9" fill="#377eb8"/>
<polyline points="312.7,868 357.6,848.9 402.9,847.1 447.6,844.3" fill="none" stroke="#377eb8" stroke-width="1.5" />
<rect x="310.9" y="866.2" width="3.6" height="3.6" fill="#377eb8"/>
<rect x="355.8" y="847.1" width="3.6" height="3.6" fill="#377eb8"/>
<rect x="401.1" y="845.3" width="3.6" height="3.6" fill="#377eb8"/>
<rect x="445.8" y="842.5" width="3.6" height="3.6" fill="#377eb8"/>
<polyline points="312.7,865.5 357.6,840.7 402.9,844.3 447.6,834.3" fill="none" stroke="#377eb8" stroke-width="1.5" stroke-dasharray="2.4,2.2"/>
<circle cx="312.7" cy="865.5" r="1.9" fill="#377eb8"/>
<circle cx="357.6" cy="840.7" r="1.9" fill="#377eb8"/>
<circle cx="402.9" cy="844.3" r="1.9" fill="#377eb8"/>
<circle cx="447.6" cy="834.3" r="1.9" fill="#377eb8"/>
<polygon points="310.00,810.75 310.59,812.29 312.23,812.37 310.95,813.41 311.38,815.00 310.00,814.10 308.62,815.00 309.05,813.41 307.77,812.37 309.41,812.29" fill="#111"/>
<polyline points="313.10,816.10 315.30,811.30 317.50,816.10" fill="none" stroke="#111" stroke-width="1.1"/>
<polygon points="354.90,804.35 355.49,805.89 357.13,805.97 355.85,807.01 356.28,808.60 354.90,807.70 353.52,808.60 353.95,807.01 352.67,805.97 354.31,805.89" fill="#111"/>
<polyline points="358.00,809.70 360.20,804.90 362.40,809.70" fill="none" stroke="#111" stroke-width="1.1"/>
<polygon points="402.90,808.95 403.49,810.49 405.13,810.57 403.85,811.61 404.28,813.20 402.90,812.30 401.52,813.20 401.95,811.61 400.67,810.57 402.31,810.49" fill="#111"/>
<polygon points="447.60,800.55 448.19,802.09 449.83,802.17 448.55,803.21 448.98,804.80 447.60,803.90 446.22,804.80 446.65,803.21 445.37,802.17 447.01,802.09" fill="#111"/>
<line x1="522.9" y1="798.5" x2="522.9" y2="876.6" stroke="#e9e9e9" stroke-width="0.9" stroke-dasharray="4.5,3.5"/>
<line x1="568.2" y1="798.5" x2="568.2" y2="876.6" stroke="#e9e9e9" stroke-width="0.9" stroke-dasharray="4.5,3.5"/>
<line x1="612.9" y1="798.5" x2="612.9" y2="876.6" stroke="#e9e9e9" stroke-width="0.9" stroke-dasharray="4.5,3.5"/>
<line x1="657.6" y1="798.5" x2="657.6" y2="876.6" stroke="#e9e9e9" stroke-width="0.9" stroke-dasharray="4.5,3.5"/>
<line x1="503.7" y1="798.5" x2="503.7" y2="877.1" stroke="#8c8c8c" stroke-width="1.2" />
<line x1="503.2" y1="876.6" x2="676" y2="876.6" stroke="#8c8c8c" stroke-width="1.2" />
<line x1="501.4" y1="802.4" x2="503.7" y2="802.4" stroke="#444" stroke-width="0.9" />
<text x="501.1" y="806.1" font-size="10.5" text-anchor="end" font-weight="normal" fill="#1a1a1a" >[&gt;2560]</text>
<line x1="501.4" y1="816.6" x2="503.7" y2="816.6" stroke="#444" stroke-width="0.9" />
<text x="501.1" y="820.3" font-size="10.5" text-anchor="end" font-weight="normal" fill="#1a1a1a" >1024</text>
<line x1="501.4" y1="837.4" x2="503.7" y2="837.4" stroke="#444" stroke-width="0.9" />
<text x="501.1" y="841.1" font-size="10.5" text-anchor="end" font-weight="normal" fill="#1a1a1a" >256</text>
<line x1="501.4" y1="859.6" x2="503.7" y2="859.6" stroke="#444" stroke-width="0.9" />
<text x="501.1" y="863.3" font-size="10.5" text-anchor="end" font-weight="normal" fill="#1a1a1a" >64</text>
<line x1="501.4" y1="868.4" x2="503.7" y2="868.4" stroke="#444" stroke-width="0.9" />
<text x="501.1" y="872.1" font-size="10.5" text-anchor="end" font-weight="normal" fill="#1a1a1a" >[&lt;40]</text>
<line x1="501.4" y1="875.6" x2="503.7" y2="875.6" stroke="#444" stroke-width="0.9" />
<text x="501.1" y="879.3" font-size="10.5" text-anchor="end" font-weight="normal" fill="#1a1a1a" >0</text>
<line x1="522.9" y1="876.6" x2="522.9" y2="879" stroke="#444" stroke-width="0.9" />
<line x1="568.2" y1="876.6" x2="568.2" y2="879" stroke="#444" stroke-width="0.9" />
<line x1="612.9" y1="876.6" x2="612.9" y2="879" stroke="#444" stroke-width="0.9" />
<line x1="657.6" y1="876.6" x2="657.6" y2="879" stroke="#444" stroke-width="0.9" />
<text x="502.7" y="887.2" font-size="10.95" text-anchor="start" font-weight="normal" fill="#1a1a1a" >Baseline</text>
<text x="550.1" y="887.2" font-size="10.95" text-anchor="start" font-weight="normal" fill="#1a1a1a" >Month 3</text>
<text x="594.6" y="887.2" font-size="10.95" text-anchor="start" font-weight="normal" fill="#1a1a1a" >Month 6</text>
<text x="637.9" y="887.2" font-size="10.95" text-anchor="start" font-weight="normal" fill="#1a1a1a" >Month 12</text>
<text x="594.2" y="798" font-size="12.9" text-anchor="middle" font-weight="normal" fill="#1a1a1a" >Eta</text>
<line x1="522.9" y1="822.6" x2="522.9" y2="849.97" stroke="#4daf4a" stroke-width="1.4" />
<line x1="521.3" y1="822.6" x2="524.5" y2="822.6" stroke="#4daf4a" stroke-width="1.4" />
<line x1="521.3" y1="849.97" x2="524.5" y2="849.97" stroke="#4daf4a" stroke-width="1.4" />
<line x1="568.2" y1="810" x2="568.2" y2="825.3" stroke="#4daf4a" stroke-width="1.4" />
<line x1="566.6" y1="810" x2="569.8" y2="810" stroke="#4daf4a" stroke-width="1.4" />
<line x1="566.6" y1="825.3" x2="569.8" y2="825.3" stroke="#4daf4a" stroke-width="1.4" />
<line x1="612.9" y1="818.2" x2="612.9" y2="829.93" stroke="#4daf4a" stroke-width="1.4" />
<line x1="611.3" y1="818.2" x2="614.5" y2="818.2" stroke="#4daf4a" stroke-width="1.4" />
<line x1="611.3" y1="829.93" x2="614.5" y2="829.93" stroke="#4daf4a" stroke-width="1.4" />
<line x1="657.6" y1="818.2" x2="657.6" y2="832.14" stroke="#4daf4a" stroke-width="1.4" />
<line x1="656" y1="818.2" x2="659.2" y2="818.2" stroke="#4daf4a" stroke-width="1.4" />
<line x1="656" y1="832.14" x2="659.2" y2="832.14" stroke="#4daf4a" stroke-width="1.4" />
<line x1="522.9" y1="858.2" x2="522.9" y2="872.6" stroke="#4daf4a" stroke-width="1.4" />
<line x1="521.3" y1="858.2" x2="524.5" y2="858.2" stroke="#4daf4a" stroke-width="1.4" />
<line x1="521.3" y1="872.6" x2="524.5" y2="872.6" stroke="#4daf4a" stroke-width="1.4" />
<line x1="568.2" y1="835.3" x2="568.2" y2="850.2" stroke="#4daf4a" stroke-width="1.4" />
<line x1="566.6" y1="835.3" x2="569.8" y2="835.3" stroke="#4daf4a" stroke-width="1.4" />
<line x1="566.6" y1="850.2" x2="569.8" y2="850.2" stroke="#4daf4a" stroke-width="1.4" />
<line x1="612.9" y1="835" x2="612.9" y2="848.9" stroke="#4daf4a" stroke-width="1.4" />
<line x1="611.3" y1="835" x2="614.5" y2="835" stroke="#4daf4a" stroke-width="1.4" />
<line x1="611.3" y1="848.9" x2="614.5" y2="848.9" stroke="#4daf4a" stroke-width="1.4" />
<line x1="657.6" y1="830.1" x2="657.6" y2="845.1" stroke="#4daf4a" stroke-width="1.4" />
<line x1="656" y1="830.1" x2="659.2" y2="830.1" stroke="#4daf4a" stroke-width="1.4" />
<line x1="656" y1="845.1" x2="659.2" y2="845.1" stroke="#4daf4a" stroke-width="1.4" />
<line x1="522.9" y1="843.9" x2="522.9" y2="872.6" stroke="#4daf4a" stroke-width="1.4" />
<line x1="521.3" y1="843.9" x2="524.5" y2="843.9" stroke="#4daf4a" stroke-width="1.4" />
<line x1="521.3" y1="872.6" x2="524.5" y2="872.6" stroke="#4daf4a" stroke-width="1.4" />
<line x1="568.2" y1="829.6" x2="568.2" y2="850.2" stroke="#4daf4a" stroke-width="1.4" />
<line x1="566.6" y1="829.6" x2="569.8" y2="829.6" stroke="#4daf4a" stroke-width="1.4" />
<line x1="566.6" y1="850.2" x2="569.8" y2="850.2" stroke="#4daf4a" stroke-width="1.4" />
<line x1="612.9" y1="830.9" x2="612.9" y2="848.9" stroke="#4daf4a" stroke-width="1.4" />
<line x1="611.3" y1="830.9" x2="614.5" y2="830.9" stroke="#4daf4a" stroke-width="1.4" />
<line x1="611.3" y1="848.9" x2="614.5" y2="848.9" stroke="#4daf4a" stroke-width="1.4" />
<line x1="657.6" y1="828.3" x2="657.6" y2="848.4" stroke="#4daf4a" stroke-width="1.4" />
<line x1="656" y1="828.3" x2="659.2" y2="828.3" stroke="#4daf4a" stroke-width="1.4" />
<line x1="656" y1="848.4" x2="659.2" y2="848.4" stroke="#4daf4a" stroke-width="1.4" />
<polyline points="522.9,838.7 568.2,819 612.9,825.1 657.6,826.4" fill="none" stroke="#4daf4a" stroke-width="1.5" stroke-dasharray="5.4,3.8"/>
<circle cx="522.9" cy="838.7" r="1.9" fill="#4daf4a"/>
<circle cx="568.2" cy="819" r="1.9" fill="#4daf4a"/>
<circle cx="612.9" cy="825.1" r="1.9" fill="#4daf4a"/>
<circle cx="657.6" cy="826.4" r="1.9" fill="#4daf4a"/>
<polyline points="522.9,866.2 568.2,843.3 612.9,843 657.6,838.1" fill="none" stroke="#4daf4a" stroke-width="1.5" />
<rect x="521.1" y="864.4" width="3.6" height="3.6" fill="#4daf4a"/>
<rect x="566.4" y="841.5" width="3.6" height="3.6" fill="#4daf4a"/>
<rect x="611.1" y="841.2" width="3.6" height="3.6" fill="#4daf4a"/>
<rect x="655.8" y="836.3" width="3.6" height="3.6" fill="#4daf4a"/>
<polyline points="522.9,850.9 568.2,836.6 612.9,837.9 657.6,835.3" fill="none" stroke="#4daf4a" stroke-width="1.5" stroke-dasharray="2.4,2.2"/>
<circle cx="522.9" cy="850.9" r="1.9" fill="#4daf4a"/>
<circle cx="568.2" cy="836.6" r="1.9" fill="#4daf4a"/>
<circle cx="612.9" cy="837.9" r="1.9" fill="#4daf4a"/>
<circle cx="657.6" cy="835.3" r="1.9" fill="#4daf4a"/>
<polygon points="520.20,813.85 520.79,815.39 522.43,815.47 521.15,816.51 521.58,818.10 520.20,817.20 518.82,818.10 519.25,816.51 517.97,815.47 519.61,815.39" fill="#111"/>
<polyline points="523.30,819.20 525.50,814.40 527.70,819.20" fill="none" stroke="#111" stroke-width="1.1"/>
<polygon points="565.50,801.85 566.09,803.39 567.73,803.47 566.45,804.51 566.88,806.10 565.50,805.20 564.12,806.10 564.55,804.51 563.27,803.47 564.91,803.39" fill="#111"/>
<polyline points="568.60,807.20 570.80,802.40 573.00,807.20" fill="none" stroke="#111" stroke-width="1.1"/>
<polygon points="612.90,809.45 613.49,810.99 615.13,811.07 613.85,812.11 614.28,813.70 612.90,812.80 611.52,813.70 611.95,812.11 610.67,811.07 612.31,810.99" fill="#111"/>
<polygon points="657.60,809.45 658.19,810.99 659.83,811.07 658.55,812.11 658.98,813.70 657.60,812.80 656.22,813.70 656.65,812.11 655.37,811.07 657.01,810.99" fill="#111"/>
<line x1="104.4" y1="901" x2="104.4" y2="979" stroke="#e9e9e9" stroke-width="0.9" stroke-dasharray="4.5,3.5"/>
<line x1="149" y1="901" x2="149" y2="979" stroke="#e9e9e9" stroke-width="0.9" stroke-dasharray="4.5,3.5"/>
<line x1="193.6" y1="901" x2="193.6" y2="979" stroke="#e9e9e9" stroke-width="0.9" stroke-dasharray="4.5,3.5"/>
<line x1="238.2" y1="901" x2="238.2" y2="979" stroke="#e9e9e9" stroke-width="0.9" stroke-dasharray="4.5,3.5"/>
<line x1="85.6" y1="901" x2="85.6" y2="979.5" stroke="#8c8c8c" stroke-width="1.2" />
<line x1="85.1" y1="979" x2="257.6" y2="979" stroke="#8c8c8c" stroke-width="1.2" />
<line x1="83.3" y1="905" x2="85.6" y2="905" stroke="#444" stroke-width="0.9" />
<text x="83" y="908.7" font-size="10.5" text-anchor="end" font-weight="normal" fill="#1a1a1a" >[&gt;2560]</text>
<line x1="83.3" y1="919.8" x2="85.6" y2="919.8" stroke="#444" stroke-width="0.9" />
<text x="83" y="923.5" font-size="10.5" text-anchor="end" font-weight="normal" fill="#1a1a1a" >1024</text>
<line x1="83.3" y1="940.8" x2="85.6" y2="940.8" stroke="#444" stroke-width="0.9" />
<text x="83" y="944.5" font-size="10.5" text-anchor="end" font-weight="normal" fill="#1a1a1a" >256</text>
<line x1="83.3" y1="962.6" x2="85.6" y2="962.6" stroke="#444" stroke-width="0.9" />
<text x="83" y="966.3" font-size="10.5" text-anchor="end" font-weight="normal" fill="#1a1a1a" >64</text>
<line x1="83.3" y1="970.4" x2="85.6" y2="970.4" stroke="#444" stroke-width="0.9" />
<text x="83" y="974.1" font-size="10.5" text-anchor="end" font-weight="normal" fill="#1a1a1a" >[&lt;40]</text>
<line x1="83.3" y1="977.5" x2="85.6" y2="977.5" stroke="#444" stroke-width="0.9" />
<text x="83" y="981.2" font-size="10.5" text-anchor="end" font-weight="normal" fill="#1a1a1a" >[0]</text>
<line x1="104.4" y1="979" x2="104.4" y2="981.4" stroke="#444" stroke-width="0.9" />
<line x1="149" y1="979" x2="149" y2="981.4" stroke="#444" stroke-width="0.9" />
<line x1="193.6" y1="979" x2="193.6" y2="981.4" stroke="#444" stroke-width="0.9" />
<line x1="238.2" y1="979" x2="238.2" y2="981.4" stroke="#444" stroke-width="0.9" />
<text x="86.1" y="990.6" font-size="10.95" text-anchor="start" font-weight="normal" fill="#1a1a1a" >Baseline</text>
<text x="133.5" y="990.6" font-size="10.95" text-anchor="start" font-weight="normal" fill="#1a1a1a" >Month 3</text>
<text x="178.1" y="990.6" font-size="10.95" text-anchor="start" font-weight="normal" fill="#1a1a1a" >Month 6</text>
<text x="221.5" y="990.6" font-size="10.95" text-anchor="start" font-weight="normal" fill="#1a1a1a" >Month 12</text>
<text x="169.4" y="908.7" font-size="12.9" text-anchor="middle" font-weight="normal" fill="#1a1a1a" >Delta</text>
<line x1="104.4" y1="929.2" x2="104.4" y2="953.85" stroke="#984ea3" stroke-width="1.4" />
<line x1="102.8" y1="929.2" x2="106" y2="929.2" stroke="#984ea3" stroke-width="1.4" />
<line x1="102.8" y1="953.85" x2="106" y2="953.85" stroke="#984ea3" stroke-width="1.4" />
<line x1="149" y1="914.6" x2="149" y2="934.15" stroke="#984ea3" stroke-width="1.4" />
<line x1="147.4" y1="914.6" x2="150.6" y2="914.6" stroke="#984ea3" stroke-width="1.4" />
<line x1="147.4" y1="934.15" x2="150.6" y2="934.15" stroke="#984ea3" stroke-width="1.4" />
<line x1="193.6" y1="921.5" x2="193.6" y2="934.59" stroke="#984ea3" stroke-width="1.4" />
<line x1="192" y1="921.5" x2="195.2" y2="921.5" stroke="#984ea3" stroke-width="1.4" />
<line x1="192" y1="934.59" x2="195.2" y2="934.59" stroke="#984ea3" stroke-width="1.4" />
<line x1="238.2" y1="921" x2="238.2" y2="941.4" stroke="#984ea3" stroke-width="1.4" />
<line x1="236.6" y1="921" x2="239.8" y2="921" stroke="#984ea3" stroke-width="1.4" />
<line x1="236.6" y1="941.4" x2="239.8" y2="941.4" stroke="#984ea3" stroke-width="1.4" />
<line x1="104.4" y1="962" x2="104.4" y2="975.1" stroke="#984ea3" stroke-width="1.4" />
<line x1="102.8" y1="962" x2="106" y2="962" stroke="#984ea3" stroke-width="1.4" />
<line x1="102.8" y1="975.1" x2="106" y2="975.1" stroke="#984ea3" stroke-width="1.4" />
<line x1="149" y1="938.5" x2="149" y2="953.5" stroke="#984ea3" stroke-width="1.4" />
<line x1="147.4" y1="938.5" x2="150.6" y2="938.5" stroke="#984ea3" stroke-width="1.4" />
<line x1="147.4" y1="953.5" x2="150.6" y2="953.5" stroke="#984ea3" stroke-width="1.4" />
<line x1="193.6" y1="936.5" x2="193.6" y2="951.5" stroke="#984ea3" stroke-width="1.4" />
<line x1="192" y1="936.5" x2="195.2" y2="936.5" stroke="#984ea3" stroke-width="1.4" />
<line x1="192" y1="951.5" x2="195.2" y2="951.5" stroke="#984ea3" stroke-width="1.4" />
<line x1="238.2" y1="929.3" x2="238.2" y2="944.3" stroke="#984ea3" stroke-width="1.4" />
<line x1="236.6" y1="929.3" x2="239.8" y2="929.3" stroke="#984ea3" stroke-width="1.4" />
<line x1="236.6" y1="944.3" x2="239.8" y2="944.3" stroke="#984ea3" stroke-width="1.4" />
<line x1="104.4" y1="961.5" x2="104.4" y2="975.1" stroke="#984ea3" stroke-width="1.4" />
<line x1="102.8" y1="961.5" x2="106" y2="961.5" stroke="#984ea3" stroke-width="1.4" />
<line x1="102.8" y1="975.1" x2="106" y2="975.1" stroke="#984ea3" stroke-width="1.4" />
<line x1="149" y1="941.8" x2="149" y2="962.9" stroke="#984ea3" stroke-width="1.4" />
<line x1="147.4" y1="941.8" x2="150.6" y2="941.8" stroke="#984ea3" stroke-width="1.4" />
<line x1="147.4" y1="962.9" x2="150.6" y2="962.9" stroke="#984ea3" stroke-width="1.4" />
<line x1="193.6" y1="941.8" x2="193.6" y2="963.6" stroke="#984ea3" stroke-width="1.4" />
<line x1="192" y1="941.8" x2="195.2" y2="941.8" stroke="#984ea3" stroke-width="1.4" />
<line x1="192" y1="963.6" x2="195.2" y2="963.6" stroke="#984ea3" stroke-width="1.4" />
<line x1="238.2" y1="937.5" x2="238.2" y2="961.9" stroke="#984ea3" stroke-width="1.4" />
<line x1="236.6" y1="937.5" x2="239.8" y2="937.5" stroke="#984ea3" stroke-width="1.4" />
<line x1="236.6" y1="961.9" x2="239.8" y2="961.9" stroke="#984ea3" stroke-width="1.4" />
<polyline points="104.4,943.7 149,926.1 193.6,929.2 238.2,933" fill="none" stroke="#984ea3" stroke-width="1.5" stroke-dasharray="5.4,3.8"/>
<circle cx="104.4" cy="943.7" r="1.9" fill="#984ea3"/>
<circle cx="149" cy="926.1" r="1.9" fill="#984ea3"/>
<circle cx="193.6" cy="929.2" r="1.9" fill="#984ea3"/>
<circle cx="238.2" cy="933" r="1.9" fill="#984ea3"/>
<polyline points="104.4,970 149,946.5 193.6,944.5 238.2,937.3" fill="none" stroke="#984ea3" stroke-width="1.5" />
<rect x="102.6" y="968.2" width="3.6" height="3.6" fill="#984ea3"/>
<rect x="147.2" y="944.7" width="3.6" height="3.6" fill="#984ea3"/>
<rect x="191.8" y="942.7" width="3.6" height="3.6" fill="#984ea3"/>
<rect x="236.4" y="935.5" width="3.6" height="3.6" fill="#984ea3"/>
<polyline points="104.4,968.5 149,948.8 193.6,948.8 238.2,944.5" fill="none" stroke="#984ea3" stroke-width="1.5" stroke-dasharray="2.4,2.2"/>
<circle cx="104.4" cy="968.5" r="1.9" fill="#984ea3"/>
<circle cx="149" cy="948.8" r="1.9" fill="#984ea3"/>
<circle cx="193.6" cy="948.8" r="1.9" fill="#984ea3"/>
<circle cx="238.2" cy="944.5" r="1.9" fill="#984ea3"/>
<polygon points="104.40,919.15 104.99,920.69 106.63,920.77 105.35,921.81 105.78,923.40 104.40,922.50 103.02,923.40 103.45,921.81 102.17,920.77 103.81,920.69" fill="#111"/>
<polygon points="149.00,906.35 149.59,907.89 151.23,907.97 149.95,909.01 150.38,910.60 149.00,909.70 147.62,910.60 148.05,909.01 146.77,907.97 148.41,907.89" fill="#111"/>
<polygon points="193.60,912.75 194.19,914.29 195.83,914.37 194.55,915.41 194.98,917.00 193.60,916.10 192.22,917.00 192.65,915.41 191.37,914.37 193.01,914.29" fill="#111"/>
<line x1="312.7" y1="901" x2="312.7" y2="979" stroke="#e9e9e9" stroke-width="0.9" stroke-dasharray="4.5,3.5"/>
<line x1="357.6" y1="901" x2="357.6" y2="979" stroke="#e9e9e9" stroke-width="0.9" stroke-dasharray="4.5,3.5"/>
<line x1="402.9" y1="901" x2="402.9" y2="979" stroke="#e9e9e9" stroke-width="0.9" stroke-dasharray="4.5,3.5"/>
<line x1="447.6" y1="901" x2="447.6" y2="979" stroke="#e9e9e9" stroke-width="0.9" stroke-dasharray="4.5,3.5"/>
<line x1="293.6" y1="901" x2="293.6" y2="979.5" stroke="#8c8c8c" stroke-width="1.2" />
<line x1="293.1" y1="979" x2="466" y2="979" stroke="#8c8c8c" stroke-width="1.2" />
<line x1="291.3" y1="905" x2="293.6" y2="905" stroke="#444" stroke-width="0.9" />
<text x="291" y="908.7" font-size="10.5" text-anchor="end" font-weight="normal" fill="#1a1a1a" >[&gt;2560]</text>
<line x1="291.3" y1="919.8" x2="293.6" y2="919.8" stroke="#444" stroke-width="0.9" />
<text x="291" y="923.5" font-size="10.5" text-anchor="end" font-weight="normal" fill="#1a1a1a" >1024</text>
<line x1="291.3" y1="940.8" x2="293.6" y2="940.8" stroke="#444" stroke-width="0.9" />
<text x="291" y="944.5" font-size="10.5" text-anchor="end" font-weight="normal" fill="#1a1a1a" >256</text>
<line x1="291.3" y1="962.6" x2="293.6" y2="962.6" stroke="#444" stroke-width="0.9" />
<text x="291" y="966.3" font-size="10.5" text-anchor="end" font-weight="normal" fill="#1a1a1a" >64</text>
<line x1="291.3" y1="970.4" x2="293.6" y2="970.4" stroke="#444" stroke-width="0.9" />
<text x="291" y="974.1" font-size="10.5" text-anchor="end" font-weight="normal" fill="#1a1a1a" >[&lt;40]</text>
<line x1="291.3" y1="977.5" x2="293.6" y2="977.5" stroke="#444" stroke-width="0.9" />
<text x="291" y="981.2" font-size="10.5" text-anchor="end" font-weight="normal" fill="#1a1a1a" >[0]</text>
<line x1="312.7" y1="979" x2="312.7" y2="981.4" stroke="#444" stroke-width="0.9" />
<line x1="357.6" y1="979" x2="357.6" y2="981.4" stroke="#444" stroke-width="0.9" />
<line x1="402.9" y1="979" x2="402.9" y2="981.4" stroke="#444" stroke-width="0.9" />
<line x1="447.6" y1="979" x2="447.6" y2="981.4" stroke="#444" stroke-width="0.9" />
<text x="294.1" y="990.6" font-size="10.95" text-anchor="start" font-weight="normal" fill="#1a1a1a" >Baseline</text>
<text x="341.6" y="990.6" font-size="10.95" text-anchor="start" font-weight="normal" fill="#1a1a1a" >Month 3</text>
<text x="386.1" y="990.6" font-size="10.95" text-anchor="start" font-weight="normal" fill="#1a1a1a" >Month 6</text>
<text x="429.1" y="990.6" font-size="10.95" text-anchor="start" font-weight="normal" fill="#1a1a1a" >Month 12</text>
<text x="383.7" y="909.5" font-size="12.9" text-anchor="middle" font-weight="normal" fill="#1a1a1a" >Omicron BA.2</text>
<line x1="312.7" y1="932.2" x2="312.7" y2="956.17" stroke="#ff7f00" stroke-width="1.4" />
<line x1="311.1" y1="932.2" x2="314.3" y2="932.2" stroke="#ff7f00" stroke-width="1.4" />
<line x1="311.1" y1="956.17" x2="314.3" y2="956.17" stroke="#ff7f00" stroke-width="1.4" />
<line x1="357.6" y1="928.4" x2="357.6" y2="938.43" stroke="#ff7f00" stroke-width="1.4" />
<line x1="356" y1="928.4" x2="359.2" y2="928.4" stroke="#ff7f00" stroke-width="1.4" />
<line x1="356" y1="938.43" x2="359.2" y2="938.43" stroke="#ff7f00" stroke-width="1.4" />
<line x1="402.9" y1="929.2" x2="402.9" y2="938.3" stroke="#ff7f00" stroke-width="1.4" />
<line x1="401.3" y1="929.2" x2="404.5" y2="929.2" stroke="#ff7f00" stroke-width="1.4" />
<line x1="401.3" y1="938.3" x2="404.5" y2="938.3" stroke="#ff7f00" stroke-width="1.4" />
<line x1="447.6" y1="926.6" x2="447.6" y2="939.69" stroke="#ff7f00" stroke-width="1.4" />
<line x1="446" y1="926.6" x2="449.2" y2="926.6" stroke="#ff7f00" stroke-width="1.4" />
<line x1="446" y1="939.69" x2="449.2" y2="939.69" stroke="#ff7f00" stroke-width="1.4" />
<line x1="312.7" y1="955.6" x2="312.7" y2="970.6" stroke="#ff7f00" stroke-width="1.4" />
<line x1="311.1" y1="955.6" x2="314.3" y2="955.6" stroke="#ff7f00" stroke-width="1.4" />
<line x1="311.1" y1="970.6" x2="314.3" y2="970.6" stroke="#ff7f00" stroke-width="1.4" />
<line x1="357.6" y1="940.3" x2="357.6" y2="955.3" stroke="#ff7f00" stroke-width="1.4" />
<line x1="356" y1="940.3" x2="359.2" y2="940.3" stroke="#ff7f00" stroke-width="1.4" />
<line x1="356" y1="955.3" x2="359.2" y2="955.3" stroke="#ff7f00" stroke-width="1.4" />
<line x1="402.9" y1="938.3" x2="402.9" y2="953.3" stroke="#ff7f00" stroke-width="1.4" />
<line x1="401.3" y1="938.3" x2="404.5" y2="938.3" stroke="#ff7f00" stroke-width="1.4" />
<line x1="401.3" y1="953.3" x2="404.5" y2="953.3" stroke="#ff7f00" stroke-width="1.4" />
<line x1="447.6" y1="924.2" x2="447.6" y2="939.2" stroke="#ff7f00" stroke-width="1.4" />
<line x1="446" y1="924.2" x2="449.2" y2="924.2" stroke="#ff7f00" stroke-width="1.4" />
<line x1="446" y1="939.2" x2="449.2" y2="939.2" stroke="#ff7f00" stroke-width="1.4" />
<line x1="312.7" y1="963.8" x2="312.7" y2="975.1" stroke="#ff7f00" stroke-width="1.4" />
<line x1="311.1" y1="963.8" x2="314.3" y2="963.8" stroke="#ff7f00" stroke-width="1.4" />
<line x1="311.1" y1="975.1" x2="314.3" y2="975.1" stroke="#ff7f00" stroke-width="1.4" />
<line x1="357.6" y1="945.9" x2="357.6" y2="961.9" stroke="#ff7f00" stroke-width="1.4" />
<line x1="356" y1="945.9" x2="359.2" y2="945.9" stroke="#ff7f00" stroke-width="1.4" />
<line x1="356" y1="961.9" x2="359.2" y2="961.9" stroke="#ff7f00" stroke-width="1.4" />
<line x1="402.9" y1="944.4" x2="402.9" y2="960.3" stroke="#ff7f00" stroke-width="1.4" />
<line x1="401.3" y1="944.4" x2="404.5" y2="944.4" stroke="#ff7f00" stroke-width="1.4" />
<line x1="401.3" y1="960.3" x2="404.5" y2="960.3" stroke="#ff7f00" stroke-width="1.4" />
<line x1="447.6" y1="942.1" x2="447.6" y2="961.9" stroke="#ff7f00" stroke-width="1.4" />
<line x1="446" y1="942.1" x2="449.2" y2="942.1" stroke="#ff7f00" stroke-width="1.4" />
<line x1="446" y1="961.9" x2="449.2" y2="961.9" stroke="#ff7f00" stroke-width="1.4" />
<polyline points="312.7,946.3 357.6,934.3 402.9,934.3 447.6,934.3" fill="none" stroke="#ff7f00" stroke-width="1.5" stroke-dasharray="5.4,3.8"/>
<circle cx="312.7" cy="946.3" r="1.9" fill="#ff7f00"/>
<circle cx="357.6" cy="934.3" r="1.9" fill="#ff7f00"/>
<circle cx="402.9" cy="934.3" r="1.9" fill="#ff7f00"/>
<circle cx="447.6" cy="934.3" r="1.9" fill="#ff7f00"/>
<polyline points="312.7,963.6 357.6,948.3 402.9,946.3 447.6,932.2" fill="none" stroke="#ff7f00" stroke-width="1.5" />
<rect x="310.9" y="961.8" width="3.6" height="3.6" fill="#ff7f00"/>
<rect x="355.8" y="946.5" width="3.6" height="3.6" fill="#ff7f00"/>
<rect x="401.1" y="944.5" width="3.6" height="3.6" fill="#ff7f00"/>
<rect x="445.8" y="930.4" width="3.6" height="3.6" fill="#ff7f00"/>
<polyline points="312.7,970.8 357.6,952.9 402.9,951.4 447.6,949.1" fill="none" stroke="#ff7f00" stroke-width="1.5" stroke-dasharray="2.4,2.2"/>
<circle cx="312.7" cy="970.8" r="1.9" fill="#ff7f00"/>
<circle cx="357.6" cy="952.9" r="1.9" fill="#ff7f00"/>
<circle cx="402.9" cy="951.4" r="1.9" fill="#ff7f00"/>
<circle cx="447.6" cy="949.1" r="1.9" fill="#ff7f00"/>
<polygon points="310.00,924.75 310.59,926.29 312.23,926.37 310.95,927.41 311.38,929.00 310.00,928.10 308.62,929.00 309.05,927.41 307.77,926.37 309.41,926.29" fill="#111"/>
<polyline points="313.10,930.10 315.30,925.30 317.50,930.10" fill="none" stroke="#111" stroke-width="1.1"/>
<polygon points="357.60,920.45 358.19,921.99 359.83,922.07 358.55,923.11 358.98,924.70 357.60,923.80 356.22,924.70 356.65,923.11 355.37,922.07 357.01,921.99" fill="#111"/>
<polygon points="400.20,920.45 400.79,921.99 402.43,922.07 401.15,923.11 401.58,924.70 400.20,923.80 398.82,924.70 399.25,923.11 397.97,922.07 399.61,921.99" fill="#111"/>
<polyline points="403.30,925.80 405.50,921.00 407.70,925.80" fill="none" stroke="#111" stroke-width="1.1"/>
<polyline points="445.40,923.40 447.60,918.60 449.80,923.40" fill="none" stroke="#111" stroke-width="1.1"/>
<line x1="522.9" y1="896.4" x2="522.9" y2="979.5" stroke="#e9e9e9" stroke-width="0.9" stroke-dasharray="4.5,3.5"/>
<line x1="568.2" y1="896.4" x2="568.2" y2="979.5" stroke="#e9e9e9" stroke-width="0.9" stroke-dasharray="4.5,3.5"/>
<line x1="612.9" y1="896.4" x2="612.9" y2="979.5" stroke="#e9e9e9" stroke-width="0.9" stroke-dasharray="4.5,3.5"/>
<line x1="657.6" y1="896.4" x2="657.6" y2="979.5" stroke="#e9e9e9" stroke-width="0.9" stroke-dasharray="4.5,3.5"/>
<line x1="503.7" y1="896.4" x2="503.7" y2="980" stroke="#8c8c8c" stroke-width="1.2" />
<line x1="503.2" y1="979.5" x2="676" y2="979.5" stroke="#8c8c8c" stroke-width="1.2" />
<line x1="501.4" y1="905.6" x2="503.7" y2="905.6" stroke="#444" stroke-width="0.9" />
<text x="501.1" y="909.3" font-size="10.5" text-anchor="end" font-weight="normal" fill="#1a1a1a" >[&gt;2560]</text>
<line x1="501.4" y1="920.4" x2="503.7" y2="920.4" stroke="#444" stroke-width="0.9" />
<text x="501.1" y="924.1" font-size="10.5" text-anchor="end" font-weight="normal" fill="#1a1a1a" >1024</text>
<line x1="501.4" y1="940.4" x2="503.7" y2="940.4" stroke="#444" stroke-width="0.9" />
<text x="501.1" y="944.1" font-size="10.5" text-anchor="end" font-weight="normal" fill="#1a1a1a" >256</text>
<line x1="501.4" y1="963.6" x2="503.7" y2="963.6" stroke="#444" stroke-width="0.9" />
<text x="501.1" y="967.3" font-size="10.5" text-anchor="end" font-weight="normal" fill="#1a1a1a" >64</text>
<line x1="501.4" y1="971" x2="503.7" y2="971" stroke="#444" stroke-width="0.9" />
<text x="501.1" y="974.7" font-size="10.5" text-anchor="end" font-weight="normal" fill="#1a1a1a" >[&lt;40]</text>
<line x1="501.4" y1="978" x2="503.7" y2="978" stroke="#444" stroke-width="0.9" />
<text x="501.1" y="981.7" font-size="10.5" text-anchor="end" font-weight="normal" fill="#1a1a1a" >[0]</text>
<line x1="522.9" y1="979.5" x2="522.9" y2="981.9" stroke="#444" stroke-width="0.9" />
<line x1="568.2" y1="979.5" x2="568.2" y2="981.9" stroke="#444" stroke-width="0.9" />
<line x1="612.9" y1="979.5" x2="612.9" y2="981.9" stroke="#444" stroke-width="0.9" />
<line x1="657.6" y1="979.5" x2="657.6" y2="981.9" stroke="#444" stroke-width="0.9" />
<text x="504.1" y="990.6" font-size="10.95" text-anchor="start" font-weight="normal" fill="#1a1a1a" >Baseline</text>
<text x="551.1" y="990.6" font-size="10.95" text-anchor="start" font-weight="normal" fill="#1a1a1a" >Month 3</text>
<text x="596.1" y="990.6" font-size="10.95" text-anchor="start" font-weight="normal" fill="#1a1a1a" >Month 6</text>
<text x="638.7" y="990.6" font-size="10.95" text-anchor="start" font-weight="normal" fill="#1a1a1a" >Month 12</text>
<text x="592.4" y="909.5" font-size="12.9" text-anchor="middle" font-weight="normal" fill="#1a1a1a" >XBB.1.5</text>
<line x1="522.9" y1="951.4" x2="522.9" y2="968.74" stroke="#e6606a" stroke-width="1.4" />
<line x1="521.3" y1="951.4" x2="524.5" y2="951.4" stroke="#e6606a" stroke-width="1.4" />
<line x1="521.3" y1="968.74" x2="524.5" y2="968.74" stroke="#e6606a" stroke-width="1.4" />
<line x1="568.2" y1="947" x2="568.2" y2="954.9" stroke="#e6606a" stroke-width="1.4" />
<line x1="566.6" y1="947" x2="569.8" y2="947" stroke="#e6606a" stroke-width="1.4" />
<line x1="566.6" y1="954.9" x2="569.8" y2="954.9" stroke="#e6606a" stroke-width="1.4" />
<line x1="612.9" y1="948.3" x2="612.9" y2="962.24" stroke="#e6606a" stroke-width="1.4" />
<line x1="611.3" y1="948.3" x2="614.5" y2="948.3" stroke="#e6606a" stroke-width="1.4" />
<line x1="611.3" y1="962.24" x2="614.5" y2="962.24" stroke="#e6606a" stroke-width="1.4" />
<line x1="657.6" y1="943.7" x2="657.6" y2="958.15" stroke="#e6606a" stroke-width="1.4" />
<line x1="656" y1="943.7" x2="659.2" y2="943.7" stroke="#e6606a" stroke-width="1.4" />
<line x1="656" y1="958.15" x2="659.2" y2="958.15" stroke="#e6606a" stroke-width="1.4" />
<line x1="522.9" y1="963.3" x2="522.9" y2="976.4" stroke="#e6606a" stroke-width="1.4" />
<line x1="521.3" y1="963.3" x2="524.5" y2="963.3" stroke="#e6606a" stroke-width="1.4" />
<line x1="521.3" y1="976.4" x2="524.5" y2="976.4" stroke="#e6606a" stroke-width="1.4" />
<line x1="568.2" y1="951.8" x2="568.2" y2="966.8" stroke="#e6606a" stroke-width="1.4" />
<line x1="566.6" y1="951.8" x2="569.8" y2="951.8" stroke="#e6606a" stroke-width="1.4" />
<line x1="566.6" y1="966.8" x2="569.8" y2="966.8" stroke="#e6606a" stroke-width="1.4" />
<line x1="612.9" y1="952.3" x2="612.9" y2="967.3" stroke="#e6606a" stroke-width="1.4" />
<line x1="611.3" y1="952.3" x2="614.5" y2="952.3" stroke="#e6606a" stroke-width="1.4" />
<line x1="611.3" y1="967.3" x2="614.5" y2="967.3" stroke="#e6606a" stroke-width="1.4" />
<line x1="657.6" y1="941.1" x2="657.6" y2="956.1" stroke="#e6606a" stroke-width="1.4" />
<line x1="656" y1="941.1" x2="659.2" y2="941.1" stroke="#e6606a" stroke-width="1.4" />
<line x1="656" y1="956.1" x2="659.2" y2="956.1" stroke="#e6606a" stroke-width="1.4" />
<polyline points="522.9,961.6 568.2,950.9 612.9,956.5 657.6,952.2" fill="none" stroke="#e6606a" stroke-width="1.5" stroke-dasharray="5.4,3.8"/>
<circle cx="522.9" cy="961.6" r="1.9" fill="#e6606a"/>
<circle cx="568.2" cy="950.9" r="1.9" fill="#e6606a"/>
<circle cx="612.9" cy="956.5" r="1.9" fill="#e6606a"/>
<circle cx="657.6" cy="952.2" r="1.9" fill="#e6606a"/>
<polyline points="522.9,971.3 568.2,959.8 612.9,960.3 657.6,949.1" fill="none" stroke="#e6606a" stroke-width="1.5" />
<rect x="521.1" y="969.5" width="3.6" height="3.6" fill="#e6606a"/>
<rect x="566.4" y="958" width="3.6" height="3.6" fill="#e6606a"/>
<rect x="611.1" y="958.5" width="3.6" height="3.6" fill="#e6606a"/>
<rect x="655.8" y="947.3" width="3.6" height="3.6" fill="#e6606a"/>
<polygon points="522.90,942.95 523.49,944.49 525.13,944.57 523.85,945.61 524.28,947.20 522.90,946.30 521.52,947.20 521.95,945.61 520.67,944.57 522.31,944.49" fill="#111"/>
<polygon points="568.20,938.35 568.79,939.89 570.43,939.97 569.15,941.01 569.58,942.60 568.20,941.70 566.82,942.60 567.25,941.01 565.97,939.97 567.61,939.89" fill="#111"/>
<rect x="461" y="897" width="5.8" height="14" fill="#fff"/>
<text x="0" y="0" transform="translate(34.6,967.3) rotate(-90)" font-size="12.8" fill="#1a1a1a">Viral Neutralisation, IC<tspan dx="1.4" dy="2.6">50</tspan></text>
<line x1="92.4" y1="1002.4" x2="111.4" y2="1002.4" stroke="#111" stroke-width="1.4" />
<rect x="100.6" y="1000.6" width="3.6" height="3.6" fill="#111"/>
<text x="114.6" y="1006.2" font-size="12.65" text-anchor="start" font-weight="normal" fill="#1a1a1a" >HERITAGE aNN</text>
<line x1="229" y1="1002.4" x2="248" y2="1002.4" stroke="#111" stroke-width="1.4" stroke-dasharray="4.2,3.4"/>
<circle cx="238.5" cy="1002.4" r="1.9" fill="#111"/>
<text x="249.4" y="1006.2" font-size="12.65" text-anchor="start" font-weight="normal" fill="#1a1a1a" >HERITAGE aNP</text>
<line x1="364.4" y1="1002.4" x2="383.6" y2="1002.4" stroke="#111" stroke-width="1.4" stroke-dasharray="2.4,2.2"/>
<circle cx="373.8" cy="1002.4" r="1.9" fill="#111"/>
<text x="387" y="1006.2" font-size="12.65" text-anchor="start" font-weight="normal" fill="#1a1a1a" >LEGACY</text>
</svg>
</body></html>
